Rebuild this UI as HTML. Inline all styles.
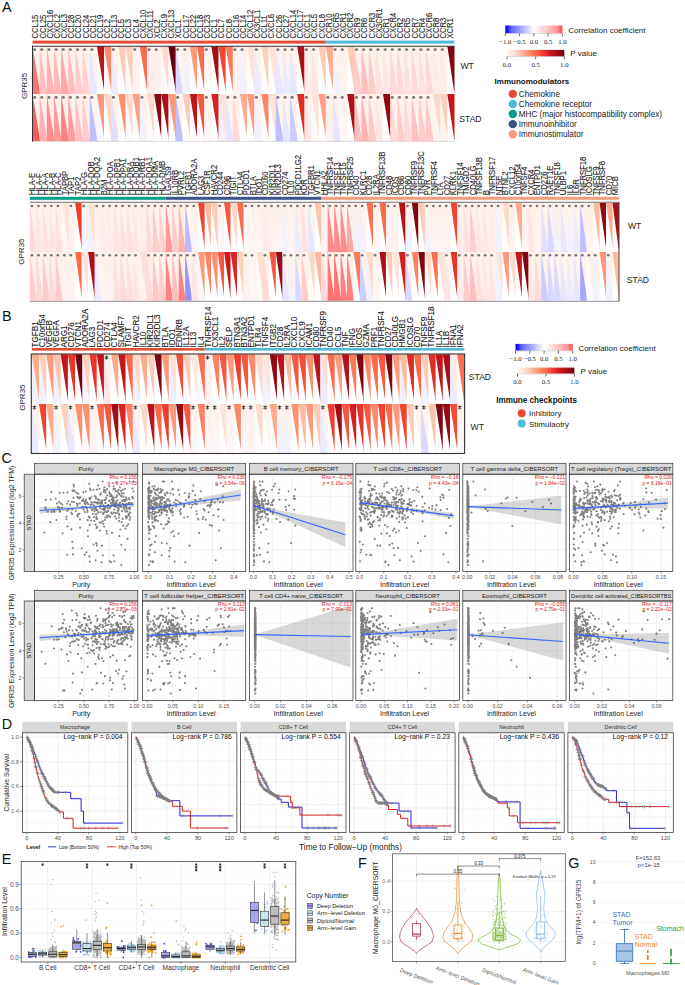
<!DOCTYPE html>
<html><head><meta charset="utf-8"><style>
html,body{margin:0;padding:0;background:#fff;width:685px;height:985px;overflow:hidden}
svg{display:block}
</style></head><body>
<svg width="685" height="985" viewBox="0 0 685 985" font-family="'Liberation Sans', sans-serif">
<rect width="685" height="985" fill="#fff"/>
<text x="2.0" y="11.8" font-family='Liberation Sans' font-size="14.4" fill="#111">A</text>
<g font-family='Liberation Sans' font-size="8.5" fill="#1a1a1a" stroke="#1a1a1a" stroke-width="0.1">
<text transform="translate(38.44,38.6) rotate(-90) scale(0.9,1)">CCL15</text>
<text transform="translate(45.59,38.6) rotate(-90) scale(0.9,1)">CCL25</text>
<text transform="translate(52.74,38.6) rotate(-90) scale(0.9,1)">CXCL16</text>
<text transform="translate(59.89,38.6) rotate(-90) scale(0.9,1)">CXCL2</text>
<text transform="translate(67.05,38.6) rotate(-90) scale(0.9,1)">CXCL3</text>
<text transform="translate(74.2,38.6) rotate(-90) scale(0.9,1)">CCL28</text>
<text transform="translate(81.35,38.6) rotate(-90) scale(0.9,1)">CCL20</text>
<text transform="translate(88.5,38.6) rotate(-90) scale(0.9,1)">CCL24</text>
<text transform="translate(95.66,38.6) rotate(-90) scale(0.9,1)">CCL21</text>
<text transform="translate(102.81,38.6) rotate(-90) scale(0.9,1)">CCL19</text>
<text transform="translate(109.96,38.6) rotate(-90) scale(0.9,1)">CCL2</text>
<text transform="translate(117.11,38.6) rotate(-90) scale(0.9,1)">CCL13</text>
<text transform="translate(124.27,38.6) rotate(-90) scale(0.9,1)">CCL5</text>
<text transform="translate(131.42,38.6) rotate(-90) scale(0.9,1)">CCL3</text>
<text transform="translate(138.57,38.6) rotate(-90) scale(0.9,1)">CCL4</text>
<text transform="translate(145.72,38.6) rotate(-90) scale(0.9,1)">CXCL10</text>
<text transform="translate(152.88,38.6) rotate(-90) scale(0.9,1)">CXCL11</text>
<text transform="translate(160.03,38.6) rotate(-90) scale(0.9,1)">XCL2</text>
<text transform="translate(167.18,38.6) rotate(-90) scale(0.9,1)">CXCL9</text>
<text transform="translate(174.33,38.6) rotate(-90) scale(0.9,1)">CXCL13</text>
<text transform="translate(181.49,38.6) rotate(-90) scale(0.9,1)">XCL1</text>
<text transform="translate(188.64,38.6) rotate(-90) scale(0.9,1)">CCL17</text>
<text transform="translate(195.79,38.6) rotate(-90) scale(0.9,1)">CCL22</text>
<text transform="translate(202.94,38.6) rotate(-90) scale(0.9,1)">CCL18</text>
<text transform="translate(210.1,38.6) rotate(-90) scale(0.9,1)">CCL23</text>
<text transform="translate(217.25,38.6) rotate(-90) scale(0.9,1)">CCL1</text>
<text transform="translate(224.4,38.6) rotate(-90) scale(0.9,1)">CCL7</text>
<text transform="translate(231.55,38.6) rotate(-90) scale(0.9,1)">CCL8</text>
<text transform="translate(238.71,38.6) rotate(-90) scale(0.9,1)">CCL16</text>
<text transform="translate(245.86,38.6) rotate(-90) scale(0.9,1)">CCL14</text>
<text transform="translate(253.01,38.6) rotate(-90) scale(0.9,1)">CXCL12</text>
<text transform="translate(260.17,38.6) rotate(-90) scale(0.9,1)">CX3CL1</text>
<text transform="translate(267.32,38.6) rotate(-90) scale(0.9,1)">CCL11</text>
<text transform="translate(274.47,38.6) rotate(-90) scale(0.9,1)">CXCL6</text>
<text transform="translate(281.62,38.6) rotate(-90) scale(0.9,1)">CCL26</text>
<text transform="translate(288.78,38.6) rotate(-90) scale(0.9,1)">CCL27</text>
<text transform="translate(295.93,38.6) rotate(-90) scale(0.9,1)">CXCL14</text>
<text transform="translate(303.08,38.6) rotate(-90) scale(0.9,1)">CXCL17</text>
<text transform="translate(310.23,38.6) rotate(-90) scale(0.9,1)">CXCL1</text>
<text transform="translate(317.39,38.6) rotate(-90) scale(0.9,1)">CXCL5</text>
<text transform="translate(324.54,38.6) rotate(-90) scale(0.9,1)">CXCL8</text>
<text transform="translate(331.69,38.6) rotate(-90) scale(0.9,1)">CCR10</text>
<text transform="translate(338.84,38.6) rotate(-90) scale(0.9,1)">CXCR5</text>
<text transform="translate(346,38.6) rotate(-90) scale(0.9,1)">CXCR1</text>
<text transform="translate(353.15,38.6) rotate(-90) scale(0.9,1)">CXCR2</text>
<text transform="translate(360.3,38.6) rotate(-90) scale(0.9,1)">CCR9</text>
<text transform="translate(367.45,38.6) rotate(-90) scale(0.9,1)">CCR6</text>
<text transform="translate(374.61,38.6) rotate(-90) scale(0.9,1)">CXCR3</text>
<text transform="translate(381.76,38.6) rotate(-90) scale(0.9,1)">CX3CR1</text>
<text transform="translate(388.91,38.6) rotate(-90) scale(0.9,1)">CCR1</text>
<text transform="translate(396.06,38.6) rotate(-90) scale(0.9,1)">CXCR4</text>
<text transform="translate(403.22,38.6) rotate(-90) scale(0.9,1)">CCR2</text>
<text transform="translate(410.37,38.6) rotate(-90) scale(0.9,1)">CCR5</text>
<text transform="translate(417.52,38.6) rotate(-90) scale(0.9,1)">CCR7</text>
<text transform="translate(424.67,38.6) rotate(-90) scale(0.9,1)">CCR4</text>
<text transform="translate(431.83,38.6) rotate(-90) scale(0.9,1)">CXCR6</text>
<text transform="translate(438.98,38.6) rotate(-90) scale(0.9,1)">CCR8</text>
<text transform="translate(446.13,38.6) rotate(-90) scale(0.9,1)">CCR3</text>
<text transform="translate(453.28,38.6) rotate(-90) scale(0.9,1)">XCR1</text>
</g>
<rect x="32.5" y="40.6" width="293.25" height="3" fill="#E64B35"/>
<rect x="325.75" y="40.6" width="128.75" height="3" fill="#4DBBD5"/>
<rect x="32.5" y="46.2" width="7.75" height="48.3" fill="#ff7373"/>
<polygon points="32.5,46.2 40.25,46.2 40.25,94" fill="#fff2eb"/>
<rect x="39.65" y="46.2" width="7.75" height="48.3" fill="#ffbfbf"/>
<polygon points="39.65,46.2 47.41,46.2 47.41,94" fill="#fff2eb"/>
<rect x="46.81" y="46.2" width="7.75" height="48.3" fill="#ffb2b2"/>
<polygon points="46.81,46.2 54.56,46.2 54.56,94" fill="#fff2eb"/>
<rect x="53.96" y="46.2" width="7.75" height="48.3" fill="#ffb8b8"/>
<polygon points="53.96,46.2 61.71,46.2 61.71,94" fill="#fff2eb"/>
<rect x="61.11" y="46.2" width="7.75" height="48.3" fill="#ffa6a6"/>
<polygon points="61.11,46.2 68.86,46.2 68.86,94" fill="#fff2eb"/>
<rect x="68.26" y="46.2" width="7.75" height="48.3" fill="#ffbfbf"/>
<polygon points="68.26,46.2 76.02,46.2 76.02,94" fill="#fff2eb"/>
<rect x="75.42" y="46.2" width="7.75" height="48.3" fill="#ffcccc"/>
<polygon points="75.42,46.2 83.17,46.2 83.17,94" fill="#fff2eb"/>
<rect x="82.57" y="46.2" width="7.75" height="48.3" fill="#ffd1d1"/>
<polygon points="82.57,46.2 90.32,46.2 90.32,94" fill="#fff2eb"/>
<rect x="89.72" y="46.2" width="7.75" height="48.3" fill="#e6e6ff"/>
<polygon points="89.72,46.2 97.47,46.2 97.47,94" fill="#fff2eb"/>
<rect x="96.87" y="46.2" width="7.75" height="48.3" fill="#ffffff"/>
<polygon points="96.87,46.2 104.63,46.2 104.63,94" fill="#bc141a"/>
<rect x="104.03" y="46.2" width="7.75" height="48.3" fill="#fffafa"/>
<polygon points="104.03,46.2 111.78,46.2 111.78,94" fill="#fc8a6a"/>
<rect x="111.18" y="46.2" width="7.75" height="48.3" fill="#ebebff"/>
<polygon points="111.18,46.2 118.93,46.2 118.93,94" fill="#fff2eb"/>
<rect x="118.33" y="46.2" width="7.75" height="48.3" fill="#ffffff"/>
<polygon points="118.33,46.2 126.08,46.2 126.08,94" fill="#fdcab5"/>
<rect x="125.48" y="46.2" width="7.75" height="48.3" fill="#fffafa"/>
<polygon points="125.48,46.2 133.24,46.2 133.24,94" fill="#fdd0bc"/>
<rect x="132.64" y="46.2" width="7.75" height="48.3" fill="#fff2f2"/>
<polygon points="132.64,46.2 140.39,46.2 140.39,94" fill="#fff2eb"/>
<rect x="139.79" y="46.2" width="7.75" height="48.3" fill="#ffffff"/>
<polygon points="139.79,46.2 147.54,46.2 147.54,94" fill="#fb6a4a"/>
<rect x="146.94" y="46.2" width="7.75" height="48.3" fill="#ffebeb"/>
<polygon points="146.94,46.2 154.69,46.2 154.69,94" fill="#fff2eb"/>
<rect x="154.09" y="46.2" width="7.75" height="48.3" fill="#fff0f0"/>
<polygon points="154.09,46.2 161.85,46.2 161.85,94" fill="#fff2eb"/>
<rect x="161.25" y="46.2" width="7.75" height="48.3" fill="#fff7f7"/>
<polygon points="161.25,46.2 169,46.2 169,94" fill="#fed9c8"/>
<rect x="168.4" y="46.2" width="7.75" height="48.3" fill="#ffffff"/>
<polygon points="168.4,46.2 176.15,46.2 176.15,94" fill="#67000d"/>
<rect x="175.55" y="46.2" width="7.75" height="48.3" fill="#d9d9ff"/>
<polygon points="175.55,46.2 183.3,46.2 183.3,94" fill="#fff2eb"/>
<rect x="182.7" y="46.2" width="7.75" height="48.3" fill="#f2f2ff"/>
<polygon points="182.7,46.2 190.46,46.2 190.46,94" fill="#fff2eb"/>
<rect x="189.86" y="46.2" width="7.75" height="48.3" fill="#ffffff"/>
<polygon points="189.86,46.2 197.61,46.2 197.61,94" fill="#fc9a7b"/>
<rect x="197.01" y="46.2" width="7.75" height="48.3" fill="#ffffff"/>
<polygon points="197.01,46.2 204.76,46.2 204.76,94" fill="#fb6a4a"/>
<rect x="204.16" y="46.2" width="7.75" height="48.3" fill="#fffafa"/>
<polygon points="204.16,46.2 211.91,46.2 211.91,94" fill="#fff2eb"/>
<rect x="211.31" y="46.2" width="7.75" height="48.3" fill="#ffffff"/>
<polygon points="211.31,46.2 219.07,46.2 219.07,94" fill="#a30e15"/>
<rect x="218.47" y="46.2" width="7.75" height="48.3" fill="#ffffff"/>
<polygon points="218.47,46.2 226.22,46.2 226.22,94" fill="#f14432"/>
<rect x="225.62" y="46.2" width="7.75" height="48.3" fill="#ffffff"/>
<polygon points="225.62,46.2 233.37,46.2 233.37,94" fill="#fb7a5a"/>
<rect x="232.77" y="46.2" width="7.75" height="48.3" fill="#fff2f2"/>
<polygon points="232.77,46.2 240.52,46.2 240.52,94" fill="#fff2eb"/>
<rect x="239.92" y="46.2" width="7.75" height="48.3" fill="#f2f2ff"/>
<polygon points="239.92,46.2 247.68,46.2 247.68,94" fill="#fff2eb"/>
<rect x="247.08" y="46.2" width="7.75" height="48.3" fill="#ffffff"/>
<polygon points="247.08,46.2 254.83,46.2 254.83,94" fill="#fee1d3"/>
<rect x="254.23" y="46.2" width="7.75" height="48.3" fill="#ebebff"/>
<polygon points="254.23,46.2 261.98,46.2 261.98,94" fill="#fff2eb"/>
<rect x="261.38" y="46.2" width="7.75" height="48.3" fill="#ffffff"/>
<polygon points="261.38,46.2 269.13,46.2 269.13,94" fill="#fdd0bc"/>
<rect x="268.53" y="46.2" width="7.75" height="48.3" fill="#ffffff"/>
<polygon points="268.53,46.2 276.29,46.2 276.29,94" fill="#fee4d8"/>
<rect x="275.69" y="46.2" width="7.75" height="48.3" fill="#e6e6ff"/>
<polygon points="275.69,46.2 283.44,46.2 283.44,94" fill="#fff2eb"/>
<rect x="282.84" y="46.2" width="7.75" height="48.3" fill="#ebebff"/>
<polygon points="282.84,46.2 290.59,46.2 290.59,94" fill="#fff2eb"/>
<rect x="289.99" y="46.2" width="7.75" height="48.3" fill="#e6e6ff"/>
<polygon points="289.99,46.2 297.74,46.2 297.74,94" fill="#fff2eb"/>
<rect x="297.14" y="46.2" width="7.75" height="48.3" fill="#ffffff"/>
<polygon points="297.14,46.2 304.9,46.2 304.9,94" fill="#ad1117"/>
<rect x="304.3" y="46.2" width="7.75" height="48.3" fill="#ffebeb"/>
<polygon points="304.3,46.2 312.05,46.2 312.05,94" fill="#fff2eb"/>
<rect x="311.45" y="46.2" width="7.75" height="48.3" fill="#ffe6e6"/>
<polygon points="311.45,46.2 319.2,46.2 319.2,94" fill="#fff2eb"/>
<rect x="318.6" y="46.2" width="7.75" height="48.3" fill="#ffffff"/>
<polygon points="318.6,46.2 326.35,46.2 326.35,94" fill="#fdcab5"/>
<rect x="325.75" y="46.2" width="7.75" height="48.3" fill="#ffffff"/>
<polygon points="325.75,46.2 333.51,46.2 333.51,94" fill="#fcab8e"/>
<rect x="332.91" y="46.2" width="7.75" height="48.3" fill="#f2f2ff"/>
<polygon points="332.91,46.2 340.66,46.2 340.66,94" fill="#fff2eb"/>
<rect x="340.06" y="46.2" width="7.75" height="48.3" fill="#fff2f2"/>
<polygon points="340.06,46.2 347.81,46.2 347.81,94" fill="#fff2eb"/>
<rect x="347.21" y="46.2" width="7.75" height="48.3" fill="#ffffff"/>
<polygon points="347.21,46.2 354.96,46.2 354.96,94" fill="#fdcab5"/>
<rect x="354.36" y="46.2" width="7.75" height="48.3" fill="#ffcccc"/>
<polygon points="354.36,46.2 362.12,46.2 362.12,94" fill="#fff2eb"/>
<rect x="361.52" y="46.2" width="7.75" height="48.3" fill="#ffbfbf"/>
<polygon points="361.52,46.2 369.27,46.2 369.27,94" fill="#fff2eb"/>
<rect x="368.67" y="46.2" width="7.75" height="48.3" fill="#ffcccc"/>
<polygon points="368.67,46.2 376.42,46.2 376.42,94" fill="#fff2eb"/>
<rect x="375.82" y="46.2" width="7.75" height="48.3" fill="#ffe0e0"/>
<polygon points="375.82,46.2 383.57,46.2 383.57,94" fill="#fff2eb"/>
<rect x="382.97" y="46.2" width="7.75" height="48.3" fill="#ffe6e6"/>
<polygon points="382.97,46.2 390.73,46.2 390.73,94" fill="#fff2eb"/>
<rect x="390.13" y="46.2" width="7.75" height="48.3" fill="#ffd9d9"/>
<polygon points="390.13,46.2 397.88,46.2 397.88,94" fill="#fff2eb"/>
<rect x="397.28" y="46.2" width="7.75" height="48.3" fill="#ffd9d9"/>
<polygon points="397.28,46.2 405.03,46.2 405.03,94" fill="#fff2eb"/>
<rect x="404.43" y="46.2" width="7.75" height="48.3" fill="#ffe0e0"/>
<polygon points="404.43,46.2 412.18,46.2 412.18,94" fill="#fff2eb"/>
<rect x="411.58" y="46.2" width="7.75" height="48.3" fill="#ffd9d9"/>
<polygon points="411.58,46.2 419.34,46.2 419.34,94" fill="#fff2eb"/>
<rect x="418.74" y="46.2" width="7.75" height="48.3" fill="#ffe0e0"/>
<polygon points="418.74,46.2 426.49,46.2 426.49,94" fill="#fff2eb"/>
<rect x="425.89" y="46.2" width="7.75" height="48.3" fill="#ffd9d9"/>
<polygon points="425.89,46.2 433.64,46.2 433.64,94" fill="#fff2eb"/>
<rect x="433.04" y="46.2" width="7.75" height="48.3" fill="#ffebeb"/>
<polygon points="433.04,46.2 440.79,46.2 440.79,94" fill="#fff2eb"/>
<rect x="440.19" y="46.2" width="7.75" height="48.3" fill="#ffebeb"/>
<polygon points="440.19,46.2 447.95,46.2 447.95,94" fill="#fff2eb"/>
<rect x="447.35" y="46.2" width="7.15" height="48.3" fill="#ffffff"/>
<polygon points="447.35,46.2 454.5,46.2 454.5,94" fill="#800610"/>
<ellipse cx="34.65" cy="49.6" rx="1.57" ry="1.36" fill="#777"/>
<ellipse cx="41.8" cy="49.6" rx="1.57" ry="1.36" fill="#777"/>
<ellipse cx="48.96" cy="49.6" rx="1.57" ry="1.36" fill="#777"/>
<ellipse cx="56.11" cy="49.6" rx="1.57" ry="1.36" fill="#777"/>
<ellipse cx="63.26" cy="49.6" rx="1.57" ry="1.36" fill="#777"/>
<ellipse cx="70.41" cy="49.6" rx="1.57" ry="1.36" fill="#777"/>
<ellipse cx="77.57" cy="49.6" rx="1.57" ry="1.36" fill="#777"/>
<ellipse cx="84.72" cy="49.6" rx="1.57" ry="1.36" fill="#777"/>
<ellipse cx="91.87" cy="49.6" rx="1.57" ry="1.36" fill="#777"/>
<ellipse cx="113.33" cy="49.6" rx="1.57" ry="1.36" fill="#777"/>
<ellipse cx="134.79" cy="49.6" rx="1.57" ry="1.36" fill="#777"/>
<ellipse cx="149.09" cy="49.6" rx="1.57" ry="1.36" fill="#777"/>
<ellipse cx="156.24" cy="49.6" rx="1.57" ry="1.36" fill="#777"/>
<ellipse cx="177.7" cy="49.6" rx="1.57" ry="1.36" fill="#777"/>
<ellipse cx="184.85" cy="49.6" rx="1.57" ry="1.36" fill="#777"/>
<ellipse cx="206.31" cy="49.6" rx="1.57" ry="1.36" fill="#777"/>
<ellipse cx="234.92" cy="49.6" rx="1.57" ry="1.36" fill="#777"/>
<ellipse cx="242.07" cy="49.6" rx="1.57" ry="1.36" fill="#777"/>
<ellipse cx="256.38" cy="49.6" rx="1.57" ry="1.36" fill="#777"/>
<ellipse cx="277.84" cy="49.6" rx="1.57" ry="1.36" fill="#777"/>
<ellipse cx="284.99" cy="49.6" rx="1.57" ry="1.36" fill="#777"/>
<ellipse cx="292.14" cy="49.6" rx="1.57" ry="1.36" fill="#777"/>
<ellipse cx="306.45" cy="49.6" rx="1.57" ry="1.36" fill="#777"/>
<ellipse cx="313.6" cy="49.6" rx="1.57" ry="1.36" fill="#777"/>
<ellipse cx="335.06" cy="49.6" rx="1.57" ry="1.36" fill="#777"/>
<ellipse cx="342.21" cy="49.6" rx="1.57" ry="1.36" fill="#777"/>
<ellipse cx="356.51" cy="49.6" rx="1.57" ry="1.36" fill="#777"/>
<ellipse cx="363.67" cy="49.6" rx="1.57" ry="1.36" fill="#777"/>
<ellipse cx="370.82" cy="49.6" rx="1.57" ry="1.36" fill="#777"/>
<ellipse cx="377.97" cy="49.6" rx="1.57" ry="1.36" fill="#777"/>
<ellipse cx="385.12" cy="49.6" rx="1.57" ry="1.36" fill="#777"/>
<ellipse cx="392.28" cy="49.6" rx="1.57" ry="1.36" fill="#777"/>
<ellipse cx="399.43" cy="49.6" rx="1.57" ry="1.36" fill="#777"/>
<ellipse cx="406.58" cy="49.6" rx="1.57" ry="1.36" fill="#777"/>
<ellipse cx="413.73" cy="49.6" rx="1.57" ry="1.36" fill="#777"/>
<ellipse cx="420.89" cy="49.6" rx="1.57" ry="1.36" fill="#777"/>
<ellipse cx="428.04" cy="49.6" rx="1.57" ry="1.36" fill="#777"/>
<ellipse cx="435.19" cy="49.6" rx="1.57" ry="1.36" fill="#777"/>
<ellipse cx="442.34" cy="49.6" rx="1.57" ry="1.36" fill="#777"/>
<rect x="32.5" y="94" width="7.75" height="47.2" fill="#ff5959"/>
<polygon points="32.5,94 40.25,94 40.25,141.2" fill="#fff2eb"/>
<rect x="39.65" y="94" width="7.75" height="47.2" fill="#ffb2b2"/>
<polygon points="39.65,94 47.41,94 47.41,141.2" fill="#fff2eb"/>
<rect x="46.81" y="94" width="7.75" height="47.2" fill="#ff8c8c"/>
<polygon points="46.81,94 54.56,94 54.56,141.2" fill="#fff2eb"/>
<rect x="53.96" y="94" width="7.75" height="47.2" fill="#ff9999"/>
<polygon points="53.96,94 61.71,94 61.71,141.2" fill="#fff2eb"/>
<rect x="61.11" y="94" width="7.75" height="47.2" fill="#ff8080"/>
<polygon points="61.11,94 68.86,94 68.86,141.2" fill="#fff2eb"/>
<rect x="68.26" y="94" width="7.75" height="47.2" fill="#ff9e9e"/>
<polygon points="68.26,94 76.02,94 76.02,141.2" fill="#fff2eb"/>
<rect x="75.42" y="94" width="7.75" height="47.2" fill="#ffbfbf"/>
<polygon points="75.42,94 83.17,94 83.17,141.2" fill="#fff2eb"/>
<rect x="82.57" y="94" width="7.75" height="47.2" fill="#ffcccc"/>
<polygon points="82.57,94 90.32,94 90.32,141.2" fill="#fff2eb"/>
<rect x="89.72" y="94" width="7.75" height="47.2" fill="#bfbfff"/>
<polygon points="89.72,94 97.47,94 97.47,141.2" fill="#fff2eb"/>
<rect x="96.87" y="94" width="7.75" height="47.2" fill="#f7f7ff"/>
<polygon points="96.87,94 104.63,94 104.63,141.2" fill="#fc9a7b"/>
<rect x="104.03" y="94" width="7.75" height="47.2" fill="#ffffff"/>
<polygon points="104.03,94 111.78,94 111.78,141.2" fill="#fed9c8"/>
<rect x="111.18" y="94" width="7.75" height="47.2" fill="#e0e0ff"/>
<polygon points="111.18,94 118.93,94 118.93,141.2" fill="#fff2eb"/>
<rect x="118.33" y="94" width="7.75" height="47.2" fill="#ffffff"/>
<polygon points="118.33,94 126.08,94 126.08,141.2" fill="#fc9070"/>
<rect x="125.48" y="94" width="7.75" height="47.2" fill="#fafaff"/>
<polygon points="125.48,94 133.24,94 133.24,141.2" fill="#fed9c8"/>
<rect x="132.64" y="94" width="7.75" height="47.2" fill="#ffffff"/>
<polygon points="132.64,94 140.39,94 140.39,141.2" fill="#fca183"/>
<rect x="139.79" y="94" width="7.75" height="47.2" fill="#f2f2ff"/>
<polygon points="139.79,94 147.54,94 147.54,141.2" fill="#fff2eb"/>
<rect x="146.94" y="94" width="7.75" height="47.2" fill="#fffafa"/>
<polygon points="146.94,94 154.69,94 154.69,141.2" fill="#fed9c8"/>
<rect x="154.09" y="94" width="7.75" height="47.2" fill="#ffffff"/>
<polygon points="154.09,94 161.85,94 161.85,141.2" fill="#800610"/>
<rect x="161.25" y="94" width="7.75" height="47.2" fill="#ffffff"/>
<polygon points="161.25,94 169,94 169,141.2" fill="#ad1117"/>
<rect x="168.4" y="94" width="7.75" height="47.2" fill="#ffffff"/>
<polygon points="168.4,94 176.15,94 176.15,141.2" fill="#fc9a7b"/>
<rect x="175.55" y="94" width="7.75" height="47.2" fill="#bfbfff"/>
<polygon points="175.55,94 183.3,94 183.3,141.2" fill="#fff2eb"/>
<rect x="182.7" y="94" width="7.75" height="47.2" fill="#ffffff"/>
<polygon points="182.7,94 190.46,94 190.46,141.2" fill="#fdcab5"/>
<rect x="189.86" y="94" width="7.75" height="47.2" fill="#ffffff"/>
<polygon points="189.86,94 197.61,94 197.61,141.2" fill="#bc141a"/>
<rect x="197.01" y="94" width="7.75" height="47.2" fill="#ffffff"/>
<polygon points="197.01,94 204.76,94 204.76,141.2" fill="#f6573e"/>
<rect x="204.16" y="94" width="7.75" height="47.2" fill="#fff7f7"/>
<polygon points="204.16,94 211.91,94 211.91,141.2" fill="#fff2eb"/>
<rect x="211.31" y="94" width="7.75" height="47.2" fill="#ffffff"/>
<polygon points="211.31,94 219.07,94 219.07,141.2" fill="#d42021"/>
<rect x="218.47" y="94" width="7.75" height="47.2" fill="#f2f2ff"/>
<polygon points="218.47,94 226.22,94 226.22,141.2" fill="#fee4d8"/>
<rect x="225.62" y="94" width="7.75" height="47.2" fill="#e6e6ff"/>
<polygon points="225.62,94 233.37,94 233.37,141.2" fill="#fff2eb"/>
<rect x="232.77" y="94" width="7.75" height="47.2" fill="#ffd9d9"/>
<polygon points="232.77,94 240.52,94 240.52,141.2" fill="#fff2eb"/>
<rect x="239.92" y="94" width="7.75" height="47.2" fill="#ffffff"/>
<polygon points="239.92,94 247.68,94 247.68,141.2" fill="#fcab8e"/>
<rect x="247.08" y="94" width="7.75" height="47.2" fill="#ffffff"/>
<polygon points="247.08,94 254.83,94 254.83,141.2" fill="#fc9a7b"/>
<rect x="254.23" y="94" width="7.75" height="47.2" fill="#f2f2ff"/>
<polygon points="254.23,94 261.98,94 261.98,141.2" fill="#fff2eb"/>
<rect x="261.38" y="94" width="7.75" height="47.2" fill="#ffffff"/>
<polygon points="261.38,94 269.13,94 269.13,141.2" fill="#fc8464"/>
<rect x="268.53" y="94" width="7.75" height="47.2" fill="#ffffff"/>
<polygon points="268.53,94 276.29,94 276.29,141.2" fill="#fee4d8"/>
<rect x="275.69" y="94" width="7.75" height="47.2" fill="#bfbfff"/>
<polygon points="275.69,94 283.44,94 283.44,141.2" fill="#fff2eb"/>
<rect x="282.84" y="94" width="7.75" height="47.2" fill="#e6e6ff"/>
<polygon points="282.84,94 290.59,94 290.59,141.2" fill="#fff2eb"/>
<rect x="289.99" y="94" width="7.75" height="47.2" fill="#ccccff"/>
<polygon points="289.99,94 297.74,94 297.74,141.2" fill="#fff2eb"/>
<rect x="297.14" y="94" width="7.75" height="47.2" fill="#ffffff"/>
<polygon points="297.14,94 304.9,94 304.9,141.2" fill="#df2c25"/>
<rect x="304.3" y="94" width="7.75" height="47.2" fill="#ffe6e6"/>
<polygon points="304.3,94 312.05,94 312.05,141.2" fill="#fff2eb"/>
<rect x="311.45" y="94" width="7.75" height="47.2" fill="#fffafa"/>
<polygon points="311.45,94 319.2,94 319.2,141.2" fill="#fee4d8"/>
<rect x="318.6" y="94" width="7.75" height="47.2" fill="#ffffff"/>
<polygon points="318.6,94 326.35,94 326.35,141.2" fill="#fca183"/>
<rect x="325.75" y="94" width="7.75" height="47.2" fill="#fff2f2"/>
<polygon points="325.75,94 333.51,94 333.51,141.2" fill="#fff2eb"/>
<rect x="332.91" y="94" width="7.75" height="47.2" fill="#e6e6ff"/>
<polygon points="332.91,94 340.66,94 340.66,141.2" fill="#fff2eb"/>
<rect x="340.06" y="94" width="7.75" height="47.2" fill="#fff7f7"/>
<polygon points="340.06,94 347.81,94 347.81,141.2" fill="#fff2eb"/>
<rect x="347.21" y="94" width="7.75" height="47.2" fill="#ffffff"/>
<polygon points="347.21,94 354.96,94 354.96,141.2" fill="#ad1117"/>
<rect x="354.36" y="94" width="7.75" height="47.2" fill="#ffbfbf"/>
<polygon points="354.36,94 362.12,94 362.12,141.2" fill="#fff2eb"/>
<rect x="361.52" y="94" width="7.75" height="47.2" fill="#ffb2b2"/>
<polygon points="361.52,94 369.27,94 369.27,141.2" fill="#fff2eb"/>
<rect x="368.67" y="94" width="7.75" height="47.2" fill="#ffc7c7"/>
<polygon points="368.67,94 376.42,94 376.42,141.2" fill="#fff2eb"/>
<rect x="375.82" y="94" width="7.75" height="47.2" fill="#ffe6e6"/>
<polygon points="375.82,94 383.57,94 383.57,141.2" fill="#fff2eb"/>
<rect x="382.97" y="94" width="7.75" height="47.2" fill="#ffffff"/>
<polygon points="382.97,94 390.73,94 390.73,141.2" fill="#8f0a12"/>
<rect x="390.13" y="94" width="7.75" height="47.2" fill="#ffd9d9"/>
<polygon points="390.13,94 397.88,94 397.88,141.2" fill="#fff2eb"/>
<rect x="397.28" y="94" width="7.75" height="47.2" fill="#ffcccc"/>
<polygon points="397.28,94 405.03,94 405.03,141.2" fill="#fff2eb"/>
<rect x="404.43" y="94" width="7.75" height="47.2" fill="#ffd9d9"/>
<polygon points="404.43,94 412.18,94 412.18,141.2" fill="#fff2eb"/>
<rect x="411.58" y="94" width="7.75" height="47.2" fill="#ffbfbf"/>
<polygon points="411.58,94 419.34,94 419.34,141.2" fill="#fff2eb"/>
<rect x="418.74" y="94" width="7.75" height="47.2" fill="#ffcccc"/>
<polygon points="418.74,94 426.49,94 426.49,141.2" fill="#fff2eb"/>
<rect x="425.89" y="94" width="7.75" height="47.2" fill="#ffc7c7"/>
<polygon points="425.89,94 433.64,94 433.64,141.2" fill="#fff2eb"/>
<rect x="433.04" y="94" width="7.75" height="47.2" fill="#fff2f2"/>
<polygon points="433.04,94 440.79,94 440.79,141.2" fill="#fed9c8"/>
<rect x="440.19" y="94" width="7.75" height="47.2" fill="#fff2f2"/>
<polygon points="440.19,94 447.95,94 447.95,141.2" fill="#fdd0bc"/>
<rect x="447.35" y="94" width="7.15" height="47.2" fill="#ffffff"/>
<polygon points="447.35,94 454.5,94 454.5,141.2" fill="#c2161b"/>
<ellipse cx="34.65" cy="97.4" rx="1.57" ry="1.36" fill="#777"/>
<ellipse cx="41.8" cy="97.4" rx="1.57" ry="1.36" fill="#777"/>
<ellipse cx="48.96" cy="97.4" rx="1.57" ry="1.36" fill="#777"/>
<ellipse cx="56.11" cy="97.4" rx="1.57" ry="1.36" fill="#777"/>
<ellipse cx="63.26" cy="97.4" rx="1.57" ry="1.36" fill="#777"/>
<ellipse cx="70.41" cy="97.4" rx="1.57" ry="1.36" fill="#777"/>
<ellipse cx="77.57" cy="97.4" rx="1.57" ry="1.36" fill="#777"/>
<ellipse cx="84.72" cy="97.4" rx="1.57" ry="1.36" fill="#777"/>
<ellipse cx="91.87" cy="97.4" rx="1.57" ry="1.36" fill="#777"/>
<ellipse cx="113.33" cy="97.4" rx="1.57" ry="1.36" fill="#777"/>
<ellipse cx="141.94" cy="97.4" rx="1.57" ry="1.36" fill="#777"/>
<ellipse cx="177.7" cy="97.4" rx="1.57" ry="1.36" fill="#777"/>
<ellipse cx="206.31" cy="97.4" rx="1.57" ry="1.36" fill="#777"/>
<ellipse cx="227.77" cy="97.4" rx="1.57" ry="1.36" fill="#777"/>
<ellipse cx="234.92" cy="97.4" rx="1.57" ry="1.36" fill="#777"/>
<ellipse cx="256.38" cy="97.4" rx="1.57" ry="1.36" fill="#777"/>
<ellipse cx="277.84" cy="97.4" rx="1.57" ry="1.36" fill="#777"/>
<ellipse cx="284.99" cy="97.4" rx="1.57" ry="1.36" fill="#777"/>
<ellipse cx="292.14" cy="97.4" rx="1.57" ry="1.36" fill="#777"/>
<ellipse cx="306.45" cy="97.4" rx="1.57" ry="1.36" fill="#777"/>
<ellipse cx="327.9" cy="97.4" rx="1.57" ry="1.36" fill="#777"/>
<ellipse cx="335.06" cy="97.4" rx="1.57" ry="1.36" fill="#777"/>
<ellipse cx="342.21" cy="97.4" rx="1.57" ry="1.36" fill="#777"/>
<ellipse cx="356.51" cy="97.4" rx="1.57" ry="1.36" fill="#777"/>
<ellipse cx="363.67" cy="97.4" rx="1.57" ry="1.36" fill="#777"/>
<ellipse cx="370.82" cy="97.4" rx="1.57" ry="1.36" fill="#777"/>
<ellipse cx="377.97" cy="97.4" rx="1.57" ry="1.36" fill="#777"/>
<ellipse cx="392.28" cy="97.4" rx="1.57" ry="1.36" fill="#777"/>
<ellipse cx="399.43" cy="97.4" rx="1.57" ry="1.36" fill="#777"/>
<ellipse cx="406.58" cy="97.4" rx="1.57" ry="1.36" fill="#777"/>
<ellipse cx="413.73" cy="97.4" rx="1.57" ry="1.36" fill="#777"/>
<ellipse cx="420.89" cy="97.4" rx="1.57" ry="1.36" fill="#777"/>
<ellipse cx="428.04" cy="97.4" rx="1.57" ry="1.36" fill="#777"/>
<line x1="32.5" x2="454.5" y1="141.4" y2="141.4" stroke="#d0d0d0" stroke-width="0.8"/>
<line x1="32" x2="454.5" y1="46.3" y2="46.3" stroke="#333" stroke-width="1.1"/>
<line x1="32.5" x2="32.5" y1="45.5" y2="141.6" stroke="#333" stroke-width="1"/>
<g font-family='Liberation Sans' font-size="8.6" fill="#222">
<text x="460.5" y="68.7">WT</text><text x="459.3" y="121.7">STAD</text>
<text transform="translate(27.1,99.1) rotate(-90)" font-size="8">GPR35</text>
</g>
<g font-family='Liberation Sans' font-size="8.5" fill="#1a1a1a" stroke="#1a1a1a" stroke-width="0.1">
<text transform="translate(35.4,195.3) rotate(-90) scale(0.9,1)">HLA-E</text>
<text transform="translate(41.87,195.3) rotate(-90) scale(0.9,1)">HLA-F</text>
<text transform="translate(48.35,195.3) rotate(-90) scale(0.9,1)">HLA-A</text>
<text transform="translate(54.82,195.3) rotate(-90) scale(0.9,1)">HLA-B</text>
<text transform="translate(61.3,195.3) rotate(-90) scale(0.9,1)">HLA-C</text>
<text transform="translate(67.77,195.3) rotate(-90) scale(0.9,1)">TAPBP</text>
<text transform="translate(74.25,195.3) rotate(-90) scale(0.9,1)">TAP1</text>
<text transform="translate(80.72,195.3) rotate(-90) scale(0.9,1)">TAP2</text>
<text transform="translate(87.2,195.3) rotate(-90) scale(0.9,1)">HLA-G</text>
<text transform="translate(93.67,195.3) rotate(-90) scale(0.9,1)">HLA-DOB</text>
<text transform="translate(100.14,195.3) rotate(-90) scale(0.9,1)">HLA-DQA2</text>
<text transform="translate(106.62,195.3) rotate(-90) scale(0.9,1)">B2M</text>
<text transform="translate(113.09,195.3) rotate(-90) scale(0.9,1)">HLA-DOA</text>
<text transform="translate(119.57,195.3) rotate(-90) scale(0.9,1)">HLA-DPB1</text>
<text transform="translate(126.04,195.3) rotate(-90) scale(0.9,1)">HLA-DPA1</text>
<text transform="translate(132.52,195.3) rotate(-90) scale(0.9,1)">HLA-DRA</text>
<text transform="translate(138.99,195.3) rotate(-90) scale(0.9,1)">HLA-DQB1</text>
<text transform="translate(145.47,195.3) rotate(-90) scale(0.9,1)">HLA-DRB1</text>
<text transform="translate(151.94,195.3) rotate(-90) scale(0.9,1)">HLA-DQA1</text>
<text transform="translate(158.42,195.3) rotate(-90) scale(0.9,1)">HLA-DMA</text>
<text transform="translate(164.89,195.3) rotate(-90) scale(0.9,1)">HLA-DMB</text>
<text transform="translate(171.37,195.3) rotate(-90) scale(0.9,1)">LGALS9</text>
<text transform="translate(177.84,195.3) rotate(-90) scale(0.9,1)">IL10RB</text>
<text transform="translate(184.32,195.3) rotate(-90) scale(0.9,1)">PVRL2</text>
<text transform="translate(190.79,195.3) rotate(-90) scale(0.9,1)">TGFB1</text>
<text transform="translate(197.27,195.3) rotate(-90) scale(0.9,1)">ADORA2A</text>
<text transform="translate(203.74,195.3) rotate(-90) scale(0.9,1)">LAG3</text>
<text transform="translate(210.21,195.3) rotate(-90) scale(0.9,1)">CSF1R</text>
<text transform="translate(216.69,195.3) rotate(-90) scale(0.9,1)">HAVCR2</text>
<text transform="translate(223.16,195.3) rotate(-90) scale(0.9,1)">CD244</text>
<text transform="translate(229.64,195.3) rotate(-90) scale(0.9,1)">CD96</text>
<text transform="translate(236.11,195.3) rotate(-90) scale(0.9,1)">TIGIT</text>
<text transform="translate(242.59,195.3) rotate(-90) scale(0.9,1)">CTLA4</text>
<text transform="translate(249.06,195.3) rotate(-90) scale(0.9,1)">PDCD1</text>
<text transform="translate(255.54,195.3) rotate(-90) scale(0.9,1)">BTLA</text>
<text transform="translate(262.01,195.3) rotate(-90) scale(0.9,1)">IDO1</text>
<text transform="translate(268.49,195.3) rotate(-90) scale(0.9,1)">CD160</text>
<text transform="translate(274.96,195.3) rotate(-90) scale(0.9,1)">KIR2DL1</text>
<text transform="translate(281.44,195.3) rotate(-90) scale(0.9,1)">KIR2DL3</text>
<text transform="translate(287.91,195.3) rotate(-90) scale(0.9,1)">CD274</text>
<text transform="translate(294.39,195.3) rotate(-90) scale(0.9,1)">IL10</text>
<text transform="translate(300.86,195.3) rotate(-90) scale(0.9,1)">PDCD1LG2</text>
<text transform="translate(307.34,195.3) rotate(-90) scale(0.9,1)">KDR</text>
<text transform="translate(313.81,195.3) rotate(-90) scale(0.9,1)">TGFBR1</text>
<text transform="translate(320.29,195.3) rotate(-90) scale(0.9,1)">VTCN1</text>
<text transform="translate(326.76,195.3) rotate(-90) scale(0.9,1)">HHLA2</text>
<text transform="translate(333.23,195.3) rotate(-90) scale(0.9,1)">TNFRSF14</text>
<text transform="translate(339.71,195.3) rotate(-90) scale(0.9,1)">TNFSF13</text>
<text transform="translate(346.18,195.3) rotate(-90) scale(0.9,1)">TNFSF15</text>
<text transform="translate(352.66,195.3) rotate(-90) scale(0.9,1)">TNFRSF25</text>
<text transform="translate(359.13,195.3) rotate(-90) scale(0.9,1)">CD40</text>
<text transform="translate(365.61,195.3) rotate(-90) scale(0.9,1)">KLRC1</text>
<text transform="translate(372.08,195.3) rotate(-90) scale(0.9,1)">CD28</text>
<text transform="translate(378.56,195.3) rotate(-90) scale(0.9,1)">IL2RA</text>
<text transform="translate(385.03,195.3) rotate(-90) scale(0.9,1)">TNFRSF13B</text>
<text transform="translate(391.51,195.3) rotate(-90) scale(0.9,1)">CD48</text>
<text transform="translate(397.98,195.3) rotate(-90) scale(0.9,1)">ICOS</text>
<text transform="translate(404.46,195.3) rotate(-90) scale(0.9,1)">CD86</text>
<text transform="translate(410.93,195.3) rotate(-90) scale(0.9,1)">CD80</text>
<text transform="translate(417.41,195.3) rotate(-90) scale(0.9,1)">TNFRSF9</text>
<text transform="translate(423.88,195.3) rotate(-90) scale(0.9,1)">TNFRSF13C</text>
<text transform="translate(430.36,195.3) rotate(-90) scale(0.9,1)">PVR</text>
<text transform="translate(436.83,195.3) rotate(-90) scale(0.9,1)">TNFRSF4</text>
<text transform="translate(443.31,195.3) rotate(-90) scale(0.9,1)">LTA</text>
<text transform="translate(449.78,195.3) rotate(-90) scale(0.9,1)">CD27</text>
<text transform="translate(456.25,195.3) rotate(-90) scale(0.9,1)">KLRK1</text>
<text transform="translate(462.73,195.3) rotate(-90) scale(0.9,1)">TNFSF14</text>
<text transform="translate(469.2,195.3) rotate(-90) scale(0.9,1)">TMIGD2</text>
<text transform="translate(475.68,195.3) rotate(-90) scale(0.9,1)">CD40LG</text>
<text transform="translate(482.15,195.3) rotate(-90) scale(0.9,1)">TNFSF13B</text>
<text transform="translate(488.63,195.3) rotate(-90) scale(0.9,1)">B</text>
<text transform="translate(495.1,195.3) rotate(-90) scale(0.9,1)">TNFRSF17</text>
<text transform="translate(501.58,195.3) rotate(-90) scale(0.9,1)">NT5E</text>
<text transform="translate(508.05,195.3) rotate(-90) scale(0.9,1)">BTNL2</text>
<text transform="translate(514.53,195.3) rotate(-90) scale(0.9,1)">CXCL12</text>
<text transform="translate(521,195.3) rotate(-90) scale(0.9,1)">C10orf54</text>
<text transform="translate(527.48,195.3) rotate(-90) scale(0.9,1)">TNFSF4</text>
<text transform="translate(533.95,195.3) rotate(-90) scale(0.9,1)">CXCR4</text>
<text transform="translate(540.43,195.3) rotate(-90) scale(0.9,1)">ENTPD1</text>
<text transform="translate(546.9,195.3) rotate(-90) scale(0.9,1)">CD276</text>
<text transform="translate(553.38,195.3) rotate(-90) scale(0.9,1)">RAET1E</text>
<text transform="translate(559.85,195.3) rotate(-90) scale(0.9,1)">TNFSF18</text>
<text transform="translate(566.32,195.3) rotate(-90) scale(0.9,1)">ULBP1</text>
<text transform="translate(572.8,195.3) rotate(-90) scale(0.9,1)">IL6</text>
<text transform="translate(579.27,195.3) rotate(-90) scale(0.9,1)">IL6R</text>
<text transform="translate(585.75,195.3) rotate(-90) scale(0.9,1)">TNFRSF18</text>
<text transform="translate(592.22,195.3) rotate(-90) scale(0.9,1)">ICOSLG</text>
<text transform="translate(598.7,195.3) rotate(-90) scale(0.9,1)">TNFSF9</text>
<text transform="translate(605.17,195.3) rotate(-90) scale(0.9,1)">TNFRSF8</text>
<text transform="translate(611.65,195.3) rotate(-90) scale(0.9,1)">CD70</text>
<text transform="translate(618.12,195.3) rotate(-90) scale(0.9,1)">MICB</text>
</g>
<rect x="29.8" y="196.8" width="135.97" height="3" fill="#00A087"/>
<rect x="165.77" y="196.8" width="155.39" height="3" fill="#3C5488"/>
<rect x="321.16" y="196.8" width="297.84" height="3" fill="#F39B7F"/>
<rect x="29.8" y="202.7" width="7.07" height="49.7" fill="#ffd9d9"/>
<polygon points="29.8,202.7 36.87,202.7 36.87,251.9" fill="#fff2eb"/>
<rect x="36.27" y="202.7" width="7.07" height="49.7" fill="#ffe6e6"/>
<polygon points="36.27,202.7 43.35,202.7 43.35,251.9" fill="#fff2eb"/>
<rect x="42.75" y="202.7" width="7.07" height="49.7" fill="#ffe0e0"/>
<polygon points="42.75,202.7 49.82,202.7 49.82,251.9" fill="#fff2eb"/>
<rect x="49.22" y="202.7" width="7.07" height="49.7" fill="#ffe6e6"/>
<polygon points="49.22,202.7 56.3,202.7 56.3,251.9" fill="#fff2eb"/>
<rect x="55.7" y="202.7" width="7.07" height="49.7" fill="#ffe0e0"/>
<polygon points="55.7,202.7 62.77,202.7 62.77,251.9" fill="#fff2eb"/>
<rect x="62.17" y="202.7" width="7.07" height="49.7" fill="#fff7f7"/>
<polygon points="62.17,202.7 69.25,202.7 69.25,251.9" fill="#fee4d8"/>
<rect x="68.65" y="202.7" width="7.07" height="49.7" fill="#fff2f2"/>
<polygon points="68.65,202.7 75.72,202.7 75.72,251.9" fill="#fff2eb"/>
<rect x="75.12" y="202.7" width="7.07" height="49.7" fill="#ffffff"/>
<polygon points="75.12,202.7 82.2,202.7 82.2,251.9" fill="#ef3d2d"/>
<rect x="81.6" y="202.7" width="7.07" height="49.7" fill="#f2f2ff"/>
<polygon points="81.6,202.7 88.67,202.7 88.67,251.9" fill="#fff2eb"/>
<rect x="88.07" y="202.7" width="7.07" height="49.7" fill="#f2f2ff"/>
<polygon points="88.07,202.7 95.15,202.7 95.15,251.9" fill="#fee1d3"/>
<rect x="94.55" y="202.7" width="7.07" height="49.7" fill="#fff2f2"/>
<polygon points="94.55,202.7 101.62,202.7 101.62,251.9" fill="#fff2eb"/>
<rect x="101.02" y="202.7" width="7.07" height="49.7" fill="#ffebeb"/>
<polygon points="101.02,202.7 108.1,202.7 108.1,251.9" fill="#fff2eb"/>
<rect x="107.5" y="202.7" width="7.07" height="49.7" fill="#ffebeb"/>
<polygon points="107.5,202.7 114.57,202.7 114.57,251.9" fill="#fff2eb"/>
<rect x="113.97" y="202.7" width="7.07" height="49.7" fill="#ffe6e6"/>
<polygon points="113.97,202.7 121.05,202.7 121.05,251.9" fill="#fff2eb"/>
<rect x="120.45" y="202.7" width="7.07" height="49.7" fill="#ffe0e0"/>
<polygon points="120.45,202.7 127.52,202.7 127.52,251.9" fill="#fff2eb"/>
<rect x="126.92" y="202.7" width="7.07" height="49.7" fill="#ffe0e0"/>
<polygon points="126.92,202.7 134,202.7 134,251.9" fill="#fff2eb"/>
<rect x="133.4" y="202.7" width="7.07" height="49.7" fill="#ffe6e6"/>
<polygon points="133.4,202.7 140.47,202.7 140.47,251.9" fill="#fff2eb"/>
<rect x="139.87" y="202.7" width="7.07" height="49.7" fill="#ffebeb"/>
<polygon points="139.87,202.7 146.95,202.7 146.95,251.9" fill="#fff2eb"/>
<rect x="146.35" y="202.7" width="7.07" height="49.7" fill="#ffd9d9"/>
<polygon points="146.35,202.7 153.42,202.7 153.42,251.9" fill="#fff2eb"/>
<rect x="152.82" y="202.7" width="7.07" height="49.7" fill="#ffcccc"/>
<polygon points="152.82,202.7 159.89,202.7 159.89,251.9" fill="#fff2eb"/>
<rect x="159.29" y="202.7" width="7.07" height="49.7" fill="#ffd1d1"/>
<polygon points="159.29,202.7 166.37,202.7 166.37,251.9" fill="#fff2eb"/>
<rect x="165.77" y="202.7" width="7.07" height="49.7" fill="#ff9999"/>
<polygon points="165.77,202.7 172.84,202.7 172.84,251.9" fill="#fff2eb"/>
<rect x="172.24" y="202.7" width="7.07" height="49.7" fill="#ffcccc"/>
<polygon points="172.24,202.7 179.32,202.7 179.32,251.9" fill="#fff2eb"/>
<rect x="178.72" y="202.7" width="7.07" height="49.7" fill="#ffb2b2"/>
<polygon points="178.72,202.7 185.79,202.7 185.79,251.9" fill="#fff2eb"/>
<rect x="185.19" y="202.7" width="7.07" height="49.7" fill="#babaff"/>
<polygon points="185.19,202.7 192.27,202.7 192.27,251.9" fill="#fff2eb"/>
<rect x="191.67" y="202.7" width="7.07" height="49.7" fill="#fff2f2"/>
<polygon points="191.67,202.7 198.74,202.7 198.74,251.9" fill="#fff2eb"/>
<rect x="198.14" y="202.7" width="7.07" height="49.7" fill="#ffffff"/>
<polygon points="198.14,202.7 205.22,202.7 205.22,251.9" fill="#f14432"/>
<rect x="204.62" y="202.7" width="7.07" height="49.7" fill="#ffffff"/>
<polygon points="204.62,202.7 211.69,202.7 211.69,251.9" fill="#fcbba1"/>
<rect x="211.09" y="202.7" width="7.07" height="49.7" fill="#ffffff"/>
<polygon points="211.09,202.7 218.17,202.7 218.17,251.9" fill="#fdcab5"/>
<rect x="217.57" y="202.7" width="7.07" height="49.7" fill="#fff7f7"/>
<polygon points="217.57,202.7 224.64,202.7 224.64,251.9" fill="#fff2eb"/>
<rect x="224.04" y="202.7" width="7.07" height="49.7" fill="#ffffff"/>
<polygon points="224.04,202.7 231.12,202.7 231.12,251.9" fill="#f6573e"/>
<rect x="230.52" y="202.7" width="7.07" height="49.7" fill="#ffffff"/>
<polygon points="230.52,202.7 237.59,202.7 237.59,251.9" fill="#fed9c8"/>
<rect x="236.99" y="202.7" width="7.07" height="49.7" fill="#ffffff"/>
<polygon points="236.99,202.7 244.07,202.7 244.07,251.9" fill="#fb6a4a"/>
<rect x="243.47" y="202.7" width="7.07" height="49.7" fill="#fff7f7"/>
<polygon points="243.47,202.7 250.54,202.7 250.54,251.9" fill="#fff2eb"/>
<rect x="249.94" y="202.7" width="7.07" height="49.7" fill="#fff7f7"/>
<polygon points="249.94,202.7 257.02,202.7 257.02,251.9" fill="#fff2eb"/>
<rect x="256.42" y="202.7" width="7.07" height="49.7" fill="#fff7f7"/>
<polygon points="256.42,202.7 263.49,202.7 263.49,251.9" fill="#fff2eb"/>
<rect x="262.89" y="202.7" width="7.07" height="49.7" fill="#ffebeb"/>
<polygon points="262.89,202.7 269.96,202.7 269.96,251.9" fill="#fff2eb"/>
<rect x="269.36" y="202.7" width="7.07" height="49.7" fill="#fff2f2"/>
<polygon points="269.36,202.7 276.44,202.7 276.44,251.9" fill="#fff2eb"/>
<rect x="275.84" y="202.7" width="7.07" height="49.7" fill="#fff2f2"/>
<polygon points="275.84,202.7 282.91,202.7 282.91,251.9" fill="#fff2eb"/>
<rect x="282.31" y="202.7" width="7.07" height="49.7" fill="#f2f2ff"/>
<polygon points="282.31,202.7 289.39,202.7 289.39,251.9" fill="#fff2eb"/>
<rect x="288.79" y="202.7" width="7.07" height="49.7" fill="#fff7f7"/>
<polygon points="288.79,202.7 295.86,202.7 295.86,251.9" fill="#fff2eb"/>
<rect x="295.26" y="202.7" width="7.07" height="49.7" fill="#ebebff"/>
<polygon points="295.26,202.7 302.34,202.7 302.34,251.9" fill="#fff2eb"/>
<rect x="301.74" y="202.7" width="7.07" height="49.7" fill="#ffe0e0"/>
<polygon points="301.74,202.7 308.81,202.7 308.81,251.9" fill="#fff2eb"/>
<rect x="308.21" y="202.7" width="7.07" height="49.7" fill="#e6e6ff"/>
<polygon points="308.21,202.7 315.29,202.7 315.29,251.9" fill="#fff2eb"/>
<rect x="314.69" y="202.7" width="7.07" height="49.7" fill="#ffffff"/>
<polygon points="314.69,202.7 321.76,202.7 321.76,251.9" fill="#fcc4ad"/>
<rect x="321.16" y="202.7" width="7.07" height="49.7" fill="#fff2f2"/>
<polygon points="321.16,202.7 328.24,202.7 328.24,251.9" fill="#fff2eb"/>
<rect x="327.64" y="202.7" width="7.07" height="49.7" fill="#ff8c8c"/>
<polygon points="327.64,202.7 334.71,202.7 334.71,251.9" fill="#fff2eb"/>
<rect x="334.11" y="202.7" width="7.07" height="49.7" fill="#ff8c8c"/>
<polygon points="334.11,202.7 341.19,202.7 341.19,251.9" fill="#fff2eb"/>
<rect x="340.59" y="202.7" width="7.07" height="49.7" fill="#ff8c8c"/>
<polygon points="340.59,202.7 347.66,202.7 347.66,251.9" fill="#fff2eb"/>
<rect x="347.06" y="202.7" width="7.07" height="49.7" fill="#ffa6a6"/>
<polygon points="347.06,202.7 354.14,202.7 354.14,251.9" fill="#fff2eb"/>
<rect x="353.54" y="202.7" width="7.07" height="49.7" fill="#f2f2ff"/>
<polygon points="353.54,202.7 360.61,202.7 360.61,251.9" fill="#fff2eb"/>
<rect x="360.01" y="202.7" width="7.07" height="49.7" fill="#f2f2ff"/>
<polygon points="360.01,202.7 367.09,202.7 367.09,251.9" fill="#fff2eb"/>
<rect x="366.49" y="202.7" width="7.07" height="49.7" fill="#ffffff"/>
<polygon points="366.49,202.7 373.56,202.7 373.56,251.9" fill="#fb7050"/>
<rect x="372.96" y="202.7" width="7.07" height="49.7" fill="#fff7f7"/>
<polygon points="372.96,202.7 380.04,202.7 380.04,251.9" fill="#fff2eb"/>
<rect x="379.44" y="202.7" width="7.07" height="49.7" fill="#ffffff"/>
<polygon points="379.44,202.7 386.51,202.7 386.51,251.9" fill="#fb6a4a"/>
<rect x="385.91" y="202.7" width="7.07" height="49.7" fill="#fff2f2"/>
<polygon points="385.91,202.7 392.98,202.7 392.98,251.9" fill="#fff2eb"/>
<rect x="392.38" y="202.7" width="7.07" height="49.7" fill="#fff2f2"/>
<polygon points="392.38,202.7 399.46,202.7 399.46,251.9" fill="#fff2eb"/>
<rect x="398.86" y="202.7" width="7.07" height="49.7" fill="#ffffff"/>
<polygon points="398.86,202.7 405.93,202.7 405.93,251.9" fill="#b61319"/>
<rect x="405.33" y="202.7" width="7.07" height="49.7" fill="#f2f2ff"/>
<polygon points="405.33,202.7 412.41,202.7 412.41,251.9" fill="#fff2eb"/>
<rect x="411.81" y="202.7" width="7.07" height="49.7" fill="#ffffff"/>
<polygon points="411.81,202.7 418.88,202.7 418.88,251.9" fill="#800610"/>
<rect x="418.28" y="202.7" width="7.07" height="49.7" fill="#ffffff"/>
<polygon points="418.28,202.7 425.36,202.7 425.36,251.9" fill="#fdcab5"/>
<rect x="424.76" y="202.7" width="7.07" height="49.7" fill="#f2f2ff"/>
<polygon points="424.76,202.7 431.83,202.7 431.83,251.9" fill="#fff2eb"/>
<rect x="431.23" y="202.7" width="7.07" height="49.7" fill="#fff2f2"/>
<polygon points="431.23,202.7 438.31,202.7 438.31,251.9" fill="#fff2eb"/>
<rect x="437.71" y="202.7" width="7.07" height="49.7" fill="#fff2f2"/>
<polygon points="437.71,202.7 444.78,202.7 444.78,251.9" fill="#fff2eb"/>
<rect x="444.18" y="202.7" width="7.07" height="49.7" fill="#fff2f2"/>
<polygon points="444.18,202.7 451.26,202.7 451.26,251.9" fill="#fff2eb"/>
<rect x="450.66" y="202.7" width="7.07" height="49.7" fill="#ffffff"/>
<polygon points="450.66,202.7 457.73,202.7 457.73,251.9" fill="#f14432"/>
<rect x="457.13" y="202.7" width="7.07" height="49.7" fill="#ffebeb"/>
<polygon points="457.13,202.7 464.21,202.7 464.21,251.9" fill="#fff2eb"/>
<rect x="463.61" y="202.7" width="7.07" height="49.7" fill="#ffe0e0"/>
<polygon points="463.61,202.7 470.68,202.7 470.68,251.9" fill="#fff2eb"/>
<rect x="470.08" y="202.7" width="7.07" height="49.7" fill="#ffcccc"/>
<polygon points="470.08,202.7 477.16,202.7 477.16,251.9" fill="#fff2eb"/>
<rect x="476.56" y="202.7" width="7.07" height="49.7" fill="#ffe6e6"/>
<polygon points="476.56,202.7 483.63,202.7 483.63,251.9" fill="#fff2eb"/>
<rect x="483.03" y="202.7" width="7.07" height="49.7" fill="#ffe6e6"/>
<polygon points="483.03,202.7 490.11,202.7 490.11,251.9" fill="#fff2eb"/>
<rect x="489.51" y="202.7" width="7.07" height="49.7" fill="#ffebeb"/>
<polygon points="489.51,202.7 496.58,202.7 496.58,251.9" fill="#fff2eb"/>
<rect x="495.98" y="202.7" width="7.07" height="49.7" fill="#f2f2ff"/>
<polygon points="495.98,202.7 503.05,202.7 503.05,251.9" fill="#fff2eb"/>
<rect x="502.45" y="202.7" width="7.07" height="49.7" fill="#ffffff"/>
<polygon points="502.45,202.7 509.53,202.7 509.53,251.9" fill="#fed9c8"/>
<rect x="508.93" y="202.7" width="7.07" height="49.7" fill="#fff2f2"/>
<polygon points="508.93,202.7 516,202.7 516,251.9" fill="#fff2eb"/>
<rect x="515.4" y="202.7" width="7.07" height="49.7" fill="#ffffff"/>
<polygon points="515.4,202.7 522.48,202.7 522.48,251.9" fill="#fcab8e"/>
<rect x="521.88" y="202.7" width="7.07" height="49.7" fill="#fff2f2"/>
<polygon points="521.88,202.7 528.95,202.7 528.95,251.9" fill="#fff2eb"/>
<rect x="528.35" y="202.7" width="7.07" height="49.7" fill="#ffe6e6"/>
<polygon points="528.35,202.7 535.43,202.7 535.43,251.9" fill="#fff2eb"/>
<rect x="534.83" y="202.7" width="7.07" height="49.7" fill="#fff2f2"/>
<polygon points="534.83,202.7 541.9,202.7 541.9,251.9" fill="#fff2eb"/>
<rect x="541.3" y="202.7" width="7.07" height="49.7" fill="#e0e0ff"/>
<polygon points="541.3,202.7 548.38,202.7 548.38,251.9" fill="#fff2eb"/>
<rect x="547.78" y="202.7" width="7.07" height="49.7" fill="#d9d9ff"/>
<polygon points="547.78,202.7 554.85,202.7 554.85,251.9" fill="#fff2eb"/>
<rect x="554.25" y="202.7" width="7.07" height="49.7" fill="#f2f2ff"/>
<polygon points="554.25,202.7 561.33,202.7 561.33,251.9" fill="#fff2eb"/>
<rect x="560.73" y="202.7" width="7.07" height="49.7" fill="#e6e6ff"/>
<polygon points="560.73,202.7 567.8,202.7 567.8,251.9" fill="#fff2eb"/>
<rect x="567.2" y="202.7" width="7.07" height="49.7" fill="#f2f2ff"/>
<polygon points="567.2,202.7 574.28,202.7 574.28,251.9" fill="#fff2eb"/>
<rect x="573.68" y="202.7" width="7.07" height="49.7" fill="#ebebff"/>
<polygon points="573.68,202.7 580.75,202.7 580.75,251.9" fill="#fff2eb"/>
<rect x="580.15" y="202.7" width="7.07" height="49.7" fill="#bfbfff"/>
<polygon points="580.15,202.7 587.23,202.7 587.23,251.9" fill="#fff2eb"/>
<rect x="586.63" y="202.7" width="7.07" height="49.7" fill="#fff2f2"/>
<polygon points="586.63,202.7 593.7,202.7 593.7,251.9" fill="#fff2eb"/>
<rect x="593.1" y="202.7" width="7.07" height="49.7" fill="#ffffff"/>
<polygon points="593.1,202.7 600.18,202.7 600.18,251.9" fill="#fcbba1"/>
<rect x="599.58" y="202.7" width="7.07" height="49.7" fill="#ffffff"/>
<polygon points="599.58,202.7 606.65,202.7 606.65,251.9" fill="#8f0a12"/>
<rect x="606.05" y="202.7" width="7.07" height="49.7" fill="#ffffff"/>
<polygon points="606.05,202.7 613.13,202.7 613.13,251.9" fill="#fcab8e"/>
<rect x="612.53" y="202.7" width="6.47" height="49.7" fill="#ffffff"/>
<polygon points="612.53,202.7 619,202.7 619,251.9" fill="#a30e15"/>
<ellipse cx="31.95" cy="206.1" rx="1.42" ry="1.23" fill="#777"/>
<ellipse cx="38.42" cy="206.1" rx="1.42" ry="1.23" fill="#777"/>
<ellipse cx="44.9" cy="206.1" rx="1.42" ry="1.23" fill="#777"/>
<ellipse cx="51.37" cy="206.1" rx="1.42" ry="1.23" fill="#777"/>
<ellipse cx="57.85" cy="206.1" rx="1.42" ry="1.23" fill="#777"/>
<ellipse cx="70.8" cy="206.1" rx="1.42" ry="1.23" fill="#777"/>
<ellipse cx="83.75" cy="206.1" rx="1.42" ry="1.23" fill="#777"/>
<ellipse cx="96.7" cy="206.1" rx="1.42" ry="1.23" fill="#777"/>
<ellipse cx="103.17" cy="206.1" rx="1.42" ry="1.23" fill="#777"/>
<ellipse cx="109.65" cy="206.1" rx="1.42" ry="1.23" fill="#777"/>
<ellipse cx="116.12" cy="206.1" rx="1.42" ry="1.23" fill="#777"/>
<ellipse cx="122.6" cy="206.1" rx="1.42" ry="1.23" fill="#777"/>
<ellipse cx="129.07" cy="206.1" rx="1.42" ry="1.23" fill="#777"/>
<ellipse cx="135.55" cy="206.1" rx="1.42" ry="1.23" fill="#777"/>
<ellipse cx="142.02" cy="206.1" rx="1.42" ry="1.23" fill="#777"/>
<ellipse cx="148.5" cy="206.1" rx="1.42" ry="1.23" fill="#777"/>
<ellipse cx="154.97" cy="206.1" rx="1.42" ry="1.23" fill="#777"/>
<ellipse cx="161.44" cy="206.1" rx="1.42" ry="1.23" fill="#777"/>
<ellipse cx="167.92" cy="206.1" rx="1.42" ry="1.23" fill="#777"/>
<ellipse cx="174.39" cy="206.1" rx="1.42" ry="1.23" fill="#777"/>
<ellipse cx="180.87" cy="206.1" rx="1.42" ry="1.23" fill="#777"/>
<ellipse cx="187.34" cy="206.1" rx="1.42" ry="1.23" fill="#777"/>
<ellipse cx="193.82" cy="206.1" rx="1.42" ry="1.23" fill="#777"/>
<ellipse cx="219.72" cy="206.1" rx="1.42" ry="1.23" fill="#777"/>
<ellipse cx="245.62" cy="206.1" rx="1.42" ry="1.23" fill="#777"/>
<ellipse cx="252.09" cy="206.1" rx="1.42" ry="1.23" fill="#777"/>
<ellipse cx="258.57" cy="206.1" rx="1.42" ry="1.23" fill="#777"/>
<ellipse cx="265.04" cy="206.1" rx="1.42" ry="1.23" fill="#777"/>
<ellipse cx="271.51" cy="206.1" rx="1.42" ry="1.23" fill="#777"/>
<ellipse cx="277.99" cy="206.1" rx="1.42" ry="1.23" fill="#777"/>
<ellipse cx="284.46" cy="206.1" rx="1.42" ry="1.23" fill="#777"/>
<ellipse cx="290.94" cy="206.1" rx="1.42" ry="1.23" fill="#777"/>
<ellipse cx="297.41" cy="206.1" rx="1.42" ry="1.23" fill="#777"/>
<ellipse cx="303.89" cy="206.1" rx="1.42" ry="1.23" fill="#777"/>
<ellipse cx="310.36" cy="206.1" rx="1.42" ry="1.23" fill="#777"/>
<ellipse cx="323.31" cy="206.1" rx="1.42" ry="1.23" fill="#777"/>
<ellipse cx="329.79" cy="206.1" rx="1.42" ry="1.23" fill="#777"/>
<ellipse cx="336.26" cy="206.1" rx="1.42" ry="1.23" fill="#777"/>
<ellipse cx="342.74" cy="206.1" rx="1.42" ry="1.23" fill="#777"/>
<ellipse cx="349.21" cy="206.1" rx="1.42" ry="1.23" fill="#777"/>
<ellipse cx="355.69" cy="206.1" rx="1.42" ry="1.23" fill="#777"/>
<ellipse cx="362.16" cy="206.1" rx="1.42" ry="1.23" fill="#777"/>
<ellipse cx="375.11" cy="206.1" rx="1.42" ry="1.23" fill="#777"/>
<ellipse cx="388.06" cy="206.1" rx="1.42" ry="1.23" fill="#777"/>
<ellipse cx="394.53" cy="206.1" rx="1.42" ry="1.23" fill="#777"/>
<ellipse cx="407.48" cy="206.1" rx="1.42" ry="1.23" fill="#777"/>
<ellipse cx="426.91" cy="206.1" rx="1.42" ry="1.23" fill="#777"/>
<ellipse cx="433.38" cy="206.1" rx="1.42" ry="1.23" fill="#777"/>
<ellipse cx="439.86" cy="206.1" rx="1.42" ry="1.23" fill="#777"/>
<ellipse cx="446.33" cy="206.1" rx="1.42" ry="1.23" fill="#777"/>
<ellipse cx="459.28" cy="206.1" rx="1.42" ry="1.23" fill="#777"/>
<ellipse cx="465.76" cy="206.1" rx="1.42" ry="1.23" fill="#777"/>
<ellipse cx="472.23" cy="206.1" rx="1.42" ry="1.23" fill="#777"/>
<ellipse cx="478.71" cy="206.1" rx="1.42" ry="1.23" fill="#777"/>
<ellipse cx="485.18" cy="206.1" rx="1.42" ry="1.23" fill="#777"/>
<ellipse cx="491.66" cy="206.1" rx="1.42" ry="1.23" fill="#777"/>
<ellipse cx="498.13" cy="206.1" rx="1.42" ry="1.23" fill="#777"/>
<ellipse cx="511.08" cy="206.1" rx="1.42" ry="1.23" fill="#777"/>
<ellipse cx="524.03" cy="206.1" rx="1.42" ry="1.23" fill="#777"/>
<ellipse cx="530.5" cy="206.1" rx="1.42" ry="1.23" fill="#777"/>
<ellipse cx="536.98" cy="206.1" rx="1.42" ry="1.23" fill="#777"/>
<ellipse cx="543.45" cy="206.1" rx="1.42" ry="1.23" fill="#777"/>
<ellipse cx="549.93" cy="206.1" rx="1.42" ry="1.23" fill="#777"/>
<ellipse cx="556.4" cy="206.1" rx="1.42" ry="1.23" fill="#777"/>
<ellipse cx="562.88" cy="206.1" rx="1.42" ry="1.23" fill="#777"/>
<ellipse cx="569.35" cy="206.1" rx="1.42" ry="1.23" fill="#777"/>
<ellipse cx="575.83" cy="206.1" rx="1.42" ry="1.23" fill="#777"/>
<ellipse cx="582.3" cy="206.1" rx="1.42" ry="1.23" fill="#777"/>
<ellipse cx="588.78" cy="206.1" rx="1.42" ry="1.23" fill="#777"/>
<rect x="29.8" y="251.9" width="7.07" height="48.8" fill="#ffcccc"/>
<polygon points="29.8,251.9 36.87,251.9 36.87,300.7" fill="#fff2eb"/>
<rect x="36.27" y="251.9" width="7.07" height="48.8" fill="#ffd9d9"/>
<polygon points="36.27,251.9 43.35,251.9 43.35,300.7" fill="#fff2eb"/>
<rect x="42.75" y="251.9" width="7.07" height="48.8" fill="#ffcccc"/>
<polygon points="42.75,251.9 49.82,251.9 49.82,300.7" fill="#fff2eb"/>
<rect x="49.22" y="251.9" width="7.07" height="48.8" fill="#ffd9d9"/>
<polygon points="49.22,251.9 56.3,251.9 56.3,300.7" fill="#fff2eb"/>
<rect x="55.7" y="251.9" width="7.07" height="48.8" fill="#ffcccc"/>
<polygon points="55.7,251.9 62.77,251.9 62.77,300.7" fill="#fff2eb"/>
<rect x="62.17" y="251.9" width="7.07" height="48.8" fill="#fff2f2"/>
<polygon points="62.17,251.9 69.25,251.9 69.25,300.7" fill="#fff2eb"/>
<rect x="68.65" y="251.9" width="7.07" height="48.8" fill="#fff2f2"/>
<polygon points="68.65,251.9 75.72,251.9 75.72,300.7" fill="#fff2eb"/>
<rect x="75.12" y="251.9" width="7.07" height="48.8" fill="#ffffff"/>
<polygon points="75.12,251.9 82.2,251.9 82.2,300.7" fill="#fb6a4a"/>
<rect x="81.6" y="251.9" width="7.07" height="48.8" fill="#fffafa"/>
<polygon points="81.6,251.9 88.67,251.9 88.67,300.7" fill="#fee4d8"/>
<rect x="88.07" y="251.9" width="7.07" height="48.8" fill="#ffffff"/>
<polygon points="88.07,251.9 95.15,251.9 95.15,300.7" fill="#ad1117"/>
<rect x="94.55" y="251.9" width="7.07" height="48.8" fill="#ebebff"/>
<polygon points="94.55,251.9 101.62,251.9 101.62,300.7" fill="#fff2eb"/>
<rect x="101.02" y="251.9" width="7.07" height="48.8" fill="#fff2f2"/>
<polygon points="101.02,251.9 108.1,251.9 108.1,300.7" fill="#fff2eb"/>
<rect x="107.5" y="251.9" width="7.07" height="48.8" fill="#fff2f2"/>
<polygon points="107.5,251.9 114.57,251.9 114.57,300.7" fill="#fff2eb"/>
<rect x="113.97" y="251.9" width="7.07" height="48.8" fill="#ffe0e0"/>
<polygon points="113.97,251.9 121.05,251.9 121.05,300.7" fill="#fff2eb"/>
<rect x="120.45" y="251.9" width="7.07" height="48.8" fill="#ffd9d9"/>
<polygon points="120.45,251.9 127.52,251.9 127.52,300.7" fill="#fff2eb"/>
<rect x="126.92" y="251.9" width="7.07" height="48.8" fill="#ffe0e0"/>
<polygon points="126.92,251.9 134,251.9 134,300.7" fill="#fff2eb"/>
<rect x="133.4" y="251.9" width="7.07" height="48.8" fill="#ffe6e6"/>
<polygon points="133.4,251.9 140.47,251.9 140.47,300.7" fill="#fff2eb"/>
<rect x="139.87" y="251.9" width="7.07" height="48.8" fill="#fff2f2"/>
<polygon points="139.87,251.9 146.95,251.9 146.95,300.7" fill="#fee1d3"/>
<rect x="146.35" y="251.9" width="7.07" height="48.8" fill="#ffd9d9"/>
<polygon points="146.35,251.9 153.42,251.9 153.42,300.7" fill="#fff2eb"/>
<rect x="152.82" y="251.9" width="7.07" height="48.8" fill="#ffc7c7"/>
<polygon points="152.82,251.9 159.89,251.9 159.89,300.7" fill="#fff2eb"/>
<rect x="159.29" y="251.9" width="7.07" height="48.8" fill="#ffcccc"/>
<polygon points="159.29,251.9 166.37,251.9 166.37,300.7" fill="#fff2eb"/>
<rect x="165.77" y="251.9" width="7.07" height="48.8" fill="#ff8080"/>
<polygon points="165.77,251.9 172.84,251.9 172.84,300.7" fill="#fff2eb"/>
<rect x="172.24" y="251.9" width="7.07" height="48.8" fill="#ffbfbf"/>
<polygon points="172.24,251.9 179.32,251.9 179.32,300.7" fill="#fff2eb"/>
<rect x="178.72" y="251.9" width="7.07" height="48.8" fill="#ff8080"/>
<polygon points="178.72,251.9 185.79,251.9 185.79,300.7" fill="#fff2eb"/>
<rect x="185.19" y="251.9" width="7.07" height="48.8" fill="#9494ff"/>
<polygon points="185.19,251.9 192.27,251.9 192.27,300.7" fill="#fff2eb"/>
<rect x="191.67" y="251.9" width="7.07" height="48.8" fill="#ffe6e6"/>
<polygon points="191.67,251.9 198.74,251.9 198.74,300.7" fill="#fff2eb"/>
<rect x="198.14" y="251.9" width="7.07" height="48.8" fill="#f7f7ff"/>
<polygon points="198.14,251.9 205.22,251.9 205.22,300.7" fill="#fc9a7b"/>
<rect x="204.62" y="251.9" width="7.07" height="48.8" fill="#ffffff"/>
<polygon points="204.62,251.9 211.69,251.9 211.69,300.7" fill="#fc8464"/>
<rect x="211.09" y="251.9" width="7.07" height="48.8" fill="#ffffff"/>
<polygon points="211.09,251.9 218.17,251.9 218.17,300.7" fill="#fc9070"/>
<rect x="217.57" y="251.9" width="7.07" height="48.8" fill="#ffffff"/>
<polygon points="217.57,251.9 224.64,251.9 224.64,300.7" fill="#f6573e"/>
<rect x="224.04" y="251.9" width="7.07" height="48.8" fill="#ffffff"/>
<polygon points="224.04,251.9 231.12,251.9 231.12,300.7" fill="#cb181d"/>
<rect x="230.52" y="251.9" width="7.07" height="48.8" fill="#ffffff"/>
<polygon points="230.52,251.9 237.59,251.9 237.59,300.7" fill="#d92623"/>
<rect x="236.99" y="251.9" width="7.07" height="48.8" fill="#ffffff"/>
<polygon points="236.99,251.9 244.07,251.9 244.07,300.7" fill="#fdd0bc"/>
<rect x="243.47" y="251.9" width="7.07" height="48.8" fill="#fff2f2"/>
<polygon points="243.47,251.9 250.54,251.9 250.54,300.7" fill="#fff2eb"/>
<rect x="249.94" y="251.9" width="7.07" height="48.8" fill="#fff7f7"/>
<polygon points="249.94,251.9 257.02,251.9 257.02,300.7" fill="#fff2eb"/>
<rect x="256.42" y="251.9" width="7.07" height="48.8" fill="#fffafa"/>
<polygon points="256.42,251.9 263.49,251.9 263.49,300.7" fill="#fee1d3"/>
<rect x="262.89" y="251.9" width="7.07" height="48.8" fill="#ffd9d9"/>
<polygon points="262.89,251.9 269.96,251.9 269.96,300.7" fill="#fff2eb"/>
<rect x="269.36" y="251.9" width="7.07" height="48.8" fill="#ffffff"/>
<polygon points="269.36,251.9 276.44,251.9 276.44,300.7" fill="#f6573e"/>
<rect x="275.84" y="251.9" width="7.07" height="48.8" fill="#ffffff"/>
<polygon points="275.84,251.9 282.91,251.9 282.91,300.7" fill="#990c13"/>
<rect x="282.31" y="251.9" width="7.07" height="48.8" fill="#e6e6ff"/>
<polygon points="282.31,251.9 289.39,251.9 289.39,300.7" fill="#fff2eb"/>
<rect x="288.79" y="251.9" width="7.07" height="48.8" fill="#f2f2ff"/>
<polygon points="288.79,251.9 295.86,251.9 295.86,300.7" fill="#fff2eb"/>
<rect x="295.26" y="251.9" width="7.07" height="48.8" fill="#d9d9ff"/>
<polygon points="295.26,251.9 302.34,251.9 302.34,300.7" fill="#fff2eb"/>
<rect x="301.74" y="251.9" width="7.07" height="48.8" fill="#ffcccc"/>
<polygon points="301.74,251.9 308.81,251.9 308.81,300.7" fill="#fff2eb"/>
<rect x="308.21" y="251.9" width="7.07" height="48.8" fill="#fffafa"/>
<polygon points="308.21,251.9 315.29,251.9 315.29,300.7" fill="#fed9c8"/>
<rect x="314.69" y="251.9" width="7.07" height="48.8" fill="#ffffff"/>
<polygon points="314.69,251.9 321.76,251.9 321.76,300.7" fill="#fcbba1"/>
<rect x="321.16" y="251.9" width="7.07" height="48.8" fill="#ffd9d9"/>
<polygon points="321.16,251.9 328.24,251.9 328.24,300.7" fill="#fff2eb"/>
<rect x="327.64" y="251.9" width="7.07" height="48.8" fill="#ff7373"/>
<polygon points="327.64,251.9 334.71,251.9 334.71,300.7" fill="#fff2eb"/>
<rect x="334.11" y="251.9" width="7.07" height="48.8" fill="#ff7373"/>
<polygon points="334.11,251.9 341.19,251.9 341.19,300.7" fill="#fff2eb"/>
<rect x="340.59" y="251.9" width="7.07" height="48.8" fill="#ff8080"/>
<polygon points="340.59,251.9 347.66,251.9 347.66,300.7" fill="#fff2eb"/>
<rect x="347.06" y="251.9" width="7.07" height="48.8" fill="#ff8080"/>
<polygon points="347.06,251.9 354.14,251.9 354.14,300.7" fill="#fff2eb"/>
<rect x="353.54" y="251.9" width="7.07" height="48.8" fill="#ffffff"/>
<polygon points="353.54,251.9 360.61,251.9 360.61,300.7" fill="#fb7a5a"/>
<rect x="360.01" y="251.9" width="7.07" height="48.8" fill="#ccccff"/>
<polygon points="360.01,251.9 367.09,251.9 367.09,300.7" fill="#fff2eb"/>
<rect x="366.49" y="251.9" width="7.07" height="48.8" fill="#f2f2ff"/>
<polygon points="366.49,251.9 373.56,251.9 373.56,300.7" fill="#fed9c8"/>
<rect x="372.96" y="251.9" width="7.07" height="48.8" fill="#fff7f7"/>
<polygon points="372.96,251.9 380.04,251.9 380.04,300.7" fill="#fff2eb"/>
<rect x="379.44" y="251.9" width="7.07" height="48.8" fill="#ffffff"/>
<polygon points="379.44,251.9 386.51,251.9 386.51,300.7" fill="#ad1117"/>
<rect x="385.91" y="251.9" width="7.07" height="48.8" fill="#ffffff"/>
<polygon points="385.91,251.9 392.98,251.9 392.98,300.7" fill="#fdcab5"/>
<rect x="392.38" y="251.9" width="7.07" height="48.8" fill="#ffffff"/>
<polygon points="392.38,251.9 399.46,251.9 399.46,300.7" fill="#fee4d8"/>
<rect x="398.86" y="251.9" width="7.07" height="48.8" fill="#ffffff"/>
<polygon points="398.86,251.9 405.93,251.9 405.93,300.7" fill="#d42021"/>
<rect x="405.33" y="251.9" width="7.07" height="48.8" fill="#d9d9ff"/>
<polygon points="405.33,251.9 412.41,251.9 412.41,300.7" fill="#fff2eb"/>
<rect x="411.81" y="251.9" width="7.07" height="48.8" fill="#ffffff"/>
<polygon points="411.81,251.9 418.88,251.9 418.88,300.7" fill="#fc8464"/>
<rect x="418.28" y="251.9" width="7.07" height="48.8" fill="#ffffff"/>
<polygon points="418.28,251.9 425.36,251.9 425.36,300.7" fill="#800610"/>
<rect x="424.76" y="251.9" width="7.07" height="48.8" fill="#ffffff"/>
<polygon points="424.76,251.9 431.83,251.9 431.83,300.7" fill="#fed9c8"/>
<rect x="431.23" y="251.9" width="7.07" height="48.8" fill="#ffffff"/>
<polygon points="431.23,251.9 438.31,251.9 438.31,300.7" fill="#fb7050"/>
<rect x="437.71" y="251.9" width="7.07" height="48.8" fill="#ffffff"/>
<polygon points="437.71,251.9 444.78,251.9 444.78,300.7" fill="#fee1d3"/>
<rect x="444.18" y="251.9" width="7.07" height="48.8" fill="#ffe6e6"/>
<polygon points="444.18,251.9 451.26,251.9 451.26,300.7" fill="#fff2eb"/>
<rect x="450.66" y="251.9" width="7.07" height="48.8" fill="#ffffff"/>
<polygon points="450.66,251.9 457.73,251.9 457.73,300.7" fill="#e83429"/>
<rect x="457.13" y="251.9" width="7.07" height="48.8" fill="#ffebeb"/>
<polygon points="457.13,251.9 464.21,251.9 464.21,300.7" fill="#fff2eb"/>
<rect x="463.61" y="251.9" width="7.07" height="48.8" fill="#ffcccc"/>
<polygon points="463.61,251.9 470.68,251.9 470.68,300.7" fill="#fff2eb"/>
<rect x="470.08" y="251.9" width="7.07" height="48.8" fill="#ffbfbf"/>
<polygon points="470.08,251.9 477.16,251.9 477.16,300.7" fill="#fff2eb"/>
<rect x="476.56" y="251.9" width="7.07" height="48.8" fill="#ffe0e0"/>
<polygon points="476.56,251.9 483.63,251.9 483.63,300.7" fill="#fff2eb"/>
<rect x="483.03" y="251.9" width="7.07" height="48.8" fill="#ffe6e6"/>
<polygon points="483.03,251.9 490.11,251.9 490.11,300.7" fill="#fff2eb"/>
<rect x="489.51" y="251.9" width="7.07" height="48.8" fill="#ffe6e6"/>
<polygon points="489.51,251.9 496.58,251.9 496.58,300.7" fill="#fff2eb"/>
<rect x="495.98" y="251.9" width="7.07" height="48.8" fill="#f2f2ff"/>
<polygon points="495.98,251.9 503.05,251.9 503.05,300.7" fill="#fee4d8"/>
<rect x="502.45" y="251.9" width="7.07" height="48.8" fill="#ffffff"/>
<polygon points="502.45,251.9 509.53,251.9 509.53,300.7" fill="#fc9a7b"/>
<rect x="508.93" y="251.9" width="7.07" height="48.8" fill="#ffffff"/>
<polygon points="508.93,251.9 516,251.9 516,300.7" fill="#fed9c8"/>
<rect x="515.4" y="251.9" width="7.07" height="48.8" fill="#ffffff"/>
<polygon points="515.4,251.9 522.48,251.9 522.48,300.7" fill="#c2161b"/>
<rect x="521.88" y="251.9" width="7.07" height="48.8" fill="#ffffff"/>
<polygon points="521.88,251.9 528.95,251.9 528.95,300.7" fill="#800610"/>
<rect x="528.35" y="251.9" width="7.07" height="48.8" fill="#ffe6e6"/>
<polygon points="528.35,251.9 535.43,251.9 535.43,300.7" fill="#fff2eb"/>
<rect x="534.83" y="251.9" width="7.07" height="48.8" fill="#ffd9d9"/>
<polygon points="534.83,251.9 541.9,251.9 541.9,300.7" fill="#fff2eb"/>
<rect x="541.3" y="251.9" width="7.07" height="48.8" fill="#ccccff"/>
<polygon points="541.3,251.9 548.38,251.9 548.38,300.7" fill="#fff2eb"/>
<rect x="547.78" y="251.9" width="7.07" height="48.8" fill="#d9d9ff"/>
<polygon points="547.78,251.9 554.85,251.9 554.85,300.7" fill="#fff2eb"/>
<rect x="554.25" y="251.9" width="7.07" height="48.8" fill="#d9d9ff"/>
<polygon points="554.25,251.9 561.33,251.9 561.33,300.7" fill="#fff2eb"/>
<rect x="560.73" y="251.9" width="7.07" height="48.8" fill="#e6e6ff"/>
<polygon points="560.73,251.9 567.8,251.9 567.8,300.7" fill="#fff2eb"/>
<rect x="567.2" y="251.9" width="7.07" height="48.8" fill="#ebebff"/>
<polygon points="567.2,251.9 574.28,251.9 574.28,300.7" fill="#fff2eb"/>
<rect x="573.68" y="251.9" width="7.07" height="48.8" fill="#e6e6ff"/>
<polygon points="573.68,251.9 580.75,251.9 580.75,300.7" fill="#fff2eb"/>
<rect x="580.15" y="251.9" width="7.07" height="48.8" fill="#a6a6ff"/>
<polygon points="580.15,251.9 587.23,251.9 587.23,300.7" fill="#fff2eb"/>
<rect x="586.63" y="251.9" width="7.07" height="48.8" fill="#ffffff"/>
<polygon points="586.63,251.9 593.7,251.9 593.7,300.7" fill="#fff2eb"/>
<rect x="593.1" y="251.9" width="7.07" height="48.8" fill="#f2f2ff"/>
<polygon points="593.1,251.9 600.18,251.9 600.18,300.7" fill="#fff2eb"/>
<rect x="599.58" y="251.9" width="7.07" height="48.8" fill="#ffffff"/>
<polygon points="599.58,251.9 606.65,251.9 606.65,300.7" fill="#fc9a7b"/>
<rect x="606.05" y="251.9" width="7.07" height="48.8" fill="#f2f2ff"/>
<polygon points="606.05,251.9 613.13,251.9 613.13,300.7" fill="#fff2eb"/>
<rect x="612.53" y="251.9" width="6.47" height="48.8" fill="#ffffff"/>
<polygon points="612.53,251.9 619,251.9 619,300.7" fill="#fcbba1"/>
<ellipse cx="31.95" cy="255.3" rx="1.42" ry="1.23" fill="#777"/>
<ellipse cx="38.42" cy="255.3" rx="1.42" ry="1.23" fill="#777"/>
<ellipse cx="44.9" cy="255.3" rx="1.42" ry="1.23" fill="#777"/>
<ellipse cx="51.37" cy="255.3" rx="1.42" ry="1.23" fill="#777"/>
<ellipse cx="57.85" cy="255.3" rx="1.42" ry="1.23" fill="#777"/>
<ellipse cx="64.32" cy="255.3" rx="1.42" ry="1.23" fill="#777"/>
<ellipse cx="70.8" cy="255.3" rx="1.42" ry="1.23" fill="#777"/>
<ellipse cx="96.7" cy="255.3" rx="1.42" ry="1.23" fill="#777"/>
<ellipse cx="103.17" cy="255.3" rx="1.42" ry="1.23" fill="#777"/>
<ellipse cx="109.65" cy="255.3" rx="1.42" ry="1.23" fill="#777"/>
<ellipse cx="116.12" cy="255.3" rx="1.42" ry="1.23" fill="#777"/>
<ellipse cx="122.6" cy="255.3" rx="1.42" ry="1.23" fill="#777"/>
<ellipse cx="129.07" cy="255.3" rx="1.42" ry="1.23" fill="#777"/>
<ellipse cx="135.55" cy="255.3" rx="1.42" ry="1.23" fill="#777"/>
<ellipse cx="148.5" cy="255.3" rx="1.42" ry="1.23" fill="#777"/>
<ellipse cx="154.97" cy="255.3" rx="1.42" ry="1.23" fill="#777"/>
<ellipse cx="161.44" cy="255.3" rx="1.42" ry="1.23" fill="#777"/>
<ellipse cx="167.92" cy="255.3" rx="1.42" ry="1.23" fill="#777"/>
<ellipse cx="174.39" cy="255.3" rx="1.42" ry="1.23" fill="#777"/>
<ellipse cx="180.87" cy="255.3" rx="1.42" ry="1.23" fill="#777"/>
<ellipse cx="187.34" cy="255.3" rx="1.42" ry="1.23" fill="#777"/>
<ellipse cx="193.82" cy="255.3" rx="1.42" ry="1.23" fill="#777"/>
<ellipse cx="245.62" cy="255.3" rx="1.42" ry="1.23" fill="#777"/>
<ellipse cx="252.09" cy="255.3" rx="1.42" ry="1.23" fill="#777"/>
<ellipse cx="265.04" cy="255.3" rx="1.42" ry="1.23" fill="#777"/>
<ellipse cx="284.46" cy="255.3" rx="1.42" ry="1.23" fill="#777"/>
<ellipse cx="290.94" cy="255.3" rx="1.42" ry="1.23" fill="#777"/>
<ellipse cx="297.41" cy="255.3" rx="1.42" ry="1.23" fill="#777"/>
<ellipse cx="303.89" cy="255.3" rx="1.42" ry="1.23" fill="#777"/>
<ellipse cx="323.31" cy="255.3" rx="1.42" ry="1.23" fill="#777"/>
<ellipse cx="329.79" cy="255.3" rx="1.42" ry="1.23" fill="#777"/>
<ellipse cx="336.26" cy="255.3" rx="1.42" ry="1.23" fill="#777"/>
<ellipse cx="342.74" cy="255.3" rx="1.42" ry="1.23" fill="#777"/>
<ellipse cx="349.21" cy="255.3" rx="1.42" ry="1.23" fill="#777"/>
<ellipse cx="362.16" cy="255.3" rx="1.42" ry="1.23" fill="#777"/>
<ellipse cx="375.11" cy="255.3" rx="1.42" ry="1.23" fill="#777"/>
<ellipse cx="407.48" cy="255.3" rx="1.42" ry="1.23" fill="#777"/>
<ellipse cx="446.33" cy="255.3" rx="1.42" ry="1.23" fill="#777"/>
<ellipse cx="459.28" cy="255.3" rx="1.42" ry="1.23" fill="#777"/>
<ellipse cx="465.76" cy="255.3" rx="1.42" ry="1.23" fill="#777"/>
<ellipse cx="472.23" cy="255.3" rx="1.42" ry="1.23" fill="#777"/>
<ellipse cx="478.71" cy="255.3" rx="1.42" ry="1.23" fill="#777"/>
<ellipse cx="485.18" cy="255.3" rx="1.42" ry="1.23" fill="#777"/>
<ellipse cx="491.66" cy="255.3" rx="1.42" ry="1.23" fill="#777"/>
<ellipse cx="530.5" cy="255.3" rx="1.42" ry="1.23" fill="#777"/>
<ellipse cx="536.98" cy="255.3" rx="1.42" ry="1.23" fill="#777"/>
<ellipse cx="543.45" cy="255.3" rx="1.42" ry="1.23" fill="#777"/>
<ellipse cx="549.93" cy="255.3" rx="1.42" ry="1.23" fill="#777"/>
<ellipse cx="556.4" cy="255.3" rx="1.42" ry="1.23" fill="#777"/>
<ellipse cx="562.88" cy="255.3" rx="1.42" ry="1.23" fill="#777"/>
<ellipse cx="569.35" cy="255.3" rx="1.42" ry="1.23" fill="#777"/>
<ellipse cx="575.83" cy="255.3" rx="1.42" ry="1.23" fill="#777"/>
<ellipse cx="582.3" cy="255.3" rx="1.42" ry="1.23" fill="#777"/>
<ellipse cx="588.78" cy="255.3" rx="1.42" ry="1.23" fill="#777"/>
<ellipse cx="595.25" cy="255.3" rx="1.42" ry="1.23" fill="#777"/>
<ellipse cx="608.2" cy="255.3" rx="1.42" ry="1.23" fill="#777"/>
<line x1="29.8" x2="619.4" y1="202.3" y2="202.3" stroke="#777" stroke-width="1"/>
<line x1="29.8" x2="619.4" y1="201.2" y2="201.2" stroke="#ccc" stroke-width="0.6"/>
<line x1="29.8" x2="619.4" y1="301.3" y2="301.3" stroke="#888" stroke-width="0.9"/>
<line x1="619" x2="619" y1="202.3" y2="301.1" stroke="#444" stroke-width="1"/>
<g font-family='Liberation Sans' font-size="8.6" fill="#222">
<text x="627.9" y="228.9">WT</text><text x="626.8" y="282.6">STAD</text>
<text transform="translate(24.1,264.7) rotate(-90)" font-size="8">GPR35</text>
</g>
<defs><linearGradient id="cga" x1="0" x2="1" y1="0" y2="0"><stop offset="0" stop-color="#0000ff"/><stop offset="0.04" stop-color="#1a1aff"/><stop offset="0.1" stop-color="#6060ff"/><stop offset="0.5" stop-color="#ffffff"/><stop offset="0.9" stop-color="#ff9a9a"/><stop offset="1" stop-color="#ff4646"/></linearGradient>
<linearGradient id="pga" x1="0" x2="1" y1="0" y2="0">
<stop offset="0.0" stop-color="#fff5f0"/>
<stop offset="0.125" stop-color="#fee0d2"/>
<stop offset="0.25" stop-color="#fcbba1"/>
<stop offset="0.375" stop-color="#fc9272"/>
<stop offset="0.5" stop-color="#fb6a4a"/>
<stop offset="0.625" stop-color="#ef3b2c"/>
<stop offset="0.75" stop-color="#cb181d"/>
<stop offset="0.875" stop-color="#a50f15"/>
<stop offset="1.0" stop-color="#67000d"/>
</linearGradient></defs>
<rect x="505.3" y="25.5" width="57.1" height="7.8" fill="url(#cga)"/>
<rect x="507" y="49.9" width="57.3" height="6.5" fill="url(#pga)"/>
<g stroke="#333" stroke-width="0.7">
<line x1="505.3" x2="562.4" y1="33.55" y2="33.55" stroke="#bbb" stroke-width="0.5"/>
<line x1="505.3" x2="505.3" y1="33.3" y2="36.3"/>
<line x1="519.58" x2="519.58" y1="33.3" y2="36.3"/>
<line x1="533.85" x2="533.85" y1="33.3" y2="36.3"/>
<line x1="548.12" x2="548.12" y1="33.3" y2="36.3"/>
<line x1="562.4" x2="562.4" y1="33.3" y2="36.3"/>
<line x1="507" x2="564.3" y1="56.65" y2="56.65" stroke="#bbb" stroke-width="0.5"/>
<line x1="507" x2="507" y1="56.4" y2="59.4"/>
<line x1="535.65" x2="535.65" y1="56.4" y2="59.4"/>
<line x1="564.3" x2="564.3" y1="56.4" y2="59.4"/>
</g>
<g font-family='Liberation Serif' font-size="6.7" fill="#222" text-anchor="middle">
<text x="505.3" y="43.5">−1.0</text>
<text x="519.58" y="43.5">−0.5</text>
<text x="533.85" y="43.5">0.0</text>
<text x="548.12" y="43.5">0.5</text>
<text x="562.4" y="43.5">1.0</text>
<text x="507" y="66.6">0.0</text>
<text x="535.65" y="66.6">0.5</text>
<text x="564.3" y="66.6">1.0</text>
</g>
<g font-family='Liberation Sans' font-size="8" fill="#1a1a1a">
<text x="568.3" y="33.2">Correlation coefficient</text>
<text x="570.3" y="56.4">P value</text>
</g>
<text x="494.6" y="83.9" font-family='Liberation Sans' font-size="8.0" font-weight="bold" fill="#111">Immunomodulators</text>
<g font-family='Liberation Sans' font-size="8.15" fill="#222">
<circle cx="512.8" cy="93.9" r="4.2" fill="#E64B35"/>
<text x="518.8" y="97">Chemokine</text>
<circle cx="512.8" cy="103.98" r="4.2" fill="#4DBBD5"/>
<text x="518.8" y="107.08">Chemokine receptor</text>
<circle cx="512.8" cy="114.06" r="4.2" fill="#00A087"/>
<text x="518.8" y="117.16">MHC (major histocompatibility complex)</text>
<circle cx="512.8" cy="124.14" r="4.2" fill="#3C5488"/>
<text x="518.8" y="127.24">Immunoinhibitor</text>
<circle cx="512.8" cy="134.22" r="4.2" fill="#F39B7F"/>
<text x="518.8" y="137.32">Immunostimulator</text>
</g>
<text x="2.0" y="320.6" font-family='Liberation Sans' font-size="14.4" fill="#111">B</text>
<g font-family='Liberation Sans' font-size="9.0" fill="#1a1a1a" stroke="#1a1a1a" stroke-width="0.1">
<text transform="translate(37.75,347.4) rotate(-90) scale(0.9,1)">TGFB1</text>
<text transform="translate(44.96,347.4) rotate(-90) scale(0.9,1)">C10orf54</text>
<text transform="translate(52.17,347.4) rotate(-90) scale(0.9,1)">VEGFB</text>
<text transform="translate(59.38,347.4) rotate(-90) scale(0.9,1)">VEGFA</text>
<text transform="translate(66.58,347.4) rotate(-90) scale(0.9,1)">ARG1</text>
<text transform="translate(73.79,347.4) rotate(-90) scale(0.9,1)">CD276</text>
<text transform="translate(81,347.4) rotate(-90) scale(0.9,1)">VTCN1</text>
<text transform="translate(88.21,347.4) rotate(-90) scale(0.9,1)">ADORA2A</text>
<text transform="translate(95.42,347.4) rotate(-90) scale(0.9,1)">LAG3</text>
<text transform="translate(102.63,347.4) rotate(-90) scale(0.9,1)">PDCD1</text>
<text transform="translate(109.84,347.4) rotate(-90) scale(0.9,1)">CD274</text>
<text transform="translate(117.05,347.4) rotate(-90) scale(0.9,1)">CTLA4</text>
<text transform="translate(124.26,347.4) rotate(-90) scale(0.9,1)">SLAMF7</text>
<text transform="translate(131.47,347.4) rotate(-90) scale(0.9,1)">TIGIT</text>
<text transform="translate(138.69,347.4) rotate(-90) scale(0.9,1)">HAVCR2</text>
<text transform="translate(145.9,347.4) rotate(-90) scale(0.9,1)">IL10</text>
<text transform="translate(153.11,347.4) rotate(-90) scale(0.9,1)">KIR2DL1</text>
<text transform="translate(160.31,347.4) rotate(-90) scale(0.9,1)">KIR2DL3</text>
<text transform="translate(167.53,347.4) rotate(-90) scale(0.9,1)">BTLA</text>
<text transform="translate(174.74,347.4) rotate(-90) scale(0.9,1)">IDO1</text>
<text transform="translate(181.95,347.4) rotate(-90) scale(0.9,1)">EDNRB</text>
<text transform="translate(189.16,347.4) rotate(-90) scale(0.9,1)">IL12A</text>
<text transform="translate(196.37,347.4) rotate(-90) scale(0.9,1)">IL13</text>
<text transform="translate(203.58,347.4) rotate(-90) scale(0.9,1)">IL4</text>
<text transform="translate(210.79,347.4) rotate(-90) scale(0.9,1)">TNFRSF14</text>
<text transform="translate(218,347.4) rotate(-90) scale(0.9,1)">CX3CL1</text>
<text transform="translate(225.21,347.4) rotate(-90) scale(0.9,1)">IL2</text>
<text transform="translate(232.42,347.4) rotate(-90) scale(0.9,1)">SELP</text>
<text transform="translate(239.62,347.4) rotate(-90) scale(0.9,1)">BTN3A1</text>
<text transform="translate(246.84,347.4) rotate(-90) scale(0.9,1)">BTN3A2</text>
<text transform="translate(254.05,347.4) rotate(-90) scale(0.9,1)">ENTPD1</text>
<text transform="translate(261.26,347.4) rotate(-90) scale(0.9,1)">TLR4</text>
<text transform="translate(268.47,347.4) rotate(-90) scale(0.9,1)">TNFSF4</text>
<text transform="translate(275.68,347.4) rotate(-90) scale(0.9,1)">ITGB2</text>
<text transform="translate(282.89,347.4) rotate(-90) scale(0.9,1)">CD28</text>
<text transform="translate(290.1,347.4) rotate(-90) scale(0.9,1)">IL2RA</text>
<text transform="translate(297.31,347.4) rotate(-90) scale(0.9,1)">CXCL10</text>
<text transform="translate(304.52,347.4) rotate(-90) scale(0.9,1)">CXCL9</text>
<text transform="translate(311.73,347.4) rotate(-90) scale(0.9,1)">ICAM1</text>
<text transform="translate(318.94,347.4) rotate(-90) scale(0.9,1)">CD80</text>
<text transform="translate(326.15,347.4) rotate(-90) scale(0.9,1)">TNFRSF9</text>
<text transform="translate(333.36,347.4) rotate(-90) scale(0.9,1)">CD40</text>
<text transform="translate(340.57,347.4) rotate(-90) scale(0.9,1)">CCL5</text>
<text transform="translate(347.78,347.4) rotate(-90) scale(0.9,1)">TNF</text>
<text transform="translate(354.99,347.4) rotate(-90) scale(0.9,1)">IFNG</text>
<text transform="translate(362.2,347.4) rotate(-90) scale(0.9,1)">ICOS</text>
<text transform="translate(369.41,347.4) rotate(-90) scale(0.9,1)">GZMA</text>
<text transform="translate(376.62,347.4) rotate(-90) scale(0.9,1)">PRF1</text>
<text transform="translate(383.83,347.4) rotate(-90) scale(0.9,1)">TNFRSF4</text>
<text transform="translate(391.04,347.4) rotate(-90) scale(0.9,1)">CD27</text>
<text transform="translate(398.25,347.4) rotate(-90) scale(0.9,1)">CD40LG</text>
<text transform="translate(405.46,347.4) rotate(-90) scale(0.9,1)">HMGB1</text>
<text transform="translate(412.67,347.4) rotate(-90) scale(0.9,1)">ICOSLG</text>
<text transform="translate(419.88,347.4) rotate(-90) scale(0.9,1)">CD70</text>
<text transform="translate(427.09,347.4) rotate(-90) scale(0.9,1)">TNFSF9</text>
<text transform="translate(434.3,347.4) rotate(-90) scale(0.9,1)">TNFRSF18</text>
<text transform="translate(441.51,347.4) rotate(-90) scale(0.9,1)">IL1A</text>
<text transform="translate(448.72,347.4) rotate(-90) scale(0.9,1)">IL1B</text>
<text transform="translate(455.93,347.4) rotate(-90) scale(0.9,1)">IFNA1</text>
<text transform="translate(463.14,347.4) rotate(-90) scale(0.9,1)">IFNA2</text>
</g>
<rect x="31.8" y="348" width="173.04" height="2.6" fill="#E64B35"/>
<rect x="204.84" y="348" width="259.56" height="2.6" fill="#4DBBD5"/>
<rect x="31.8" y="354.2" width="7.81" height="50.3" fill="#f2f2ff"/>
<polygon points="31.8,354.2 39.61,354.2 39.61,404" fill="#fcab8e"/>
<rect x="39.01" y="354.2" width="7.81" height="50.3" fill="#f2f2ff"/>
<polygon points="39.01,354.2 46.82,354.2 46.82,404" fill="#fdd0bc"/>
<rect x="46.22" y="354.2" width="7.81" height="50.3" fill="#ffffff"/>
<polygon points="46.22,354.2 54.03,354.2 54.03,404" fill="#fc9a7b"/>
<rect x="53.43" y="354.2" width="7.81" height="50.3" fill="#f2f2ff"/>
<polygon points="53.43,354.2 61.24,354.2 61.24,404" fill="#fcc4ad"/>
<rect x="60.64" y="354.2" width="7.81" height="50.3" fill="#ffffff"/>
<polygon points="60.64,354.2 68.45,354.2 68.45,404" fill="#c2161b"/>
<rect x="67.85" y="354.2" width="7.81" height="50.3" fill="#ffffff"/>
<polygon points="67.85,354.2 75.66,354.2 75.66,404" fill="#e83429"/>
<rect x="75.06" y="354.2" width="7.81" height="50.3" fill="#ffffff"/>
<polygon points="75.06,354.2 82.87,354.2 82.87,404" fill="#71020e"/>
<rect x="82.27" y="354.2" width="7.81" height="50.3" fill="#f2f2ff"/>
<polygon points="82.27,354.2 90.08,354.2 90.08,404" fill="#fdd0bc"/>
<rect x="89.48" y="354.2" width="7.81" height="50.3" fill="#ffffff"/>
<polygon points="89.48,354.2 97.29,354.2 97.29,404" fill="#e83429"/>
<rect x="96.69" y="354.2" width="7.81" height="50.3" fill="#ffffff"/>
<polygon points="96.69,354.2 104.5,354.2 104.5,404" fill="#c2161b"/>
<rect x="103.9" y="354.2" width="7.81" height="50.3" fill="#ffe6e6"/>
<polygon points="103.9,354.2 111.71,354.2 111.71,404" fill="#fff2eb"/>
<rect x="111.11" y="354.2" width="7.81" height="50.3" fill="#ffffff"/>
<polygon points="111.11,354.2 118.92,354.2 118.92,404" fill="#fcab8e"/>
<rect x="118.32" y="354.2" width="7.81" height="50.3" fill="#ffffff"/>
<polygon points="118.32,354.2 126.13,354.2 126.13,404" fill="#c2161b"/>
<rect x="125.53" y="354.2" width="7.81" height="50.3" fill="#ffffff"/>
<polygon points="125.53,354.2 133.34,354.2 133.34,404" fill="#fb6a4a"/>
<rect x="132.74" y="354.2" width="7.81" height="50.3" fill="#f2f2ff"/>
<polygon points="132.74,354.2 140.55,354.2 140.55,404" fill="#fed9c8"/>
<rect x="139.95" y="354.2" width="7.81" height="50.3" fill="#ffffff"/>
<polygon points="139.95,354.2 147.76,354.2 147.76,404" fill="#fcab8e"/>
<rect x="147.16" y="354.2" width="7.81" height="50.3" fill="#ffffff"/>
<polygon points="147.16,354.2 154.97,354.2 154.97,404" fill="#fdcab5"/>
<rect x="154.37" y="354.2" width="7.81" height="50.3" fill="#ffffff"/>
<polygon points="154.37,354.2 162.18,354.2 162.18,404" fill="#800610"/>
<rect x="161.58" y="354.2" width="7.81" height="50.3" fill="#ffffff"/>
<polygon points="161.58,354.2 169.39,354.2 169.39,404" fill="#fc9a7b"/>
<rect x="168.79" y="354.2" width="7.81" height="50.3" fill="#f2f2ff"/>
<polygon points="168.79,354.2 176.6,354.2 176.6,404" fill="#fee1d3"/>
<rect x="176" y="354.2" width="7.81" height="50.3" fill="#ffffff"/>
<polygon points="176,354.2 183.81,354.2 183.81,404" fill="#f34c37"/>
<rect x="183.21" y="354.2" width="7.81" height="50.3" fill="#ffffff"/>
<polygon points="183.21,354.2 191.02,354.2 191.02,404" fill="#fdcab5"/>
<rect x="190.42" y="354.2" width="7.81" height="50.3" fill="#ffffff"/>
<polygon points="190.42,354.2 198.23,354.2 198.23,404" fill="#fee8dd"/>
<rect x="197.63" y="354.2" width="7.81" height="50.3" fill="#ffffff"/>
<polygon points="197.63,354.2 205.44,354.2 205.44,404" fill="#fb7050"/>
<rect x="204.84" y="354.2" width="7.81" height="50.3" fill="#fff2f2"/>
<polygon points="204.84,354.2 212.65,354.2 212.65,404" fill="#fff2eb"/>
<rect x="212.05" y="354.2" width="7.81" height="50.3" fill="#ffffff"/>
<polygon points="212.05,354.2 219.86,354.2 219.86,404" fill="#fc8464"/>
<rect x="219.26" y="354.2" width="7.81" height="50.3" fill="#ffffff"/>
<polygon points="219.26,354.2 227.07,354.2 227.07,404" fill="#f6573e"/>
<rect x="226.47" y="354.2" width="7.81" height="50.3" fill="#ffffff"/>
<polygon points="226.47,354.2 234.28,354.2 234.28,404" fill="#fc9a7b"/>
<rect x="233.68" y="354.2" width="7.81" height="50.3" fill="#ffffff"/>
<polygon points="233.68,354.2 241.49,354.2 241.49,404" fill="#ef3d2d"/>
<rect x="240.89" y="354.2" width="7.81" height="50.3" fill="#ffffff"/>
<polygon points="240.89,354.2 248.7,354.2 248.7,404" fill="#f6573e"/>
<rect x="248.1" y="354.2" width="7.81" height="50.3" fill="#ffffff"/>
<polygon points="248.1,354.2 255.91,354.2 255.91,404" fill="#fc8a6a"/>
<rect x="255.31" y="354.2" width="7.81" height="50.3" fill="#ffffff"/>
<polygon points="255.31,354.2 263.12,354.2 263.12,404" fill="#fed9c8"/>
<rect x="262.52" y="354.2" width="7.81" height="50.3" fill="#f2f2ff"/>
<polygon points="262.52,354.2 270.33,354.2 270.33,404" fill="#fee4d8"/>
<rect x="269.73" y="354.2" width="7.81" height="50.3" fill="#ffffff"/>
<polygon points="269.73,354.2 277.54,354.2 277.54,404" fill="#8f0a12"/>
<rect x="276.94" y="354.2" width="7.81" height="50.3" fill="#ffffff"/>
<polygon points="276.94,354.2 284.75,354.2 284.75,404" fill="#bc141a"/>
<rect x="284.15" y="354.2" width="7.81" height="50.3" fill="#ffffff"/>
<polygon points="284.15,354.2 291.96,354.2 291.96,404" fill="#fcbba1"/>
<rect x="291.36" y="354.2" width="7.81" height="50.3" fill="#ffffff"/>
<polygon points="291.36,354.2 299.17,354.2 299.17,404" fill="#f6573e"/>
<rect x="298.57" y="354.2" width="7.81" height="50.3" fill="#ffffff"/>
<polygon points="298.57,354.2 306.38,354.2 306.38,404" fill="#f34c37"/>
<rect x="305.78" y="354.2" width="7.81" height="50.3" fill="#ffffff"/>
<polygon points="305.78,354.2 313.59,354.2 313.59,404" fill="#fc9070"/>
<rect x="312.99" y="354.2" width="7.81" height="50.3" fill="#ffffff"/>
<polygon points="312.99,354.2 320.8,354.2 320.8,404" fill="#bc141a"/>
<rect x="320.2" y="354.2" width="7.81" height="50.3" fill="#ebebff"/>
<polygon points="320.2,354.2 328.01,354.2 328.01,404" fill="#fee1d3"/>
<rect x="327.41" y="354.2" width="7.81" height="50.3" fill="#ffffff"/>
<polygon points="327.41,354.2 335.22,354.2 335.22,404" fill="#fb6a4a"/>
<rect x="334.62" y="354.2" width="7.81" height="50.3" fill="#ffffff"/>
<polygon points="334.62,354.2 342.43,354.2 342.43,404" fill="#fc9a7b"/>
<rect x="341.83" y="354.2" width="7.81" height="50.3" fill="#ffffff"/>
<polygon points="341.83,354.2 349.64,354.2 349.64,404" fill="#b61319"/>
<rect x="349.04" y="354.2" width="7.81" height="50.3" fill="#ffffff"/>
<polygon points="349.04,354.2 356.85,354.2 356.85,404" fill="#fb7a5a"/>
<rect x="356.25" y="354.2" width="7.81" height="50.3" fill="#ffffff"/>
<polygon points="356.25,354.2 364.06,354.2 364.06,404" fill="#800610"/>
<rect x="363.46" y="354.2" width="7.81" height="50.3" fill="#ffffff"/>
<polygon points="363.46,354.2 371.27,354.2 371.27,404" fill="#fc8a6a"/>
<rect x="370.67" y="354.2" width="7.81" height="50.3" fill="#ffffff"/>
<polygon points="370.67,354.2 378.48,354.2 378.48,404" fill="#fb6a4a"/>
<rect x="377.88" y="354.2" width="7.81" height="50.3" fill="#ffffff"/>
<polygon points="377.88,354.2 385.69,354.2 385.69,404" fill="#f6573e"/>
<rect x="385.09" y="354.2" width="7.81" height="50.3" fill="#ffffff"/>
<polygon points="385.09,354.2 392.9,354.2 392.9,404" fill="#800610"/>
<rect x="392.3" y="354.2" width="7.81" height="50.3" fill="#ffffff"/>
<polygon points="392.3,354.2 400.11,354.2 400.11,404" fill="#fc9a7b"/>
<rect x="399.51" y="354.2" width="7.81" height="50.3" fill="#f2f2ff"/>
<polygon points="399.51,354.2 407.32,354.2 407.32,404" fill="#fcbba1"/>
<rect x="406.72" y="354.2" width="7.81" height="50.3" fill="#ffffff"/>
<polygon points="406.72,354.2 414.53,354.2 414.53,404" fill="#df2c25"/>
<rect x="413.93" y="354.2" width="7.81" height="50.3" fill="#ffffff"/>
<polygon points="413.93,354.2 421.74,354.2 421.74,404" fill="#fb6a4a"/>
<rect x="421.14" y="354.2" width="7.81" height="50.3" fill="#f2f2ff"/>
<polygon points="421.14,354.2 428.95,354.2 428.95,404" fill="#fdcab5"/>
<rect x="428.35" y="354.2" width="7.81" height="50.3" fill="#ffffff"/>
<polygon points="428.35,354.2 436.16,354.2 436.16,404" fill="#df2c25"/>
<rect x="435.56" y="354.2" width="7.81" height="50.3" fill="#ffffff"/>
<polygon points="435.56,354.2 443.37,354.2 443.37,404" fill="#c2161b"/>
<rect x="442.77" y="354.2" width="7.81" height="50.3" fill="#ffffff"/>
<polygon points="442.77,354.2 450.58,354.2 450.58,404" fill="#ad1117"/>
<rect x="449.98" y="354.2" width="7.81" height="50.3" fill="#ebebff"/>
<polygon points="449.98,354.2 457.79,354.2 457.79,404" fill="#ffede4"/>
<rect x="457.19" y="354.2" width="7.21" height="50.3" fill="#ffffff"/>
<polygon points="457.19,354.2 464.4,354.2 464.4,404" fill="#fb7050"/>
<path d="M106.5 355.6L106.5 359.6M108.23 356.6L104.77 358.6M108.23 358.6L104.77 356.6" stroke="#333" stroke-width="1.05"/>
<path d="M207.44 355.6L207.44 359.6M209.17 356.6L205.71 358.6M209.17 358.6L205.71 356.6" stroke="#333" stroke-width="1.05"/>
<rect x="31.8" y="404" width="7.81" height="49.4" fill="#ebebff"/>
<polygon points="31.8,404 39.61,404 39.61,453.4" fill="#fff2eb"/>
<rect x="39.01" y="404" width="7.81" height="49.4" fill="#ffffff"/>
<polygon points="39.01,404 46.82,404 46.82,453.4" fill="#f14432"/>
<rect x="46.22" y="404" width="7.81" height="49.4" fill="#ffffff"/>
<polygon points="46.22,404 54.03,404 54.03,453.4" fill="#fcab8e"/>
<rect x="53.43" y="404" width="7.81" height="49.4" fill="#f2f2ff"/>
<polygon points="53.43,404 61.24,404 61.24,453.4" fill="#fff2eb"/>
<rect x="60.64" y="404" width="7.81" height="49.4" fill="#ffffff"/>
<polygon points="60.64,404 68.45,404 68.45,453.4" fill="#fdd0bc"/>
<rect x="67.85" y="404" width="7.81" height="49.4" fill="#e6e6ff"/>
<polygon points="67.85,404 75.66,404 75.66,453.4" fill="#fff2eb"/>
<rect x="75.06" y="404" width="7.81" height="49.4" fill="#ffffff"/>
<polygon points="75.06,404 82.87,404 82.87,453.4" fill="#fc9070"/>
<rect x="82.27" y="404" width="7.81" height="49.4" fill="#ffffff"/>
<polygon points="82.27,404 90.08,404 90.08,453.4" fill="#fc9070"/>
<rect x="89.48" y="404" width="7.81" height="49.4" fill="#fff2f2"/>
<polygon points="89.48,404 97.29,404 97.29,453.4" fill="#fff2eb"/>
<rect x="96.69" y="404" width="7.81" height="49.4" fill="#ffffff"/>
<polygon points="96.69,404 104.5,404 104.5,453.4" fill="#fb6a4a"/>
<rect x="103.9" y="404" width="7.81" height="49.4" fill="#ffffff"/>
<polygon points="103.9,404 111.71,404 111.71,453.4" fill="#f6573e"/>
<rect x="111.11" y="404" width="7.81" height="49.4" fill="#ffffff"/>
<polygon points="111.11,404 118.92,404 118.92,453.4" fill="#a30e15"/>
<rect x="118.32" y="404" width="7.81" height="49.4" fill="#ffffff"/>
<polygon points="118.32,404 126.13,404 126.13,453.4" fill="#d92623"/>
<rect x="125.53" y="404" width="7.81" height="49.4" fill="#ffffff"/>
<polygon points="125.53,404 133.34,404 133.34,453.4" fill="#fc8464"/>
<rect x="132.74" y="404" width="7.81" height="49.4" fill="#ebebff"/>
<polygon points="132.74,404 140.55,404 140.55,453.4" fill="#fff2eb"/>
<rect x="139.95" y="404" width="7.81" height="49.4" fill="#ffffff"/>
<polygon points="139.95,404 147.76,404 147.76,453.4" fill="#fed9c8"/>
<rect x="147.16" y="404" width="7.81" height="49.4" fill="#ffffff"/>
<polygon points="147.16,404 154.97,404 154.97,453.4" fill="#bc141a"/>
<rect x="154.37" y="404" width="7.81" height="49.4" fill="#ffffff"/>
<polygon points="154.37,404 162.18,404 162.18,453.4" fill="#fb6a4a"/>
<rect x="161.58" y="404" width="7.81" height="49.4" fill="#ffffff"/>
<polygon points="161.58,404 169.39,404 169.39,453.4" fill="#ef3d2d"/>
<rect x="168.79" y="404" width="7.81" height="49.4" fill="#ffffff"/>
<polygon points="168.79,404 176.6,404 176.6,453.4" fill="#fc9a7b"/>
<rect x="176" y="404" width="7.81" height="49.4" fill="#ffffff"/>
<polygon points="176,404 183.81,404 183.81,453.4" fill="#990c13"/>
<rect x="183.21" y="404" width="7.81" height="49.4" fill="#ffffff"/>
<polygon points="183.21,404 191.02,404 191.02,453.4" fill="#f6573e"/>
<rect x="190.42" y="404" width="7.81" height="49.4" fill="#fffafa"/>
<polygon points="190.42,404 198.23,404 198.23,453.4" fill="#fff2eb"/>
<rect x="197.63" y="404" width="7.81" height="49.4" fill="#ffffff"/>
<polygon points="197.63,404 205.44,404 205.44,453.4" fill="#fc8464"/>
<rect x="204.84" y="404" width="7.81" height="49.4" fill="#fff7f7"/>
<polygon points="204.84,404 212.65,404 212.65,453.4" fill="#fff2eb"/>
<rect x="212.05" y="404" width="7.81" height="49.4" fill="#fff7f7"/>
<polygon points="212.05,404 219.86,404 219.86,453.4" fill="#fff2eb"/>
<rect x="219.26" y="404" width="7.81" height="49.4" fill="#ffffff"/>
<polygon points="219.26,404 227.07,404 227.07,453.4" fill="#fee4d8"/>
<rect x="226.47" y="404" width="7.81" height="49.4" fill="#fff7f7"/>
<polygon points="226.47,404 234.28,404 234.28,453.4" fill="#fff2eb"/>
<rect x="233.68" y="404" width="7.81" height="49.4" fill="#ffffff"/>
<polygon points="233.68,404 241.49,404 241.49,453.4" fill="#fc8a6a"/>
<rect x="240.89" y="404" width="7.81" height="49.4" fill="#fff7f7"/>
<polygon points="240.89,404 248.7,404 248.7,453.4" fill="#fff2eb"/>
<rect x="248.1" y="404" width="7.81" height="49.4" fill="#fff2f2"/>
<polygon points="248.1,404 255.91,404 255.91,453.4" fill="#fff2eb"/>
<rect x="255.31" y="404" width="7.81" height="49.4" fill="#ffffff"/>
<polygon points="255.31,404 263.12,404 263.12,453.4" fill="#fed9c8"/>
<rect x="262.52" y="404" width="7.81" height="49.4" fill="#ffffff"/>
<polygon points="262.52,404 270.33,404 270.33,453.4" fill="#fff2eb"/>
<rect x="269.73" y="404" width="7.81" height="49.4" fill="#ffffff"/>
<polygon points="269.73,404 277.54,404 277.54,453.4" fill="#fcab8e"/>
<rect x="276.94" y="404" width="7.81" height="49.4" fill="#f2f2ff"/>
<polygon points="276.94,404 284.75,404 284.75,453.4" fill="#fff2eb"/>
<rect x="284.15" y="404" width="7.81" height="49.4" fill="#f2f2ff"/>
<polygon points="284.15,404 291.96,404 291.96,453.4" fill="#fff2eb"/>
<rect x="291.36" y="404" width="7.81" height="49.4" fill="#ffffff"/>
<polygon points="291.36,404 299.17,404 299.17,453.4" fill="#fc9070"/>
<rect x="298.57" y="404" width="7.81" height="49.4" fill="#ffffff"/>
<polygon points="298.57,404 306.38,404 306.38,453.4" fill="#fcbba1"/>
<rect x="305.78" y="404" width="7.81" height="49.4" fill="#ffffff"/>
<polygon points="305.78,404 313.59,404 313.59,453.4" fill="#fc9a7b"/>
<rect x="312.99" y="404" width="7.81" height="49.4" fill="#ffffff"/>
<polygon points="312.99,404 320.8,404 320.8,453.4" fill="#fdcab5"/>
<rect x="320.2" y="404" width="7.81" height="49.4" fill="#ebebff"/>
<polygon points="320.2,404 328.01,404 328.01,453.4" fill="#fff2eb"/>
<rect x="327.41" y="404" width="7.81" height="49.4" fill="#ffffff"/>
<polygon points="327.41,404 335.22,404 335.22,453.4" fill="#ef3d2d"/>
<rect x="334.62" y="404" width="7.81" height="49.4" fill="#ffffff"/>
<polygon points="334.62,404 342.43,404 342.43,453.4" fill="#a30e15"/>
<rect x="341.83" y="404" width="7.81" height="49.4" fill="#ffffff"/>
<polygon points="341.83,404 349.64,404 349.64,453.4" fill="#f6573e"/>
<rect x="349.04" y="404" width="7.81" height="49.4" fill="#ffffff"/>
<polygon points="349.04,404 356.85,404 356.85,453.4" fill="#d42021"/>
<rect x="356.25" y="404" width="7.81" height="49.4" fill="#ffffff"/>
<polygon points="356.25,404 364.06,404 364.06,453.4" fill="#e83429"/>
<rect x="363.46" y="404" width="7.81" height="49.4" fill="#ffffff"/>
<polygon points="363.46,404 371.27,404 371.27,453.4" fill="#f6573e"/>
<rect x="370.67" y="404" width="7.81" height="49.4" fill="#ffffff"/>
<polygon points="370.67,404 378.48,404 378.48,453.4" fill="#fc8a6a"/>
<rect x="377.88" y="404" width="7.81" height="49.4" fill="#ffffff"/>
<polygon points="377.88,404 385.69,404 385.69,453.4" fill="#f14432"/>
<rect x="385.09" y="404" width="7.81" height="49.4" fill="#ffffff"/>
<polygon points="385.09,404 392.9,404 392.9,453.4" fill="#fb6a4a"/>
<rect x="392.3" y="404" width="7.81" height="49.4" fill="#ffffff"/>
<polygon points="392.3,404 400.11,404 400.11,453.4" fill="#fc9a7b"/>
<rect x="399.51" y="404" width="7.81" height="49.4" fill="#ffffff"/>
<polygon points="399.51,404 407.32,404 407.32,453.4" fill="#f14432"/>
<rect x="406.72" y="404" width="7.81" height="49.4" fill="#ffffff"/>
<polygon points="406.72,404 414.53,404 414.53,453.4" fill="#fdcab5"/>
<rect x="413.93" y="404" width="7.81" height="49.4" fill="#ffffff"/>
<polygon points="413.93,404 421.74,404 421.74,453.4" fill="#fff2eb"/>
<rect x="421.14" y="404" width="7.81" height="49.4" fill="#d9d9ff"/>
<polygon points="421.14,404 428.95,404 428.95,453.4" fill="#fff2eb"/>
<rect x="428.35" y="404" width="7.81" height="49.4" fill="#ffffff"/>
<polygon points="428.35,404 436.16,404 436.16,453.4" fill="#fcc4ad"/>
<rect x="435.56" y="404" width="7.81" height="49.4" fill="#ffffff"/>
<polygon points="435.56,404 443.37,404 443.37,453.4" fill="#800610"/>
<rect x="442.77" y="404" width="7.81" height="49.4" fill="#ffffff"/>
<polygon points="442.77,404 450.58,404 450.58,453.4" fill="#990c13"/>
<rect x="449.98" y="404" width="7.81" height="49.4" fill="#ffffff"/>
<polygon points="449.98,404 457.79,404 457.79,453.4" fill="#f34c37"/>
<rect x="457.19" y="404" width="7.21" height="49.4" fill="#fff7f7"/>
<polygon points="457.19,404 464.4,404 464.4,453.4" fill="#fff2eb"/>
<path d="M34.4 405.4L34.4 409.4M36.13 406.4L32.67 408.4M36.13 408.4L32.67 406.4" stroke="#333" stroke-width="1.05"/>
<path d="M56.03 405.4L56.03 409.4M57.76 406.4L54.3 408.4M57.76 408.4L54.3 406.4" stroke="#333" stroke-width="1.05"/>
<path d="M70.45 405.4L70.45 409.4M72.18 406.4L68.72 408.4M72.18 408.4L68.72 406.4" stroke="#333" stroke-width="1.05"/>
<path d="M92.08 405.4L92.08 409.4M93.81 406.4L90.35 408.4M93.81 408.4L90.35 406.4" stroke="#333" stroke-width="1.05"/>
<path d="M135.34 405.4L135.34 409.4M137.07 406.4L133.61 408.4M137.07 408.4L133.61 406.4" stroke="#333" stroke-width="1.05"/>
<path d="M193.02 405.4L193.02 409.4M194.75 406.4L191.29 408.4M194.75 408.4L191.29 406.4" stroke="#333" stroke-width="1.05"/>
<path d="M207.44 405.4L207.44 409.4M209.17 406.4L205.71 408.4M209.17 408.4L205.71 406.4" stroke="#333" stroke-width="1.05"/>
<path d="M214.65 405.4L214.65 409.4M216.38 406.4L212.92 408.4M216.38 408.4L212.92 406.4" stroke="#333" stroke-width="1.05"/>
<path d="M229.07 405.4L229.07 409.4M230.8 406.4L227.34 408.4M230.8 408.4L227.34 406.4" stroke="#333" stroke-width="1.05"/>
<path d="M243.49 405.4L243.49 409.4M245.22 406.4L241.76 408.4M245.22 408.4L241.76 406.4" stroke="#333" stroke-width="1.05"/>
<path d="M250.7 405.4L250.7 409.4M252.43 406.4L248.97 408.4M252.43 408.4L248.97 406.4" stroke="#333" stroke-width="1.05"/>
<path d="M265.12 405.4L265.12 409.4M266.85 406.4L263.39 408.4M266.85 408.4L263.39 406.4" stroke="#333" stroke-width="1.05"/>
<path d="M279.54 405.4L279.54 409.4M281.27 406.4L277.81 408.4M281.27 408.4L277.81 406.4" stroke="#333" stroke-width="1.05"/>
<path d="M286.75 405.4L286.75 409.4M288.48 406.4L285.02 408.4M288.48 408.4L285.02 406.4" stroke="#333" stroke-width="1.05"/>
<path d="M322.8 405.4L322.8 409.4M324.53 406.4L321.07 408.4M324.53 408.4L321.07 406.4" stroke="#333" stroke-width="1.05"/>
<path d="M416.53 405.4L416.53 409.4M418.26 406.4L414.8 408.4M418.26 408.4L414.8 406.4" stroke="#333" stroke-width="1.05"/>
<path d="M423.74 405.4L423.74 409.4M425.47 406.4L422.01 408.4M425.47 408.4L422.01 406.4" stroke="#333" stroke-width="1.05"/>
<path d="M459.79 405.4L459.79 409.4M461.52 406.4L458.06 408.4M461.52 408.4L458.06 406.4" stroke="#333" stroke-width="1.05"/>
<rect x="31.3" y="354" width="433.3" height="99.5" fill="none" stroke="#333" stroke-width="1.1"/>
<g font-family='Liberation Sans' font-size="8.6" fill="#222">
<text x="468.8" y="379.8">STAD</text><text x="470.6" y="430.3">WT</text>
<text transform="translate(25.0,410.7) rotate(-90)" font-size="8">GPR35</text>
</g>
<defs><linearGradient id="cgb" x1="0" x2="1" y1="0" y2="0"><stop offset="0" stop-color="#0000ff"/><stop offset="0.04" stop-color="#1a1aff"/><stop offset="0.1" stop-color="#6060ff"/><stop offset="0.5" stop-color="#ffffff"/><stop offset="0.9" stop-color="#ff9a9a"/><stop offset="1" stop-color="#ff4646"/></linearGradient>
<linearGradient id="pgb" x1="0" x2="1" y1="0" y2="0">
<stop offset="0.0" stop-color="#fff5f0"/>
<stop offset="0.125" stop-color="#fee0d2"/>
<stop offset="0.25" stop-color="#fcbba1"/>
<stop offset="0.375" stop-color="#fc9272"/>
<stop offset="0.5" stop-color="#fb6a4a"/>
<stop offset="0.625" stop-color="#ef3b2c"/>
<stop offset="0.75" stop-color="#cb181d"/>
<stop offset="0.875" stop-color="#a50f15"/>
<stop offset="1.0" stop-color="#67000d"/>
</linearGradient></defs>
<rect x="515.5" y="343.9" width="57.2" height="6.8" fill="url(#cgb)"/>
<rect x="517.5" y="367.6" width="56.9" height="6.1" fill="url(#pgb)"/>
<g stroke="#333" stroke-width="0.7">
<line x1="515.5" x2="572.7" y1="350.95" y2="350.95" stroke="#bbb" stroke-width="0.5"/>
<line x1="515.5" x2="515.5" y1="350.7" y2="353.7"/>
<line x1="529.8" x2="529.8" y1="350.7" y2="353.7"/>
<line x1="544.1" x2="544.1" y1="350.7" y2="353.7"/>
<line x1="558.4" x2="558.4" y1="350.7" y2="353.7"/>
<line x1="572.7" x2="572.7" y1="350.7" y2="353.7"/>
<line x1="517.5" x2="574.4" y1="373.95" y2="373.95" stroke="#bbb" stroke-width="0.5"/>
<line x1="517.5" x2="517.5" y1="373.7" y2="376.7"/>
<line x1="545.95" x2="545.95" y1="373.7" y2="376.7"/>
<line x1="574.4" x2="574.4" y1="373.7" y2="376.7"/>
</g>
<g font-family='Liberation Serif' font-size="6.7" fill="#222" text-anchor="middle">
<text x="515.5" y="360.6">−1.0</text>
<text x="529.8" y="360.6">−0.5</text>
<text x="544.1" y="360.6">0.0</text>
<text x="558.4" y="360.6">0.5</text>
<text x="572.7" y="360.6">1.0</text>
<text x="517.5" y="384">0.0</text>
<text x="545.95" y="384">0.5</text>
<text x="574.4" y="384">1.0</text>
</g>
<g font-family='Liberation Sans' font-size="8" fill="#1a1a1a">
<text x="578.4" y="351.1">Correlation coefficient</text>
<text x="580.6" y="374.1">P value</text>
</g>
<text x="496.2" y="403.2" font-family='Liberation Sans' font-size="8.15" font-weight="bold" fill="#111">Immune checkpoints</text>
<g font-family='Liberation Sans' font-size="8.0" fill="#222">
<circle cx="521.7" cy="413.2" r="4" fill="#E64B35"/><text x="529" y="416.4">Inhibitory</text>
<circle cx="521.7" cy="423.6" r="4" fill="#4DBBD5"/><text x="529" y="426.8">Stimulaotry</text>
</g>
<text x="1.6" y="463.1" font-family='Liberation Sans' font-size="14.4" fill="#111">C</text>
<text transform="translate(14.1,522.9) rotate(-90)" font-family='Liberation Sans' font-size="7" fill="#1a1a1a" text-anchor="middle">GPR35 Expression Level (log2 TPM)</text>
<rect x="24.2" y="474.2" width="10.3" height="97.4" fill="#d9d9d9" stroke="#333" stroke-width="0.7"/>
<text transform="translate(31.4,522.9) rotate(-90)" font-family='Liberation Sans' font-size="5.9" fill="#1a1a1a" text-anchor="middle">STAD</text>
<line x1="22.3" x2="24.2" y1="549.9" y2="549.9" stroke="#333" stroke-width="0.5"/>
<text x="21.4" y="551.8" font-family='Liberation Sans' font-size="5.4" fill="#4d4d4d" text-anchor="end">2</text>
<line x1="22.3" x2="24.2" y1="523.1" y2="523.1" stroke="#333" stroke-width="0.5"/>
<text x="21.4" y="525" font-family='Liberation Sans' font-size="5.4" fill="#4d4d4d" text-anchor="end">4</text>
<line x1="22.3" x2="24.2" y1="496.3" y2="496.3" stroke="#333" stroke-width="0.5"/>
<text x="21.4" y="498.2" font-family='Liberation Sans' font-size="5.4" fill="#4d4d4d" text-anchor="end">6</text>
<rect x="34.5" y="463.3" width="103.3" height="10.9" fill="#d9d9d9" stroke="#333" stroke-width="0.7"/>
<text x="86.15" y="470.7" font-family='Liberation Sans' font-size="5.9" fill="#1a1a1a" text-anchor="middle">Purity</text>
<svg x="34.5" y="474.2" width="103.3" height="97.4" overflow="hidden"><g transform="translate(-34.5,-474.2)">
<line x1="34.5" x2="137.8" y1="563.3" y2="563.3" stroke="#f4f4f4" stroke-width="0.4"/>
<line x1="34.5" x2="137.8" y1="536.5" y2="536.5" stroke="#f4f4f4" stroke-width="0.4"/>
<line x1="34.5" x2="137.8" y1="509.7" y2="509.7" stroke="#f4f4f4" stroke-width="0.4"/>
<line x1="34.5" x2="137.8" y1="482.9" y2="482.9" stroke="#f4f4f4" stroke-width="0.4"/>
<line x1="45.97" x2="45.97" y1="474.2" y2="571.6" stroke="#f4f4f4" stroke-width="0.4"/>
<line x1="71.23" x2="71.23" y1="474.2" y2="571.6" stroke="#f4f4f4" stroke-width="0.4"/>
<line x1="96.5" x2="96.5" y1="474.2" y2="571.6" stroke="#f4f4f4" stroke-width="0.4"/>
<line x1="121.77" x2="121.77" y1="474.2" y2="571.6" stroke="#f4f4f4" stroke-width="0.4"/>
<line x1="147.03" x2="147.03" y1="474.2" y2="571.6" stroke="#f4f4f4" stroke-width="0.4"/>
<line x1="34.5" x2="137.8" y1="549.9" y2="549.9" stroke="#e6e6e6" stroke-width="0.55"/>
<line x1="34.5" x2="137.8" y1="523.1" y2="523.1" stroke="#e6e6e6" stroke-width="0.55"/>
<line x1="34.5" x2="137.8" y1="496.3" y2="496.3" stroke="#e6e6e6" stroke-width="0.55"/>
<line x1="58.6" x2="58.6" y1="474.2" y2="571.6" stroke="#e6e6e6" stroke-width="0.55"/>
<line x1="83.87" x2="83.87" y1="474.2" y2="571.6" stroke="#e6e6e6" stroke-width="0.55"/>
<line x1="109.13" x2="109.13" y1="474.2" y2="571.6" stroke="#e6e6e6" stroke-width="0.55"/>
<line x1="134.4" x2="134.4" y1="474.2" y2="571.6" stroke="#e6e6e6" stroke-width="0.55"/>
<polygon points="39.6,507.3 44.3,507.22 49.01,507.14 53.71,507.06 58.42,506.97 63.12,506.87 67.83,506.76 72.53,506.65 77.24,506.52 81.94,506.36 86.65,506.17 91.35,505.94 96.06,505.65 100.76,505.31 105.46,504.91 110.17,504.47 114.87,504 119.58,503.5 124.28,502.99 128.99,502.46 133.69,501.93 133.69,506.48 128.99,506.58 124.28,506.69 119.58,506.8 114.87,506.94 110.17,507.09 105.46,507.28 100.76,507.51 96.06,507.8 91.35,508.14 86.65,508.54 81.94,508.98 77.24,509.45 72.53,509.95 67.83,510.46 63.12,510.99 58.42,511.52 53.71,512.06 49.01,512.61 44.3,513.15 39.6,513.7" fill="#999" fill-opacity="0.38"/>
<path d="M121.15 496.16h0M105.41 492.69h0M81.76 507.41h0M102.11 502.31h0M94.12 508.65h0M100.51 503.4h0M86.55 502.51h0M83.64 509.77h0M51.42 492.03h0M104.87 509.43h0M121.23 565.07h0M125.14 506.45h0M105.67 499.36h0M100.96 502.35h0M75.7 511.05h0M78.46 514.17h0M121.44 495.55h0M85.83 500.7h0M93.48 489.82h0M119.08 514.87h0M108.23 510.89h0M59.32 507.47h0M111.27 512.43h0M59.75 493.05h0M96.37 516.95h0M89.93 561.62h0M125.85 504.74h0M67.26 511.01h0M128.75 513.75h0M91.12 520.49h0M94.51 511.29h0M90.45 490.17h0M128.25 524.27h0M93.56 544.45h0M85.9 499.57h0M114.25 509.54h0M80.08 527.67h0M79.94 519.4h0M111.16 506.1h0M83.04 506.96h0M112.92 502.31h0M120.08 502.56h0M90.43 504.85h0M111.16 494.6h0M105.3 517.54h0M122.27 500.87h0M112.97 499.47h0M127.36 511.38h0M98.16 485.38h0M99.72 522.5h0M115.98 504.15h0M77.81 497.44h0M124.21 505.09h0M88.04 504.07h0M125.53 528.65h0M107.02 515.48h0M66.41 516.61h0M77.24 515.58h0M83.2 501.02h0M126.69 525.93h0M102.49 508.94h0M116.35 502.11h0M95.87 498.49h0M59.25 502.07h0M123.83 504.8h0M114.77 504.94h0M119.76 506.57h0M97.78 503.21h0M102.28 500.27h0M112.27 498.61h0M105.78 490.45h0M121.34 544.84h0M121.06 490.84h0M80.43 497.34h0M97.94 499.28h0M114.05 503.82h0M72.32 541.84h0M105.23 503.09h0M67.54 492.38h0M123.33 525.67h0M105.66 502.84h0M129.64 509.24h0M104.53 500.31h0M97.28 503.31h0M95.69 514.2h0M73.63 484.65h0M57.97 506.94h0M100.43 505.49h0M130.17 512.49h0M96.29 502.56h0M62.44 504.56h0M96.34 514.26h0M120.32 529.49h0M129.79 519.66h0M125.1 549.73h0M126.98 504.01h0M132.81 498.17h0M99.51 488.79h0M88.67 516.75h0M67.08 503.66h0M124.18 509.2h0M124.98 501.5h0M121.54 522.06h0M110.74 502.72h0M78.1 514.13h0M81.71 548.22h0M113.51 489.15h0M117.82 510.52h0M103.74 491.82h0M73.9 486.57h0M133.39 491.46h0M106.49 530.98h0M97.48 510.29h0M104.36 506.68h0M119.33 535.98h0M110.67 494.82h0M68.58 509.53h0M114.97 503.08h0M116.15 497.29h0M84.94 511.94h0M92.61 509.2h0M123.55 496.76h0M91.95 510.24h0M94.69 496.01h0M96.19 543.12h0M125.26 511.19h0M109.94 493.83h0M97.32 503.69h0M131.32 503.06h0M122.02 511.13h0M92.96 513.72h0M86.73 508.24h0M119.36 503.95h0M59.6 509.85h0M90.71 508.04h0M104.58 487.29h0M102.01 503.56h0M96.52 528.03h0M118.84 517.53h0M124.66 505.45h0M126.1 516.67h0M106.74 533.59h0M118.03 507.48h0M84.82 554.8h0M109.4 486.26h0M100.8 511.99h0M118.64 508.8h0M84.62 503.57h0M111.99 513.88h0M94.06 521.01h0M103.73 508.25h0M104.96 520.02h0M113.92 497.8h0M72.76 548.11h0M107 506.5h0M97.11 527.16h0M77.91 516.45h0M126.15 499.76h0M54.45 511.99h0M122.93 489.81h0M120.93 506.87h0M127.22 504.28h0M104.93 508.81h0M71.39 529.29h0M101.47 562.27h0M93.96 505.3h0M76.74 503.51h0M102.97 513.17h0M132.3 488.6h0M128.16 515.22h0M118.54 493.13h0M106.03 511.62h0M118.6 490.08h0M89.81 499.37h0M74.67 491.28h0M118.54 510.61h0M87.44 502.61h0M128.72 508.06h0M107.11 512.06h0M73.06 554.4h0M78.31 493.77h0M70.08 504.64h0M98.99 499.99h0M91.2 502.31h0M112.26 496.38h0M95.83 508.07h0M121.75 493.09h0M77.52 497.13h0M85.55 504.11h0M127.47 511.44h0M125.84 507.15h0M110.95 562.19h0M125.73 516.14h0M123.87 499.96h0M119.16 520.94h0M97.5 550.79h0M109.47 505.68h0M51.54 512h0M115.61 513.04h0M94.85 502.27h0M73.94 502.09h0M116.36 502.73h0M68.23 501.25h0M46.1 509.08h0M117.16 512.48h0M53.75 510.93h0M60.69 503.47h0M129.64 481.56h0M47.76 511.68h0M110.31 496.22h0M116.18 506.94h0M79.38 513.74h0M95.81 496.98h0M124.44 506.05h0M108.14 505.04h0M130.08 507.47h0M98.18 503.21h0M56.98 503.51h0M117.01 491.22h0M103.13 514.11h0M116.39 518.87h0M96.49 518.92h0M102.73 481.56h0M126.58 506.95h0M130.19 507.46h0M110.06 516.86h0M130.3 517.21h0M93.98 517.26h0M85.77 506.85h0M55.71 498.62h0M127.15 517.29h0M123.37 507.64h0M87.46 512.09h0M107.84 508.16h0M122.85 501.23h0M129.04 515.2h0M108.71 515.56h0M113.71 486.33h0M132.02 504.62h0M56.42 519.97h0M100.13 508.37h0M119.84 505.07h0M109.33 500.9h0M117.3 500.25h0M96.56 543.49h0M89.95 488.53h0M100.57 512.23h0M102.85 521.32h0M126.75 499.79h0M97.8 502.25h0M72.24 509.55h0M109.31 492.26h0M110.78 506.85h0M103.89 489.51h0M109.83 508.21h0M63.42 492.82h0M124.96 488.74h0M73.4 490.01h0M50.38 522.16h0M103.34 523.72h0M101.94 545.64h0M124.67 500.08h0M89.33 498.24h0M45.32 507.42h0M87.71 530.54h0M126.57 508.9h0M104.15 526.8h0M115.08 506.21h0M111.29 495.36h0M51.7 512.24h0M89.03 516.44h0M91.94 504.41h0M104 510.08h0M91.16 497.44h0M112.16 504.92h0M89.73 524.99h0M112.01 532.92h0M61.92 507.51h0M107.33 495.24h0M127.54 538.9h0M98.29 512.55h0M113.01 501.35h0M113.98 500.66h0M113.57 555.29h0M98.09 512.4h0M101.23 501.28h0M95.62 524.66h0M117.13 495.62h0M89.11 483.75h0M89.59 517.87h0M114.93 488.85h0M111.64 499.82h0M87.42 510.29h0M60.02 511.77h0M114.44 561.18h0M96.19 509.89h0M78.3 497.7h0M67.03 554.77h0M102.23 509.2h0M83.32 492.34h0M84.5 501.25h0M126.5 498.95h0M82.06 500.75h0M96.76 545.61h0M116.16 482.67h0M132.28 496.96h0M45.72 499.85h0M100.08 505.72h0M85.73 491.46h0M72.17 514.23h0M50.79 499.38h0M105.72 506.98h0M71.93 501.83h0M109.7 561.25h0M66.46 519.31h0M87.74 520.16h0M108.11 504.91h0M119.54 494.45h0M67.45 526.38h0M93.4 502.36h0M118.09 504.64h0M97.3 518.72h0M129.13 502.69h0M119.85 487.5h0M119 513.68h0M102.8 555.33h0M73.48 497.83h0M100.13 494.53h0M44.3 532.5h0M128.87 503.94h0M114.99 516.52h0M111.84 503.48h0M88 536.18h0M71.28 512.46h0M103.41 505.18h0M104.17 490.15h0M123.79 493.49h0M129.29 499.56h0M100.01 502.67h0M72.52 491.04h0M99.96 530.62h0M79.32 498.55h0M113.76 512.56h0M122.47 503.83h0M62.55 533.33h0M76.57 492.85h0M79.86 503.33h0M109.51 505.72h0M89.36 556.38h0M96.99 489.52h0M122.68 518.91h0M106.42 497.43h0M100.26 505.86h0M107.3 517.37h0M86.41 552.28h0M77.68 504.12h0M126.16 497.67h0M100.9 493.33h0M95.85 508.65h0M126.25 518.42h0M95.6 560.26h0M132.32 497.31h0M83.16 499.3h0M114.22 505.95h0M101.09 522.52h0M115.64 491.13h0M133.39 481.56h0M77.41 505.39h0M107.15 489.08h0M125.5 511.8h0M104.39 512.32h0M129.11 498.02h0" stroke="#3a3a3a" stroke-opacity="0.64" stroke-width="2.1" stroke-linecap="round"/>
<line x1="39.6" y1="510.5" x2="133.69" y2="504.21" stroke="#3366ff" stroke-width="1.1"/>
</g></svg>
<rect x="34.5" y="474.2" width="103.3" height="97.4" fill="none" stroke="#333" stroke-width="0.75"/>
<text x="136.9" y="479.2" font-family='Liberation Sans' font-size="5.0" fill="#e31a1c" text-anchor="end">Rho = 0.156</text>
<text x="136.9" y="484.5" font-family='Liberation Sans' font-size="5.0" fill="#e31a1c" text-anchor="end">p = 2.27e−03</text>
<line x1="58.6" x2="58.6" y1="571.6" y2="573.4" stroke="#333" stroke-width="0.5"/>
<text x="58.6" y="578.6" font-family='Liberation Sans' font-size="5.3" fill="#4d4d4d" text-anchor="middle">0.25</text>
<line x1="83.87" x2="83.87" y1="571.6" y2="573.4" stroke="#333" stroke-width="0.5"/>
<text x="83.87" y="578.6" font-family='Liberation Sans' font-size="5.3" fill="#4d4d4d" text-anchor="middle">0.50</text>
<line x1="109.13" x2="109.13" y1="571.6" y2="573.4" stroke="#333" stroke-width="0.5"/>
<text x="109.13" y="578.6" font-family='Liberation Sans' font-size="5.3" fill="#4d4d4d" text-anchor="middle">0.75</text>
<line x1="134.4" x2="134.4" y1="571.6" y2="573.4" stroke="#333" stroke-width="0.5"/>
<text x="134.4" y="578.6" font-family='Liberation Sans' font-size="5.3" fill="#4d4d4d" text-anchor="middle">1.00</text>
<text x="81.2" y="586.9" font-family='Liberation Sans' font-size="7" fill="#1a1a1a" text-anchor="middle">Purity</text>
<rect x="142.6" y="463.3" width="103.1" height="10.9" fill="#d9d9d9" stroke="#333" stroke-width="0.7"/>
<text x="194.15" y="470.7" font-family='Liberation Sans' font-size="5.9" fill="#1a1a1a" text-anchor="middle">Macrophage M0_CIBERSORT</text>
<svg x="142.6" y="474.2" width="103.1" height="97.4" overflow="hidden"><g transform="translate(-142.6,-474.2)">
<line x1="142.6" x2="245.7" y1="563.3" y2="563.3" stroke="#f4f4f4" stroke-width="0.4"/>
<line x1="142.6" x2="245.7" y1="536.5" y2="536.5" stroke="#f4f4f4" stroke-width="0.4"/>
<line x1="142.6" x2="245.7" y1="509.7" y2="509.7" stroke="#f4f4f4" stroke-width="0.4"/>
<line x1="142.6" x2="245.7" y1="482.9" y2="482.9" stroke="#f4f4f4" stroke-width="0.4"/>
<line x1="137.49" x2="137.49" y1="474.2" y2="571.6" stroke="#f4f4f4" stroke-width="0.4"/>
<line x1="158.91" x2="158.91" y1="474.2" y2="571.6" stroke="#f4f4f4" stroke-width="0.4"/>
<line x1="180.34" x2="180.34" y1="474.2" y2="571.6" stroke="#f4f4f4" stroke-width="0.4"/>
<line x1="201.76" x2="201.76" y1="474.2" y2="571.6" stroke="#f4f4f4" stroke-width="0.4"/>
<line x1="223.19" x2="223.19" y1="474.2" y2="571.6" stroke="#f4f4f4" stroke-width="0.4"/>
<line x1="244.61" x2="244.61" y1="474.2" y2="571.6" stroke="#f4f4f4" stroke-width="0.4"/>
<line x1="142.6" x2="245.7" y1="549.9" y2="549.9" stroke="#e6e6e6" stroke-width="0.55"/>
<line x1="142.6" x2="245.7" y1="523.1" y2="523.1" stroke="#e6e6e6" stroke-width="0.55"/>
<line x1="142.6" x2="245.7" y1="496.3" y2="496.3" stroke="#e6e6e6" stroke-width="0.55"/>
<line x1="148.2" x2="148.2" y1="474.2" y2="571.6" stroke="#e6e6e6" stroke-width="0.55"/>
<line x1="169.62" x2="169.62" y1="474.2" y2="571.6" stroke="#e6e6e6" stroke-width="0.55"/>
<line x1="191.05" x2="191.05" y1="474.2" y2="571.6" stroke="#e6e6e6" stroke-width="0.55"/>
<line x1="212.47" x2="212.47" y1="474.2" y2="571.6" stroke="#e6e6e6" stroke-width="0.55"/>
<line x1="233.9" x2="233.9" y1="474.2" y2="571.6" stroke="#e6e6e6" stroke-width="0.55"/>
<polygon points="148.2,507.38 152.83,506.79 157.46,506.14 162.08,505.43 166.71,504.66 171.34,503.83 175.97,502.96 180.59,502.06 185.22,501.13 189.85,500.18 194.48,499.22 199.11,498.26 203.73,497.28 208.36,496.3 212.99,495.31 217.62,494.32 222.24,493.33 226.87,492.33 231.5,491.33 236.13,490.33 240.76,489.33 240.76,500.59 236.13,500.99 231.5,501.4 226.87,501.81 222.24,502.22 217.62,502.64 212.99,503.05 208.36,503.47 203.73,503.9 199.11,504.33 194.48,504.77 189.85,505.21 185.22,505.67 180.59,506.15 175.97,506.65 171.34,507.19 166.71,507.77 162.08,508.41 157.46,509.1 152.83,509.86 148.2,510.68" fill="#999" fill-opacity="0.38"/>
<path d="M149.29 496.16h0M151.05 492.69h0M165.73 507.41h0M150.56 502.31h0M149.27 508.65h0M155.24 503.4h0M165.2 502.51h0M148.42 509.77h0M149.42 492.03h0M160.94 509.43h0M148.9 565.07h0M184.23 506.45h0M148.74 499.36h0M148.48 502.35h0M159.12 511.05h0M148.48 514.17h0M150.32 495.55h0M177.54 500.7h0M154.8 489.82h0M166.6 514.87h0M166.94 510.89h0M191.39 507.47h0M156.7 512.43h0M184.6 493.05h0M203.43 516.95h0M174.65 561.62h0M192.47 504.74h0M164.43 511.01h0M148.51 513.75h0M156.14 520.49h0M152.94 511.29h0M157.53 490.17h0M161.13 524.27h0M151.43 544.45h0M167.3 499.57h0M152.6 509.54h0M149.03 527.67h0M198.31 519.4h0M156.85 506.1h0M210.09 506.96h0M164.5 502.31h0M174.33 502.56h0M167.37 504.85h0M155.98 494.6h0M184.14 517.54h0M149.21 500.87h0M217.77 499.47h0M159.38 511.38h0M193.36 485.38h0M152.76 522.5h0M196.77 504.15h0M148.85 497.44h0M150.79 505.09h0M159.26 504.07h0M163.55 528.65h0M151.65 515.48h0M148.43 516.61h0M149.13 515.58h0M211.94 501.02h0M152.87 525.93h0M203.62 508.94h0M148.22 502.11h0M149.17 498.49h0M148.34 502.07h0M159.08 504.8h0M156.55 504.94h0M152.01 506.57h0M148.55 503.21h0M161.97 500.27h0M153.26 498.61h0M148.7 490.45h0M150.93 544.84h0M192.79 490.84h0M148.98 497.34h0M160.3 499.28h0M148.39 503.82h0M154.86 541.84h0M149.11 503.09h0M160.71 492.38h0M211.9 525.67h0M151.8 502.84h0M149.03 509.24h0M161 500.31h0M154.85 503.31h0M148.58 514.2h0M217.06 484.65h0M156.36 506.94h0M208.32 505.49h0M158.24 512.49h0M179.68 502.56h0M149.25 504.56h0M196.79 514.26h0M149.32 529.49h0M205.67 519.66h0M149.84 549.73h0M154.51 504.01h0M157.97 498.17h0M153.54 488.79h0M154.81 516.75h0M162.04 503.66h0M218.67 509.2h0M148.46 501.5h0M148.22 522.06h0M210.9 502.72h0M153.37 514.13h0M220.83 548.22h0M172.92 489.15h0M204.55 510.52h0M161.55 491.82h0M152.47 486.57h0M148.42 491.46h0M173.06 530.98h0M171.45 510.29h0M165.19 506.68h0M155.92 535.98h0M179.29 494.82h0M217.84 509.53h0M148.91 503.08h0M148.25 497.29h0M149.31 511.94h0M154.68 509.2h0M161.9 496.76h0M162.25 510.24h0M148.31 496.01h0M161.73 543.12h0M196.4 511.19h0M189.32 493.83h0M155.22 503.69h0M149.06 503.06h0M148.35 511.13h0M161.57 513.72h0M149.47 508.24h0M176.06 503.95h0M148.42 509.85h0M149.16 508.04h0M149.37 487.29h0M181.03 503.56h0M154.3 528.03h0M155.02 517.53h0M149.44 505.45h0M148.21 516.67h0M178.54 533.59h0M160.56 507.48h0M149.37 554.8h0M223.32 486.26h0M148.48 511.99h0M152.23 508.8h0M194.97 503.57h0M154.31 513.88h0M158.08 521.01h0M148.34 508.25h0M154.38 520.02h0M188.66 497.8h0M170.32 548.11h0M176.24 506.5h0M154.31 527.16h0M218.26 516.45h0M160.94 499.76h0M167.17 511.99h0M156.36 489.81h0M148.23 506.87h0M148.29 504.28h0M153.55 508.81h0M150.75 529.29h0M152.78 562.27h0M169.15 505.3h0M165.64 503.51h0M180.6 513.17h0M149.2 488.6h0M213.48 515.22h0M167.47 493.13h0M148.86 511.62h0M178.41 490.08h0M168.32 499.37h0M161.02 491.28h0M170.4 510.61h0M214.75 502.61h0M163.68 508.06h0M155.17 512.06h0M149.12 554.4h0M164.69 493.77h0M184.04 504.64h0M195.39 499.99h0M164.14 502.31h0M189.02 496.38h0M154.33 508.07h0M149.03 493.09h0M159.62 497.13h0M161.65 504.11h0M148.36 511.44h0M153.56 507.15h0M185.33 562.19h0M156.52 516.14h0M148.88 499.96h0M155.3 520.94h0M169.35 550.79h0M157.05 505.68h0M148.84 512h0M150.61 513.04h0M164.23 502.27h0M219.86 502.09h0M151.74 502.73h0M148.86 501.25h0M169.5 509.08h0M151.95 512.48h0M179.62 510.93h0M157.19 503.47h0M164.02 481.56h0M172.68 511.68h0M222.68 496.22h0M164.75 506.94h0M148.52 513.74h0M148.93 496.98h0M169.84 506.05h0M155.82 505.04h0M157.16 507.47h0M149.66 503.21h0M149.46 503.51h0M200.65 491.22h0M180.62 514.11h0M149.2 518.87h0M202.73 518.92h0M172.04 481.56h0M183.73 506.95h0M166.49 507.46h0M187.67 516.86h0M148.62 517.21h0M149.37 517.26h0M166.83 506.85h0M155.85 498.62h0M152.3 517.29h0M149.16 507.64h0M148.44 512.09h0M169.09 508.16h0M151.9 501.23h0M172.63 515.2h0M159.76 515.56h0M154.66 486.33h0M159.35 504.62h0M223.58 519.97h0M172.46 508.37h0M164.34 505.07h0M169.4 500.9h0M150.81 500.25h0M166.75 543.49h0M158.17 488.53h0M172.96 512.23h0M167.98 521.32h0M154.9 499.79h0M155.62 502.25h0M164.64 509.55h0M166.77 492.26h0M148.31 506.85h0M172.15 489.51h0M163.69 508.21h0M159.23 492.82h0M148.2 488.74h0M162.61 490.01h0M168.96 522.16h0M167.29 523.72h0M189.57 545.64h0M186.07 500.08h0M162.37 498.24h0M149 507.42h0M149.2 530.54h0M163.09 508.9h0M148.53 526.8h0M161.12 506.21h0M165.28 495.36h0M208.64 512.24h0M148.77 516.44h0M170.06 504.41h0M165.82 510.08h0M161.39 497.44h0M210.88 504.92h0M209.89 524.99h0M199.13 532.92h0M150.35 507.51h0M195.06 495.24h0M149.27 538.9h0M171.63 512.55h0M166.3 501.35h0M154.26 500.66h0M161.66 555.29h0M148.85 512.4h0M204.77 501.28h0M165.52 524.66h0M158.14 495.62h0M149.34 483.75h0M154.49 517.87h0M149.27 488.85h0M161.49 499.82h0M161.42 510.29h0M149.04 511.77h0M152.92 561.18h0M159.11 509.89h0M148.92 497.7h0M149.22 554.77h0M180.81 509.2h0M149.44 492.34h0M151.2 501.25h0M200.25 498.95h0M152.31 500.75h0M150.11 545.61h0M149 482.67h0M149.45 496.96h0M175.59 499.85h0M207.28 505.72h0M152.07 491.46h0M148.38 514.23h0M167.71 499.38h0M148.3 506.98h0M160.15 501.83h0M150.63 561.25h0M154.89 519.31h0M156 520.16h0M148.97 504.91h0M173.3 494.45h0M149.1 526.38h0M222.95 502.36h0M154.25 504.64h0M152.14 518.72h0M155.29 502.69h0M148.71 487.5h0M154.76 513.68h0M149.25 555.33h0M156 497.83h0M155.83 494.53h0M171.28 532.5h0M189.38 503.94h0M149.23 516.52h0M180.14 503.48h0M174.21 536.18h0M161.43 512.46h0M209.29 505.18h0M149.37 490.15h0M148.39 493.49h0M156.79 499.56h0M148.69 502.67h0M148.8 491.04h0M219.09 530.62h0M148.28 498.55h0M161.76 512.56h0M153.56 503.83h0M149.02 533.33h0M154.87 492.85h0M161.29 503.33h0M166.65 505.72h0M169.29 556.38h0M148.28 489.52h0M198.13 518.91h0M153.81 497.43h0M165.32 505.86h0M148.65 517.37h0M154.94 552.28h0M149.33 504.12h0M162.1 497.67h0M170.6 493.33h0M148.36 508.65h0M168.94 518.42h0M215.67 560.26h0M162.42 497.31h0M149.25 499.3h0M159.79 505.95h0M152.47 522.52h0M151.15 491.13h0M162.69 481.56h0M159.31 505.39h0M160.55 489.08h0M170.9 511.8h0M148.24 512.32h0M164.12 498.02h0" stroke="#3a3a3a" stroke-opacity="0.64" stroke-width="2.1" stroke-linecap="round"/>
<line x1="148.2" y1="509.03" x2="240.76" y2="494.96" stroke="#3366ff" stroke-width="1.1"/>
</g></svg>
<rect x="142.6" y="474.2" width="103.1" height="97.4" fill="none" stroke="#333" stroke-width="0.75"/>
<text x="244.8" y="479.2" font-family='Liberation Sans' font-size="5.0" fill="#e31a1c" text-anchor="end">Rho = 0.236</text>
<text x="244.8" y="484.5" font-family='Liberation Sans' font-size="5.0" fill="#e31a1c" text-anchor="end">p = 3.54e−06</text>
<line x1="148.2" x2="148.2" y1="571.6" y2="573.4" stroke="#333" stroke-width="0.5"/>
<text x="148.2" y="578.6" font-family='Liberation Sans' font-size="5.3" fill="#4d4d4d" text-anchor="middle">0.0</text>
<line x1="169.62" x2="169.62" y1="571.6" y2="573.4" stroke="#333" stroke-width="0.5"/>
<text x="169.62" y="578.6" font-family='Liberation Sans' font-size="5.3" fill="#4d4d4d" text-anchor="middle">0.1</text>
<line x1="191.05" x2="191.05" y1="571.6" y2="573.4" stroke="#333" stroke-width="0.5"/>
<text x="191.05" y="578.6" font-family='Liberation Sans' font-size="5.3" fill="#4d4d4d" text-anchor="middle">0.2</text>
<line x1="212.47" x2="212.47" y1="571.6" y2="573.4" stroke="#333" stroke-width="0.5"/>
<text x="212.47" y="578.6" font-family='Liberation Sans' font-size="5.3" fill="#4d4d4d" text-anchor="middle">0.3</text>
<line x1="233.9" x2="233.9" y1="571.6" y2="573.4" stroke="#333" stroke-width="0.5"/>
<text x="233.9" y="578.6" font-family='Liberation Sans' font-size="5.3" fill="#4d4d4d" text-anchor="middle">0.4</text>
<text x="191.15" y="586.9" font-family='Liberation Sans' font-size="7" fill="#1a1a1a" text-anchor="middle">Infiltration Level</text>
<rect x="249.4" y="463.3" width="103.6" height="10.9" fill="#d9d9d9" stroke="#333" stroke-width="0.7"/>
<text x="301.2" y="470.7" font-family='Liberation Sans' font-size="5.9" fill="#1a1a1a" text-anchor="middle">B cell memory_CIBERSORT</text>
<svg x="249.4" y="474.2" width="103.6" height="97.4" overflow="hidden"><g transform="translate(-249.4,-474.2)">
<line x1="249.4" x2="353" y1="563.3" y2="563.3" stroke="#f4f4f4" stroke-width="0.4"/>
<line x1="249.4" x2="353" y1="536.5" y2="536.5" stroke="#f4f4f4" stroke-width="0.4"/>
<line x1="249.4" x2="353" y1="509.7" y2="509.7" stroke="#f4f4f4" stroke-width="0.4"/>
<line x1="249.4" x2="353" y1="482.9" y2="482.9" stroke="#f4f4f4" stroke-width="0.4"/>
<line x1="243.94" x2="243.94" y1="474.2" y2="571.6" stroke="#f4f4f4" stroke-width="0.4"/>
<line x1="263.06" x2="263.06" y1="474.2" y2="571.6" stroke="#f4f4f4" stroke-width="0.4"/>
<line x1="282.18" x2="282.18" y1="474.2" y2="571.6" stroke="#f4f4f4" stroke-width="0.4"/>
<line x1="301.3" x2="301.3" y1="474.2" y2="571.6" stroke="#f4f4f4" stroke-width="0.4"/>
<line x1="320.42" x2="320.42" y1="474.2" y2="571.6" stroke="#f4f4f4" stroke-width="0.4"/>
<line x1="339.54" x2="339.54" y1="474.2" y2="571.6" stroke="#f4f4f4" stroke-width="0.4"/>
<line x1="358.66" x2="358.66" y1="474.2" y2="571.6" stroke="#f4f4f4" stroke-width="0.4"/>
<line x1="249.4" x2="353" y1="549.9" y2="549.9" stroke="#e6e6e6" stroke-width="0.55"/>
<line x1="249.4" x2="353" y1="523.1" y2="523.1" stroke="#e6e6e6" stroke-width="0.55"/>
<line x1="249.4" x2="353" y1="496.3" y2="496.3" stroke="#e6e6e6" stroke-width="0.55"/>
<line x1="253.5" x2="253.5" y1="474.2" y2="571.6" stroke="#e6e6e6" stroke-width="0.55"/>
<line x1="272.62" x2="272.62" y1="474.2" y2="571.6" stroke="#e6e6e6" stroke-width="0.55"/>
<line x1="291.74" x2="291.74" y1="474.2" y2="571.6" stroke="#e6e6e6" stroke-width="0.55"/>
<line x1="310.86" x2="310.86" y1="474.2" y2="571.6" stroke="#e6e6e6" stroke-width="0.55"/>
<line x1="329.98" x2="329.98" y1="474.2" y2="571.6" stroke="#e6e6e6" stroke-width="0.55"/>
<line x1="349.1" x2="349.1" y1="474.2" y2="571.6" stroke="#e6e6e6" stroke-width="0.55"/>
<polygon points="253.5,503.86 258.09,505.53 262.68,506.91 267.27,508.03 271.86,509.02 276.44,509.93 281.03,510.81 285.62,511.67 290.21,512.52 294.8,513.36 299.39,514.19 303.98,515.03 308.57,515.85 313.15,516.68 317.74,517.5 322.33,518.33 326.92,519.15 331.51,519.97 336.1,520.79 340.69,521.61 345.28,522.43 345.28,547.09 340.69,544.97 336.1,542.86 331.51,540.74 326.92,538.63 322.33,536.52 317.74,534.4 313.15,532.29 308.57,530.19 303.98,528.08 299.39,525.98 294.8,523.88 290.21,521.78 285.62,519.69 281.03,517.62 276.44,515.56 271.86,513.55 267.27,511.6 262.68,509.78 258.09,508.23 253.5,506.96" fill="#999" fill-opacity="0.38"/>
<path d="M294.17 496.16h0M253.56 492.69h0M254.75 507.41h0M253.96 502.31h0M267.67 508.65h0M259.02 503.4h0M254.05 502.51h0M294.21 509.77h0M253.84 492.03h0M253.53 509.43h0M253.86 565.07h0M253.79 506.45h0M262.01 499.36h0M253.93 502.35h0M253.52 511.05h0M253.6 514.17h0M254.26 495.55h0M261.9 500.7h0M271.91 489.82h0M267.01 514.87h0M262.48 510.89h0M254.25 507.47h0M273.11 512.43h0M255.81 493.05h0M253.87 516.95h0M263.88 561.62h0M254.14 504.74h0M254.18 511.01h0M265.51 513.75h0M256.5 520.49h0M260.25 511.29h0M254.04 490.17h0M254.19 524.27h0M254.2 544.45h0M254.23 499.57h0M254.07 509.54h0M253.9 527.67h0M260.54 519.4h0M253.89 506.1h0M285.48 506.96h0M254.13 502.31h0M257.84 502.56h0M259.19 504.85h0M254 494.6h0M253.67 517.54h0M268.24 500.87h0M253.9 499.47h0M253.71 511.38h0M260.07 485.38h0M254.05 522.5h0M253.78 504.15h0M254.01 497.44h0M254.23 505.09h0M254.06 504.07h0M253.7 528.65h0M256.86 515.48h0M258.58 516.61h0M253.53 515.58h0M272.85 501.02h0M253.76 525.93h0M253.72 508.94h0M253.52 502.11h0M254.09 498.49h0M258.18 502.07h0M254.18 504.8h0M272.53 504.94h0M253.67 506.57h0M255.29 503.21h0M254.17 500.27h0M253.95 498.61h0M253.89 490.45h0M254.23 544.84h0M253.96 490.84h0M253.51 497.34h0M257.56 499.28h0M253.54 503.82h0M253.62 541.84h0M253.99 503.09h0M254.25 492.38h0M295.42 525.67h0M253.84 502.84h0M253.95 509.24h0M258.16 500.31h0M253.82 503.31h0M253.5 514.2h0M253.81 484.65h0M254.05 506.94h0M253.58 505.49h0M253.68 512.49h0M253.9 502.56h0M253.74 504.56h0M267.79 514.26h0M254.19 529.49h0M288.31 519.66h0M253.89 549.73h0M262.94 504.01h0M253.64 498.17h0M254.11 488.79h0M253.9 516.75h0M256.65 503.66h0M260.24 509.2h0M253.51 501.5h0M280.05 522.06h0M253.73 502.72h0M254.3 514.13h0M253.81 548.22h0M253.66 489.15h0M255 510.52h0M253.72 491.82h0M254.22 486.57h0M254.08 491.46h0M253.94 530.98h0M253.85 510.29h0M257.35 506.68h0M253.56 535.98h0M256.48 494.82h0M267.72 509.53h0M254 503.08h0M257.18 497.29h0M262.49 511.94h0M254.11 509.2h0M253.9 496.76h0M254.23 510.24h0M253.62 496.01h0M291.17 543.12h0M253.68 511.19h0M253.7 493.83h0M254.02 503.69h0M268.64 503.06h0M253.77 511.13h0M272.72 513.72h0M253.55 508.24h0M254.18 503.95h0M286.14 509.85h0M253.73 508.04h0M254.01 487.29h0M262.57 503.56h0M253.9 528.03h0M253.91 517.53h0M289.03 505.45h0M253.9 516.67h0M254.43 533.59h0M254.04 507.48h0M254.26 554.8h0M273.77 486.26h0M259.83 511.99h0M253.96 508.8h0M261.64 503.57h0M253.89 513.88h0M253.81 521.01h0M267.28 508.25h0M254.24 520.02h0M254.07 497.8h0M259.29 548.11h0M257.58 506.5h0M258.97 527.16h0M254.01 516.45h0M285.79 499.76h0M253.86 511.99h0M263.79 489.81h0M262.78 506.87h0M254.22 504.28h0M269.79 508.81h0M266.37 529.29h0M254.12 562.27h0M258.42 505.3h0M268.5 503.51h0M254.12 513.17h0M253.97 488.6h0M253.69 515.22h0M259.84 493.13h0M270.75 511.62h0M253.87 490.08h0M254.83 499.37h0M253.82 491.28h0M264.51 510.61h0M253.7 502.61h0M253.52 508.06h0M254.08 512.06h0M254.07 554.4h0M265.33 493.77h0M261.59 504.64h0M257.27 499.99h0M253.86 502.31h0M253.51 496.38h0M257.77 508.07h0M278.61 493.09h0M253.79 497.13h0M254.17 504.11h0M254 511.44h0M253.91 507.15h0M269.3 562.19h0M253.99 516.14h0M261.77 499.96h0M267.83 520.94h0M253.98 550.79h0M253.91 505.68h0M264.92 512h0M259.16 513.04h0M253.85 502.27h0M253.71 502.09h0M271.79 502.73h0M259.44 501.25h0M253.78 509.08h0M253.56 512.48h0M253.63 510.93h0M253.72 503.47h0M262.6 481.56h0M258.38 511.68h0M255.52 496.22h0M253.64 506.94h0M257.39 513.74h0M253.77 496.98h0M255.33 506.05h0M270.79 505.04h0M254.13 507.47h0M254.17 503.21h0M268.13 503.51h0M288.67 491.22h0M253.74 514.11h0M268.21 518.87h0M276.6 518.92h0M259.8 481.56h0M259.95 506.95h0M254.23 507.46h0M253.86 516.86h0M260.59 517.21h0M254.23 517.26h0M253.52 506.85h0M253.77 498.62h0M265.52 517.29h0M253.92 507.64h0M254.14 512.09h0M253.72 508.16h0M264.34 501.23h0M253.74 515.2h0M257.88 515.56h0M253.69 486.33h0M253.69 504.62h0M253.69 519.97h0M253.97 508.37h0M253.79 505.07h0M256.48 500.9h0M253.61 500.25h0M268.52 543.49h0M253.9 488.53h0M260.59 512.23h0M254.09 521.32h0M279.47 499.79h0M253.86 502.25h0M273.75 509.55h0M254.14 492.26h0M263.62 506.85h0M295.27 489.51h0M259.74 508.21h0M253.81 492.82h0M253.54 488.74h0M254.26 490.01h0M254.22 522.16h0M256.8 523.72h0M254.11 545.64h0M253.58 500.08h0M253.63 498.24h0M254.01 507.42h0M254.24 530.54h0M255.45 508.9h0M254.19 526.8h0M253.87 506.21h0M260.77 495.36h0M253.65 512.24h0M262.14 516.44h0M267.82 504.41h0M255.57 510.08h0M253.88 497.44h0M253.59 504.92h0M253.66 524.99h0M253.66 532.92h0M253.98 507.51h0M266.03 495.24h0M254.2 538.9h0M253.58 512.55h0M262.11 501.35h0M255.8 500.66h0M253.83 555.29h0M253.8 512.4h0M262.52 501.28h0M263.49 524.66h0M254.09 495.62h0M274.93 483.75h0M257.64 517.87h0M254.8 488.85h0M255.5 499.82h0M253.65 510.29h0M261.71 511.77h0M264.09 561.18h0M256.46 509.89h0M253.97 497.7h0M260.1 554.77h0M253.65 509.2h0M253.99 492.34h0M253.64 501.25h0M294.97 498.95h0M264.59 500.75h0M253.72 545.61h0M254.13 482.67h0M257.03 496.96h0M273.82 499.85h0M253.82 505.72h0M266.98 491.46h0M254.04 514.23h0M254.2 499.38h0M253.75 506.98h0M253.8 501.83h0M254.21 561.25h0M254.09 519.31h0M257.38 520.16h0M263.46 504.91h0M253.86 494.45h0M253.65 526.38h0M253.65 502.36h0M253.94 504.64h0M253.63 518.72h0M256.9 502.69h0M255.79 487.5h0M266.52 513.68h0M256.89 555.33h0M254.14 497.83h0M253.51 494.53h0M260.97 532.5h0M253.74 503.94h0M253.7 516.52h0M259.18 503.48h0M254.14 536.18h0M253.94 512.46h0M253.62 505.18h0M262.1 490.15h0M253.55 493.49h0M265.32 499.56h0M254.11 502.67h0M260.55 491.04h0M253.73 530.62h0M293.58 498.55h0M254.04 512.56h0M266 503.83h0M253.68 533.33h0M253.55 492.85h0M261.58 503.33h0M253.98 505.72h0M253.83 556.38h0M279.28 489.52h0M253.79 518.91h0M253.67 497.43h0M254.13 505.86h0M254.22 517.37h0M267.63 552.28h0M253.89 504.12h0M253.89 497.67h0M254.1 493.33h0M258.47 508.65h0M254.16 518.42h0M253.87 560.26h0M253.61 497.31h0M253.91 499.3h0M260.23 505.95h0M257.65 522.52h0M255.06 491.13h0M254.01 481.56h0M253.61 505.39h0M254.01 489.08h0M254.22 511.8h0M253.76 512.32h0M257.08 498.02h0" stroke="#3a3a3a" stroke-opacity="0.64" stroke-width="2.1" stroke-linecap="round"/>
<line x1="253.5" y1="505.41" x2="345.28" y2="534.76" stroke="#3366ff" stroke-width="1.1"/>
</g></svg>
<rect x="249.4" y="474.2" width="103.6" height="97.4" fill="none" stroke="#333" stroke-width="0.75"/>
<text x="352.1" y="479.2" font-family='Liberation Sans' font-size="5.0" fill="#e31a1c" text-anchor="end">Rho = −0.175</text>
<text x="352.1" y="484.5" font-family='Liberation Sans' font-size="5.0" fill="#e31a1c" text-anchor="end">p = 6.15e−04</text>
<line x1="253.5" x2="253.5" y1="571.6" y2="573.4" stroke="#333" stroke-width="0.5"/>
<text x="253.5" y="578.6" font-family='Liberation Sans' font-size="5.3" fill="#4d4d4d" text-anchor="middle">0.0</text>
<line x1="272.62" x2="272.62" y1="571.6" y2="573.4" stroke="#333" stroke-width="0.5"/>
<text x="272.62" y="578.6" font-family='Liberation Sans' font-size="5.3" fill="#4d4d4d" text-anchor="middle">0.1</text>
<line x1="291.74" x2="291.74" y1="571.6" y2="573.4" stroke="#333" stroke-width="0.5"/>
<text x="291.74" y="578.6" font-family='Liberation Sans' font-size="5.3" fill="#4d4d4d" text-anchor="middle">0.2</text>
<line x1="310.86" x2="310.86" y1="571.6" y2="573.4" stroke="#333" stroke-width="0.5"/>
<text x="310.86" y="578.6" font-family='Liberation Sans' font-size="5.3" fill="#4d4d4d" text-anchor="middle">0.3</text>
<line x1="329.98" x2="329.98" y1="571.6" y2="573.4" stroke="#333" stroke-width="0.5"/>
<text x="329.98" y="578.6" font-family='Liberation Sans' font-size="5.3" fill="#4d4d4d" text-anchor="middle">0.4</text>
<line x1="349.1" x2="349.1" y1="571.6" y2="573.4" stroke="#333" stroke-width="0.5"/>
<text x="349.1" y="578.6" font-family='Liberation Sans' font-size="5.3" fill="#4d4d4d" text-anchor="middle">0.5</text>
<text x="298.2" y="586.9" font-family='Liberation Sans' font-size="7" fill="#1a1a1a" text-anchor="middle">Infiltration Level</text>
<rect x="355.8" y="463.3" width="103.6" height="10.9" fill="#d9d9d9" stroke="#333" stroke-width="0.7"/>
<text x="407.6" y="470.7" font-family='Liberation Sans' font-size="5.9" fill="#1a1a1a" text-anchor="middle">T cell CD8+_CIBERSORT</text>
<svg x="355.8" y="474.2" width="103.6" height="97.4" overflow="hidden"><g transform="translate(-355.8,-474.2)">
<line x1="355.8" x2="459.4" y1="563.3" y2="563.3" stroke="#f4f4f4" stroke-width="0.4"/>
<line x1="355.8" x2="459.4" y1="536.5" y2="536.5" stroke="#f4f4f4" stroke-width="0.4"/>
<line x1="355.8" x2="459.4" y1="509.7" y2="509.7" stroke="#f4f4f4" stroke-width="0.4"/>
<line x1="355.8" x2="459.4" y1="482.9" y2="482.9" stroke="#f4f4f4" stroke-width="0.4"/>
<line x1="347.55" x2="347.55" y1="474.2" y2="571.6" stroke="#f4f4f4" stroke-width="0.4"/>
<line x1="371.65" x2="371.65" y1="474.2" y2="571.6" stroke="#f4f4f4" stroke-width="0.4"/>
<line x1="395.75" x2="395.75" y1="474.2" y2="571.6" stroke="#f4f4f4" stroke-width="0.4"/>
<line x1="419.85" x2="419.85" y1="474.2" y2="571.6" stroke="#f4f4f4" stroke-width="0.4"/>
<line x1="443.95" x2="443.95" y1="474.2" y2="571.6" stroke="#f4f4f4" stroke-width="0.4"/>
<line x1="468.05" x2="468.05" y1="474.2" y2="571.6" stroke="#f4f4f4" stroke-width="0.4"/>
<line x1="355.8" x2="459.4" y1="549.9" y2="549.9" stroke="#e6e6e6" stroke-width="0.55"/>
<line x1="355.8" x2="459.4" y1="523.1" y2="523.1" stroke="#e6e6e6" stroke-width="0.55"/>
<line x1="355.8" x2="459.4" y1="496.3" y2="496.3" stroke="#e6e6e6" stroke-width="0.55"/>
<line x1="359.6" x2="359.6" y1="474.2" y2="571.6" stroke="#e6e6e6" stroke-width="0.55"/>
<line x1="383.7" x2="383.7" y1="474.2" y2="571.6" stroke="#e6e6e6" stroke-width="0.55"/>
<line x1="407.8" x2="407.8" y1="474.2" y2="571.6" stroke="#e6e6e6" stroke-width="0.55"/>
<line x1="431.9" x2="431.9" y1="474.2" y2="571.6" stroke="#e6e6e6" stroke-width="0.55"/>
<line x1="456" x2="456" y1="474.2" y2="571.6" stroke="#e6e6e6" stroke-width="0.55"/>
<polygon points="359.6,500.84 364.3,501.65 369,502.45 373.7,503.22 378.4,503.97 383.1,504.69 387.8,505.37 392.5,506.02 397.2,506.63 401.9,507.2 406.6,507.75 411.29,508.29 415.99,508.8 420.69,509.3 425.39,509.8 430.09,510.28 434.79,510.76 439.49,511.24 444.19,511.71 448.89,512.18 453.59,512.65 453.59,519.08 448.89,518.22 444.19,517.36 439.49,516.51 434.79,515.66 430.09,514.81 425.39,513.97 420.69,513.14 415.99,512.31 411.29,511.5 406.6,510.71 401.9,509.93 397.2,509.18 392.5,508.47 387.8,507.78 383.1,507.14 378.4,506.53 373.7,505.95 369,505.4 364.3,504.87 359.6,504.35" fill="#999" fill-opacity="0.38"/>
<path d="M370.33 496.16h0M359.63 492.69h0M383.08 507.41h0M394.25 502.31h0M378.4 508.65h0M424.75 503.4h0M361.43 502.51h0M382.55 509.77h0M387.14 492.03h0M435.33 509.43h0M388.63 565.07h0M401.15 506.45h0M368.81 499.36h0M375.14 502.35h0M374.96 511.05h0M362.53 514.17h0M443.22 495.55h0M367.88 500.7h0M449.22 489.82h0M381.46 514.87h0M374 510.89h0M361.53 507.47h0M370.28 512.43h0M361.08 493.05h0M364.66 516.95h0M413.46 561.62h0M361.05 504.74h0M363.13 511.01h0M361.69 513.75h0M378.31 520.49h0M416.69 511.29h0M371.67 490.17h0M368.41 524.27h0M362.74 544.45h0M393.37 499.57h0M381.61 509.54h0M361.08 527.67h0M402.59 519.4h0M391.19 506.1h0M361.23 506.96h0M409.67 502.31h0M380.65 502.56h0M378.37 504.85h0M396.52 494.6h0M402.2 517.54h0M386.86 500.87h0M384.36 499.47h0M392.99 511.38h0M369.95 485.38h0M405.13 522.5h0M407.38 504.15h0M384.85 497.44h0M390.95 505.09h0M388.44 504.07h0M394.38 528.65h0M391.94 515.48h0M392.44 516.61h0M370.7 515.58h0M361.87 501.02h0M450.45 525.93h0M447.15 508.94h0M394.75 502.11h0M365.46 498.49h0M401.24 502.07h0M361.78 504.8h0M411.04 504.94h0M361.4 506.57h0M377.12 503.21h0M403.99 500.27h0M377.71 498.61h0M392.96 490.45h0M389.51 544.84h0M400.61 490.84h0M440.43 497.34h0M360.25 499.28h0M362.87 503.82h0M359.73 541.84h0M387.94 503.09h0M360.81 492.38h0M379.2 525.67h0M372.1 502.84h0M368.37 509.24h0M362.14 500.31h0M375.86 503.31h0M363.68 514.2h0M368.29 484.65h0M371.92 506.94h0M395.86 505.49h0M384.25 512.49h0M401.61 502.56h0M408.4 504.56h0M439.59 514.26h0M360.41 529.49h0M367.88 519.66h0M361.24 549.73h0M359.95 504.01h0M359.82 498.17h0M361.63 488.79h0M377.5 516.75h0M402.09 503.66h0M361.45 509.2h0M382.21 501.5h0M399.14 522.06h0M376.99 502.72h0M388.38 514.13h0M393.62 548.22h0M373.01 489.15h0M391.82 510.52h0M418.63 491.82h0M374.88 486.57h0M361.07 491.46h0M361.4 530.98h0M424.42 510.29h0M378.76 506.68h0M389.73 535.98h0M401.92 494.82h0M412.15 509.53h0M395.32 503.08h0M360.76 497.29h0M390.12 511.94h0M395.77 509.2h0M422.33 496.76h0M397.31 510.24h0M360.56 496.01h0M417.94 543.12h0M421.66 511.19h0M379.33 493.83h0M409.17 503.69h0M362.46 503.06h0M403.26 511.13h0M413.12 513.72h0M359.82 508.24h0M380.18 503.95h0M360.41 509.85h0M373.81 508.04h0M417.42 487.29h0M384.58 503.56h0M406.67 528.03h0M403.32 517.53h0M387.12 505.45h0M359.61 516.67h0M381.33 533.59h0M407.81 507.48h0M370.24 554.8h0M384.22 486.26h0M371.26 511.99h0M432.08 508.8h0M403.59 503.57h0M367.52 513.88h0M374.09 521.01h0M361.33 508.25h0M360.84 520.02h0M377.35 497.8h0M398.08 548.11h0M385.3 506.5h0M370.27 527.16h0M366.83 516.45h0M359.87 499.76h0M382.39 511.99h0M374.55 489.81h0M383.54 506.87h0M364.34 504.28h0M374.87 508.81h0M361.54 529.29h0M448.37 562.27h0M365.94 505.3h0M373.48 503.51h0M422.58 513.17h0M408.5 488.6h0M384.07 515.22h0M360.81 493.13h0M400.35 511.62h0M413.21 490.08h0M375.93 499.37h0M360.9 491.28h0M413.66 510.61h0M391.83 502.61h0M429.07 508.06h0M382.84 512.06h0M443.5 554.4h0M370.46 493.77h0M389.32 504.64h0M385.24 499.99h0M368.97 502.31h0M380.17 496.38h0M376.27 508.07h0M389 493.09h0M364.55 497.13h0M380.13 504.11h0M393.66 511.44h0M396.29 507.15h0M385.38 562.19h0M386.67 516.14h0M399.31 499.96h0M360.57 520.94h0M420.7 550.79h0M389.96 505.68h0M374.12 512h0M374.42 513.04h0M387.51 502.27h0M367.97 502.09h0M391.75 502.73h0M364.99 501.25h0M359.67 509.08h0M361.18 512.48h0M406.87 510.93h0M387.16 503.47h0M360.33 481.56h0M389.55 511.68h0M381.66 496.22h0M372.68 506.94h0M402.55 513.74h0M393.11 496.98h0M367.94 506.05h0M386.75 505.04h0M367.43 507.47h0M380.2 503.21h0M369.83 503.51h0M359.85 491.22h0M388.73 514.11h0M365.12 518.87h0M360.54 518.92h0M360.56 481.56h0M401.57 506.95h0M361.16 507.46h0M391.63 516.86h0M360.15 517.21h0M407.95 517.26h0M387.53 506.85h0M364.38 498.62h0M407.45 517.29h0M396.59 507.64h0M388.5 512.09h0M379.89 508.16h0M368.31 501.23h0M364.66 515.2h0M404.76 515.56h0M401.33 486.33h0M360.43 504.62h0M360.93 519.97h0M365.2 508.37h0M393.44 505.07h0M414.33 500.9h0M385.44 500.25h0M392.22 543.49h0M429.68 488.53h0M366.18 512.23h0M422.59 521.32h0M400.89 499.79h0M411.94 502.25h0M402.77 509.55h0M396.82 492.26h0M383.35 506.85h0M372.08 489.51h0M382.13 508.21h0M359.97 492.82h0M371.57 488.74h0M416.4 490.01h0M373.18 522.16h0M370.52 523.72h0M380.13 545.64h0M440.49 500.08h0M384.42 498.24h0M381.77 507.42h0M392.98 530.54h0M386.73 508.9h0M387.53 526.8h0M383.2 506.21h0M360.35 495.36h0M389.45 512.24h0M383.42 516.44h0M388.03 504.41h0M440.57 510.08h0M385.03 497.44h0M360.99 504.92h0M385.01 524.99h0M445.98 532.92h0M386.04 507.51h0M371.75 495.24h0M374.71 538.9h0M401.88 512.55h0M382.8 501.35h0M370.47 500.66h0M394.45 555.29h0M399.78 512.4h0M360.98 501.28h0M372.02 524.66h0M401.43 495.62h0M384.61 483.75h0M448.98 517.87h0M391.73 488.85h0M379.33 499.82h0M416.69 510.29h0M372.96 511.77h0M360.15 561.18h0M360.87 509.89h0M394.46 497.7h0M366.34 554.77h0M399.6 509.2h0M360.17 492.34h0M403.74 501.25h0M401.76 498.95h0M361.43 500.75h0M377.31 545.61h0M386.93 482.67h0M380.46 496.96h0M368.47 499.85h0M411.02 505.72h0M360.06 491.46h0M451.01 514.23h0M409.38 499.38h0M422.64 506.98h0M396.89 501.83h0M385.48 561.25h0M368.52 519.31h0M379.99 520.16h0M409.32 504.91h0M442.31 494.45h0M372.19 526.38h0M398.4 502.36h0M361.7 504.64h0M405.66 518.72h0M360.9 502.69h0M395.57 487.5h0M399.28 513.68h0M371.35 555.33h0M443.54 497.83h0M398.93 494.53h0M395.89 532.5h0M395.61 503.94h0M399.24 516.52h0M380.42 503.48h0M425.04 536.18h0M397.5 512.46h0M361.66 505.18h0M397.42 490.15h0M382.08 493.49h0M399.04 499.56h0M366.84 502.67h0M369.08 491.04h0M398.78 530.62h0M369.95 498.55h0M398.18 512.56h0M401.38 503.83h0M387.01 533.33h0M400.43 492.85h0M362.73 503.33h0M416.72 505.72h0M411.64 556.38h0M360.45 489.52h0M380.16 518.91h0M381.53 497.43h0M397.88 505.86h0M377.68 517.37h0M360.66 552.28h0M360.76 504.12h0M383.42 497.67h0M376.31 493.33h0M406.94 508.65h0M396.83 518.42h0M399.87 560.26h0M376.71 497.31h0M394.94 499.3h0M432.41 505.95h0M369.65 522.52h0M403.12 491.13h0M368.55 481.56h0M436.66 505.39h0M403.26 489.08h0M393.81 511.8h0M411.19 512.32h0M396.16 498.02h0" stroke="#3a3a3a" stroke-opacity="0.64" stroke-width="2.1" stroke-linecap="round"/>
<line x1="359.6" y1="502.6" x2="453.59" y2="515.86" stroke="#3366ff" stroke-width="1.1"/>
</g></svg>
<rect x="355.8" y="474.2" width="103.6" height="97.4" fill="none" stroke="#333" stroke-width="0.75"/>
<text x="458.5" y="479.2" font-family='Liberation Sans' font-size="5.0" fill="#e31a1c" text-anchor="end">Rho = −0.18</text>
<text x="458.5" y="484.5" font-family='Liberation Sans' font-size="5.0" fill="#e31a1c" text-anchor="end">p = 4.43e−04</text>
<line x1="359.6" x2="359.6" y1="571.6" y2="573.4" stroke="#333" stroke-width="0.5"/>
<text x="359.6" y="578.6" font-family='Liberation Sans' font-size="5.3" fill="#4d4d4d" text-anchor="middle">0.0</text>
<line x1="383.7" x2="383.7" y1="571.6" y2="573.4" stroke="#333" stroke-width="0.5"/>
<text x="383.7" y="578.6" font-family='Liberation Sans' font-size="5.3" fill="#4d4d4d" text-anchor="middle">0.1</text>
<line x1="407.8" x2="407.8" y1="571.6" y2="573.4" stroke="#333" stroke-width="0.5"/>
<text x="407.8" y="578.6" font-family='Liberation Sans' font-size="5.3" fill="#4d4d4d" text-anchor="middle">0.2</text>
<line x1="431.9" x2="431.9" y1="571.6" y2="573.4" stroke="#333" stroke-width="0.5"/>
<text x="431.9" y="578.6" font-family='Liberation Sans' font-size="5.3" fill="#4d4d4d" text-anchor="middle">0.3</text>
<line x1="456" x2="456" y1="571.6" y2="573.4" stroke="#333" stroke-width="0.5"/>
<text x="456" y="578.6" font-family='Liberation Sans' font-size="5.3" fill="#4d4d4d" text-anchor="middle">0.4</text>
<text x="404.6" y="586.9" font-family='Liberation Sans' font-size="7" fill="#1a1a1a" text-anchor="middle">Infiltration Level</text>
<rect x="462.8" y="463.3" width="103.2" height="10.9" fill="#d9d9d9" stroke="#333" stroke-width="0.7"/>
<text x="514.4" y="470.7" font-family='Liberation Sans' font-size="5.9" fill="#1a1a1a" text-anchor="middle">T cell gamma delta_CIBERSORT</text>
<svg x="462.8" y="474.2" width="103.2" height="97.4" overflow="hidden"><g transform="translate(-462.8,-474.2)">
<line x1="462.8" x2="566" y1="563.3" y2="563.3" stroke="#f4f4f4" stroke-width="0.4"/>
<line x1="462.8" x2="566" y1="536.5" y2="536.5" stroke="#f4f4f4" stroke-width="0.4"/>
<line x1="462.8" x2="566" y1="509.7" y2="509.7" stroke="#f4f4f4" stroke-width="0.4"/>
<line x1="462.8" x2="566" y1="482.9" y2="482.9" stroke="#f4f4f4" stroke-width="0.4"/>
<line x1="455.85" x2="455.85" y1="474.2" y2="571.6" stroke="#f4f4f4" stroke-width="0.4"/>
<line x1="478.55" x2="478.55" y1="474.2" y2="571.6" stroke="#f4f4f4" stroke-width="0.4"/>
<line x1="501.25" x2="501.25" y1="474.2" y2="571.6" stroke="#f4f4f4" stroke-width="0.4"/>
<line x1="523.95" x2="523.95" y1="474.2" y2="571.6" stroke="#f4f4f4" stroke-width="0.4"/>
<line x1="546.65" x2="546.65" y1="474.2" y2="571.6" stroke="#f4f4f4" stroke-width="0.4"/>
<line x1="569.35" x2="569.35" y1="474.2" y2="571.6" stroke="#f4f4f4" stroke-width="0.4"/>
<line x1="462.8" x2="566" y1="549.9" y2="549.9" stroke="#e6e6e6" stroke-width="0.55"/>
<line x1="462.8" x2="566" y1="523.1" y2="523.1" stroke="#e6e6e6" stroke-width="0.55"/>
<line x1="462.8" x2="566" y1="496.3" y2="496.3" stroke="#e6e6e6" stroke-width="0.55"/>
<line x1="467.2" x2="467.2" y1="474.2" y2="571.6" stroke="#e6e6e6" stroke-width="0.55"/>
<line x1="489.9" x2="489.9" y1="474.2" y2="571.6" stroke="#e6e6e6" stroke-width="0.55"/>
<line x1="512.6" x2="512.6" y1="474.2" y2="571.6" stroke="#e6e6e6" stroke-width="0.55"/>
<line x1="535.3" x2="535.3" y1="474.2" y2="571.6" stroke="#e6e6e6" stroke-width="0.55"/>
<line x1="558" x2="558" y1="474.2" y2="571.6" stroke="#e6e6e6" stroke-width="0.55"/>
<polygon points="467.2,505.55 471.91,505.5 476.62,505.17 481.33,504.72 486.04,504.23 490.75,503.72 495.46,503.2 500.17,502.67 504.88,502.14 509.59,501.6 514.3,501.06 519.01,500.52 523.72,499.98 528.43,499.44 533.14,498.9 537.85,498.35 542.56,497.81 547.27,497.27 551.98,496.72 556.69,496.18 561.4,495.63 561.4,524.31 556.69,523.43 551.98,522.55 547.27,521.67 542.56,520.79 537.85,519.91 533.14,519.03 528.43,518.15 523.72,517.27 519.01,516.4 514.3,515.52 509.59,514.65 504.88,513.78 500.17,512.91 495.46,512.04 490.75,511.19 486.04,510.34 481.33,509.52 476.62,508.74 471.91,508.07 467.2,507.69" fill="#999" fill-opacity="0.38"/>
<path d="M467.34 496.16h0M467.41 492.69h0M467.75 507.41h0M468.29 502.31h0M467.5 508.65h0M467.58 503.4h0M467.34 502.51h0M468.46 509.77h0M468.3 492.03h0M467.46 509.43h0M468.05 565.07h0M468.36 506.45h0M467.32 499.36h0M468.11 502.35h0M467.44 511.05h0M467.32 514.17h0M468.38 495.55h0M467.61 500.7h0M467.98 489.82h0M468.36 514.87h0M467.76 510.89h0M467.79 507.47h0M467.62 512.43h0M467.26 493.05h0M468.05 516.95h0M467.93 561.62h0M467.67 504.74h0M487.7 511.01h0M467.48 513.75h0M467.58 520.49h0M468.22 511.29h0M467.96 490.17h0M467.34 524.27h0M467.51 544.45h0M468.04 499.57h0M467.65 509.54h0M467.83 527.67h0M468.15 519.4h0M468.5 506.1h0M468.51 506.96h0M467.59 502.31h0M468.26 502.56h0M468.48 504.85h0M468.31 494.6h0M467.46 517.54h0M467.39 500.87h0M468.51 499.47h0M467.21 511.38h0M467.43 485.38h0M467.69 522.5h0M467.33 504.15h0M507.66 497.44h0M467.28 505.09h0M467.43 504.07h0M467.4 528.65h0M467.87 515.48h0M468.56 516.61h0M467.92 515.58h0M467.76 501.02h0M512.36 525.93h0M467.76 508.94h0M467.77 502.11h0M468.41 498.49h0M467.88 502.07h0M467.55 504.8h0M467.48 504.94h0M468.38 506.57h0M467.27 503.21h0M467.97 500.27h0M505.82 498.61h0M468.09 490.45h0M468.21 544.84h0M467.33 490.84h0M468.39 497.34h0M468.46 499.28h0M468.09 503.82h0M468.08 541.84h0M467.92 503.09h0M468.13 492.38h0M468.46 525.67h0M467.3 502.84h0M468.51 509.24h0M467.26 500.31h0M467.37 503.31h0M468.11 514.2h0M467.43 484.65h0M467.98 506.94h0M468.46 505.49h0M467.2 512.49h0M467.22 502.56h0M467.36 504.56h0M468.27 514.26h0M467.95 529.49h0M467.47 519.66h0M467.65 549.73h0M468.25 504.01h0M467.92 498.17h0M467.25 488.79h0M467.87 516.75h0M468.03 503.66h0M467.69 509.2h0M467.91 501.5h0M468.34 522.06h0M467.32 502.72h0M467.72 514.13h0M467.62 548.22h0M467.86 489.15h0M467.33 510.52h0M468.05 491.82h0M467.9 486.57h0M468.37 491.46h0M467.29 530.98h0M467.47 510.29h0M468.34 506.68h0M468.29 535.98h0M468.39 494.82h0M467.4 509.53h0M467.66 503.08h0M468.43 497.29h0M467.21 511.94h0M467.94 509.2h0M468.17 496.76h0M467.3 510.24h0M468.35 496.01h0M468.24 543.12h0M525.38 511.19h0M468.03 493.83h0M468.44 503.69h0M468.44 503.06h0M468.38 511.13h0M468.03 513.72h0M467.39 508.24h0M467.69 503.95h0M467.38 509.85h0M467.4 508.04h0M467.44 487.29h0M467.71 503.56h0M467.68 528.03h0M467.33 517.53h0M468.48 505.45h0M468.09 516.67h0M467.61 533.59h0M467.23 507.48h0M468.33 554.8h0M468.3 486.26h0M467.42 511.99h0M467.87 508.8h0M468.48 503.57h0M468.52 513.88h0M468.09 521.01h0M468.21 508.25h0M468.33 520.02h0M468.46 497.8h0M468.02 548.11h0M468.16 506.5h0M467.51 527.16h0M468.05 516.45h0M549.17 499.76h0M467.75 511.99h0M467.59 489.81h0M467.22 506.87h0M467.94 504.28h0M468.04 508.81h0M468.5 529.29h0M467.41 562.27h0M468.53 505.3h0M551.01 503.51h0M467.63 513.17h0M467.55 488.6h0M468.46 515.22h0M468.26 493.13h0M467.52 511.62h0M468.49 490.08h0M468.28 499.37h0M467.95 491.28h0M467.56 510.61h0M467.41 502.61h0M467.24 508.06h0M467.37 512.06h0M468.55 554.4h0M468.41 493.77h0M468.2 504.64h0M468.5 499.99h0M468.18 502.31h0M468.14 496.38h0M467.95 508.07h0M467.41 493.09h0M467.86 497.13h0M467.43 504.11h0M467.55 511.44h0M468.13 507.15h0M467.65 562.19h0M467.78 516.14h0M468.39 499.96h0M468.51 520.94h0M467.41 550.79h0M468.32 505.68h0M467.95 512h0M468.18 513.04h0M468.32 502.27h0M532.35 502.09h0M468.48 502.73h0M468.35 501.25h0M468 509.08h0M468.04 512.48h0M467.62 510.93h0M468.42 503.47h0M467.25 481.56h0M467.55 511.68h0M468.1 496.22h0M468.42 506.94h0M467.66 513.74h0M468.41 496.98h0M468.4 506.05h0M468.15 505.04h0M467.92 507.47h0M501.46 503.21h0M468.17 503.51h0M467.94 491.22h0M467.54 514.11h0M467.3 518.87h0M468.44 518.92h0M467.36 481.56h0M542.85 506.95h0M467.2 507.46h0M468.05 516.86h0M467.22 517.21h0M467.25 517.26h0M467.4 506.85h0M468.41 498.62h0M468.31 517.29h0M467.73 507.64h0M467.25 512.09h0M468.53 508.16h0M468.38 501.23h0M468.14 515.2h0M468.16 515.56h0M467.44 486.33h0M468.41 504.62h0M467.58 519.97h0M467.75 508.37h0M468.35 505.07h0M468.04 500.9h0M467.9 500.25h0M467.56 543.49h0M468.45 488.53h0M468.23 512.23h0M468.54 521.32h0M467.33 499.79h0M468.47 502.25h0M468.41 509.55h0M467.36 492.26h0M467.82 506.85h0M485.15 489.51h0M468.35 508.21h0M468.52 492.82h0M467.97 488.74h0M468.44 490.01h0M468.35 522.16h0M468.18 523.72h0M468.24 545.64h0M467.48 500.08h0M467.64 498.24h0M468.54 507.42h0M467.7 530.54h0M485.63 508.9h0M468.5 526.8h0M468.13 506.21h0M475.63 495.36h0M468.16 512.24h0M468.35 516.44h0M467.47 504.41h0M467.85 510.08h0M467.94 497.44h0M468.21 504.92h0M468.23 524.99h0M467.41 532.92h0M467.52 507.51h0M467.46 495.24h0M467.67 538.9h0M468.16 512.55h0M467.46 501.35h0M468.54 500.66h0M467.24 555.29h0M468.32 512.4h0M468.48 501.28h0M467.26 524.66h0M468.18 495.62h0M467.39 483.75h0M467.83 517.87h0M467.81 488.85h0M467.24 499.82h0M468.2 510.29h0M467.36 511.77h0M467.96 561.18h0M467.86 509.89h0M516.66 497.7h0M468.04 554.77h0M468.02 509.2h0M467.23 492.34h0M468.29 501.25h0M467.26 498.95h0M467.59 500.75h0M467.63 545.61h0M467.43 482.67h0M468.12 496.96h0M468.51 499.85h0M467.55 505.72h0M467.93 491.46h0M467.7 514.23h0M467.47 499.38h0M467.36 506.98h0M468.01 501.83h0M483.13 561.25h0M468.01 519.31h0M468.32 520.16h0M467.31 504.91h0M468.27 494.45h0M467.94 526.38h0M467.28 502.36h0M468.38 504.64h0M467.84 518.72h0M468.14 502.69h0M468.41 487.5h0M467.77 513.68h0M467.92 555.33h0M468.35 497.83h0M467.79 494.53h0M467.78 532.5h0M467.59 503.94h0M468.5 516.52h0M467.48 503.48h0M468.46 536.18h0M471.53 512.46h0M467.6 505.18h0M467.78 490.15h0M468.07 493.49h0M468.06 499.56h0M467.95 502.67h0M467.29 491.04h0M467.38 530.62h0M468.24 498.55h0M467.66 512.56h0M468 503.83h0M468.07 533.33h0M468.5 492.85h0M468.25 503.33h0M467.78 505.72h0M467.69 556.38h0M467.91 489.52h0M467.54 518.91h0M467.43 497.43h0M468.09 505.86h0M467.99 517.37h0M467.46 552.28h0M468.13 504.12h0M468.5 497.67h0M467.65 493.33h0M467.63 508.65h0M467.63 518.42h0M467.86 560.26h0M467.7 497.31h0M467.63 499.3h0M468.29 505.95h0M468.34 522.52h0M467.33 491.13h0M473.48 481.56h0M468.38 505.39h0M468.09 489.08h0M467.5 511.8h0M468.52 512.32h0M467.53 498.02h0" stroke="#3a3a3a" stroke-opacity="0.64" stroke-width="2.1" stroke-linecap="round"/>
<line x1="467.2" y1="506.62" x2="561.4" y2="509.97" stroke="#3366ff" stroke-width="1.1"/>
</g></svg>
<rect x="462.8" y="474.2" width="103.2" height="97.4" fill="none" stroke="#333" stroke-width="0.75"/>
<text x="565.1" y="479.2" font-family='Liberation Sans' font-size="5.0" fill="#e31a1c" text-anchor="end">Rho = −0.121</text>
<text x="565.1" y="484.5" font-family='Liberation Sans' font-size="5.0" fill="#e31a1c" text-anchor="end">p = 1.84e−02</text>
<line x1="467.2" x2="467.2" y1="571.6" y2="573.4" stroke="#333" stroke-width="0.5"/>
<text x="467.2" y="578.6" font-family='Liberation Sans' font-size="5.3" fill="#4d4d4d" text-anchor="middle">0.00</text>
<line x1="489.9" x2="489.9" y1="571.6" y2="573.4" stroke="#333" stroke-width="0.5"/>
<text x="489.9" y="578.6" font-family='Liberation Sans' font-size="5.3" fill="#4d4d4d" text-anchor="middle">0.02</text>
<line x1="512.6" x2="512.6" y1="571.6" y2="573.4" stroke="#333" stroke-width="0.5"/>
<text x="512.6" y="578.6" font-family='Liberation Sans' font-size="5.3" fill="#4d4d4d" text-anchor="middle">0.04</text>
<line x1="535.3" x2="535.3" y1="571.6" y2="573.4" stroke="#333" stroke-width="0.5"/>
<text x="535.3" y="578.6" font-family='Liberation Sans' font-size="5.3" fill="#4d4d4d" text-anchor="middle">0.06</text>
<line x1="558" x2="558" y1="571.6" y2="573.4" stroke="#333" stroke-width="0.5"/>
<text x="558" y="578.6" font-family='Liberation Sans' font-size="5.3" fill="#4d4d4d" text-anchor="middle">0.08</text>
<text x="511.4" y="586.9" font-family='Liberation Sans' font-size="7" fill="#1a1a1a" text-anchor="middle">Infiltration Level</text>
<rect x="569.6" y="463.3" width="103.2" height="10.9" fill="#d9d9d9" stroke="#333" stroke-width="0.7"/>
<text x="621.2" y="470.7" font-family='Liberation Sans' font-size="5.9" fill="#1a1a1a" text-anchor="middle" textLength="100.2" lengthAdjust="spacingAndGlyphs">T cell regulatory (Tregs)_CIBERSORT</text>
<svg x="569.6" y="474.2" width="103.2" height="97.4" overflow="hidden"><g transform="translate(-569.6,-474.2)">
<line x1="569.6" x2="672.8" y1="563.3" y2="563.3" stroke="#f4f4f4" stroke-width="0.4"/>
<line x1="569.6" x2="672.8" y1="536.5" y2="536.5" stroke="#f4f4f4" stroke-width="0.4"/>
<line x1="569.6" x2="672.8" y1="509.7" y2="509.7" stroke="#f4f4f4" stroke-width="0.4"/>
<line x1="569.6" x2="672.8" y1="482.9" y2="482.9" stroke="#f4f4f4" stroke-width="0.4"/>
<line x1="558.92" x2="558.92" y1="474.2" y2="571.6" stroke="#f4f4f4" stroke-width="0.4"/>
<line x1="588.08" x2="588.08" y1="474.2" y2="571.6" stroke="#f4f4f4" stroke-width="0.4"/>
<line x1="617.25" x2="617.25" y1="474.2" y2="571.6" stroke="#f4f4f4" stroke-width="0.4"/>
<line x1="646.42" x2="646.42" y1="474.2" y2="571.6" stroke="#f4f4f4" stroke-width="0.4"/>
<line x1="675.58" x2="675.58" y1="474.2" y2="571.6" stroke="#f4f4f4" stroke-width="0.4"/>
<line x1="569.6" x2="672.8" y1="549.9" y2="549.9" stroke="#e6e6e6" stroke-width="0.55"/>
<line x1="569.6" x2="672.8" y1="523.1" y2="523.1" stroke="#e6e6e6" stroke-width="0.55"/>
<line x1="569.6" x2="672.8" y1="496.3" y2="496.3" stroke="#e6e6e6" stroke-width="0.55"/>
<line x1="573.5" x2="573.5" y1="474.2" y2="571.6" stroke="#e6e6e6" stroke-width="0.55"/>
<line x1="602.67" x2="602.67" y1="474.2" y2="571.6" stroke="#e6e6e6" stroke-width="0.55"/>
<line x1="631.83" x2="631.83" y1="474.2" y2="571.6" stroke="#e6e6e6" stroke-width="0.55"/>
<line x1="661" x2="661" y1="474.2" y2="571.6" stroke="#e6e6e6" stroke-width="0.55"/>
<polygon points="573.5,506.17 578.23,506.2 582.95,506.21 587.67,506.16 592.4,506.05 597.12,505.85 601.85,505.53 606.58,505.12 611.3,504.64 616.02,504.11 620.75,503.55 625.48,502.98 630.2,502.39 634.92,501.79 639.65,501.19 644.38,500.58 649.1,499.97 653.83,499.36 658.55,498.74 663.27,498.12 668,497.51 668,508.76 663.27,508.67 658.55,508.57 653.83,508.48 649.1,508.39 644.38,508.3 639.65,508.21 634.92,508.13 630.2,508.06 625.48,507.99 620.75,507.94 616.02,507.91 611.3,507.9 606.58,507.94 601.85,508.05 597.12,508.26 592.4,508.58 587.67,508.99 582.95,509.47 578.23,510 573.5,510.55" fill="#999" fill-opacity="0.38"/>
<path d="M592.58 496.16h0M651.66 492.69h0M610.19 507.41h0M579.02 502.31h0M646.36 508.65h0M615.1 503.4h0M594.31 502.51h0M612.18 509.77h0M573.88 492.03h0M615.41 509.43h0M581.45 565.07h0M606.92 506.45h0M573.5 499.36h0M609.39 502.35h0M602.84 511.05h0M634.4 514.17h0M611.54 495.55h0M589.57 500.7h0M614.74 489.82h0M660.63 514.87h0M585.82 510.89h0M598.04 507.47h0M574.03 512.43h0M600.99 493.05h0M574.69 516.95h0M584.01 561.62h0M618.97 504.74h0M575.7 511.01h0M575.21 513.75h0M574.81 520.49h0M596.6 511.29h0M574.88 490.17h0M592.18 524.27h0M573.82 544.45h0M619.96 499.57h0M592.98 509.54h0M663.45 527.67h0M583.03 519.4h0M607.99 506.1h0M574.81 506.96h0M596.45 502.31h0M613.82 502.56h0M590.84 504.85h0M605.49 494.6h0M640.3 517.54h0M587.37 500.87h0M596.51 499.47h0M574.71 511.38h0M617.92 485.38h0M575.23 522.5h0M599.2 504.15h0M595.47 497.44h0M613.43 505.09h0M589.56 504.07h0M610.41 528.65h0M596.25 515.48h0M610.05 516.61h0M645.27 515.58h0M611.22 501.02h0M574.26 525.93h0M574.98 508.94h0M606.28 502.11h0M610.04 498.49h0M634.96 502.07h0M591.78 504.8h0M577.4 504.94h0M602.51 506.57h0M664.49 503.21h0M605.21 500.27h0M590.59 498.61h0M599.27 490.45h0M603.2 544.84h0M583.7 490.84h0M586.57 497.34h0M573.67 499.28h0M590.57 503.82h0M582.56 541.84h0M589.5 503.09h0M646.4 492.38h0M582.58 525.67h0M574.46 502.84h0M586.23 509.24h0M579.59 500.31h0M597.89 503.31h0M581.03 514.2h0M600.3 484.65h0M581.98 506.94h0M578.86 505.49h0M638.72 512.49h0M589.99 502.56h0M611.69 504.56h0M582.45 514.26h0M589.45 529.49h0M576.27 519.66h0M575.06 549.73h0M583.42 504.01h0M597.13 498.17h0M573.59 488.79h0M573.78 516.75h0M587.9 503.66h0M585.62 509.2h0M609.82 501.5h0M598.2 522.06h0M573.73 502.72h0M597.9 514.13h0M574.31 548.22h0M602.61 489.15h0M584.85 510.52h0M608.54 491.82h0M588.15 486.57h0M587.83 491.46h0M597.78 530.98h0M613.51 510.29h0M574.45 506.68h0M598.43 535.98h0M619.94 494.82h0M586.94 509.53h0M585.15 503.08h0M574.54 497.29h0M583 511.94h0M664.97 509.2h0M575.6 496.76h0M573.69 510.24h0M618.76 496.01h0M606.95 543.12h0M609.81 511.19h0M584.42 493.83h0M598.26 503.69h0M630.65 503.06h0M661.8 511.13h0M591.38 513.72h0M634.89 508.24h0M576.23 503.95h0M632.04 509.85h0M586.56 508.04h0M594.99 487.29h0M587.11 503.56h0M618.43 528.03h0M574.43 517.53h0M617.29 505.45h0M583.85 516.67h0M618.54 533.59h0M630.04 507.48h0M573.8 554.8h0M597.25 486.26h0M612.08 511.99h0M610.59 508.8h0M587.61 503.57h0M604.41 513.88h0M578.43 521.01h0M612.39 508.25h0M573.94 520.02h0M620.33 497.8h0M578.65 548.11h0M574.86 506.5h0M573.57 527.16h0M583.44 516.45h0M606.15 499.76h0M586.34 511.99h0M597.95 489.81h0M605.46 506.87h0M574.96 504.28h0M582.99 508.81h0M598.82 529.29h0M616.82 562.27h0M577.61 505.3h0M588.72 503.51h0M575.95 513.17h0M573.9 488.6h0M580.23 515.22h0M592.2 493.13h0M591.08 511.62h0M666.74 490.08h0M620.62 499.37h0M602.39 491.28h0M615.91 510.61h0M574.01 502.61h0M617.23 508.06h0M587.11 512.06h0M604.69 554.4h0M573.69 493.77h0M611.18 504.64h0M573.6 499.99h0M592.48 502.31h0M574.26 496.38h0M582.99 508.07h0M587.45 493.09h0M596.17 497.13h0M574.72 504.11h0M582.17 511.44h0M640.87 507.15h0M581.19 562.19h0M583.33 516.14h0M590.35 499.96h0M601.03 520.94h0M601.86 550.79h0M603.82 505.68h0M614.73 512h0M574.67 513.04h0M573.72 502.27h0M596.06 502.09h0M623.69 502.73h0M594.94 501.25h0M590.5 509.08h0M573.76 512.48h0M648.23 510.93h0M623.1 503.47h0M620 481.56h0M606.96 511.68h0M609.63 496.22h0M583.87 506.94h0M611.34 513.74h0M611.92 496.98h0M614.71 506.05h0M579.11 505.04h0M605.49 507.47h0M574.53 503.21h0M583.28 503.51h0M573.56 491.22h0M623.58 514.11h0M601.42 518.87h0M610.35 518.92h0M593.96 481.56h0M579.21 506.95h0M573.77 507.46h0M600.99 516.86h0M575.71 517.21h0M613.7 517.26h0M592.43 506.85h0M602.45 498.62h0M590.22 517.29h0M630.02 507.64h0M648.62 512.09h0M594.34 508.16h0M600.8 501.23h0M591.46 515.2h0M583.14 515.56h0M574.05 486.33h0M604.34 504.62h0M574.2 519.97h0M629.75 508.37h0M595.56 505.07h0M589.02 500.9h0M617.08 500.25h0M595.21 543.49h0M646.18 488.53h0M615.66 512.23h0M608.87 521.32h0M574.86 499.79h0M611.58 502.25h0M638.77 509.55h0M599.04 492.26h0M573.62 506.85h0M587.2 489.51h0M573.93 508.21h0M574.2 492.82h0M573.95 488.74h0M595.81 490.01h0M597.75 522.16h0M618.96 523.72h0M595.2 545.64h0M587.91 500.08h0M592.72 498.24h0M574.45 507.42h0M643.4 530.54h0M594.52 508.9h0M596.58 526.8h0M581.14 506.21h0M587.77 495.36h0M604.6 512.24h0M587.42 516.44h0M595.09 504.41h0M601.05 510.08h0M574.85 497.44h0M590.96 504.92h0M573.93 524.99h0M574.25 532.92h0M601.01 507.51h0M614.9 495.24h0M573.85 538.9h0M602.44 512.55h0M606.32 501.35h0M602.76 500.66h0M582.21 555.29h0M583.21 512.4h0M579.86 501.28h0M586.79 524.66h0M616.51 495.62h0M587.32 483.75h0M599.36 517.87h0M573.62 488.85h0M580.67 499.82h0M588.55 510.29h0M574.84 511.77h0M583.23 561.18h0M573.59 509.89h0M574.13 497.7h0M612.97 554.77h0M587.62 509.2h0M585.44 492.34h0M574.52 501.25h0M603.85 498.95h0M608.73 500.75h0M604.02 545.61h0M585.58 482.67h0M605.34 496.96h0M574.05 499.85h0M635.39 505.72h0M576.33 491.46h0M639.57 514.23h0M643.27 499.38h0M574.92 506.98h0M602.88 501.83h0M575.21 561.25h0M574.51 519.31h0M604.65 520.16h0M584.07 504.91h0M599.58 494.45h0M611.79 526.38h0M594.64 502.36h0M607.48 504.64h0M657.51 518.72h0M583.04 502.69h0M574.96 487.5h0M583.94 513.68h0M573.8 555.33h0M574.76 497.83h0M620.13 494.53h0M584 532.5h0M613.67 503.94h0M598.33 516.52h0M574.4 503.48h0M580.45 536.18h0M584.15 512.46h0M574.05 505.18h0M602.09 490.15h0M589.66 493.49h0M656.07 499.56h0M648.91 502.67h0M579.83 491.04h0M598.09 530.62h0M580.71 498.55h0M582.11 512.56h0M573.65 503.83h0M592.26 533.33h0M595.31 492.85h0M576.13 503.33h0M624.52 505.72h0M615.86 556.38h0M604.59 489.52h0M660.83 518.91h0M606.5 497.43h0M573.61 505.86h0M583.95 517.37h0M590.67 552.28h0M640.23 504.12h0M608.42 497.67h0M594.19 493.33h0M619.76 508.65h0M575.02 518.42h0M611.18 560.26h0M608 497.31h0M574.47 499.3h0M615.57 505.95h0M591.66 522.52h0M614.14 491.13h0M577.21 481.56h0M575.49 505.39h0M574.49 489.08h0M610.93 511.8h0M577.65 512.32h0M584.19 498.02h0" stroke="#3a3a3a" stroke-opacity="0.64" stroke-width="2.1" stroke-linecap="round"/>
<line x1="573.5" y1="508.36" x2="668" y2="503.13" stroke="#3366ff" stroke-width="1.1"/>
</g></svg>
<rect x="569.6" y="474.2" width="103.2" height="97.4" fill="none" stroke="#333" stroke-width="0.75"/>
<text x="671.9" y="479.2" font-family='Liberation Sans' font-size="5.0" fill="#e31a1c" text-anchor="end">Rho = 0.026</text>
<text x="671.9" y="484.5" font-family='Liberation Sans' font-size="5.0" fill="#e31a1c" text-anchor="end">p = 6.18e−01</text>
<line x1="573.5" x2="573.5" y1="571.6" y2="573.4" stroke="#333" stroke-width="0.5"/>
<text x="573.5" y="578.6" font-family='Liberation Sans' font-size="5.3" fill="#4d4d4d" text-anchor="middle">0.00</text>
<line x1="602.67" x2="602.67" y1="571.6" y2="573.4" stroke="#333" stroke-width="0.5"/>
<text x="602.67" y="578.6" font-family='Liberation Sans' font-size="5.3" fill="#4d4d4d" text-anchor="middle">0.05</text>
<line x1="631.83" x2="631.83" y1="571.6" y2="573.4" stroke="#333" stroke-width="0.5"/>
<text x="631.83" y="578.6" font-family='Liberation Sans' font-size="5.3" fill="#4d4d4d" text-anchor="middle">0.10</text>
<line x1="661" x2="661" y1="571.6" y2="573.4" stroke="#333" stroke-width="0.5"/>
<text x="661" y="578.6" font-family='Liberation Sans' font-size="5.3" fill="#4d4d4d" text-anchor="middle">0.15</text>
<text x="618.2" y="586.9" font-family='Liberation Sans' font-size="7" fill="#1a1a1a" text-anchor="middle">Infiltration Level</text>
<text transform="translate(14.1,650.75) rotate(-90)" font-family='Liberation Sans' font-size="7" fill="#1a1a1a" text-anchor="middle">GPR35 Expression Level (log2 TPM)</text>
<rect x="24.2" y="601" width="10.3" height="99.5" fill="#d9d9d9" stroke="#333" stroke-width="0.7"/>
<text transform="translate(31.4,650.75) rotate(-90)" font-family='Liberation Sans' font-size="5.9" fill="#1a1a1a" text-anchor="middle">STAD</text>
<line x1="22.3" x2="24.2" y1="677.96" y2="677.96" stroke="#333" stroke-width="0.5"/>
<text x="21.4" y="679.86" font-family='Liberation Sans' font-size="5.4" fill="#4d4d4d" text-anchor="end">2</text>
<line x1="22.3" x2="24.2" y1="650.62" y2="650.62" stroke="#333" stroke-width="0.5"/>
<text x="21.4" y="652.52" font-family='Liberation Sans' font-size="5.4" fill="#4d4d4d" text-anchor="end">4</text>
<line x1="22.3" x2="24.2" y1="623.28" y2="623.28" stroke="#333" stroke-width="0.5"/>
<text x="21.4" y="625.18" font-family='Liberation Sans' font-size="5.4" fill="#4d4d4d" text-anchor="end">6</text>
<rect x="34.5" y="590.3" width="103.3" height="10.7" fill="#d9d9d9" stroke="#333" stroke-width="0.7"/>
<text x="86.15" y="597.7" font-family='Liberation Sans' font-size="5.9" fill="#1a1a1a" text-anchor="middle">Purity</text>
<svg x="34.5" y="601" width="103.3" height="99.5" overflow="hidden"><g transform="translate(-34.5,-601)">
<line x1="34.5" x2="137.8" y1="691.63" y2="691.63" stroke="#f4f4f4" stroke-width="0.4"/>
<line x1="34.5" x2="137.8" y1="664.29" y2="664.29" stroke="#f4f4f4" stroke-width="0.4"/>
<line x1="34.5" x2="137.8" y1="636.95" y2="636.95" stroke="#f4f4f4" stroke-width="0.4"/>
<line x1="34.5" x2="137.8" y1="609.61" y2="609.61" stroke="#f4f4f4" stroke-width="0.4"/>
<line x1="45.97" x2="45.97" y1="601" y2="700.5" stroke="#f4f4f4" stroke-width="0.4"/>
<line x1="71.23" x2="71.23" y1="601" y2="700.5" stroke="#f4f4f4" stroke-width="0.4"/>
<line x1="96.5" x2="96.5" y1="601" y2="700.5" stroke="#f4f4f4" stroke-width="0.4"/>
<line x1="121.77" x2="121.77" y1="601" y2="700.5" stroke="#f4f4f4" stroke-width="0.4"/>
<line x1="147.03" x2="147.03" y1="601" y2="700.5" stroke="#f4f4f4" stroke-width="0.4"/>
<line x1="34.5" x2="137.8" y1="677.96" y2="677.96" stroke="#e6e6e6" stroke-width="0.55"/>
<line x1="34.5" x2="137.8" y1="650.62" y2="650.62" stroke="#e6e6e6" stroke-width="0.55"/>
<line x1="34.5" x2="137.8" y1="623.28" y2="623.28" stroke="#e6e6e6" stroke-width="0.55"/>
<line x1="58.6" x2="58.6" y1="601" y2="700.5" stroke="#e6e6e6" stroke-width="0.55"/>
<line x1="83.87" x2="83.87" y1="601" y2="700.5" stroke="#e6e6e6" stroke-width="0.55"/>
<line x1="109.13" x2="109.13" y1="601" y2="700.5" stroke="#e6e6e6" stroke-width="0.55"/>
<line x1="134.4" x2="134.4" y1="601" y2="700.5" stroke="#e6e6e6" stroke-width="0.55"/>
<polygon points="39.6,634.51 44.3,634.42 49.01,634.34 53.71,634.25 58.42,634.16 63.12,634.06 67.83,633.96 72.53,633.84 77.24,633.7 81.94,633.54 86.65,633.35 91.35,633.11 96.06,632.82 100.76,632.47 105.46,632.06 110.17,631.61 114.87,631.13 119.58,630.62 124.28,630.1 128.99,629.57 133.69,629.02 133.69,633.67 128.99,633.77 124.28,633.87 119.58,633.99 114.87,634.13 110.17,634.29 105.46,634.48 100.76,634.72 96.06,635.01 91.35,635.36 86.65,635.77 81.94,636.22 77.24,636.7 72.53,637.21 67.83,637.73 63.12,638.27 58.42,638.81 53.71,639.36 49.01,639.91 44.3,640.47 39.6,641.03" fill="#999" fill-opacity="0.38"/>
<path d="M62.97 623.14h0M89.97 619.6h0M119.97 634.61h0M114.43 629.41h0M74.99 635.88h0M82.68 630.52h0M133.39 629.62h0M125.16 637.02h0M97.45 618.92h0M83.64 636.68h0M80.37 693.44h0M73.98 633.63h0M78.54 626.4h0M110.09 629.45h0M91.39 638.33h0M122.57 641.51h0M79.47 622.51h0M129.06 627.77h0M122.14 616.67h0M98.6 642.23h0M122.07 638.16h0M74.71 634.68h0M77.42 639.74h0M105.29 619.96h0M122.65 644.35h0M82 689.92h0M112.53 631.89h0M123.17 638.28h0M75.1 641.08h0M96.46 647.96h0M127.75 638.58h0M122.15 617.03h0M41.71 651.81h0M81.83 672.4h0M79.86 626.62h0M124.99 636.78h0M113 655.28h0M109.01 646.85h0M113.13 633.28h0M118.22 634.15h0M59.04 629.41h0M66.25 629.67h0M129.53 632.01h0M124.44 621.55h0M111.11 644.95h0M122.86 627.94h0M130.26 626.51h0M131.47 638.66h0M123.32 612.14h0M91.15 650h0M117.79 631.29h0M117.84 624.44h0M94.36 632.24h0M84.25 631.2h0M129.21 656.28h0M116.68 642.84h0M103.58 644h0M70.4 642.95h0M85.39 628.1h0M94.22 653.51h0M108.88 636.18h0M116.37 629.21h0M86.33 625.51h0M127.48 629.17h0M126.26 631.95h0M86.83 632.09h0M95.69 633.75h0M122.49 630.33h0M95.47 627.33h0M87.51 625.63h0M89.09 617.31h0M100.93 672.8h0M108.22 617.71h0M111.07 624.34h0M81.26 626.32h0M113.39 630.95h0M118.99 669.73h0M122.82 630.21h0M105.36 619.29h0M86.93 653.25h0M83.32 629.96h0M99.98 636.48h0M128.53 627.38h0M85.75 630.43h0M92.76 641.54h0M125.19 611.39h0M80.93 634.14h0M114.76 632.65h0M131.77 639.8h0M120.1 629.67h0M66.75 631.71h0M97 641.6h0M98.27 657.14h0M108.65 647.11h0M110.2 677.79h0M116.39 631.14h0M112.92 625.18h0M77.24 615.62h0M97.04 644.14h0M110.88 630.79h0M72.05 636.44h0M96.73 628.59h0M61.26 649.56h0M112.49 629.83h0M95.56 641.46h0M123.35 676.25h0M133.39 615.99h0M85.89 637.79h0M132 618.71h0M76.55 613.36h0M84.56 618.35h0M99.07 658.66h0M126.65 637.55h0M121.82 633.87h0M45.31 663.76h0M129.96 621.77h0M57.04 636.77h0M69.08 630.2h0M130.85 624.29h0M58.85 639.24h0M108.11 636.44h0M120.33 623.75h0M105.81 637.5h0M105.51 622.98h0M116.07 671.04h0M108.4 638.47h0M97.15 620.76h0M128.4 630.82h0M94.95 630.17h0M91.78 638.41h0M114.43 641.05h0M117.47 635.46h0M106.41 631.09h0M81.62 637.1h0M94.45 635.25h0M62.64 614.09h0M72.53 630.69h0M130.11 655.65h0M78.34 644.93h0M99.76 632.61h0M101 644.06h0M103.39 661.32h0M120.45 634.69h0M97.26 682.96h0M112.49 613.04h0M110.84 639.29h0M112.71 636.03h0M117.11 630.69h0M104.52 641.21h0M54.07 648.49h0M130.43 635.48h0M99.99 647.48h0M108.55 624.81h0M104.91 676.13h0M104.63 633.69h0M98.72 654.76h0M118.38 643.83h0M126.17 626.81h0M87.42 639.29h0M109.17 616.66h0M93.31 634.06h0M92.38 631.42h0M69.64 636.04h0M110.32 656.93h0M62.85 690.57h0M127.83 632.46h0M132.07 630.63h0M123.54 640.49h0M109.88 615.43h0M113.53 642.58h0M87.85 620.05h0M95.48 638.91h0M112.14 616.94h0M51.74 626.41h0M130.59 618.16h0M125.3 637.88h0M89.79 629.71h0M110.1 635.28h0M88.19 639.36h0M72.66 682.55h0M105.37 620.7h0M111.44 631.79h0M117.9 627.05h0M116.88 629.41h0M116.17 623.36h0M119.77 635.29h0M124.17 620h0M120.95 624.12h0M112.49 631.24h0M84.01 638.72h0M114.1 634.34h0M64.42 690.5h0M105.12 643.51h0M124.5 627.01h0M88.5 648.42h0M122.44 678.87h0M112.54 632.85h0M102.67 639.3h0M86.15 640.36h0M112.63 629.37h0M59.59 629.19h0M127.74 629.84h0M65.85 628.33h0M95.07 636.32h0M120.87 639.78h0M121.32 638.21h0M128.25 630.59h0M121.43 608.24h0M76.57 638.97h0M90.58 623.2h0M74.98 634.13h0M117.29 641.07h0M86.42 623.97h0M128.85 633.23h0M63.86 632.2h0M114.28 634.68h0M68.78 630.33h0M124.48 630.64h0M84.74 618.1h0M72.28 641.45h0M114.85 646.31h0M83.14 646.36h0M108.81 608.24h0M100.55 634.15h0M77.93 634.66h0M108.55 644.25h0M87.94 644.61h0M127.2 644.66h0M124.92 634.04h0M117.95 625.64h0M87.3 644.69h0M112.55 634.85h0M105.65 639.39h0M126.98 635.38h0M80.46 628.31h0M95.35 642.56h0M121.42 642.93h0M108.09 613.11h0M99.24 631.77h0M107.01 647.43h0M93.51 635.6h0M109.98 632.22h0M119.98 627.97h0M102.36 627.31h0M126.47 671.42h0M114.35 615.36h0M125.25 639.53h0M105.44 648.81h0M103.5 626.84h0M90.57 629.35h0M100.52 636.8h0M106.46 619.15h0M109.21 634.04h0M89 616.36h0M119.82 635.43h0M64.11 619.73h0M124.33 615.56h0M133.39 616.87h0M99.58 649.66h0M92.56 651.26h0M117.99 673.61h0M119.24 627.13h0M116.61 625.25h0M122.93 634.62h0M81.37 658.21h0M92.72 636.13h0M66.95 654.39h0M131.42 633.39h0M126 622.32h0M96.9 639.54h0M85.02 643.82h0M114.75 631.56h0M99.29 637.34h0M131.57 624.44h0M89.03 632.07h0M89.46 652.55h0M116.68 660.64h0M83.09 634.71h0M91.26 622.2h0M87.69 666.74h0M118.34 639.86h0M124.77 628.43h0M131.96 627.73h0M103.32 683.46h0M108.17 639.7h0M61.31 628.36h0M70.6 652.21h0M117.38 622.58h0M71.85 610.48h0M92.57 645.28h0M95.95 615.68h0M97.59 626.87h0M65.4 637.55h0M112.77 639.07h0M111.83 689.47h0M106.14 637.14h0M82.18 624.71h0M112.92 682.93h0M131.56 636.44h0M103.25 619.24h0M89.02 628.33h0M99.71 625.98h0M62.66 627.82h0M72.89 673.59h0M105.96 609.38h0M127.88 623.95h0M123.05 626.9h0M125.62 632.89h0M85.62 618.34h0M73.54 641.57h0M111.31 626.42h0M68.1 634.17h0M98.95 628.92h0M92.18 689.54h0M130.57 646.75h0M98.86 647.63h0M102.68 632.06h0M103.14 621.39h0M78.15 653.97h0M129.43 629.46h0M127.87 631.79h0M112.97 646.15h0M76.19 629.79h0M84.6 614.31h0M94.31 641.01h0M96.59 683.5h0M118.13 624.84h0M108.87 621.47h0M125.15 660.21h0M126.76 631.07h0M120.3 643.9h0M77.08 630.6h0M95.51 663.96h0M56.89 639.76h0M105.5 632.34h0M109.16 617h0M103.51 620.41h0M69.68 626.6h0M104.7 629.78h0M83.8 617.91h0M101.89 658.29h0M105.67 625.58h0M78.97 639.87h0M95.59 630.96h0M68.43 661.05h0M76.25 619.76h0M82.09 630.46h0M78.5 632.89h0M124.33 684.57h0M132.01 616.36h0M105.88 646.35h0M100.17 624.43h0M109.8 633.03h0M104.45 644.78h0M110.2 680.39h0M126.3 631.26h0M107.4 624.68h0M72.35 620.25h0M99.02 635.88h0M69.9 645.85h0M125.07 688.53h0M116.6 624.31h0M94.88 626.34h0M132.84 633.12h0M93.87 650.03h0M133.39 618.01h0M100.51 608.24h0M96.55 632.55h0M119.72 615.92h0M102.27 639.09h0M54.26 639.63h0M102.53 625.04h0" stroke="#3a3a3a" stroke-opacity="0.64" stroke-width="2.1" stroke-linecap="round"/>
<line x1="39.6" y1="637.77" x2="133.69" y2="631.35" stroke="#3366ff" stroke-width="1.1"/>
</g></svg>
<rect x="34.5" y="601" width="103.3" height="99.5" fill="none" stroke="#333" stroke-width="0.75"/>
<text x="136.9" y="606" font-family='Liberation Sans' font-size="5.0" fill="#e31a1c" text-anchor="end">Rho = 0.156</text>
<text x="136.9" y="611.3" font-family='Liberation Sans' font-size="5.0" fill="#e31a1c" text-anchor="end">p = 2.27e−03</text>
<line x1="58.6" x2="58.6" y1="700.5" y2="702.3" stroke="#333" stroke-width="0.5"/>
<text x="58.6" y="708.2" font-family='Liberation Sans' font-size="5.3" fill="#4d4d4d" text-anchor="middle">0.25</text>
<line x1="83.87" x2="83.87" y1="700.5" y2="702.3" stroke="#333" stroke-width="0.5"/>
<text x="83.87" y="708.2" font-family='Liberation Sans' font-size="5.3" fill="#4d4d4d" text-anchor="middle">0.50</text>
<line x1="109.13" x2="109.13" y1="700.5" y2="702.3" stroke="#333" stroke-width="0.5"/>
<text x="109.13" y="708.2" font-family='Liberation Sans' font-size="5.3" fill="#4d4d4d" text-anchor="middle">0.75</text>
<line x1="134.4" x2="134.4" y1="700.5" y2="702.3" stroke="#333" stroke-width="0.5"/>
<text x="134.4" y="708.2" font-family='Liberation Sans' font-size="5.3" fill="#4d4d4d" text-anchor="middle">1.00</text>
<text x="81.2" y="715.6" font-family='Liberation Sans' font-size="7" fill="#1a1a1a" text-anchor="middle">Purity</text>
<rect x="142.6" y="590.3" width="103.1" height="10.7" fill="#d9d9d9" stroke="#333" stroke-width="0.7"/>
<text x="194.15" y="597.7" font-family='Liberation Sans' font-size="5.9" fill="#1a1a1a" text-anchor="middle" textLength="100.1" lengthAdjust="spacingAndGlyphs">T cell follicular helper_CIBERSORT</text>
<svg x="142.6" y="601" width="103.1" height="99.5" overflow="hidden"><g transform="translate(-142.6,-601)">
<line x1="142.6" x2="245.7" y1="691.63" y2="691.63" stroke="#f4f4f4" stroke-width="0.4"/>
<line x1="142.6" x2="245.7" y1="664.29" y2="664.29" stroke="#f4f4f4" stroke-width="0.4"/>
<line x1="142.6" x2="245.7" y1="636.95" y2="636.95" stroke="#f4f4f4" stroke-width="0.4"/>
<line x1="142.6" x2="245.7" y1="609.61" y2="609.61" stroke="#f4f4f4" stroke-width="0.4"/>
<line x1="134.4" x2="134.4" y1="601" y2="700.5" stroke="#f4f4f4" stroke-width="0.4"/>
<line x1="160" x2="160" y1="601" y2="700.5" stroke="#f4f4f4" stroke-width="0.4"/>
<line x1="185.6" x2="185.6" y1="601" y2="700.5" stroke="#f4f4f4" stroke-width="0.4"/>
<line x1="211.2" x2="211.2" y1="601" y2="700.5" stroke="#f4f4f4" stroke-width="0.4"/>
<line x1="236.8" x2="236.8" y1="601" y2="700.5" stroke="#f4f4f4" stroke-width="0.4"/>
<line x1="142.6" x2="245.7" y1="677.96" y2="677.96" stroke="#e6e6e6" stroke-width="0.55"/>
<line x1="142.6" x2="245.7" y1="650.62" y2="650.62" stroke="#e6e6e6" stroke-width="0.55"/>
<line x1="142.6" x2="245.7" y1="623.28" y2="623.28" stroke="#e6e6e6" stroke-width="0.55"/>
<line x1="147.2" x2="147.2" y1="601" y2="700.5" stroke="#e6e6e6" stroke-width="0.55"/>
<line x1="172.8" x2="172.8" y1="601" y2="700.5" stroke="#e6e6e6" stroke-width="0.55"/>
<line x1="198.4" x2="198.4" y1="601" y2="700.5" stroke="#e6e6e6" stroke-width="0.55"/>
<line x1="224" x2="224" y1="601" y2="700.5" stroke="#e6e6e6" stroke-width="0.55"/>
<polygon points="147.2,633.48 152.04,633.54 156.88,633.55 161.72,633.5 166.55,633.36 171.39,633.1 176.23,632.73 181.07,632.27 185.91,631.76 190.75,631.21 195.58,630.63 200.42,630.05 205.26,629.45 210.1,628.84 214.94,628.23 219.78,627.62 224.61,627 229.45,626.38 234.29,625.76 239.13,625.13 243.97,624.51 243.97,636.81 239.13,636.68 234.29,636.55 229.45,636.42 224.61,636.29 219.78,636.17 214.94,636.05 210.1,635.93 205.26,635.81 200.42,635.71 195.58,635.61 190.75,635.53 185.91,635.47 181.07,635.45 176.23,635.48 171.39,635.6 166.55,635.84 161.72,636.19 156.88,636.63 152.04,637.14 147.2,637.68" fill="#999" fill-opacity="0.38"/>
<path d="M177.61 623.14h0M206.96 619.6h0M195.14 634.61h0M169.32 629.41h0M176.83 635.88h0M171.91 630.52h0M166.9 629.62h0M148.38 637.02h0M157.83 618.92h0M169.45 636.68h0M170.78 693.44h0M179.22 633.63h0M175.25 626.4h0M152.45 629.45h0M159 638.33h0M174.44 641.51h0M167.05 622.51h0M166.56 627.77h0M166.34 616.67h0M169.63 642.23h0M148.07 638.16h0M174.63 634.68h0M147.43 639.74h0M169.21 619.96h0M157.02 644.35h0M180.11 689.92h0M174.6 631.89h0M160.84 638.28h0M167.18 641.08h0M147.25 647.96h0M166.56 638.58h0M227.88 617.03h0M180.61 651.81h0M179.65 672.4h0M169.3 626.62h0M161.7 636.78h0M165.92 655.28h0M150.44 646.85h0M185.78 633.28h0M189.4 634.15h0M180.63 629.41h0M173.53 629.67h0M176.2 632.01h0M170.9 621.55h0M148.64 644.95h0M169.23 627.94h0M229.17 626.51h0M172.95 638.66h0M148.2 612.14h0M183.58 650h0M168.89 631.29h0M149.24 624.44h0M159.09 632.24h0M160.06 631.2h0M155.6 656.28h0M176.25 642.84h0M164.1 644h0M164.62 642.95h0M169.88 628.1h0M147.43 653.51h0M161.74 636.18h0M176.73 629.21h0M160.05 625.51h0M152.3 629.17h0M162.08 631.95h0M165.87 632.09h0M159.44 633.75h0M151.28 630.33h0M158.6 627.33h0M147.28 625.63h0M220.92 617.31h0M170.32 672.8h0M165.57 617.71h0M222.63 624.34h0M185.29 626.32h0M230.25 630.95h0M147.83 669.73h0M165.32 630.21h0M183.1 619.29h0M170.19 653.25h0M164.55 629.96h0M156.53 636.48h0M223.9 627.38h0M154.5 630.43h0M178.44 641.54h0M181.88 611.39h0M168.25 634.14h0M175.53 632.65h0M147.56 639.8h0M177.63 629.67h0M182.95 631.71h0M177.64 641.6h0M147.49 657.14h0M160.47 647.11h0M179.43 677.79h0M161.08 631.14h0M176.98 625.18h0M229.32 615.62h0M163.64 644.14h0M171.44 630.79h0M148.14 636.44h0M171.63 628.59h0M213.89 649.56h0M203.67 629.83h0M176.33 641.46h0M171.08 676.25h0M198.26 615.99h0M165.81 637.79h0M156.67 618.71h0M182.95 613.36h0M147.54 618.35h0M200.07 658.66h0M147.67 637.55h0M160.29 633.87h0M169.12 663.76h0M150.54 621.77h0M177.28 636.77h0M167.96 630.2h0M160.35 624.29h0M164.78 639.24h0M167.21 636.44h0M153.82 623.75h0M158.55 637.5h0M154.07 622.98h0M214.64 671.04h0M226.55 638.47h0M148.23 620.76h0M148.22 630.82h0M182.3 630.17h0M193.87 638.41h0M147.29 641.05h0M147.39 635.46h0M225.8 631.09h0M175.24 637.1h0M160.02 635.25h0M149.14 614.09h0M185.56 630.69h0M164.37 655.65h0M152.52 644.93h0M179.09 632.61h0M177.98 644.06h0M161.99 661.32h0M148.01 634.69h0M185.03 682.96h0M168.85 613.04h0M163.32 639.29h0M195.46 636.03h0M163.41 630.69h0M172.47 641.21h0M169.72 648.49h0M148.03 635.48h0M147.87 647.48h0M173.6 624.81h0M185.17 676.13h0M176.8 633.69h0M164.68 654.76h0M220.92 643.83h0M154.57 626.81h0M185.12 639.29h0M173.9 616.66h0M147.59 634.06h0M153.44 631.42h0M165.05 636.04h0M190.48 656.93h0M148.44 690.57h0M172.97 632.46h0M170.91 630.63h0M172.34 640.49h0M172.02 615.43h0M171.88 642.58h0M172.79 620.05h0M177.36 638.91h0M147.59 616.94h0M185.63 626.41h0M147.69 618.16h0M170.57 637.88h0M191.01 629.71h0M174.83 635.28h0M163.15 639.36h0M169.79 682.55h0M152.98 620.7h0M164.38 631.79h0M158.37 627.05h0M161.75 629.41h0M191.12 623.36h0M193.6 635.29h0M173.06 620h0M168.06 624.12h0M173.68 631.24h0M161.57 638.72h0M193.77 634.34h0M153.03 690.5h0M176.35 643.51h0M174.66 627.01h0M168.19 648.42h0M147.86 678.87h0M181.89 632.85h0M164.74 639.3h0M160.64 640.36h0M176.34 629.37h0M150.01 629.19h0M147.76 629.84h0M174.6 628.33h0M189.31 636.32h0M161.28 639.78h0M168.32 638.21h0M148.7 630.59h0M168.16 608.24h0M174.86 638.97h0M160.86 623.2h0M166.73 634.13h0M164.66 641.07h0M171.05 623.97h0M157.47 633.23h0M186.02 632.2h0M158.36 634.68h0M169.56 630.33h0M171.87 630.64h0M209.49 618.1h0M161.37 641.45h0M147.26 646.31h0M156.25 646.36h0M174.74 608.24h0M168.93 634.15h0M164.7 634.66h0M181.99 644.25h0M148.05 644.61h0M166.62 644.66h0M184.25 634.04h0M171.44 625.64h0M160.34 644.69h0M190.4 634.85h0M148.03 639.39h0M163.98 635.38h0M147.54 628.31h0M158.56 642.56h0M166.02 642.93h0M147.73 613.11h0M148.47 631.77h0M165.49 647.43h0M157.73 635.6h0M166.86 632.22h0M181.84 627.97h0M147.51 627.31h0M147.95 671.42h0M161.06 615.36h0M166.81 639.53h0M167.57 648.81h0M206.76 626.84h0M147.43 629.35h0M151.46 636.8h0M191.1 619.15h0M194.75 634.04h0M154.47 616.36h0M155.83 635.43h0M166.42 619.73h0M220.58 615.56h0M147.25 616.87h0M160.62 649.66h0M163.2 651.26h0M152.4 673.61h0M169.31 627.13h0M172.14 625.25h0M152.43 634.62h0M181.96 658.21h0M180.13 636.13h0M153.09 654.39h0M155.5 633.39h0M164.87 622.32h0M163.81 639.54h0M159.97 643.82h0M171.49 631.56h0M171.39 637.34h0M219.03 624.44h0M148.61 632.07h0M166.67 652.55h0M166.91 660.64h0M161.95 634.71h0M168.31 622.2h0M159.33 666.74h0M157.51 639.86h0M178.21 628.43h0M147.6 627.73h0M168.14 683.46h0M148.41 639.7h0M177.07 628.36h0M213.79 652.21h0M170.91 622.58h0M148.55 610.48h0M219.71 645.28h0M162.97 615.68h0M173.49 626.87h0M148.43 637.55h0M148.3 639.07h0M160.51 689.47h0M159.4 637.14h0M171.16 624.71h0M164.57 682.93h0M173.41 636.44h0M148.28 619.24h0M150.81 628.33h0M159.36 625.98h0M159.23 627.82h0M147.86 673.59h0M161.63 609.38h0M172.97 623.95h0M179.41 626.9h0M177.2 632.89h0M175.77 618.34h0M157.43 641.57h0M173.2 626.42h0M192.55 634.17h0M156.21 628.92h0M155.06 689.54h0M176.04 646.75h0M167.68 647.63h0M224.19 632.06h0M169.48 621.39h0M194.35 653.97h0M173.83 629.46h0M204.74 631.79h0M167.6 646.15h0M193.34 629.79h0M147.63 614.31h0M147.8 641.01h0M162.93 683.5h0M171.58 624.84h0M166.2 621.47h0M177.21 660.21h0M178.3 631.07h0M159.2 643.9h0M147.61 630.6h0M167.88 663.96h0M171.81 639.76h0M166.86 632.34h0M163.25 617h0M197.14 620.41h0M163.08 626.6h0M148.19 629.78h0M158.84 617.91h0M174.37 658.29h0M217.53 625.58h0M165.62 639.87h0M227.38 630.96h0M169.49 661.05h0M163.02 619.76h0M177.83 630.46h0M212.73 632.89h0M163.94 684.57h0M184.69 616.36h0M186.33 646.35h0M179.43 624.43h0M184.09 633.03h0M227.09 644.78h0M151.02 680.39h0M198.74 631.26h0M177 624.68h0M171.53 620.25h0M168.78 635.88h0M179.97 645.85h0M196.1 688.53h0M153.5 624.31h0M157.71 626.34h0M206.82 633.12h0M147.76 650.03h0M177.66 618.01h0M172.93 608.24h0M175.26 632.55h0M159.94 615.92h0M173.81 639.09h0M154.02 639.63h0M155.47 625.04h0" stroke="#3a3a3a" stroke-opacity="0.64" stroke-width="2.1" stroke-linecap="round"/>
<line x1="147.2" y1="635.58" x2="243.97" y2="630.66" stroke="#3366ff" stroke-width="1.1"/>
</g></svg>
<rect x="142.6" y="601" width="103.1" height="99.5" fill="none" stroke="#333" stroke-width="0.75"/>
<text x="244.8" y="606" font-family='Liberation Sans' font-size="5.0" fill="#e31a1c" text-anchor="end">Rho = 0.113</text>
<text x="244.8" y="611.3" font-family='Liberation Sans' font-size="5.0" fill="#e31a1c" text-anchor="end">p = 2.81e−02</text>
<line x1="147.2" x2="147.2" y1="700.5" y2="702.3" stroke="#333" stroke-width="0.5"/>
<text x="147.2" y="708.2" font-family='Liberation Sans' font-size="5.3" fill="#4d4d4d" text-anchor="middle">0.00</text>
<line x1="172.8" x2="172.8" y1="700.5" y2="702.3" stroke="#333" stroke-width="0.5"/>
<text x="172.8" y="708.2" font-family='Liberation Sans' font-size="5.3" fill="#4d4d4d" text-anchor="middle">0.05</text>
<line x1="198.4" x2="198.4" y1="700.5" y2="702.3" stroke="#333" stroke-width="0.5"/>
<text x="198.4" y="708.2" font-family='Liberation Sans' font-size="5.3" fill="#4d4d4d" text-anchor="middle">0.10</text>
<line x1="224" x2="224" y1="700.5" y2="702.3" stroke="#333" stroke-width="0.5"/>
<text x="224" y="708.2" font-family='Liberation Sans' font-size="5.3" fill="#4d4d4d" text-anchor="middle">0.15</text>
<text x="191.15" y="715.6" font-family='Liberation Sans' font-size="7" fill="#1a1a1a" text-anchor="middle">Infiltration Level</text>
<rect x="249.4" y="590.3" width="103.6" height="10.7" fill="#d9d9d9" stroke="#333" stroke-width="0.7"/>
<text x="301.2" y="597.7" font-family='Liberation Sans' font-size="5.9" fill="#1a1a1a" text-anchor="middle">T cell CD4+ naive_CIBERSORT</text>
<svg x="249.4" y="601" width="103.6" height="99.5" overflow="hidden"><g transform="translate(-249.4,-601)">
<line x1="249.4" x2="353" y1="691.63" y2="691.63" stroke="#f4f4f4" stroke-width="0.4"/>
<line x1="249.4" x2="353" y1="664.29" y2="664.29" stroke="#f4f4f4" stroke-width="0.4"/>
<line x1="249.4" x2="353" y1="636.95" y2="636.95" stroke="#f4f4f4" stroke-width="0.4"/>
<line x1="249.4" x2="353" y1="609.61" y2="609.61" stroke="#f4f4f4" stroke-width="0.4"/>
<line x1="241.75" x2="241.75" y1="601" y2="700.5" stroke="#f4f4f4" stroke-width="0.4"/>
<line x1="267.65" x2="267.65" y1="601" y2="700.5" stroke="#f4f4f4" stroke-width="0.4"/>
<line x1="293.55" x2="293.55" y1="601" y2="700.5" stroke="#f4f4f4" stroke-width="0.4"/>
<line x1="319.45" x2="319.45" y1="601" y2="700.5" stroke="#f4f4f4" stroke-width="0.4"/>
<line x1="345.35" x2="345.35" y1="601" y2="700.5" stroke="#f4f4f4" stroke-width="0.4"/>
<line x1="249.4" x2="353" y1="677.96" y2="677.96" stroke="#e6e6e6" stroke-width="0.55"/>
<line x1="249.4" x2="353" y1="650.62" y2="650.62" stroke="#e6e6e6" stroke-width="0.55"/>
<line x1="249.4" x2="353" y1="623.28" y2="623.28" stroke="#e6e6e6" stroke-width="0.55"/>
<line x1="254.7" x2="254.7" y1="601" y2="700.5" stroke="#e6e6e6" stroke-width="0.55"/>
<line x1="280.6" x2="280.6" y1="601" y2="700.5" stroke="#e6e6e6" stroke-width="0.55"/>
<line x1="306.5" x2="306.5" y1="601" y2="700.5" stroke="#e6e6e6" stroke-width="0.55"/>
<line x1="332.4" x2="332.4" y1="601" y2="700.5" stroke="#e6e6e6" stroke-width="0.55"/>
<polygon points="254.7,633.81 259.49,632.97 264.28,631.61 269.07,630.19 273.87,628.75 278.66,627.31 283.45,625.86 288.24,624.41 293.03,622.96 297.82,621.5 302.62,620.05 307.41,618.6 312.2,617.14 316.99,615.69 321.78,614.24 326.57,612.78 331.36,611.33 336.16,609.87 340.95,608.42 345.74,606.96 350.53,605.51 350.53,667.57 345.74,665.92 340.95,664.28 336.16,662.63 331.36,660.99 326.57,659.34 321.78,657.7 316.99,656.05 312.2,654.4 307.41,652.76 302.62,651.11 297.82,649.47 293.03,647.83 288.24,646.18 283.45,644.54 278.66,642.9 273.87,641.27 269.07,639.64 264.28,638.03 259.49,636.48 254.7,635.45" fill="#999" fill-opacity="0.38"/>
<path d="M254.85 623.14h0M255.34 619.6h0M254.88 634.61h0M255.44 629.41h0M255.33 635.88h0M255.1 630.52h0M255.34 629.62h0M255.29 637.02h0M254.74 618.92h0M255.25 636.68h0M255.34 693.44h0M255.24 633.63h0M255.61 626.4h0M255.46 629.45h0M255.09 638.33h0M254.94 641.51h0M254.83 622.51h0M255.54 627.77h0M255.41 616.67h0M255.33 642.23h0M255.16 638.16h0M255.22 634.68h0M254.93 639.74h0M255.25 619.96h0M254.85 644.35h0M255.34 689.92h0M255.35 631.89h0M255.39 638.28h0M254.96 641.08h0M254.8 647.96h0M255.04 638.58h0M255.41 617.03h0M255.23 651.81h0M255.47 672.4h0M255.15 626.62h0M255.11 636.78h0M255.64 655.28h0M254.87 646.85h0M254.91 633.28h0M255.31 634.15h0M255.35 629.41h0M255.15 629.67h0M255.28 632.01h0M255.16 621.55h0M255.39 644.95h0M255.62 627.94h0M255.55 626.51h0M255.36 638.66h0M255.19 612.14h0M255.68 650h0M255.16 631.29h0M255.35 624.44h0M255.6 632.24h0M255.41 631.2h0M255.1 656.28h0M255.47 642.84h0M255.32 644h0M255.65 642.95h0M255.35 628.1h0M255.25 653.51h0M255.71 636.18h0M255.25 629.21h0M255.11 625.51h0M255.67 629.17h0M255.68 631.95h0M254.88 632.09h0M254.78 633.75h0M255.59 630.33h0M255.61 627.33h0M255.1 625.63h0M254.96 617.31h0M255.41 672.8h0M255.67 617.71h0M254.92 624.34h0M255.16 626.32h0M255.39 630.95h0M254.93 669.73h0M255.13 630.21h0M254.85 619.29h0M255.2 653.25h0M254.94 629.96h0M254.78 636.48h0M255.1 627.38h0M254.86 630.43h0M254.82 641.54h0M254.86 611.39h0M255.13 634.14h0M255.03 632.65h0M255.45 639.8h0M255.13 629.67h0M254.95 631.71h0M254.89 641.6h0M255.01 657.14h0M255.47 647.11h0M254.91 677.79h0M255.18 631.14h0M255.54 625.18h0M255.56 615.62h0M255.18 644.14h0M255.57 630.79h0M255.37 636.44h0M254.94 628.59h0M254.8 649.56h0M254.88 629.83h0M255.52 641.46h0M255.1 676.25h0M255.57 615.99h0M255.7 637.79h0M255.65 618.71h0M255.19 613.36h0M254.71 618.35h0M254.99 658.66h0M254.93 637.55h0M255.37 633.87h0M255.43 663.76h0M255.65 621.77h0M255.43 636.77h0M255.69 630.2h0M255.36 624.29h0M255.19 639.24h0M255.57 636.44h0M254.98 623.75h0M255.51 637.5h0M255.45 622.98h0M255.6 671.04h0M254.76 638.47h0M254.9 620.76h0M255.68 630.82h0M254.85 630.17h0M255.17 638.41h0M255.32 641.05h0M255.2 635.46h0M255.61 631.09h0M255.69 637.1h0M255.05 635.25h0M254.84 614.09h0M255.65 630.69h0M255.17 655.65h0M254.96 644.93h0M254.84 632.61h0M254.71 644.06h0M255.3 661.32h0M254.99 634.69h0M255.28 682.96h0M255.66 613.04h0M255.2 639.29h0M255.69 636.03h0M254.77 630.69h0M255.49 641.21h0M255.48 648.49h0M255.69 635.48h0M254.73 647.48h0M255.22 624.81h0M255.28 676.13h0M255.32 633.69h0M255.19 654.76h0M254.98 643.83h0M255.64 626.81h0M255.61 639.29h0M255.43 616.66h0M255.69 634.06h0M255.27 631.42h0M254.78 636.04h0M255.42 656.93h0M254.81 690.57h0M255.48 632.46h0M255.37 630.63h0M254.91 640.49h0M254.86 615.43h0M254.77 642.58h0M254.88 620.05h0M255.71 638.91h0M254.94 616.94h0M255.62 626.41h0M254.84 618.16h0M255.05 637.88h0M255.19 629.71h0M255.07 635.28h0M255.7 639.36h0M254.95 682.55h0M255.2 620.7h0M254.91 631.79h0M254.81 627.05h0M255.42 629.41h0M255.05 623.36h0M255.2 635.29h0M255.42 620h0M254.79 624.12h0M254.76 631.24h0M255.41 638.72h0M255.73 634.34h0M254.72 690.5h0M255.17 643.51h0M255.73 627.01h0M255.56 648.42h0M255.72 678.87h0M255.25 632.85h0M255.71 639.3h0M254.76 640.36h0M255.19 629.37h0M255.58 629.19h0M255.1 629.84h0M255.16 628.33h0M255.17 636.32h0M255.09 639.78h0M255.54 638.21h0M255.71 630.59h0M254.94 608.24h0M255.03 638.97h0M255.53 623.2h0M255.47 634.13h0M255.54 641.07h0M255.41 623.97h0M255.65 633.23h0M255.58 632.2h0M255.36 634.68h0M254.99 630.33h0M254.79 630.64h0M255.59 618.1h0M255.59 641.45h0M255.62 646.31h0M254.97 646.36h0M255.47 608.24h0M255.66 634.15h0M254.91 634.66h0M254.72 644.25h0M254.88 644.61h0M254.93 644.66h0M255.4 634.04h0M255.55 625.64h0M255.55 644.69h0M255.41 634.85h0M255.71 639.39h0M255.71 635.38h0M255.16 628.31h0M255.65 642.56h0M255.44 642.93h0M254.95 613.11h0M255.31 631.77h0M254.88 647.43h0M255.11 635.6h0M255.54 632.22h0M254.71 627.97h0M255.26 627.31h0M255.15 671.42h0M254.99 615.36h0M254.77 639.53h0M255.24 648.81h0M255.05 626.84h0M254.8 629.35h0M255.12 636.8h0M255.4 619.15h0M254.78 634.04h0M255.51 616.36h0M254.79 635.43h0M255.19 619.73h0M255.08 615.56h0M255.59 616.87h0M255.63 649.66h0M255.46 651.26h0M255 673.61h0M255.04 627.13h0M255.55 625.25h0M255.23 634.62h0M255.36 658.21h0M255.45 636.13h0M254.9 654.39h0M255.1 633.39h0M255.69 622.32h0M255.04 639.54h0M255.58 643.82h0M254.86 631.56h0M254.71 637.34h0M255.22 624.44h0M254.99 632.07h0M255.32 652.55h0M255.5 660.64h0M254.74 634.71h0M255.22 622.2h0M255.09 666.74h0M255.64 639.86h0M255.57 628.43h0M255.62 627.73h0M255.47 683.46h0M255.06 639.7h0M255.34 628.36h0M255.26 652.21h0M255.08 622.58h0M255 610.48h0M255.37 645.28h0M255.63 615.68h0M254.95 626.87h0M255.07 637.55h0M254.86 639.07h0M255.08 689.47h0M255.1 637.14h0M254.8 624.71h0M255.37 682.93h0M255.06 636.44h0M255.54 619.24h0M254.95 628.33h0M255.46 625.98h0M255.71 627.82h0M254.88 673.59h0M255.08 609.38h0M255.71 623.95h0M255.12 626.9h0M255.04 632.89h0M254.86 618.34h0M255.56 641.57h0M255.04 626.42h0M255.61 634.17h0M255.28 628.92h0M254.89 689.54h0M255.73 646.75h0M255.63 647.63h0M255.48 632.06h0M255.32 621.39h0M255.48 653.97h0M255.68 629.46h0M254.9 631.79h0M254.95 646.15h0M255.49 629.79h0M255.13 614.31h0M255.72 641.01h0M255.56 683.5h0M255.24 624.84h0M254.87 621.47h0M255.33 660.21h0M255.32 631.07h0M255.3 643.9h0M255.51 630.6h0M255.19 663.96h0M255.62 639.76h0M255.32 632.34h0M254.87 617h0M255.55 620.41h0M254.87 626.6h0M255.64 629.78h0M255.66 617.91h0M254.9 658.29h0M254.91 625.58h0M255.43 639.87h0M255.17 630.96h0M255.09 661.05h0M255.48 619.76h0M255.05 630.46h0M254.84 632.89h0M255.27 684.57h0M255.61 616.36h0M255.69 646.35h0M254.81 624.43h0M255.47 633.03h0M255.04 644.78h0M255.71 680.39h0M255.1 631.26h0M254.81 624.68h0M255.04 620.25h0M255.23 635.88h0M254.88 645.85h0M255.5 688.53h0M255.04 624.31h0M255.47 626.34h0M254.94 633.12h0M255.21 650.03h0M255.38 618.01h0M254.91 608.24h0M255 632.55h0M255.57 615.92h0M255.11 639.09h0M255.06 639.63h0M255.34 625.04h0" stroke="#3a3a3a" stroke-opacity="0.64" stroke-width="2.1" stroke-linecap="round"/>
<line x1="254.7" y1="634.63" x2="350.53" y2="636.54" stroke="#3366ff" stroke-width="1.1"/>
</g></svg>
<rect x="249.4" y="601" width="103.6" height="99.5" fill="none" stroke="#333" stroke-width="0.75"/>
<text x="352.1" y="606" font-family='Liberation Sans' font-size="5.0" fill="#e31a1c" text-anchor="end">Rho = −0.013</text>
<text x="352.1" y="611.3" font-family='Liberation Sans' font-size="5.0" fill="#e31a1c" text-anchor="end">p = 7.99e−01</text>
<line x1="254.7" x2="254.7" y1="700.5" y2="702.3" stroke="#333" stroke-width="0.5"/>
<text x="254.7" y="708.2" font-family='Liberation Sans' font-size="5.3" fill="#4d4d4d" text-anchor="middle">0.00</text>
<line x1="280.6" x2="280.6" y1="700.5" y2="702.3" stroke="#333" stroke-width="0.5"/>
<text x="280.6" y="708.2" font-family='Liberation Sans' font-size="5.3" fill="#4d4d4d" text-anchor="middle">0.02</text>
<line x1="306.5" x2="306.5" y1="700.5" y2="702.3" stroke="#333" stroke-width="0.5"/>
<text x="306.5" y="708.2" font-family='Liberation Sans' font-size="5.3" fill="#4d4d4d" text-anchor="middle">0.04</text>
<line x1="332.4" x2="332.4" y1="700.5" y2="702.3" stroke="#333" stroke-width="0.5"/>
<text x="332.4" y="708.2" font-family='Liberation Sans' font-size="5.3" fill="#4d4d4d" text-anchor="middle">0.06</text>
<text x="298.2" y="715.6" font-family='Liberation Sans' font-size="7" fill="#1a1a1a" text-anchor="middle">Infiltration Level</text>
<rect x="355.8" y="590.3" width="103.6" height="10.7" fill="#d9d9d9" stroke="#333" stroke-width="0.7"/>
<text x="407.6" y="597.7" font-family='Liberation Sans' font-size="5.9" fill="#1a1a1a" text-anchor="middle">Neutrophil_CIBERSORT</text>
<svg x="355.8" y="601" width="103.6" height="99.5" overflow="hidden"><g transform="translate(-355.8,-601)">
<line x1="355.8" x2="459.4" y1="691.63" y2="691.63" stroke="#f4f4f4" stroke-width="0.4"/>
<line x1="355.8" x2="459.4" y1="664.29" y2="664.29" stroke="#f4f4f4" stroke-width="0.4"/>
<line x1="355.8" x2="459.4" y1="636.95" y2="636.95" stroke="#f4f4f4" stroke-width="0.4"/>
<line x1="355.8" x2="459.4" y1="609.61" y2="609.61" stroke="#f4f4f4" stroke-width="0.4"/>
<line x1="349.38" x2="349.38" y1="601" y2="700.5" stroke="#f4f4f4" stroke-width="0.4"/>
<line x1="372.62" x2="372.62" y1="601" y2="700.5" stroke="#f4f4f4" stroke-width="0.4"/>
<line x1="395.88" x2="395.88" y1="601" y2="700.5" stroke="#f4f4f4" stroke-width="0.4"/>
<line x1="419.12" x2="419.12" y1="601" y2="700.5" stroke="#f4f4f4" stroke-width="0.4"/>
<line x1="442.38" x2="442.38" y1="601" y2="700.5" stroke="#f4f4f4" stroke-width="0.4"/>
<line x1="465.62" x2="465.62" y1="601" y2="700.5" stroke="#f4f4f4" stroke-width="0.4"/>
<line x1="355.8" x2="459.4" y1="677.96" y2="677.96" stroke="#e6e6e6" stroke-width="0.55"/>
<line x1="355.8" x2="459.4" y1="650.62" y2="650.62" stroke="#e6e6e6" stroke-width="0.55"/>
<line x1="355.8" x2="459.4" y1="623.28" y2="623.28" stroke="#e6e6e6" stroke-width="0.55"/>
<line x1="361" x2="361" y1="601" y2="700.5" stroke="#e6e6e6" stroke-width="0.55"/>
<line x1="384.25" x2="384.25" y1="601" y2="700.5" stroke="#e6e6e6" stroke-width="0.55"/>
<line x1="407.5" x2="407.5" y1="601" y2="700.5" stroke="#e6e6e6" stroke-width="0.55"/>
<line x1="430.75" x2="430.75" y1="601" y2="700.5" stroke="#e6e6e6" stroke-width="0.55"/>
<line x1="454" x2="454" y1="601" y2="700.5" stroke="#e6e6e6" stroke-width="0.55"/>
<polygon points="361,633.07 365.81,633.1 370.63,632.88 375.44,632.41 380.25,631.77 385.06,631.04 389.88,630.27 394.69,629.49 399.5,628.68 404.31,627.87 409.13,627.05 413.94,626.23 418.75,625.41 423.57,624.58 428.38,623.76 433.19,622.93 438,622.1 442.82,621.27 447.63,620.43 452.44,619.6 457.25,618.77 457.25,640.64 452.44,640.3 447.63,639.96 442.82,639.62 438,639.28 433.19,638.94 428.38,638.61 423.57,638.27 418.75,637.94 413.94,637.61 409.13,637.28 404.31,636.95 399.5,636.63 394.69,636.32 389.88,636.02 385.06,635.75 380.25,635.52 375.44,635.37 370.63,635.39 365.81,635.66 361,636.18" fill="#999" fill-opacity="0.38"/>
<path d="M413.55 623.14h0M361.77 619.6h0M362.12 634.61h0M361.71 629.41h0M369.05 635.88h0M364.54 630.52h0M362.54 629.62h0M361.42 637.02h0M361.24 618.92h0M364.27 636.68h0M361.76 693.44h0M363.03 633.63h0M372.87 626.4h0M365.09 629.45h0M362.08 638.33h0M425.6 641.51h0M368.79 622.51h0M361.52 627.77h0M362.83 616.67h0M372.24 642.23h0M369.77 638.16h0M361.9 634.68h0M361.78 639.74h0M361.19 619.96h0M378.48 644.35h0M373.15 689.92h0M361.9 631.89h0M453.02 638.28h0M363.49 641.08h0M362.02 647.96h0M379.09 638.58h0M362.52 617.03h0M361.01 651.81h0M365.25 672.4h0M362.2 626.62h0M375.45 636.78h0M365.05 655.28h0M361.72 646.85h0M367.89 633.28h0M370.04 634.15h0M362.03 629.41h0M369.29 629.67h0M376.6 632.01h0M370.93 621.55h0M362.23 644.95h0M361.68 627.94h0M376.72 626.51h0M364.26 638.66h0M430.35 612.14h0M361.62 650h0M363.54 631.29h0M362.13 624.44h0M367.4 632.24h0M362.62 631.2h0M362.35 656.28h0M371.5 642.84h0M361.47 644h0M373.61 642.95h0M362.48 628.1h0M370.2 653.51h0M362.44 636.18h0M367.13 629.21h0M374.27 625.51h0M380.29 629.17h0M371.4 631.95h0M361.86 632.09h0M362.25 633.75h0M361.12 630.33h0M437.79 627.33h0M362.78 625.63h0M361.1 617.31h0M418.98 672.8h0M365.07 617.71h0M379.96 624.34h0M361.46 626.32h0M363.29 630.95h0M381.55 669.73h0M368.56 630.21h0M362.11 619.29h0M379.65 653.25h0M449.8 629.96h0M361.53 636.48h0M362.7 627.38h0M366.78 630.43h0M387.24 641.54h0M369.9 611.39h0M362.47 634.14h0M364.04 632.65h0M424.74 639.8h0M361.66 629.67h0M361.37 631.71h0M362.21 641.6h0M361.84 657.14h0M362.89 647.11h0M361.6 677.79h0M373.37 631.14h0M361.74 625.18h0M362.25 615.62h0M362.8 644.14h0M368.45 630.79h0M373.04 636.44h0M362.88 628.59h0M362.4 649.56h0M363.3 629.83h0M426.9 641.46h0M361.9 676.25h0M390.85 615.99h0M411.27 637.79h0M361.2 618.71h0M362.66 613.36h0M363.66 618.35h0M361.74 658.66h0M362.49 637.55h0M362.63 633.87h0M362.78 663.76h0M363.12 621.77h0M361.56 636.77h0M395.48 630.2h0M361.4 624.29h0M378.13 639.24h0M380.08 636.44h0M373.26 623.75h0M362.66 637.5h0M362 622.98h0M370.67 671.04h0M372.04 638.47h0M376.65 620.76h0M362.38 630.82h0M427.01 630.17h0M361.6 638.41h0M366.79 641.05h0M362.88 635.46h0M374.04 631.09h0M361.09 637.1h0M361.59 635.25h0M361.27 614.09h0M361.63 630.69h0M395.03 655.65h0M375.68 644.93h0M361.44 632.61h0M431.37 644.06h0M363.68 661.32h0M361.98 634.69h0M361.88 682.96h0M361.05 613.04h0M362.72 639.29h0M369.19 636.03h0M372.43 630.69h0M362.17 641.21h0M365.78 648.49h0M363.92 635.48h0M361.27 647.48h0M379.55 624.81h0M363.55 676.13h0M423.65 633.69h0M362.84 654.76h0M368.3 643.83h0M361.94 626.81h0M362.07 639.29h0M374.41 616.66h0M362.54 634.06h0M374.27 631.42h0M391.07 636.04h0M362.69 656.93h0M368.18 690.57h0M364.49 632.46h0M439.29 630.63h0M362.66 640.49h0M362.3 615.43h0M368.17 642.58h0M376.8 620.05h0M371.29 638.91h0M372.26 616.94h0M366 626.41h0M378.74 618.16h0M373.19 637.88h0M362.09 629.71h0M363.33 635.28h0M362.6 639.36h0M362.37 682.55h0M361.04 620.7h0M373.96 631.79h0M376.47 627.05h0M364.08 629.41h0M366.11 623.36h0M361.42 635.29h0M365.25 620h0M361.98 624.12h0M361.3 631.24h0M378.16 638.72h0M387.74 634.34h0M361.35 690.5h0M369.92 643.51h0M417.44 627.01h0M361.62 648.42h0M363.68 678.87h0M424.09 632.85h0M362.11 639.3h0M361.79 640.36h0M361.09 629.37h0M365.72 629.19h0M362.5 629.84h0M388.18 628.33h0M384.56 636.32h0M361.97 639.78h0M378.51 638.21h0M362.63 630.59h0M372.06 608.24h0M378.49 638.97h0M382.95 623.2h0M368.04 634.13h0M362.42 641.07h0M362.06 623.97h0M433.44 633.23h0M362.56 632.2h0M414.17 634.68h0M361.86 630.33h0M382.58 630.64h0M367.47 618.1h0M363.83 641.45h0M367.59 646.31h0M366.61 646.36h0M361.89 608.24h0M362.02 634.15h0M361.97 634.66h0M367.81 644.25h0M374.78 644.61h0M375.35 644.66h0M365.99 634.04h0M362 625.64h0M361.92 644.69h0M385.75 634.85h0M362.59 639.39h0M361.47 635.38h0M377.55 628.31h0M362.76 642.56h0M393.86 642.93h0M367.68 613.11h0M362.23 631.77h0M370.86 647.43h0M361.64 635.6h0M376.26 632.22h0M368.98 627.97h0M366.28 627.31h0M365.24 671.42h0M364.08 615.36h0M361.35 639.53h0M362.79 648.81h0M362.16 626.84h0M363.86 629.35h0M361.21 636.8h0M362.23 619.15h0M362.14 634.04h0M381.14 616.36h0M362.8 635.43h0M361.61 619.73h0M363.18 615.56h0M381.07 616.87h0M367.62 649.66h0M367.57 651.26h0M366.05 673.61h0M361.1 627.13h0M361.74 625.25h0M417.94 634.62h0M361.79 658.21h0M363.48 636.13h0M375.66 654.39h0M366.86 633.39h0M366.45 622.32h0M361.26 639.54h0M361.71 643.82h0M365.11 631.56h0M368.9 637.34h0M444.58 624.44h0M372.65 632.07h0M361.71 652.55h0M361.67 660.64h0M362.79 634.71h0M366.2 622.2h0M361.24 666.74h0M376.32 639.86h0M362.19 628.43h0M361.72 627.73h0M369.15 683.46h0M375.9 639.7h0M370.09 628.36h0M370.36 652.21h0M364.77 622.58h0M361.46 610.48h0M362.36 645.28h0M363.01 615.68h0M367.13 626.87h0M386.28 637.55h0M362.71 639.07h0M362.31 689.47h0M362.01 637.14h0M361.41 624.71h0M374.12 682.93h0M378.64 636.44h0M364.03 619.24h0M378.39 628.33h0M363.67 625.98h0M361.97 627.82h0M369.1 673.59h0M361.04 609.38h0M365.99 623.95h0M385.19 626.9h0M400.72 632.89h0M361.53 618.34h0M361.01 641.57h0M362.04 626.42h0M362.41 634.17h0M361.41 628.92h0M361.22 689.54h0M361.95 646.75h0M361.22 647.63h0M362.55 632.06h0M361.76 621.39h0M383.72 653.97h0M361.67 629.46h0M365.19 631.79h0M365.67 646.15h0M369.99 629.79h0M362.68 614.31h0M361.37 641.01h0M362.11 683.5h0M363.26 624.84h0M369.41 621.47h0M362.26 660.21h0M361.55 631.07h0M367.79 643.9h0M364.38 630.6h0M365.84 663.96h0M380.29 639.76h0M369.61 632.34h0M374.5 617h0M367.11 620.41h0M366.19 626.6h0M364.38 629.78h0M361.03 617.91h0M368.76 658.29h0M362.37 625.58h0M380.14 639.87h0M406.52 630.96h0M379.63 661.05h0M376.55 619.76h0M361.74 630.46h0M361.12 632.89h0M369.97 684.57h0M361.04 616.36h0M397.62 646.35h0M361.99 624.43h0M362.49 633.03h0M451.35 644.78h0M362.36 680.39h0M361.57 631.26h0M361.81 624.68h0M363.4 620.25h0M361.71 635.88h0M361.65 645.85h0M425.47 688.53h0M373.61 624.31h0M361.64 626.34h0M362.29 633.12h0M361.26 650.03h0M362.87 618.01h0M362.53 608.24h0M379.47 632.55h0M379.07 615.92h0M451.02 639.09h0M373.01 639.63h0M399.74 625.04h0" stroke="#3a3a3a" stroke-opacity="0.64" stroke-width="2.1" stroke-linecap="round"/>
<line x1="361" y1="634.63" x2="457.25" y2="629.7" stroke="#3366ff" stroke-width="1.1"/>
</g></svg>
<rect x="355.8" y="601" width="103.6" height="99.5" fill="none" stroke="#333" stroke-width="0.75"/>
<text x="458.5" y="606" font-family='Liberation Sans' font-size="5.0" fill="#e31a1c" text-anchor="end">Rho = 0.061</text>
<text x="458.5" y="611.3" font-family='Liberation Sans' font-size="5.0" fill="#e31a1c" text-anchor="end">p = 2.33e−01</text>
<line x1="361" x2="361" y1="700.5" y2="702.3" stroke="#333" stroke-width="0.5"/>
<text x="361" y="708.2" font-family='Liberation Sans' font-size="5.3" fill="#4d4d4d" text-anchor="middle">0.00</text>
<line x1="384.25" x2="384.25" y1="700.5" y2="702.3" stroke="#333" stroke-width="0.5"/>
<text x="384.25" y="708.2" font-family='Liberation Sans' font-size="5.3" fill="#4d4d4d" text-anchor="middle">0.05</text>
<line x1="407.5" x2="407.5" y1="700.5" y2="702.3" stroke="#333" stroke-width="0.5"/>
<text x="407.5" y="708.2" font-family='Liberation Sans' font-size="5.3" fill="#4d4d4d" text-anchor="middle">0.10</text>
<line x1="430.75" x2="430.75" y1="700.5" y2="702.3" stroke="#333" stroke-width="0.5"/>
<text x="430.75" y="708.2" font-family='Liberation Sans' font-size="5.3" fill="#4d4d4d" text-anchor="middle">0.15</text>
<line x1="454" x2="454" y1="700.5" y2="702.3" stroke="#333" stroke-width="0.5"/>
<text x="454" y="708.2" font-family='Liberation Sans' font-size="5.3" fill="#4d4d4d" text-anchor="middle">0.20</text>
<text x="404.6" y="715.6" font-family='Liberation Sans' font-size="7" fill="#1a1a1a" text-anchor="middle">Infiltration Level</text>
<rect x="462.8" y="590.3" width="103.2" height="10.7" fill="#d9d9d9" stroke="#333" stroke-width="0.7"/>
<text x="514.4" y="597.7" font-family='Liberation Sans' font-size="5.9" fill="#1a1a1a" text-anchor="middle">Eosinophil_CIBERSORT</text>
<svg x="462.8" y="601" width="103.2" height="99.5" overflow="hidden"><g transform="translate(-462.8,-601)">
<line x1="462.8" x2="566" y1="691.63" y2="691.63" stroke="#f4f4f4" stroke-width="0.4"/>
<line x1="462.8" x2="566" y1="664.29" y2="664.29" stroke="#f4f4f4" stroke-width="0.4"/>
<line x1="462.8" x2="566" y1="636.95" y2="636.95" stroke="#f4f4f4" stroke-width="0.4"/>
<line x1="462.8" x2="566" y1="609.61" y2="609.61" stroke="#f4f4f4" stroke-width="0.4"/>
<line x1="452.9" x2="452.9" y1="601" y2="700.5" stroke="#f4f4f4" stroke-width="0.4"/>
<line x1="482.7" x2="482.7" y1="601" y2="700.5" stroke="#f4f4f4" stroke-width="0.4"/>
<line x1="512.5" x2="512.5" y1="601" y2="700.5" stroke="#f4f4f4" stroke-width="0.4"/>
<line x1="542.3" x2="542.3" y1="601" y2="700.5" stroke="#f4f4f4" stroke-width="0.4"/>
<line x1="572.1" x2="572.1" y1="601" y2="700.5" stroke="#f4f4f4" stroke-width="0.4"/>
<line x1="462.8" x2="566" y1="677.96" y2="677.96" stroke="#e6e6e6" stroke-width="0.55"/>
<line x1="462.8" x2="566" y1="650.62" y2="650.62" stroke="#e6e6e6" stroke-width="0.55"/>
<line x1="462.8" x2="566" y1="623.28" y2="623.28" stroke="#e6e6e6" stroke-width="0.55"/>
<line x1="467.8" x2="467.8" y1="601" y2="700.5" stroke="#e6e6e6" stroke-width="0.55"/>
<line x1="497.6" x2="497.6" y1="601" y2="700.5" stroke="#e6e6e6" stroke-width="0.55"/>
<line x1="527.4" x2="527.4" y1="601" y2="700.5" stroke="#e6e6e6" stroke-width="0.55"/>
<line x1="557.2" x2="557.2" y1="601" y2="700.5" stroke="#e6e6e6" stroke-width="0.55"/>
<polygon points="467.8,633.81 472.57,633.75 477.34,633.3 482.1,632.74 486.87,632.16 491.64,631.56 496.41,630.96 501.18,630.35 505.94,629.74 510.71,629.12 515.48,628.51 520.25,627.89 525.02,627.27 529.78,626.66 534.55,626.04 539.32,625.42 544.09,624.8 548.86,624.18 553.62,623.56 558.39,622.94 563.16,622.32 563.16,660.6 558.39,659.31 553.62,658.02 548.86,656.73 544.09,655.44 539.32,654.15 534.55,652.87 529.78,651.58 525.02,650.29 520.25,649 515.48,647.72 510.71,646.43 505.94,645.15 501.18,643.87 496.41,642.59 491.64,641.31 486.87,640.04 482.1,638.79 477.34,637.57 472.57,636.45 467.8,635.72" fill="#999" fill-opacity="0.38"/>
<path d="M483.77 623.14h0M468.07 619.6h0M468.65 634.61h0M467.82 629.41h0M468.87 635.88h0M468.58 630.52h0M468.57 629.62h0M468.49 637.02h0M468.18 618.92h0M468.55 636.68h0M468.36 693.44h0M468.11 633.63h0M468.48 626.4h0M468.51 629.45h0M468.79 638.33h0M468.29 641.51h0M468.22 622.51h0M504.75 627.77h0M467.85 616.67h0M468.76 642.23h0M468.55 638.16h0M468.99 634.68h0M468.42 639.74h0M468.25 619.96h0M467.99 644.35h0M467.9 689.92h0M467.81 631.89h0M468.09 638.28h0M468.54 641.08h0M468.55 647.96h0M468.44 638.58h0M468.17 617.03h0M468.63 651.81h0M468.86 672.4h0M468.42 626.62h0M468.67 636.78h0M467.83 655.28h0M468.04 646.85h0M468.34 633.28h0M468.49 634.15h0M468.77 629.41h0M468.17 629.67h0M468.94 632.01h0M468.81 621.55h0M468.62 644.95h0M467.99 627.94h0M468.01 626.51h0M468.05 638.66h0M468.1 612.14h0M467.9 650h0M467.87 631.29h0M468.07 624.44h0M468.08 632.24h0M468.38 631.2h0M468.85 656.28h0M468.27 642.84h0M468.93 644h0M468.27 642.95h0M468.25 628.1h0M468.53 653.51h0M468.87 636.18h0M468.22 629.21h0M468.89 625.51h0M467.81 629.17h0M468.31 631.95h0M468.22 632.09h0M467.84 633.75h0M468 630.33h0M468.17 627.33h0M468.6 625.63h0M468.32 617.31h0M468.75 672.8h0M468.24 617.71h0M468.78 624.34h0M467.91 626.32h0M468.17 630.95h0M468.31 669.73h0M480.78 630.21h0M479.99 619.29h0M468.48 653.25h0M468.5 629.96h0M468.91 636.48h0M468.87 627.38h0M468.05 630.43h0M468.78 641.54h0M468.69 611.39h0M467.97 634.14h0M467.84 632.65h0M467.95 639.8h0M467.8 629.67h0M468.52 631.71h0M467.88 641.6h0M468.14 657.14h0M468.64 647.11h0M529.95 677.79h0M468.3 631.14h0M468.09 625.18h0M468.68 615.62h0M468.79 644.14h0M478.51 630.79h0M472.53 636.44h0M468.61 628.59h0M468.36 649.56h0M468.86 629.83h0M467.87 641.46h0M468.12 676.25h0M468.77 615.99h0M468.18 637.79h0M468.76 618.71h0M468.26 613.36h0M483.42 618.35h0M468.45 658.66h0M467.96 637.55h0M467.82 633.87h0M468.41 663.76h0M468.49 621.77h0M468.7 636.77h0M468.13 630.2h0M468.9 624.29h0M468.63 639.24h0M467.98 636.44h0M468.23 623.75h0M468.85 637.5h0M468.09 622.98h0M467.81 671.04h0M468.34 638.47h0M468.27 620.76h0M493.04 630.82h0M468.01 630.17h0M468.04 638.41h0M468.23 641.05h0M472.59 635.46h0M467.83 631.09h0M468.02 637.1h0M468.46 635.25h0M468.08 614.09h0M468.97 630.69h0M468.08 655.65h0M468.95 644.93h0M468.39 632.61h0M467.89 644.06h0M468.63 661.32h0M468.41 634.69h0M468.02 682.96h0M468.71 613.04h0M468.79 639.29h0M468.49 636.03h0M468.41 630.69h0M468.04 641.21h0M468.04 648.49h0M467.92 635.48h0M468.53 647.48h0M468.3 624.81h0M468.64 676.13h0M467.89 633.69h0M468.54 654.76h0M481.23 643.83h0M468.03 626.81h0M468.67 639.29h0M468.08 616.66h0M468.12 634.06h0M468.65 631.42h0M467.92 636.04h0M468.96 656.93h0M467.95 690.57h0M468.78 632.46h0M467.9 630.63h0M468.23 640.49h0M467.9 615.43h0M468.94 642.58h0M468.13 620.05h0M475 638.91h0M467.95 616.94h0M468.89 626.41h0M468.97 618.16h0M467.88 637.88h0M468.21 629.71h0M467.9 635.28h0M468.84 639.36h0M468.08 682.55h0M468.1 620.7h0M468.89 631.79h0M468.03 627.05h0M468.97 629.41h0M467.88 623.36h0M468.72 635.29h0M468.45 620h0M467.87 624.12h0M468.96 631.24h0M468.23 638.72h0M468.86 634.34h0M468.94 690.5h0M481.08 643.51h0M468.77 627.01h0M468.3 648.42h0M468.73 678.87h0M468.74 632.85h0M468.25 639.3h0M468.89 640.36h0M467.85 629.37h0M467.93 629.19h0M468.9 629.84h0M468.22 628.33h0M468.85 636.32h0M468.87 639.78h0M468.36 638.21h0M468.68 630.59h0M468.22 608.24h0M468.6 638.97h0M468.1 623.2h0M467.9 634.13h0M467.91 641.07h0M468.54 623.97h0M468.81 633.23h0M468.21 632.2h0M468.79 634.68h0M467.99 630.33h0M467.97 630.64h0M467.99 618.1h0M468.83 641.45h0M468.72 646.31h0M467.93 646.36h0M468.73 608.24h0M468.48 634.15h0M468.47 634.66h0M468.45 644.25h0M468.51 644.61h0M467.96 644.66h0M481.61 634.04h0M468.74 625.64h0M468.33 644.69h0M468.01 634.85h0M468.38 639.39h0M468.89 635.38h0M468.2 628.31h0M467.92 642.56h0M468.05 642.93h0M480.3 613.11h0M468.56 631.77h0M468.24 647.43h0M479.93 635.6h0M468.31 632.22h0M468.07 627.97h0M468.63 627.31h0M468.98 671.42h0M468.44 615.36h0M468.6 639.53h0M468.71 648.81h0M468.77 626.84h0M468.57 629.35h0M468.18 636.8h0M467.97 619.15h0M468.59 634.04h0M468.37 616.36h0M468.69 635.43h0M468.58 619.73h0M468.51 615.56h0M467.97 616.87h0M468.9 649.66h0M468 651.26h0M468.03 673.61h0M468.68 627.13h0M468.15 625.25h0M468.59 634.62h0M468.94 658.21h0M468.91 636.13h0M468.1 654.39h0M482.49 633.39h0M467.87 622.32h0M468.29 639.54h0M468.52 643.82h0M468.2 631.56h0M468.14 637.34h0M468.52 624.44h0M467.86 632.07h0M468.9 652.55h0M467.95 660.64h0M468.7 634.71h0M468.58 622.2h0M516.55 666.74h0M467.98 639.86h0M468.37 628.43h0M468.17 627.73h0M468.52 683.46h0M468.71 639.7h0M467.95 628.36h0M468.03 652.21h0M468.01 622.58h0M467.92 610.48h0M468.36 645.28h0M468.35 615.68h0M468.27 626.87h0M468.72 637.55h0M468.29 639.07h0M467.98 689.47h0M468.23 637.14h0M468.77 624.71h0M468.14 682.93h0M468.15 636.44h0M468.33 619.24h0M468.13 628.33h0M468.29 625.98h0M468.91 627.82h0M468.64 673.59h0M468.35 609.38h0M468.87 623.95h0M468.42 626.9h0M468.17 632.89h0M468.94 618.34h0M468.64 641.57h0M468.89 626.42h0M468.38 634.17h0M468.46 628.92h0M468.23 689.54h0M468.17 646.75h0M468.72 647.63h0M468.54 632.06h0M468.97 621.39h0M468.21 653.97h0M468.69 629.46h0M468.81 631.79h0M467.99 646.15h0M468.18 629.79h0M468.04 614.31h0M468.36 641.01h0M468.45 683.5h0M484.68 624.84h0M468.8 621.47h0M511.28 660.21h0M468.47 631.07h0M508.65 643.9h0M468.83 630.6h0M468.91 663.96h0M468.99 639.76h0M468.22 632.34h0M468.76 617h0M468.11 620.41h0M468.68 626.6h0M468.95 629.78h0M468.6 617.91h0M468.59 658.29h0M468.32 625.58h0M468.44 639.87h0M468.3 630.96h0M468.22 661.05h0M468.8 619.76h0M468.43 630.46h0M468.37 632.89h0M468.56 684.57h0M468.58 616.36h0M479.51 646.35h0M467.9 624.43h0M468.49 633.03h0M468.66 644.78h0M468.21 680.39h0M468.45 631.26h0M468.43 624.68h0M468.96 620.25h0M468.62 635.88h0M468.51 645.85h0M468.19 688.53h0M468.47 624.31h0M467.89 626.34h0M502.52 633.12h0M468.61 650.03h0M468.68 618.01h0M467.82 608.24h0M468.74 632.55h0M468.34 615.92h0M468.68 639.09h0M467.94 639.63h0M468.01 625.04h0" stroke="#3a3a3a" stroke-opacity="0.64" stroke-width="2.1" stroke-linecap="round"/>
<line x1="467.8" y1="634.76" x2="563.16" y2="641.46" stroke="#3366ff" stroke-width="1.1"/>
</g></svg>
<rect x="462.8" y="601" width="103.2" height="99.5" fill="none" stroke="#333" stroke-width="0.75"/>
<text x="565.1" y="606" font-family='Liberation Sans' font-size="5.0" fill="#e31a1c" text-anchor="end">Rho = −0.056</text>
<text x="565.1" y="611.3" font-family='Liberation Sans' font-size="5.0" fill="#e31a1c" text-anchor="end">p = 2.75e−01</text>
<line x1="467.8" x2="467.8" y1="700.5" y2="702.3" stroke="#333" stroke-width="0.5"/>
<text x="467.8" y="708.2" font-family='Liberation Sans' font-size="5.3" fill="#4d4d4d" text-anchor="middle">0.00</text>
<line x1="497.6" x2="497.6" y1="700.5" y2="702.3" stroke="#333" stroke-width="0.5"/>
<text x="497.6" y="708.2" font-family='Liberation Sans' font-size="5.3" fill="#4d4d4d" text-anchor="middle">0.02</text>
<line x1="527.4" x2="527.4" y1="700.5" y2="702.3" stroke="#333" stroke-width="0.5"/>
<text x="527.4" y="708.2" font-family='Liberation Sans' font-size="5.3" fill="#4d4d4d" text-anchor="middle">0.04</text>
<line x1="557.2" x2="557.2" y1="700.5" y2="702.3" stroke="#333" stroke-width="0.5"/>
<text x="557.2" y="708.2" font-family='Liberation Sans' font-size="5.3" fill="#4d4d4d" text-anchor="middle">0.06</text>
<text x="511.4" y="715.6" font-family='Liberation Sans' font-size="7" fill="#1a1a1a" text-anchor="middle">Infiltration Level</text>
<rect x="569.6" y="590.3" width="103.2" height="10.7" fill="#d9d9d9" stroke="#333" stroke-width="0.7"/>
<text x="621.2" y="597.7" font-family='Liberation Sans' font-size="5.9" fill="#1a1a1a" text-anchor="middle" textLength="100.2" lengthAdjust="spacingAndGlyphs">Dendritic cell activated_CIBERSORTBS</text>
<svg x="569.6" y="601" width="103.2" height="99.5" overflow="hidden"><g transform="translate(-569.6,-601)">
<line x1="569.6" x2="672.8" y1="691.63" y2="691.63" stroke="#f4f4f4" stroke-width="0.4"/>
<line x1="569.6" x2="672.8" y1="664.29" y2="664.29" stroke="#f4f4f4" stroke-width="0.4"/>
<line x1="569.6" x2="672.8" y1="636.95" y2="636.95" stroke="#f4f4f4" stroke-width="0.4"/>
<line x1="569.6" x2="672.8" y1="609.61" y2="609.61" stroke="#f4f4f4" stroke-width="0.4"/>
<line x1="561.05" x2="561.05" y1="601" y2="700.5" stroke="#f4f4f4" stroke-width="0.4"/>
<line x1="588.35" x2="588.35" y1="601" y2="700.5" stroke="#f4f4f4" stroke-width="0.4"/>
<line x1="615.65" x2="615.65" y1="601" y2="700.5" stroke="#f4f4f4" stroke-width="0.4"/>
<line x1="642.95" x2="642.95" y1="601" y2="700.5" stroke="#f4f4f4" stroke-width="0.4"/>
<line x1="670.25" x2="670.25" y1="601" y2="700.5" stroke="#f4f4f4" stroke-width="0.4"/>
<line x1="569.6" x2="672.8" y1="677.96" y2="677.96" stroke="#e6e6e6" stroke-width="0.55"/>
<line x1="569.6" x2="672.8" y1="650.62" y2="650.62" stroke="#e6e6e6" stroke-width="0.55"/>
<line x1="569.6" x2="672.8" y1="623.28" y2="623.28" stroke="#e6e6e6" stroke-width="0.55"/>
<line x1="574.7" x2="574.7" y1="601" y2="700.5" stroke="#e6e6e6" stroke-width="0.55"/>
<line x1="602" x2="602" y1="601" y2="700.5" stroke="#e6e6e6" stroke-width="0.55"/>
<line x1="629.3" x2="629.3" y1="601" y2="700.5" stroke="#e6e6e6" stroke-width="0.55"/>
<line x1="656.6" x2="656.6" y1="601" y2="700.5" stroke="#e6e6e6" stroke-width="0.55"/>
<polygon points="574.7,632.83 579.41,633.52 584.12,633.99 588.83,634.23 593.54,634.31 598.25,634.31 602.96,634.26 607.66,634.19 612.37,634.11 617.08,634.02 621.79,633.93 626.5,633.83 631.21,633.72 635.92,633.62 640.63,633.51 645.34,633.4 650.05,633.29 654.76,633.18 659.47,633.07 664.18,632.96 668.88,632.85 668.88,653.63 664.18,652.63 659.47,651.63 654.76,650.63 650.05,649.63 645.34,648.63 640.63,647.63 635.92,646.64 631.21,645.64 626.5,644.65 621.79,643.66 617.08,642.68 612.37,641.7 607.66,640.73 602.96,639.78 598.25,638.84 593.54,637.95 588.83,637.14 584.12,636.49 579.41,636.07 574.7,635.88" fill="#999" fill-opacity="0.38"/>
<path d="M587.37 623.14h0M618.61 619.6h0M592.35 634.61h0M575.04 629.41h0M576.24 635.88h0M576.05 630.52h0M581.05 629.62h0M586.08 637.02h0M594.98 618.92h0M576.72 636.68h0M593.48 693.44h0M656.49 633.63h0M574.85 626.4h0M642.08 629.45h0M576.39 638.33h0M602.99 641.51h0M607.84 622.51h0M579.67 627.77h0M588.97 616.67h0M577.63 642.23h0M581.51 638.16h0M587.83 634.68h0M654.62 639.74h0M647.63 619.96h0M575.56 644.35h0M575.24 689.92h0M574.93 631.89h0M579.76 638.28h0M638.87 641.08h0M575.09 647.96h0M576.48 638.58h0M576.18 617.03h0M598.87 651.81h0M585.42 672.4h0M576 626.62h0M589.13 636.78h0M615.27 655.28h0M576.59 646.85h0M593.71 633.28h0M585.6 634.15h0M586.95 629.41h0M575.2 629.67h0M576.5 632.01h0M574.95 621.55h0M596.08 644.95h0M583.16 627.94h0M574.86 626.51h0M576.46 638.66h0M584.19 612.14h0M596.13 650h0M582.08 631.29h0M575.14 624.44h0M578.15 632.24h0M576.53 631.2h0M587.36 656.28h0M590.79 642.84h0M575.44 644h0M576.02 642.95h0M576.36 628.1h0M575.24 653.51h0M575.27 636.18h0M587.15 629.21h0M576.1 625.51h0M599.12 629.17h0M576.63 631.95h0M583.66 632.09h0M596.05 633.75h0M588.5 630.33h0M576.38 627.33h0M575.62 625.63h0M575.86 617.31h0M574.76 672.8h0M576.5 617.71h0M576.72 624.34h0M585.97 626.32h0M582.05 630.95h0M579.37 669.73h0M576.23 630.21h0M662.02 619.29h0M584.72 653.25h0M588.02 629.96h0M584.21 636.48h0M576.2 627.38h0M587.34 630.43h0M575.77 641.54h0M643.77 611.39h0M587.5 634.14h0M616.27 632.65h0M576.48 639.8h0M575.75 629.67h0M586.96 631.71h0M575.13 641.6h0M606.32 657.14h0M576.57 647.11h0M575.67 677.79h0M625.84 631.14h0M584.16 625.18h0M576.41 615.62h0M574.84 644.14h0M580 630.79h0M587.2 636.44h0M581.12 628.59h0M575.59 649.56h0M584.05 629.83h0M580.75 641.46h0M576.73 676.25h0M575.67 615.99h0M597.39 637.79h0M598.75 618.71h0M575.37 613.36h0M575.82 618.35h0M667.55 658.66h0M576.15 637.55h0M575.34 633.87h0M574.95 663.76h0M581.84 621.77h0M574.79 636.77h0M581.76 630.2h0M608.73 624.29h0M577.53 639.24h0M587.47 636.44h0M575.37 623.75h0M578.36 637.5h0M586.11 622.98h0M577.12 671.04h0M584.89 638.47h0M584.26 620.76h0M575.76 630.82h0M597.65 630.17h0M586.34 638.41h0M582.72 641.05h0M585.8 635.46h0M575.51 631.09h0M576.47 637.1h0M593.84 635.25h0M575.5 614.09h0M575.09 630.69h0M594.87 655.65h0M592.52 644.93h0M576.3 632.61h0M575.91 644.06h0M583.61 661.32h0M579.48 634.69h0M574.87 682.96h0M590.85 613.04h0M631.64 639.29h0M575.04 636.03h0M577.17 630.69h0M587.51 641.21h0M605.53 648.49h0M581.72 635.48h0M576.98 647.48h0M576.36 624.81h0M575.86 676.13h0M574.74 633.69h0M576.66 654.76h0M581.14 643.83h0M580.66 626.81h0M638.01 639.29h0M580.03 616.66h0M574.71 634.06h0M587.91 631.42h0M588.57 636.04h0M593.03 656.93h0M576.43 690.57h0M577.66 632.46h0M575.52 630.63h0M595.46 640.49h0M593.13 615.43h0M580.64 642.58h0M587.73 620.05h0M575.17 638.91h0M575.81 616.94h0M576.74 626.41h0M575.45 618.16h0M608.68 637.88h0M610.59 629.71h0M594 635.28h0M588.64 639.36h0M576.34 682.55h0M575.45 620.7h0M575.15 631.79h0M595.72 627.05h0M575.21 629.41h0M575.51 623.36h0M574.98 635.29h0M576.66 620h0M586.02 624.12h0M576.22 631.24h0M590.68 638.72h0M590.11 634.34h0M576.47 690.5h0M583.15 643.51h0M575.66 627.01h0M592.81 648.42h0M576.27 678.87h0M588 632.85h0M611.59 639.3h0M590.59 640.36h0M583.25 629.37h0M593.94 629.19h0M577.21 629.84h0M576.24 628.33h0M591.32 636.32h0M575.36 639.78h0M576.88 638.21h0M583.29 630.59h0M578.38 608.24h0M575.42 638.97h0M575.66 623.2h0M581.74 634.13h0M601.94 641.07h0M575.02 623.97h0M579.24 633.23h0M580.43 632.2h0M583.25 634.68h0M659.69 630.33h0M587.83 630.64h0M579.25 618.1h0M609.16 641.45h0M575.96 646.31h0M578.47 646.36h0M575.58 608.24h0M585.93 634.15h0M576.04 634.66h0M576.46 644.25h0M597.85 644.61h0M577.61 644.66h0M579.25 634.04h0M576.46 625.64h0M576.02 644.69h0M576.46 634.85h0M576.64 639.39h0M575.54 635.38h0M590.17 628.31h0M576.38 642.56h0M633.91 642.93h0M582.12 613.11h0M575.54 631.77h0M611.2 647.43h0M588.11 635.6h0M577.53 632.22h0M576.26 627.97h0M576.39 627.31h0M578.72 671.42h0M575.33 615.36h0M576 639.53h0M575.95 648.81h0M578.5 626.84h0M578.41 629.35h0M575.57 636.8h0M669.18 619.15h0M589.34 634.04h0M578.08 616.36h0M616.77 635.43h0M575.85 619.73h0M575.72 615.56h0M582.78 616.87h0M582.68 649.66h0M580.58 651.26h0M574.94 673.61h0M590.23 627.13h0M575.88 625.25h0M597.91 634.62h0M580.3 658.21h0M622.89 636.13h0M581.79 654.39h0M575.03 633.39h0M576.67 622.32h0M642.38 639.54h0M594.22 643.82h0M576.09 631.56h0M622.16 637.34h0M575.14 624.44h0M580.07 632.07h0M584.01 652.55h0M581.79 660.64h0M583.19 634.71h0M576.54 622.2h0M575.85 666.74h0M575.85 639.86h0M576.9 628.43h0M576.14 627.73h0M579.69 683.46h0M604.97 639.7h0M587.73 628.36h0M575.72 652.21h0M574.94 622.58h0M574.99 610.48h0M575.55 645.28h0M579.91 615.68h0M576.22 626.87h0M581.16 637.55h0M575.8 639.07h0M576.61 689.47h0M580.31 637.14h0M583 624.71h0M582.77 682.93h0M584.45 636.44h0M583.6 619.24h0M575.97 628.33h0M576.28 625.98h0M575.78 627.82h0M576.73 673.59h0M582.43 609.38h0M575.22 623.95h0M575.98 626.9h0M576.7 632.89h0M575.53 618.34h0M575.6 641.57h0M575.51 626.42h0M576.55 634.17h0M586.64 628.92h0M608.21 689.54h0M588 646.75h0M577.78 647.63h0M578.88 632.06h0M576.69 621.39h0M575.94 653.97h0M575.2 629.46h0M588.95 631.79h0M575.58 646.15h0M577.36 629.79h0M580.42 614.31h0M598.59 641.01h0M580.23 683.5h0M582.63 624.84h0M584.88 621.47h0M575.18 660.21h0M580.98 631.07h0M574.97 643.9h0M586.56 630.6h0M575.39 663.96h0M584.76 639.76h0M603.46 632.34h0M589.69 617h0M577.04 620.41h0M594.25 626.6h0M574.74 629.78h0M576.47 617.91h0M575.19 658.29h0M575.91 625.58h0M574.78 639.87h0M592.12 630.96h0M595.2 661.05h0M585.77 619.76h0M576.9 630.46h0M579.34 632.89h0M583.21 684.57h0M582.4 616.36h0M574.82 646.35h0M587.43 624.43h0M575.67 633.03h0M583.41 644.78h0M576.61 680.39h0M581.81 631.26h0M576.65 624.68h0M575.75 620.25h0M579.99 635.88h0M590.02 645.85h0M582.53 688.53h0M576.69 624.31h0M613.28 626.34h0M576.57 633.12h0M575.33 650.03h0M577.76 618.01h0M579.45 608.24h0M576.25 632.55h0M575.93 615.92h0M599.18 639.09h0M576.37 639.63h0M576 625.04h0" stroke="#3a3a3a" stroke-opacity="0.64" stroke-width="2.1" stroke-linecap="round"/>
<line x1="574.7" y1="634.35" x2="668.88" y2="643.24" stroke="#3366ff" stroke-width="1.1"/>
</g></svg>
<rect x="569.6" y="601" width="103.2" height="99.5" fill="none" stroke="#333" stroke-width="0.75"/>
<text x="671.9" y="606" font-family='Liberation Sans' font-size="5.0" fill="#e31a1c" text-anchor="end">Rho = −0.117</text>
<text x="671.9" y="611.3" font-family='Liberation Sans' font-size="5.0" fill="#e31a1c" text-anchor="end">p = 2.22e−02</text>
<line x1="574.7" x2="574.7" y1="700.5" y2="702.3" stroke="#333" stroke-width="0.5"/>
<text x="574.7" y="708.2" font-family='Liberation Sans' font-size="5.3" fill="#4d4d4d" text-anchor="middle">0.00</text>
<line x1="602" x2="602" y1="700.5" y2="702.3" stroke="#333" stroke-width="0.5"/>
<text x="602" y="708.2" font-family='Liberation Sans' font-size="5.3" fill="#4d4d4d" text-anchor="middle">0.02</text>
<line x1="629.3" x2="629.3" y1="700.5" y2="702.3" stroke="#333" stroke-width="0.5"/>
<text x="629.3" y="708.2" font-family='Liberation Sans' font-size="5.3" fill="#4d4d4d" text-anchor="middle">0.04</text>
<line x1="656.6" x2="656.6" y1="700.5" y2="702.3" stroke="#333" stroke-width="0.5"/>
<text x="656.6" y="708.2" font-family='Liberation Sans' font-size="5.3" fill="#4d4d4d" text-anchor="middle">0.06</text>
<text x="618.2" y="715.6" font-family='Liberation Sans' font-size="7" fill="#1a1a1a" text-anchor="middle">Infiltration Level</text>
<text x="1.7" y="729.1" font-family='Liberation Sans' font-size="14.4" fill="#111">D</text>
<text transform="translate(8.7,782.7) rotate(-90)" font-family='Liberation Sans' font-size="6.5" fill="#1a1a1a" text-anchor="middle">Cumulative Survival</text>
<rect x="22.4" y="721.8" width="105.4" height="11" fill="#d9d9d9"/>
<text x="75.1" y="729.2" font-family='Liberation Sans' font-size="5.4" fill="#333" text-anchor="middle">Macrophage</text>
<line x1="22.4" x2="127.8" y1="823.44" y2="823.44" stroke="#f3f3f3" stroke-width="0.45"/>
<line x1="22.4" x2="127.8" y1="798.8" y2="798.8" stroke="#f3f3f3" stroke-width="0.45"/>
<line x1="22.4" x2="127.8" y1="774.16" y2="774.16" stroke="#f3f3f3" stroke-width="0.45"/>
<line x1="22.4" x2="127.8" y1="749.52" y2="749.52" stroke="#f3f3f3" stroke-width="0.45"/>
<line x1="42.25" x2="42.25" y1="732.8" y2="832.5" stroke="#f3f3f3" stroke-width="0.45"/>
<line x1="73.35" x2="73.35" y1="732.8" y2="832.5" stroke="#f3f3f3" stroke-width="0.45"/>
<line x1="104.45" x2="104.45" y1="732.8" y2="832.5" stroke="#f3f3f3" stroke-width="0.45"/>
<line x1="22.4" x2="127.8" y1="811.12" y2="811.12" stroke="#e4e4e4" stroke-width="0.6"/>
<line x1="22.4" x2="127.8" y1="786.48" y2="786.48" stroke="#e4e4e4" stroke-width="0.6"/>
<line x1="22.4" x2="127.8" y1="761.84" y2="761.84" stroke="#e4e4e4" stroke-width="0.6"/>
<line x1="22.4" x2="127.8" y1="737.2" y2="737.2" stroke="#e4e4e4" stroke-width="0.6"/>
<line x1="26.7" x2="26.7" y1="732.8" y2="832.5" stroke="#e4e4e4" stroke-width="0.6"/>
<line x1="57.8" x2="57.8" y1="732.8" y2="832.5" stroke="#e4e4e4" stroke-width="0.6"/>
<line x1="88.9" x2="88.9" y1="732.8" y2="832.5" stroke="#e4e4e4" stroke-width="0.6"/>
<line x1="120" x2="120" y1="732.8" y2="832.5" stroke="#e4e4e4" stroke-width="0.6"/>
<path d="M26.7 737.2 L27.61 737.2 L27.61 738.95 L28.41 738.95 L28.41 740.7 L29.2 740.7 L29.2 742.45 L30.34 742.45 L30.34 744.2 L31.06 744.2 L31.06 745.95 L32.06 745.95 L32.06 747.7 L32.76 747.7 L32.76 749.94 L33.61 749.94 L33.61 752.18 L34.5 752.18 L34.5 754.42 L35.43 754.42 L35.43 756.66 L36.03 756.66 L36.03 758.9 L36.84 758.9 L36.84 761.03 L37.88 761.03 L37.88 763.17 L38.71 763.17 L38.71 765.3 L39.25 765.3 L39.25 767.43 L40.01 767.43 L40.01 769.57 L41.01 769.57 L41.01 771.7 L41.68 771.7 L41.68 773.32 L42.75 773.32 L42.75 774.93 L43.45 774.93 L43.45 776.55 L44.38 776.55 L44.38 778.17 L45.21 778.17 L45.21 779.78 L45.83 779.78 L45.83 781.4 L46.68 781.4 L46.68 782.68 L47.43 782.68 L47.43 783.96 L48.04 783.96 L48.04 785.24 L48.81 785.24 L48.81 786.52 L49.79 786.52 L49.79 787.8 L50.72 787.8 L50.72 788.6 L51.48 788.6 L51.48 789.4 L52.32 789.4 L52.32 790.2 L53.05 790.2 L53.05 791 L53.83 791 L53.83 791.8 L54.3 791.8 L54.3 792.3 L70.71 792.3 L70.71 798.7 L81.12 798.7 L81.12 811.1 L83.46 811.1 L83.46 823.1 L122.33 823.1" fill="none" stroke="#2323e0" stroke-width="1"/>
<path d="M26.7 737.2 L27.72 737.2 L27.72 739 L28.66 739 L28.66 740.8 L29.71 740.8 L29.71 742.6 L30.51 742.6 L30.51 744.4 L31.14 744.4 L31.14 747.63 L32.06 747.63 L32.06 750.87 L32.84 750.87 L32.84 754.1 L33.57 754.1 L33.57 758.37 L34.58 758.37 L34.58 762.63 L35.25 762.63 L35.25 766.9 L36.25 766.9 L36.25 770.1 L36.87 770.1 L36.87 773.3 L37.82 773.3 L37.82 776.5 L38.45 776.5 L38.45 778.92 L39.31 778.92 L39.31 781.35 L40.14 781.35 L40.14 783.78 L41.01 783.78 L41.01 786.2 L41.91 786.2 L41.91 788.6 L42.56 788.6 L42.56 791 L43.49 791 L43.49 793.4 L44.19 793.4 L44.19 795.8 L44.91 795.8 L44.91 797.24 L45.79 797.24 L45.79 798.68 L46.45 798.68 L46.45 800.12 L47.42 800.12 L47.42 801.56 L48.16 801.56 L48.16 803 L48.97 803 L48.97 803.67 L49.91 803.67 L49.91 804.33 L50.74 804.33 L50.74 805 L51.38 805 L51.38 805.67 L52.01 805.67 L52.01 806.33 L52.98 806.33 L52.98 807 L53.95 807 L53.95 807.55 L54.76 807.55 L54.76 808.1 L55.38 808.1 L55.38 808.65 L56.19 808.65 L56.19 809.2 L57.16 809.2 L57.16 809.75 L57.8 809.75 L57.8 810.3 L58.48 810.3 L58.48 811.1 L59.36 811.1 L59.36 811.9 L63.4 811.9 L63.4 818.3 L73.12 818.3 L73.12 828.2 L117.67 828.2" fill="none" stroke="#e01f1f" stroke-width="1"/>
<path d="M49.02 788.6h3.4M50.72 786.9v3.4M48.71 787.8h3.4M50.41 786.1v3.4M42.91 778.17h3.4M44.61 776.47v3.4M33.32 754.42h3.4M35.02 752.72v3.4M38.14 767.43h3.4M39.84 765.73v3.4M50.51 789.4h3.4M52.21 787.7v3.4M42.85 778.17h3.4M44.55 776.47v3.4M46.69 785.24h3.4M48.39 783.54v3.4M52.43 791.8h3.4M54.13 790.1v3.4M49 787.8h3.4M50.7 786.1v3.4M43.09 778.17h3.4M44.79 776.47v3.4M57.76 792.3h3.4M59.46 790.6v3.4M36.5 763.17h3.4M38.2 761.47v3.4M29.77 745.95h3.4M31.47 744.25v3.4M26.87 740.7h3.4M28.57 739v3.4M34.26 756.66h3.4M35.96 754.96v3.4M52.11 791h3.4M53.81 789.3v3.4M27.01 740.7h3.4M28.71 739v3.4M26 738.95h3.4M27.7 737.25v3.4M42.38 776.55h3.4M44.08 774.85v3.4M34.63 758.9h3.4M36.33 757.2v3.4M30.41 747.7h3.4M32.11 746v3.4M38.81 769.57h3.4M40.51 767.87v3.4M56.37 792.3h3.4M58.07 790.6v3.4M32.25 752.18h3.4M33.95 750.48v3.4M41.7 774.93h3.4M43.4 773.23v3.4M40 773.32h3.4M41.7 771.62v3.4M82.59 823.1h3.4M84.29 821.4v3.4M51.2 790.2h3.4M52.9 788.5v3.4M46.25 783.96h3.4M47.95 782.26v3.4M37.22 765.3h3.4M38.92 763.6v3.4M40.74 773.32h3.4M42.44 771.62v3.4M42.13 776.55h3.4M43.83 774.85v3.4M44.97 781.4h3.4M46.67 779.7v3.4M33.89 756.66h3.4M35.59 754.96v3.4M29.31 744.2h3.4M31.01 742.5v3.4M50.49 789.4h3.4M52.19 787.7v3.4M29.6 745.95h3.4M31.3 744.25v3.4M43.09 778.17h3.4M44.79 776.47v3.4M48.73 787.8h3.4M50.43 786.1v3.4M51.16 790.2h3.4M52.86 788.5v3.4M49.97 789.4h3.4M51.67 787.7v3.4M35.94 761.03h3.4M37.64 759.33v3.4M30.78 747.7h3.4M32.48 746v3.4M49.18 788.6h3.4M50.88 786.9v3.4M30.38 747.7h3.4M32.08 746v3.4M45.79 783.96h3.4M47.49 782.26v3.4M47.48 786.52h3.4M49.18 784.82v3.4M31.28 749.94h3.4M32.98 748.24v3.4M35.4 761.03h3.4M37.1 759.33v3.4M39.63 771.7h3.4M41.33 770v3.4M53.14 792.3h3.4M54.84 790.6v3.4M51.61 791h3.4M53.31 789.3v3.4M34.87 758.9h3.4M36.57 757.2v3.4M50.67 790.2h3.4M52.37 788.5v3.4M28.88 744.2h3.4M30.58 742.5v3.4M63.86 792.3h3.4M65.56 790.6v3.4M55.87 792.3h3.4M57.57 790.6v3.4M54.37 792.3h3.4M56.07 790.6v3.4M30.34 745.95h3.4M32.04 744.25v3.4M51.23 790.2h3.4M52.93 788.5v3.4M51.76 791h3.4M53.46 789.3v3.4M42.95 778.17h3.4M44.65 776.47v3.4M52.14 791.8h3.4M53.84 790.1v3.4M40.88 773.32h3.4M42.58 771.62v3.4M50.12 789.4h3.4M51.82 787.7v3.4M45.97 783.96h3.4M47.67 782.26v3.4M29.39 745.95h3.4M31.09 744.25v3.4M35.25 761.03h3.4M36.95 759.33v3.4M48.9 787.8h3.4M50.6 786.1v3.4M43.62 779.78h3.4M45.32 778.08v3.4M27.24 740.7h3.4M28.94 739v3.4M43.52 779.78h3.4M45.22 778.08v3.4M47.16 786.52h3.4M48.86 784.82v3.4M29.5 745.95h3.4M31.2 744.25v3.4M40.19 773.32h3.4M41.89 771.62v3.4M29.55 745.95h3.4M31.25 744.25v3.4M28.12 742.45h3.4M29.82 740.75v3.4M39.98 773.32h3.4M41.68 771.62v3.4M44.72 781.4h3.4M46.42 779.7v3.4M56.78 792.3h3.4M58.48 790.6v3.4M46.54 785.24h3.4M48.24 783.54v3.4M41.81 776.55h3.4M43.51 774.85v3.4M41.4 774.93h3.4M43.1 773.23v3.4M38.89 769.57h3.4M40.59 767.87v3.4M120.63 823.1h3.4M122.33 821.4v3.4M48.96 804.33h3.4M50.66 802.63v3.4M58.17 811.9h3.4M59.87 810.2v3.4M33.59 766.9h3.4M35.29 765.2v3.4M26.47 739h3.4M28.17 737.3v3.4M30.6 750.87h3.4M32.3 749.17v3.4M54.68 809.2h3.4M56.38 807.5v3.4M46.83 803h3.4M48.53 801.3v3.4M46.16 801.56h3.4M47.86 799.86v3.4M46.2 801.56h3.4M47.9 799.86v3.4M28.13 742.6h3.4M29.83 740.9v3.4M65.63 818.3h3.4M67.33 816.6v3.4M55.07 809.2h3.4M56.77 807.5v3.4M51.06 806.33h3.4M52.76 804.63v3.4M26.83 739h3.4M28.53 737.3v3.4M29.09 744.4h3.4M30.79 742.7v3.4M34.31 766.9h3.4M36.01 765.2v3.4M52.98 807.55h3.4M54.68 805.85v3.4M55.21 809.2h3.4M56.91 807.5v3.4M31.87 754.1h3.4M33.57 752.4v3.4M78.89 828.2h3.4M80.59 826.5v3.4M52.14 807h3.4M53.84 805.3v3.4M56.46 810.3h3.4M58.16 808.6v3.4M48.93 804.33h3.4M50.63 802.63v3.4M50.26 805.67h3.4M51.96 803.97v3.4M36.91 778.92h3.4M38.61 777.22v3.4M54.81 809.2h3.4M56.51 807.5v3.4M44.87 800.12h3.4M46.57 798.42v3.4M41.75 791h3.4M43.45 789.3v3.4M35.63 773.3h3.4M37.33 771.6v3.4M42.44 793.4h3.4M44.14 791.7v3.4M49.6 805h3.4M51.3 803.3v3.4M27.07 740.8h3.4M28.77 739.1v3.4M41.64 791h3.4M43.34 789.3v3.4M93.96 828.2h3.4M95.66 826.5v3.4M44.95 800.12h3.4M46.65 798.42v3.4M46.96 803h3.4M48.66 801.3v3.4M30.39 750.87h3.4M32.09 749.17v3.4M25.9 737.2h3.4M27.6 735.5v3.4M38.85 783.78h3.4M40.55 782.08v3.4M54.4 808.65h3.4M56.1 806.95v3.4M30.49 750.87h3.4M32.19 749.17v3.4M41.68 791h3.4M43.38 789.3v3.4M26.39 739h3.4M28.09 737.3v3.4M34.31 766.9h3.4M36.01 765.2v3.4M39.95 786.2h3.4M41.65 784.5v3.4M31.12 750.87h3.4M32.82 749.17v3.4M35.83 773.3h3.4M37.53 771.6v3.4M37.89 781.35h3.4M39.59 779.65v3.4M35.96 773.3h3.4M37.66 771.6v3.4M30 747.63h3.4M31.7 745.93v3.4M106.96 828.2h3.4M108.66 826.5v3.4M52.18 807h3.4M53.88 805.3v3.4M54.57 809.2h3.4M56.27 807.5v3.4M52.52 807.55h3.4M54.22 805.85v3.4M40.92 791h3.4M42.62 789.3v3.4M44.57 798.68h3.4M46.27 796.98v3.4M39.4 786.2h3.4M41.1 784.5v3.4M86.86 828.2h3.4M88.56 826.5v3.4M51.62 807h3.4M53.32 805.3v3.4M39.64 786.2h3.4M41.34 784.5v3.4M50.34 806.33h3.4M52.04 804.63v3.4M51.27 806.33h3.4M52.97 804.63v3.4M29.78 747.63h3.4M31.48 745.93v3.4M38.79 783.78h3.4M40.49 782.08v3.4M54.04 808.65h3.4M55.74 806.95v3.4M55.99 809.75h3.4M57.69 808.05v3.4M28.22 742.6h3.4M29.92 740.9v3.4M31.9 758.37h3.4M33.6 756.67v3.4M82.09 828.2h3.4M83.79 826.5v3.4M27.65 740.8h3.4M29.35 739.1v3.4M31.4 754.1h3.4M33.1 752.4v3.4M43.48 797.24h3.4M45.18 795.54v3.4M40.22 788.6h3.4M41.92 786.9v3.4M41.54 791h3.4M43.24 789.3v3.4M28.64 742.6h3.4M30.34 740.9v3.4M28.63 742.6h3.4M30.33 740.9v3.4M50.16 805.67h3.4M51.86 803.97v3.4M32.99 762.63h3.4M34.69 760.93v3.4M100.74 828.2h3.4M102.44 826.5v3.4M40.4 788.6h3.4M42.1 786.9v3.4M49.89 805.67h3.4M51.59 803.97v3.4M53.49 808.1h3.4M55.19 806.4v3.4M57.81 811.9h3.4M59.51 810.2v3.4M28.56 742.6h3.4M30.26 740.9v3.4M50.35 806.33h3.4M52.05 804.63v3.4M115.97 828.2h3.4M117.67 826.5v3.4" stroke="#808080" stroke-opacity="0.8" stroke-width="0.6" fill="none"/>
<rect x="22.4" y="732.8" width="105.4" height="99.7" fill="none" stroke="#333" stroke-width="0.75"/>
<text x="122.6" y="739.2" font-family='Liberation Sans' font-size="6.75" fill="#111" text-anchor="end">Log−rank P = 0.004</text>
<line x1="26.7" x2="26.7" y1="832.5" y2="834.3" stroke="#333" stroke-width="0.5"/>
<text x="26.7" y="839.6" font-family='Liberation Sans' font-size="5.6" fill="#4d4d4d" text-anchor="middle">0</text>
<line x1="57.8" x2="57.8" y1="832.5" y2="834.3" stroke="#333" stroke-width="0.5"/>
<text x="57.8" y="839.6" font-family='Liberation Sans' font-size="5.6" fill="#4d4d4d" text-anchor="middle">40</text>
<line x1="88.9" x2="88.9" y1="832.5" y2="834.3" stroke="#333" stroke-width="0.5"/>
<text x="88.9" y="839.6" font-family='Liberation Sans' font-size="5.6" fill="#4d4d4d" text-anchor="middle">80</text>
<line x1="120" x2="120" y1="832.5" y2="834.3" stroke="#333" stroke-width="0.5"/>
<text x="120" y="839.6" font-family='Liberation Sans' font-size="5.6" fill="#4d4d4d" text-anchor="middle">120</text>
<line x1="20" x2="22.4" y1="811.12" y2="811.12" stroke="#333" stroke-width="0.6"/>
<text x="19" y="813.12" font-family='Liberation Sans' font-size="5.8" fill="#6a6a6a" text-anchor="end">0.4</text>
<line x1="20" x2="22.4" y1="786.48" y2="786.48" stroke="#333" stroke-width="0.6"/>
<text x="19" y="788.48" font-family='Liberation Sans' font-size="5.8" fill="#6a6a6a" text-anchor="end">0.6</text>
<line x1="20" x2="22.4" y1="761.84" y2="761.84" stroke="#333" stroke-width="0.6"/>
<text x="19" y="763.84" font-family='Liberation Sans' font-size="5.8" fill="#6a6a6a" text-anchor="end">0.8</text>
<line x1="20" x2="22.4" y1="737.2" y2="737.2" stroke="#333" stroke-width="0.6"/>
<text x="19" y="739.2" font-family='Liberation Sans' font-size="5.8" fill="#6a6a6a" text-anchor="end">1.0</text>
<rect x="131.5" y="721.8" width="105.4" height="11" fill="#d9d9d9"/>
<text x="184.2" y="729.2" font-family='Liberation Sans' font-size="5.4" fill="#333" text-anchor="middle">B Cell</text>
<line x1="131.5" x2="236.9" y1="821.2" y2="821.2" stroke="#f3f3f3" stroke-width="0.45"/>
<line x1="131.5" x2="236.9" y1="797.2" y2="797.2" stroke="#f3f3f3" stroke-width="0.45"/>
<line x1="131.5" x2="236.9" y1="773.2" y2="773.2" stroke="#f3f3f3" stroke-width="0.45"/>
<line x1="131.5" x2="236.9" y1="749.2" y2="749.2" stroke="#f3f3f3" stroke-width="0.45"/>
<line x1="151.35" x2="151.35" y1="732.8" y2="832.5" stroke="#f3f3f3" stroke-width="0.45"/>
<line x1="182.45" x2="182.45" y1="732.8" y2="832.5" stroke="#f3f3f3" stroke-width="0.45"/>
<line x1="213.55" x2="213.55" y1="732.8" y2="832.5" stroke="#f3f3f3" stroke-width="0.45"/>
<line x1="131.5" x2="236.9" y1="809.2" y2="809.2" stroke="#e4e4e4" stroke-width="0.6"/>
<line x1="131.5" x2="236.9" y1="785.2" y2="785.2" stroke="#e4e4e4" stroke-width="0.6"/>
<line x1="131.5" x2="236.9" y1="761.2" y2="761.2" stroke="#e4e4e4" stroke-width="0.6"/>
<line x1="131.5" x2="236.9" y1="737.2" y2="737.2" stroke="#e4e4e4" stroke-width="0.6"/>
<line x1="135.8" x2="135.8" y1="732.8" y2="832.5" stroke="#e4e4e4" stroke-width="0.6"/>
<line x1="166.9" x2="166.9" y1="732.8" y2="832.5" stroke="#e4e4e4" stroke-width="0.6"/>
<line x1="198" x2="198" y1="732.8" y2="832.5" stroke="#e4e4e4" stroke-width="0.6"/>
<line x1="229.1" x2="229.1" y1="732.8" y2="832.5" stroke="#e4e4e4" stroke-width="0.6"/>
<path d="M135.8 737.2 L136.39 737.2 L136.39 738.98 L137.2 738.98 L137.2 740.76 L138.09 740.76 L138.09 742.54 L138.98 742.54 L138.98 744.32 L139.69 744.32 L139.69 746.1 L140.34 746.1 L140.34 748.5 L141.13 748.5 L141.13 750.9 L141.97 750.9 L141.97 753.3 L142.88 753.3 L142.88 755.7 L143.83 755.7 L143.83 758.9 L144.45 758.9 L144.45 762.1 L145.44 762.1 L145.44 765.3 L146.34 765.3 L146.34 768 L147.11 768 L147.11 770.7 L147.85 770.7 L147.85 773.4 L148.51 773.4 L148.51 775.4 L149.46 775.4 L149.46 777.4 L150.22 777.4 L150.22 779.4 L151.04 779.4 L151.04 781.4 L151.8 781.4 L151.8 783 L152.83 783 L152.83 784.6 L153.27 784.6 L153.27 786.2 L154.23 786.2 L154.23 787.8 L154.84 787.8 L154.84 790.47 L156 790.47 L156 793.13 L156.64 793.13 L156.64 795.8 L157.4 795.8 L157.4 796.03 L158.12 796.03 L158.12 796.26 L158.97 796.26 L158.97 796.49 L159.78 796.49 L159.78 796.71 L160.81 796.71 L160.81 796.94 L161.32 796.94 L161.32 797.17 L162.24 797.17 L162.24 797.4 L162.9 797.4 L162.9 797.81 L163.82 797.81 L163.82 798.23 L164.59 798.23 L164.59 798.64 L165.52 798.64 L165.52 799.05 L166.25 799.05 L166.25 799.46 L166.84 799.46 L166.84 799.88 L167.56 799.88 L167.56 800.29 L168.46 800.29 L168.46 800.7 L179.88 800.7 L179.88 815.9 L232.21 815.9" fill="none" stroke="#2323e0" stroke-width="1"/>
<path d="M135.8 737.2 L136.71 737.2 L136.71 738.98 L137.55 738.98 L137.55 740.76 L137.95 740.76 L137.95 742.54 L139 742.54 L139 744.32 L139.69 744.32 L139.69 746.1 L140.63 746.1 L140.63 748.5 L141.34 748.5 L141.34 750.9 L141.97 750.9 L141.97 753.3 L142.88 753.3 L142.88 755.7 L143.85 755.7 L143.85 758.9 L144.68 758.9 L144.68 762.1 L145.44 762.1 L145.44 765.3 L146.13 765.3 L146.13 768 L147.1 768 L147.1 770.7 L147.85 770.7 L147.85 773.4 L148.54 773.4 L148.54 775.4 L149.27 775.4 L149.27 777.4 L150.18 777.4 L150.18 779.4 L151.04 779.4 L151.04 781.4 L151.77 781.4 L151.77 783 L152.59 783 L152.59 784.6 L153.49 784.6 L153.49 786.2 L154.23 786.2 L154.23 787.8 L155.17 787.8 L155.17 788.76 L156.02 788.76 L156.02 789.72 L156.84 789.72 L156.84 790.68 L157.65 790.68 L157.65 791.64 L158.27 791.64 L158.27 792.6 L159.18 792.6 L159.18 793.56 L159.78 793.56 L159.78 794.52 L160.52 794.52 L160.52 795.48 L161.49 795.48 L161.49 796.44 L162.24 796.44 L162.24 797.4 L163.04 797.4 L163.04 797.81 L163.88 797.81 L163.88 798.23 L164.44 798.23 L164.44 798.64 L165.26 798.64 L165.26 799.05 L166.33 799.05 L166.33 799.46 L167 799.46 L167 799.88 L167.82 799.88 L167.82 800.29 L168.53 800.29 L168.53 800.7 L172.26 800.7 L172.26 806.3 L182.37 806.3 L182.37 811.1 L190.38 811.1 L190.38 828 L227.39 828" fill="none" stroke="#e01f1f" stroke-width="1"/>
<path d="M148.22 777.4h3.4M149.92 775.7v3.4M156.59 796.26h3.4M158.29 794.56v3.4M180.56 815.9h3.4M182.26 814.2v3.4M161.64 797.81h3.4M163.34 796.11v3.4M161.25 797.81h3.4M162.95 796.11v3.4M138.82 748.5h3.4M140.52 746.8v3.4M167.74 800.7h3.4M169.44 799v3.4M141.37 755.7h3.4M143.07 754v3.4M158.73 796.71h3.4M160.43 795.01v3.4M150.78 783h3.4M152.48 781.3v3.4M161.24 797.81h3.4M162.94 796.11v3.4M147.33 775.4h3.4M149.03 773.7v3.4M156.15 796.03h3.4M157.85 794.33v3.4M138.62 746.1h3.4M140.32 744.4v3.4M159.12 796.94h3.4M160.82 795.24v3.4M167.41 800.7h3.4M169.11 799v3.4M143.39 762.1h3.4M145.09 760.4v3.4M167.81 800.7h3.4M169.51 799v3.4M135.25 738.98h3.4M136.95 737.28v3.4M144.32 765.3h3.4M146.02 763.6v3.4M136.39 740.76h3.4M138.09 739.06v3.4M163.8 798.64h3.4M165.5 796.94v3.4M155.4 795.8h3.4M157.1 794.1v3.4M141.34 755.7h3.4M143.04 754v3.4M144.86 768h3.4M146.56 766.3v3.4M150.08 781.4h3.4M151.78 779.7v3.4M152.41 786.2h3.4M154.11 784.5v3.4M148.3 777.4h3.4M150 775.7v3.4M158.85 796.71h3.4M160.55 795.01v3.4M158.85 796.71h3.4M160.55 795.01v3.4M139.35 748.5h3.4M141.05 746.8v3.4M161.06 797.4h3.4M162.76 795.7v3.4M166.4 800.29h3.4M168.1 798.59v3.4M154.26 790.47h3.4M155.96 788.77v3.4M163.4 798.64h3.4M165.1 796.94v3.4M149.08 779.4h3.4M150.78 777.7v3.4M147.61 775.4h3.4M149.31 773.7v3.4M149.1 779.4h3.4M150.8 777.7v3.4M152.98 787.8h3.4M154.68 786.1v3.4M160.92 797.4h3.4M162.62 795.7v3.4M162.53 798.23h3.4M164.23 796.52v3.4M155.43 795.8h3.4M157.13 794.1v3.4M143.53 762.1h3.4M145.23 760.4v3.4M162.09 797.81h3.4M163.79 796.11v3.4M148.29 777.4h3.4M149.99 775.7v3.4M147.72 775.4h3.4M149.42 773.7v3.4M142.04 755.7h3.4M143.74 754v3.4M158.21 796.71h3.4M159.91 795.01v3.4M160.66 797.4h3.4M162.36 795.7v3.4M143.2 762.1h3.4M144.9 760.4v3.4M150.91 783h3.4M152.61 781.3v3.4M166.15 800.29h3.4M167.85 798.59v3.4M140.95 753.3h3.4M142.65 751.6v3.4M151.01 783h3.4M152.71 781.3v3.4M150.72 783h3.4M152.42 781.3v3.4M134.88 738.98h3.4M136.58 737.28v3.4M160.21 797.17h3.4M161.91 795.47v3.4M165.39 799.88h3.4M167.09 798.17v3.4M148.37 777.4h3.4M150.07 775.7v3.4M142.67 758.9h3.4M144.37 757.2v3.4M163.18 798.64h3.4M164.88 796.94v3.4M145.57 770.7h3.4M147.27 769v3.4M154.07 790.47h3.4M155.77 788.77v3.4M147.35 775.4h3.4M149.05 773.7v3.4M166.34 800.29h3.4M168.04 798.59v3.4M152.24 786.2h3.4M153.94 784.5v3.4M145.19 768h3.4M146.89 766.3v3.4M157.52 796.49h3.4M159.22 794.79v3.4M142.29 758.9h3.4M143.99 757.2v3.4M162.41 798.23h3.4M164.11 796.52v3.4M158.48 796.71h3.4M160.18 795.01v3.4M166.79 800.7h3.4M168.49 799v3.4M145.7 770.7h3.4M147.4 769v3.4M217.85 815.9h3.4M219.55 814.2v3.4M143.18 762.1h3.4M144.88 760.4v3.4M168.25 800.7h3.4M169.95 799v3.4M136.47 742.54h3.4M138.17 740.84v3.4M136.38 740.76h3.4M138.08 739.06v3.4M152.88 787.8h3.4M154.58 786.1v3.4M139.6 750.9h3.4M141.3 749.2v3.4M161.72 797.81h3.4M163.42 796.11v3.4M150.93 783h3.4M152.63 781.3v3.4M157.8 796.49h3.4M159.5 794.79v3.4M162.53 798.23h3.4M164.23 796.52v3.4M146.21 773.4h3.4M147.91 771.7v3.4M230.51 815.9h3.4M232.21 814.2v3.4M137.88 744.32h3.4M139.58 742.62v3.4M136.78 742.54h3.4M138.48 740.84v3.4M165.29 799.46h3.4M166.99 797.76v3.4M147.89 777.4h3.4M149.59 775.7v3.4M166.45 800.29h3.4M168.15 798.59v3.4M162.92 798.64h3.4M164.62 796.94v3.4M159.3 795.48h3.4M161 793.78v3.4M148.3 777.4h3.4M150 775.7v3.4M159.46 795.48h3.4M161.16 793.78v3.4M159.57 795.48h3.4M161.27 793.78v3.4M149.19 779.4h3.4M150.89 777.7v3.4M161.11 797.4h3.4M162.81 795.7v3.4M139.47 748.5h3.4M141.17 746.8v3.4M164 799.05h3.4M165.7 797.35v3.4M139.06 748.5h3.4M140.76 746.8v3.4M142.52 758.9h3.4M144.22 757.2v3.4M166.96 800.7h3.4M168.66 799v3.4M145.35 768h3.4M147.05 766.3v3.4M149.6 781.4h3.4M151.3 779.7v3.4M146.33 773.4h3.4M148.03 771.7v3.4M142.44 758.9h3.4M144.14 757.2v3.4M165.17 799.46h3.4M166.87 797.76v3.4M160.09 796.44h3.4M161.79 794.74v3.4M161.15 797.4h3.4M162.85 795.7v3.4M160.94 797.4h3.4M162.64 795.7v3.4M137.49 744.32h3.4M139.19 742.62v3.4M161.62 797.81h3.4M163.32 796.11v3.4M151.13 784.6h3.4M152.83 782.9v3.4M157.99 793.56h3.4M159.69 791.86v3.4M136.95 742.54h3.4M138.65 740.84v3.4M145.36 768h3.4M147.06 766.3v3.4M153.23 787.8h3.4M154.93 786.1v3.4M138.9 746.1h3.4M140.6 744.4v3.4M155.29 790.68h3.4M156.99 788.98v3.4M164.44 799.05h3.4M166.14 797.35v3.4M154.67 789.72h3.4M156.37 788.02v3.4M143.7 762.1h3.4M145.4 760.4v3.4M161.18 797.4h3.4M162.88 795.7v3.4M153.01 787.8h3.4M154.71 786.1v3.4M167.48 800.7h3.4M169.18 799v3.4M137.38 744.32h3.4M139.08 742.62v3.4M139.84 750.9h3.4M141.54 749.2v3.4M195.54 828h3.4M197.24 826.3v3.4M162.2 798.23h3.4M163.9 796.52v3.4M139.64 748.5h3.4M141.34 746.8v3.4M140.91 753.3h3.4M142.61 751.6v3.4M139.33 748.5h3.4M141.03 746.8v3.4M146.77 773.4h3.4M148.47 771.7v3.4M164.88 799.46h3.4M166.58 797.76v3.4M146.11 770.7h3.4M147.81 769v3.4M157.05 792.6h3.4M158.75 790.9v3.4M139.43 748.5h3.4M141.13 746.8v3.4M140.3 753.3h3.4M142 751.6v3.4M159.55 795.48h3.4M161.25 793.78v3.4M146.44 773.4h3.4M148.14 771.7v3.4M161.17 797.4h3.4M162.87 795.7v3.4M164.88 799.46h3.4M166.58 797.76v3.4M144.55 768h3.4M146.25 766.3v3.4M138.16 746.1h3.4M139.86 744.4v3.4M163.22 798.64h3.4M164.92 796.94v3.4M140.89 753.3h3.4M142.59 751.6v3.4M148.72 779.4h3.4M150.42 777.7v3.4M136.61 742.54h3.4M138.31 740.84v3.4M162.33 798.23h3.4M164.03 796.52v3.4M148.38 777.4h3.4M150.08 775.7v3.4M140.29 753.3h3.4M141.99 751.6v3.4M137.36 744.32h3.4M139.06 742.62v3.4M167.46 800.7h3.4M169.16 799v3.4M158.45 794.52h3.4M160.15 792.82v3.4M145.76 770.7h3.4M147.46 769v3.4M163.96 799.05h3.4M165.66 797.35v3.4M165.75 799.88h3.4M167.45 798.17v3.4M148.69 779.4h3.4M150.39 777.7v3.4M164.38 799.05h3.4M166.08 797.35v3.4M143.67 762.1h3.4M145.37 760.4v3.4M153.59 788.76h3.4M155.29 787.06v3.4M153.86 788.76h3.4M155.56 787.06v3.4M157.99 793.56h3.4M159.69 791.86v3.4M138.4 746.1h3.4M140.1 744.4v3.4M156.94 792.6h3.4M158.64 790.9v3.4M146.38 773.4h3.4M148.08 771.7v3.4M150.52 783h3.4M152.22 781.3v3.4M142.67 758.9h3.4M144.37 757.2v3.4M157 792.6h3.4M158.7 790.9v3.4M223.88 828h3.4M225.58 826.3v3.4M225.69 828h3.4M227.39 826.3v3.4" stroke="#808080" stroke-opacity="0.8" stroke-width="0.6" fill="none"/>
<rect x="131.5" y="732.8" width="105.4" height="99.7" fill="none" stroke="#333" stroke-width="0.75"/>
<text x="231.7" y="739.2" font-family='Liberation Sans' font-size="6.75" fill="#111" text-anchor="end">Log−rank P = 0.786</text>
<line x1="135.8" x2="135.8" y1="832.5" y2="834.3" stroke="#333" stroke-width="0.5"/>
<text x="135.8" y="839.6" font-family='Liberation Sans' font-size="5.6" fill="#4d4d4d" text-anchor="middle">0</text>
<line x1="166.9" x2="166.9" y1="832.5" y2="834.3" stroke="#333" stroke-width="0.5"/>
<text x="166.9" y="839.6" font-family='Liberation Sans' font-size="5.6" fill="#4d4d4d" text-anchor="middle">40</text>
<line x1="198" x2="198" y1="832.5" y2="834.3" stroke="#333" stroke-width="0.5"/>
<text x="198" y="839.6" font-family='Liberation Sans' font-size="5.6" fill="#4d4d4d" text-anchor="middle">80</text>
<line x1="229.1" x2="229.1" y1="832.5" y2="834.3" stroke="#333" stroke-width="0.5"/>
<text x="229.1" y="839.6" font-family='Liberation Sans' font-size="5.6" fill="#4d4d4d" text-anchor="middle">120</text>
<rect x="240.6" y="721.8" width="105.4" height="11" fill="#d9d9d9"/>
<text x="293.3" y="729.2" font-family='Liberation Sans' font-size="5.4" fill="#333" text-anchor="middle">CD8+ T Cell</text>
<line x1="240.6" x2="346" y1="815.6" y2="815.6" stroke="#f3f3f3" stroke-width="0.45"/>
<line x1="240.6" x2="346" y1="793.2" y2="793.2" stroke="#f3f3f3" stroke-width="0.45"/>
<line x1="240.6" x2="346" y1="770.8" y2="770.8" stroke="#f3f3f3" stroke-width="0.45"/>
<line x1="240.6" x2="346" y1="748.4" y2="748.4" stroke="#f3f3f3" stroke-width="0.45"/>
<line x1="260.45" x2="260.45" y1="732.8" y2="832.5" stroke="#f3f3f3" stroke-width="0.45"/>
<line x1="291.55" x2="291.55" y1="732.8" y2="832.5" stroke="#f3f3f3" stroke-width="0.45"/>
<line x1="322.65" x2="322.65" y1="732.8" y2="832.5" stroke="#f3f3f3" stroke-width="0.45"/>
<line x1="240.6" x2="346" y1="826.8" y2="826.8" stroke="#e4e4e4" stroke-width="0.6"/>
<line x1="240.6" x2="346" y1="804.4" y2="804.4" stroke="#e4e4e4" stroke-width="0.6"/>
<line x1="240.6" x2="346" y1="782" y2="782" stroke="#e4e4e4" stroke-width="0.6"/>
<line x1="240.6" x2="346" y1="759.6" y2="759.6" stroke="#e4e4e4" stroke-width="0.6"/>
<line x1="240.6" x2="346" y1="737.2" y2="737.2" stroke="#e4e4e4" stroke-width="0.6"/>
<line x1="244.9" x2="244.9" y1="732.8" y2="832.5" stroke="#e4e4e4" stroke-width="0.6"/>
<line x1="276" x2="276" y1="732.8" y2="832.5" stroke="#e4e4e4" stroke-width="0.6"/>
<line x1="307.1" x2="307.1" y1="732.8" y2="832.5" stroke="#e4e4e4" stroke-width="0.6"/>
<line x1="338.2" x2="338.2" y1="732.8" y2="832.5" stroke="#e4e4e4" stroke-width="0.6"/>
<path d="M244.9 737.2 L245.55 737.2 L245.55 739.03 L246.42 739.03 L246.42 740.85 L247.27 740.85 L247.27 742.67 L248.17 742.67 L248.17 744.5 L249.12 744.5 L249.12 746.9 L249.76 746.9 L249.76 749.3 L250.64 749.3 L250.64 751.7 L251.35 751.7 L251.35 754.1 L252.03 754.1 L252.03 756.77 L253.02 756.77 L253.02 759.43 L253.84 759.43 L253.84 762.1 L254.78 762.1 L254.78 764.57 L255.46 764.57 L255.46 767.03 L256.25 767.03 L256.25 769.5 L257.22 769.5 L257.22 770.25 L257.99 770.25 L257.99 771 L258.59 771 L258.59 771.75 L259.44 771.75 L259.44 772.5 L260.04 772.5 L260.04 774.02 L261.13 774.02 L261.13 775.55 L261.68 775.55 L261.68 777.08 L262.63 777.08 L262.63 778.6 L263.24 778.6 L263.24 780.12 L264.33 780.12 L264.33 781.64 L265.19 781.64 L265.19 783.16 L265.99 783.16 L265.99 784.68 L266.67 784.68 L266.67 786.2 L267.65 786.2 L267.65 788.07 L268.16 788.07 L268.16 789.93 L269.08 789.93 L269.08 791.8 L269.71 791.8 L269.71 792.2 L270.53 792.2 L270.53 792.6 L271.66 792.6 L271.66 793 L272.27 793 L272.27 793.4 L272.91 793.4 L272.91 794.07 L273.72 794.07 L273.72 794.73 L274.45 794.73 L274.45 795.4 L275.25 795.4 L275.25 796.07 L276.04 796.07 L276.04 796.73 L277.01 796.73 L277.01 797.4 L277.73 797.4 L277.73 798.25 L278.57 798.25 L278.57 799.1 L281.13 799.1 L281.13 802.3 L288.36 802.3 L288.36 807.1 L301.97 807.1 L301.97 828 L336.64 828" fill="none" stroke="#2323e0" stroke-width="1"/>
<path d="M244.9 737.2 L245.59 737.2 L245.59 739.03 L246.46 739.03 L246.46 740.85 L247.52 740.85 L247.52 742.67 L248.17 742.67 L248.17 744.5 L248.83 744.5 L248.83 746.9 L249.88 746.9 L249.88 749.3 L250.65 749.3 L250.65 751.7 L251.35 751.7 L251.35 754.1 L252.21 754.1 L252.21 756.77 L253.04 756.77 L253.04 759.43 L253.84 759.43 L253.84 762.1 L254.75 762.1 L254.75 764.77 L255.48 764.77 L255.48 767.43 L256.25 767.43 L256.25 770.1 L256.96 770.1 L256.96 774.15 L257.88 774.15 L257.88 778.2 L258.6 778.2 L258.6 780.33 L259.34 780.33 L259.34 782.47 L260.22 782.47 L260.22 784.6 L260.99 784.6 L260.99 785.56 L262.02 785.56 L262.02 786.52 L262.61 786.52 L262.61 787.48 L263.28 787.48 L263.28 788.44 L264.26 788.44 L264.26 789.4 L265.05 789.4 L265.05 789.93 L265.99 789.93 L265.99 790.47 L266.65 790.47 L266.65 791 L267.55 791 L267.55 791.53 L268.12 791.53 L268.12 792.07 L269.08 792.07 L269.08 792.6 L269.71 792.6 L269.71 793.06 L270.74 793.06 L270.74 793.51 L271.3 793.51 L271.3 793.97 L272.2 793.97 L272.2 794.43 L273.03 794.43 L273.03 794.89 L273.76 794.89 L273.76 795.34 L274.68 795.34 L274.68 795.8 L275.28 795.8 L275.28 795.93 L276.04 795.93 L276.04 796.07 L277.01 796.07 L277.01 796.2 L290.69 796.2 L290.69 802.3 L292.33 802.3 L292.33 807.9 L299.87 807.9 L299.87 815.1 L341.31 815.1" fill="none" stroke="#e01f1f" stroke-width="1"/>
<path d="M317.03 828h3.4M318.73 826.3v3.4M305.7 828h3.4M307.4 826.3v3.4M327.04 828h3.4M328.74 826.3v3.4M261.53 778.6h3.4M263.23 776.9v3.4M251.52 759.43h3.4M253.22 757.73v3.4M268.15 792.2h3.4M269.85 790.5v3.4M272.39 794.73h3.4M274.09 793.03v3.4M264.18 783.16h3.4M265.88 781.46v3.4M265.58 786.2h3.4M267.28 784.5v3.4M252.26 762.1h3.4M253.96 760.4v3.4M244.89 740.85h3.4M246.59 739.15v3.4M311.53 828h3.4M313.23 826.3v3.4M322.32 828h3.4M324.02 826.3v3.4M276.31 798.25h3.4M278.01 796.55v3.4M259.23 774.02h3.4M260.93 772.32v3.4M254.62 769.5h3.4M256.32 767.8v3.4M256.2 770.25h3.4M257.9 768.55v3.4M267.82 791.8h3.4M269.52 790.1v3.4M289.54 807.1h3.4M291.24 805.4v3.4M263.52 783.16h3.4M265.22 781.46v3.4M274.31 796.07h3.4M276.01 794.37v3.4M271.43 794.07h3.4M273.13 792.37v3.4M276.25 798.25h3.4M277.95 796.55v3.4M244.1 739.03h3.4M245.8 737.33v3.4M268.1 792.2h3.4M269.8 790.5v3.4M269.59 792.6h3.4M271.29 790.9v3.4M247.8 746.9h3.4M249.5 745.2v3.4M275.86 797.4h3.4M277.56 795.7v3.4M290.64 807.1h3.4M292.34 805.4v3.4M259.04 774.02h3.4M260.74 772.32v3.4M244.16 739.03h3.4M245.86 737.33v3.4M252.45 762.1h3.4M254.15 760.4v3.4M248.29 749.3h3.4M249.99 747.6v3.4M273.5 795.4h3.4M275.2 793.7v3.4M276.47 798.25h3.4M278.17 796.55v3.4M269.13 792.6h3.4M270.83 790.9v3.4M263.68 783.16h3.4M265.38 781.46v3.4M306.35 828h3.4M308.05 826.3v3.4M250.15 754.1h3.4M251.85 752.4v3.4M333.61 828h3.4M335.31 826.3v3.4M254.62 769.5h3.4M256.32 767.8v3.4M260.95 778.6h3.4M262.65 776.9v3.4M276.89 799.1h3.4M278.59 797.4v3.4M256.19 770.25h3.4M257.89 768.55v3.4M261.04 778.6h3.4M262.74 776.9v3.4M249.92 754.1h3.4M251.62 752.4v3.4M268.19 792.2h3.4M269.89 790.5v3.4M256.58 771h3.4M258.28 769.3v3.4M265.25 786.2h3.4M266.95 784.5v3.4M248.27 749.3h3.4M249.97 747.6v3.4M250.87 756.77h3.4M252.57 755.07v3.4M246.93 744.5h3.4M248.63 742.8v3.4M251.31 756.77h3.4M253.01 755.07v3.4M254.74 769.5h3.4M256.44 767.8v3.4M324.07 828h3.4M325.77 826.3v3.4M249.13 751.7h3.4M250.83 750v3.4M259.82 775.55h3.4M261.52 773.85v3.4M248.1 749.3h3.4M249.8 747.6v3.4M269.36 792.6h3.4M271.06 790.9v3.4M252.51 762.1h3.4M254.21 760.4v3.4M253.88 767.03h3.4M255.58 765.33v3.4M317.04 828h3.4M318.74 826.3v3.4M258.94 774.02h3.4M260.64 772.32v3.4M270.27 793h3.4M271.97 791.3v3.4M246.84 744.5h3.4M248.54 742.8v3.4M323.4 828h3.4M325.1 826.3v3.4M262.95 781.64h3.4M264.65 779.94v3.4M276.83 798.25h3.4M278.53 796.55v3.4M261.49 778.6h3.4M263.19 776.9v3.4M259.77 775.55h3.4M261.47 773.85v3.4M273.84 796.07h3.4M275.54 794.37v3.4M257.13 771.75h3.4M258.83 770.05v3.4M272.73 794.73h3.4M274.43 793.03v3.4M274.32 796.07h3.4M276.02 794.37v3.4M247.48 746.9h3.4M249.18 745.2v3.4M264.09 783.16h3.4M265.79 781.46v3.4M268.53 792.2h3.4M270.23 790.5v3.4M264.07 783.16h3.4M265.77 781.46v3.4M263.2 781.64h3.4M264.9 779.94v3.4M262.25 780.12h3.4M263.95 778.42v3.4M246.39 742.67h3.4M248.09 740.97v3.4M272.09 794.73h3.4M273.79 793.03v3.4M266.38 788.07h3.4M268.08 786.37v3.4M266.76 789.93h3.4M268.46 788.23v3.4M267.24 789.93h3.4M268.94 788.23v3.4M334.94 828h3.4M336.64 826.3v3.4M264.61 790.47h3.4M266.31 788.77v3.4M257.91 782.47h3.4M259.61 780.77v3.4M249.78 754.1h3.4M251.48 752.4v3.4M275.35 796.2h3.4M277.05 794.5v3.4M272.44 795.34h3.4M274.14 793.64v3.4M257.49 780.33h3.4M259.19 778.63v3.4M246.63 744.5h3.4M248.33 742.8v3.4M277.33 796.2h3.4M279.03 794.5v3.4M249.58 751.7h3.4M251.28 750v3.4M258.92 784.6h3.4M260.62 782.9v3.4M277.07 796.2h3.4M278.77 794.5v3.4M265.23 791h3.4M266.93 789.3v3.4M262.61 789.4h3.4M264.31 787.7v3.4M284.77 796.2h3.4M286.47 794.5v3.4M268.43 793.06h3.4M270.13 791.36v3.4M247.99 746.9h3.4M249.69 745.2v3.4M272.51 795.34h3.4M274.21 793.64v3.4M248.59 749.3h3.4M250.29 747.6v3.4M266.4 791.53h3.4M268.1 789.83v3.4M257.71 782.47h3.4M259.41 780.77v3.4M248.7 749.3h3.4M250.4 747.6v3.4M269.31 793.51h3.4M271.01 791.81v3.4M250.6 756.77h3.4M252.3 755.07v3.4M251 756.77h3.4M252.7 755.07v3.4M268.61 793.06h3.4M270.31 791.36v3.4M262.75 789.4h3.4M264.45 787.7v3.4M261.29 787.48h3.4M262.99 785.78v3.4M258.94 784.6h3.4M260.64 782.9v3.4M244.99 740.85h3.4M246.69 739.15v3.4M257.64 780.33h3.4M259.34 778.63v3.4M258.23 782.47h3.4M259.93 780.77v3.4M246.12 742.67h3.4M247.82 740.97v3.4M275.93 796.2h3.4M277.63 794.5v3.4M259.01 784.6h3.4M260.71 782.9v3.4M275.57 796.2h3.4M277.27 794.5v3.4M336.6 815.1h3.4M338.3 813.4v3.4M275.51 796.2h3.4M277.21 794.5v3.4M254.84 770.1h3.4M256.54 768.4v3.4M260.26 785.56h3.4M261.96 783.86v3.4M252.97 762.1h3.4M254.67 760.4v3.4M246.73 744.5h3.4M248.43 742.8v3.4M252.64 762.1h3.4M254.34 760.4v3.4M246 742.67h3.4M247.7 740.97v3.4M257.33 780.33h3.4M259.03 778.63v3.4M290.95 807.9h3.4M292.65 806.2v3.4M245.61 740.85h3.4M247.31 739.15v3.4M244.16 739.03h3.4M245.86 737.33v3.4M246.05 742.67h3.4M247.75 740.97v3.4M246.54 744.5h3.4M248.24 742.8v3.4M246.93 744.5h3.4M248.63 742.8v3.4M250.46 754.1h3.4M252.16 752.4v3.4M265.19 791h3.4M266.89 789.3v3.4M250.91 756.77h3.4M252.61 755.07v3.4M272.91 795.34h3.4M274.61 793.64v3.4M275.68 796.2h3.4M277.38 794.5v3.4M258.44 782.47h3.4M260.14 780.77v3.4M250.49 754.1h3.4M252.19 752.4v3.4M257.96 782.47h3.4M259.66 780.77v3.4M289.86 802.3h3.4M291.56 800.6v3.4M268.41 793.06h3.4M270.11 791.36v3.4M264.48 790.47h3.4M266.18 788.77v3.4M248.89 749.3h3.4M250.59 747.6v3.4M264.15 789.93h3.4M265.85 788.23v3.4M326.28 815.1h3.4M327.98 813.4v3.4M248.93 749.3h3.4M250.63 747.6v3.4M244.34 739.03h3.4M246.04 737.33v3.4M246.88 744.5h3.4M248.58 742.8v3.4M272.25 795.34h3.4M273.95 793.64v3.4M247.38 746.9h3.4M249.08 745.2v3.4M268.04 793.06h3.4M269.74 791.36v3.4M259.64 785.56h3.4M261.34 783.86v3.4M269.92 793.97h3.4M271.62 792.27v3.4M244.25 739.03h3.4M245.95 737.33v3.4M261.91 788.44h3.4M263.61 786.74v3.4M263.91 789.93h3.4M265.61 788.23v3.4M260.07 785.56h3.4M261.77 783.86v3.4M262.75 789.4h3.4M264.45 787.7v3.4M270.43 793.97h3.4M272.13 792.27v3.4M270.2 793.97h3.4M271.9 792.27v3.4M258.09 782.47h3.4M259.79 780.77v3.4M254.29 767.43h3.4M255.99 765.73v3.4M259.15 784.6h3.4M260.85 782.9v3.4M253.81 767.43h3.4M255.51 765.73v3.4M256.88 778.2h3.4M258.58 776.5v3.4M246.28 742.67h3.4M247.98 740.97v3.4M339.61 815.1h3.4M341.31 813.4v3.4" stroke="#808080" stroke-opacity="0.8" stroke-width="0.6" fill="none"/>
<rect x="240.6" y="732.8" width="105.4" height="99.7" fill="none" stroke="#333" stroke-width="0.75"/>
<text x="340.8" y="739.2" font-family='Liberation Sans' font-size="6.75" fill="#111" text-anchor="end">Log−rank P = 0.554</text>
<line x1="244.9" x2="244.9" y1="832.5" y2="834.3" stroke="#333" stroke-width="0.5"/>
<text x="244.9" y="839.6" font-family='Liberation Sans' font-size="5.6" fill="#4d4d4d" text-anchor="middle">0</text>
<line x1="276" x2="276" y1="832.5" y2="834.3" stroke="#333" stroke-width="0.5"/>
<text x="276" y="839.6" font-family='Liberation Sans' font-size="5.6" fill="#4d4d4d" text-anchor="middle">40</text>
<line x1="307.1" x2="307.1" y1="832.5" y2="834.3" stroke="#333" stroke-width="0.5"/>
<text x="307.1" y="839.6" font-family='Liberation Sans' font-size="5.6" fill="#4d4d4d" text-anchor="middle">80</text>
<line x1="338.2" x2="338.2" y1="832.5" y2="834.3" stroke="#333" stroke-width="0.5"/>
<text x="338.2" y="839.6" font-family='Liberation Sans' font-size="5.6" fill="#4d4d4d" text-anchor="middle">120</text>
<rect x="349.7" y="721.8" width="105.4" height="11" fill="#d9d9d9"/>
<text x="402.4" y="729.2" font-family='Liberation Sans' font-size="5.4" fill="#333" text-anchor="middle">CD4+ T Cell</text>
<line x1="349.7" x2="455.1" y1="819.8" y2="819.8" stroke="#f3f3f3" stroke-width="0.45"/>
<line x1="349.7" x2="455.1" y1="796.2" y2="796.2" stroke="#f3f3f3" stroke-width="0.45"/>
<line x1="349.7" x2="455.1" y1="772.6" y2="772.6" stroke="#f3f3f3" stroke-width="0.45"/>
<line x1="349.7" x2="455.1" y1="749" y2="749" stroke="#f3f3f3" stroke-width="0.45"/>
<line x1="369.55" x2="369.55" y1="732.8" y2="832.5" stroke="#f3f3f3" stroke-width="0.45"/>
<line x1="400.65" x2="400.65" y1="732.8" y2="832.5" stroke="#f3f3f3" stroke-width="0.45"/>
<line x1="431.75" x2="431.75" y1="732.8" y2="832.5" stroke="#f3f3f3" stroke-width="0.45"/>
<line x1="349.7" x2="455.1" y1="831.6" y2="831.6" stroke="#e4e4e4" stroke-width="0.6"/>
<line x1="349.7" x2="455.1" y1="808" y2="808" stroke="#e4e4e4" stroke-width="0.6"/>
<line x1="349.7" x2="455.1" y1="784.4" y2="784.4" stroke="#e4e4e4" stroke-width="0.6"/>
<line x1="349.7" x2="455.1" y1="760.8" y2="760.8" stroke="#e4e4e4" stroke-width="0.6"/>
<line x1="349.7" x2="455.1" y1="737.2" y2="737.2" stroke="#e4e4e4" stroke-width="0.6"/>
<line x1="354" x2="354" y1="732.8" y2="832.5" stroke="#e4e4e4" stroke-width="0.6"/>
<line x1="385.1" x2="385.1" y1="732.8" y2="832.5" stroke="#e4e4e4" stroke-width="0.6"/>
<line x1="416.2" x2="416.2" y1="732.8" y2="832.5" stroke="#e4e4e4" stroke-width="0.6"/>
<line x1="447.3" x2="447.3" y1="732.8" y2="832.5" stroke="#e4e4e4" stroke-width="0.6"/>
<path d="M354 737.2 L354.82 737.2 L354.82 739.03 L355.65 739.03 L355.65 740.85 L356.51 740.85 L356.51 742.67 L357.19 742.67 L357.19 744.5 L357.9 744.5 L357.9 746.63 L358.85 746.63 L358.85 748.77 L359.6 748.77 L359.6 750.9 L360.55 750.9 L360.55 752.9 L361.35 752.9 L361.35 754.9 L361.87 754.9 L361.87 756.9 L362.79 756.9 L362.79 758.9 L363.67 758.9 L363.67 761.57 L364.49 761.57 L364.49 764.23 L365.27 764.23 L365.27 766.9 L366.08 766.9 L366.08 769.07 L367.06 769.07 L367.06 771.23 L367.68 771.23 L367.68 773.4 L368.49 773.4 L368.49 775 L369.26 775 L369.26 776.6 L370.25 776.6 L370.25 778.2 L370.87 778.2 L370.87 779.8 L371.72 779.8 L371.72 781.4 L372.39 781.4 L372.39 783 L373.19 783 L373.19 784.6 L374.06 784.6 L374.06 786.2 L374.85 786.2 L374.85 787.4 L375.48 787.4 L375.48 788.6 L376.49 788.6 L376.49 789.8 L377.25 789.8 L377.25 791 L378.15 791 L378.15 791.96 L378.84 791.96 L378.84 792.92 L379.81 792.92 L379.81 793.88 L380.65 793.88 L380.65 794.84 L381.29 794.84 L381.29 795.8 L382.11 795.8 L382.11 797.02 L382.95 797.02 L382.95 798.25 L383.53 798.25 L383.53 799.48 L384.48 799.48 L384.48 800.7 L385.12 800.7 L385.12 801.9 L386.11 801.9 L386.11 803.1 L399.02 803.1 L399.02 811.1 L410.99 811.1 L410.99 828 L436.73 828" fill="none" stroke="#2323e0" stroke-width="1"/>
<path d="M354 737.2 L354.99 737.2 L354.99 739.07 L355.52 739.07 L355.52 740.93 L356.41 740.93 L356.41 742.8 L357.1 742.8 L357.1 745.5 L358.17 745.5 L358.17 748.2 L358.82 748.2 L358.82 750.9 L359.72 750.9 L359.72 754.1 L360.28 754.1 L360.28 757.3 L361.23 757.3 L361.23 760.5 L361.99 760.5 L361.99 763.17 L362.79 763.17 L362.79 765.83 L363.72 765.83 L363.72 768.5 L364.43 768.5 L364.43 771.2 L365.13 771.2 L365.13 773.9 L366.13 773.9 L366.13 776.6 L366.94 776.6 L366.94 778.6 L367.65 778.6 L367.65 780.6 L368.48 780.6 L368.48 782.6 L369.32 782.6 L369.32 784.6 L369.99 784.6 L369.99 786.6 L370.76 786.6 L370.76 788.6 L371.53 788.6 L371.53 790.6 L372.5 790.6 L372.5 792.6 L373.45 792.6 L373.45 794.62 L374.19 794.62 L374.19 796.65 L374.92 796.65 L374.92 798.68 L375.69 798.68 L375.69 800.7 L376.36 800.7 L376.36 801.9 L377.32 801.9 L377.32 803.1 L386.89 803.1 L386.89 805.5 L388.52 805.5 L388.52 809.5 L397.38 809.5 L397.38 814.3 L400.57 814.3 L400.57 818.3 L407.8 818.3 L407.8 826 L450.41 826" fill="none" stroke="#e01f1f" stroke-width="1"/>
<path d="M357.08 746.63h3.4M358.78 744.93v3.4M355 742.67h3.4M356.7 740.97v3.4M359.86 754.9h3.4M361.56 753.2v3.4M374.93 789.8h3.4M376.63 788.1v3.4M368.91 778.2h3.4M370.61 776.5v3.4M371.1 783h3.4M372.8 781.3v3.4M363.37 764.23h3.4M365.07 762.53v3.4M369.16 778.2h3.4M370.86 776.5v3.4M379.17 794.84h3.4M380.87 793.14v3.4M382.25 799.48h3.4M383.95 797.77v3.4M371.21 783h3.4M372.91 781.3v3.4M363.62 766.9h3.4M365.32 765.2v3.4M376.55 791.96h3.4M378.25 790.26v3.4M369.62 779.8h3.4M371.32 778.1v3.4M354.2 740.85h3.4M355.9 739.15v3.4M373.2 787.4h3.4M374.9 785.7v3.4M368.55 776.6h3.4M370.25 774.9v3.4M370.03 781.4h3.4M371.73 779.7v3.4M382.38 799.48h3.4M384.08 797.77v3.4M409.89 828h3.4M411.59 826.3v3.4M366.35 773.4h3.4M368.05 771.7v3.4M363.94 766.9h3.4M365.64 765.2v3.4M359.27 752.9h3.4M360.97 751.2v3.4M373.87 788.6h3.4M375.57 786.9v3.4M373.93 788.6h3.4M375.63 786.9v3.4M385.38 803.1h3.4M387.08 801.4v3.4M367.59 776.6h3.4M369.29 774.9v3.4M384.02 801.9h3.4M385.72 800.2v3.4M378.17 793.88h3.4M379.87 792.18v3.4M370.18 781.4h3.4M371.88 779.7v3.4M373.98 788.6h3.4M375.68 786.9v3.4M360.7 756.9h3.4M362.4 755.2v3.4M362.12 761.57h3.4M363.82 759.87v3.4M372.23 784.6h3.4M373.93 782.9v3.4M359.38 752.9h3.4M361.08 751.2v3.4M389.98 803.1h3.4M391.68 801.4v3.4M378.89 793.88h3.4M380.59 792.18v3.4M386.36 803.1h3.4M388.06 801.4v3.4M353.3 739.03h3.4M355 737.33v3.4M406.57 811.1h3.4M408.27 809.4v3.4M380.29 795.8h3.4M381.99 794.1v3.4M354.4 740.85h3.4M356.1 739.15v3.4M379.18 794.84h3.4M380.88 793.14v3.4M360.7 756.9h3.4M362.4 755.2v3.4M365.33 769.07h3.4M367.03 767.37v3.4M377.84 792.92h3.4M379.54 791.22v3.4M385.44 803.1h3.4M387.14 801.4v3.4M381.01 797.02h3.4M382.71 795.32v3.4M353.29 739.03h3.4M354.99 737.33v3.4M373.76 787.4h3.4M375.46 785.7v3.4M357.36 748.77h3.4M359.06 747.07v3.4M364.42 769.07h3.4M366.12 767.37v3.4M368.12 776.6h3.4M369.82 774.9v3.4M355.82 744.5h3.4M357.52 742.8v3.4M357.36 748.77h3.4M359.06 747.07v3.4M366.94 775h3.4M368.64 773.3v3.4M379.82 795.8h3.4M381.52 794.1v3.4M368.46 776.6h3.4M370.16 774.9v3.4M360.93 756.9h3.4M362.63 755.2v3.4M355.71 744.5h3.4M357.41 742.8v3.4M365.15 769.07h3.4M366.85 767.37v3.4M363.32 764.23h3.4M365.02 762.53v3.4M353.37 739.03h3.4M355.07 737.33v3.4M365.88 771.23h3.4M367.58 769.53v3.4M377.31 792.92h3.4M379.01 791.22v3.4M354.49 740.85h3.4M356.19 739.15v3.4M385.79 803.1h3.4M387.49 801.4v3.4M356.99 746.63h3.4M358.69 744.93v3.4M417.8 828h3.4M419.5 826.3v3.4M402.59 811.1h3.4M404.29 809.4v3.4M354.46 740.85h3.4M356.16 739.15v3.4M379.64 795.8h3.4M381.34 794.1v3.4M379.47 794.84h3.4M381.17 793.14v3.4M382.38 799.48h3.4M384.08 797.77v3.4M373.92 788.6h3.4M375.62 786.9v3.4M359.74 754.9h3.4M361.44 753.2v3.4M367.46 775h3.4M369.16 773.3v3.4M362.57 761.57h3.4M364.27 759.87v3.4M383.42 800.7h3.4M385.12 799v3.4M360.92 756.9h3.4M362.62 755.2v3.4M384.87 803.1h3.4M386.57 801.4v3.4M367.92 776.6h3.4M369.62 774.9v3.4M356.37 746.63h3.4M358.07 744.93v3.4M358.37 750.9h3.4M360.07 749.2v3.4M354.18 740.85h3.4M355.88 739.15v3.4M435.03 828h3.4M436.73 826.3v3.4M365.91 778.6h3.4M367.61 776.9v3.4M358.94 757.3h3.4M360.64 755.6v3.4M378.42 803.1h3.4M380.12 801.4v3.4M357.6 750.9h3.4M359.3 749.2v3.4M383.3 803.1h3.4M385 801.4v3.4M372.11 794.62h3.4M373.81 792.92v3.4M382.29 803.1h3.4M383.99 801.4v3.4M442.45 826h3.4M444.15 824.3v3.4M365.87 778.6h3.4M367.57 776.9v3.4M379.51 803.1h3.4M381.21 801.4v3.4M417.21 826h3.4M418.91 824.3v3.4M363.46 773.9h3.4M365.16 772.2v3.4M371.25 792.6h3.4M372.95 790.9v3.4M368.4 786.6h3.4M370.1 784.9v3.4M360.97 763.17h3.4M362.67 761.47v3.4M363.26 771.2h3.4M364.96 769.5v3.4M363.22 771.2h3.4M364.92 769.5v3.4M384.13 803.1h3.4M385.83 801.4v3.4M379.97 803.1h3.4M381.67 801.4v3.4M368.14 784.6h3.4M369.84 782.9v3.4M361.3 765.83h3.4M363 764.13v3.4M382.2 803.1h3.4M383.9 801.4v3.4M408.32 826h3.4M410.02 824.3v3.4M354.11 740.93h3.4M355.81 739.23v3.4M371.37 792.6h3.4M373.07 790.9v3.4M380.62 803.1h3.4M382.32 801.4v3.4M373.84 798.68h3.4M375.54 796.98v3.4M364.06 773.9h3.4M365.76 772.2v3.4M364.81 776.6h3.4M366.51 774.9v3.4M356.91 748.2h3.4M358.61 746.5v3.4M383.18 803.1h3.4M384.88 801.4v3.4M377.03 803.1h3.4M378.73 801.4v3.4M367.04 782.6h3.4M368.74 780.9v3.4M383.26 803.1h3.4M384.96 801.4v3.4M370.15 790.6h3.4M371.85 788.9v3.4M361.59 765.83h3.4M363.29 764.13v3.4M355.16 742.8h3.4M356.86 741.1v3.4M371.47 792.6h3.4M373.17 790.9v3.4M375.49 801.9h3.4M377.19 800.2v3.4M386.12 805.5h3.4M387.82 803.8v3.4M367.51 782.6h3.4M369.21 780.9v3.4M359.07 757.3h3.4M360.77 755.6v3.4M430.99 826h3.4M432.69 824.3v3.4M359 757.3h3.4M360.7 755.6v3.4M365.53 778.6h3.4M367.23 776.9v3.4M363 771.2h3.4M364.7 769.5v3.4M372.76 796.65h3.4M374.46 794.95v3.4M372.87 796.65h3.4M374.57 794.95v3.4M370.97 792.6h3.4M372.67 790.9v3.4M363.77 773.9h3.4M365.47 772.2v3.4M384.11 803.1h3.4M385.81 801.4v3.4M366.84 782.6h3.4M368.54 780.9v3.4M373.99 800.7h3.4M375.69 799v3.4M358.59 757.3h3.4M360.29 755.6v3.4M359.77 760.5h3.4M361.47 758.8v3.4M378.48 803.1h3.4M380.18 801.4v3.4M374.23 800.7h3.4M375.93 799v3.4M364.34 773.9h3.4M366.04 772.2v3.4M385.35 805.5h3.4M387.05 803.8v3.4M378.3 803.1h3.4M380 801.4v3.4M384.52 803.1h3.4M386.22 801.4v3.4M375.31 801.9h3.4M377.01 800.2v3.4M371.8 794.62h3.4M373.5 792.92v3.4M383.61 803.1h3.4M385.31 801.4v3.4M371.45 792.6h3.4M373.15 790.9v3.4M374.14 800.7h3.4M375.84 799v3.4M373.51 798.68h3.4M375.21 796.98v3.4M378 803.1h3.4M379.7 801.4v3.4M425.11 826h3.4M426.81 824.3v3.4M377.83 803.1h3.4M379.53 801.4v3.4M379.91 803.1h3.4M381.61 801.4v3.4M380.78 803.1h3.4M382.48 801.4v3.4M383.06 803.1h3.4M384.76 801.4v3.4M376.23 803.1h3.4M377.93 801.4v3.4M362.72 768.5h3.4M364.42 766.8v3.4M382.92 803.1h3.4M384.62 801.4v3.4M360.11 760.5h3.4M361.81 758.8v3.4M383.48 803.1h3.4M385.18 801.4v3.4M357.73 750.9h3.4M359.43 749.2v3.4M371.53 792.6h3.4M373.23 790.9v3.4M361.36 765.83h3.4M363.06 764.13v3.4M354.63 740.93h3.4M356.33 739.23v3.4M371.36 792.6h3.4M373.06 790.9v3.4M369.59 788.6h3.4M371.29 786.9v3.4M365.1 776.6h3.4M366.8 774.9v3.4M448.71 826h3.4M450.41 824.3v3.4" stroke="#808080" stroke-opacity="0.8" stroke-width="0.6" fill="none"/>
<rect x="349.7" y="732.8" width="105.4" height="99.7" fill="none" stroke="#333" stroke-width="0.75"/>
<text x="449.9" y="739.2" font-family='Liberation Sans' font-size="6.75" fill="#111" text-anchor="end">Log−rank P = 0.23</text>
<line x1="354" x2="354" y1="832.5" y2="834.3" stroke="#333" stroke-width="0.5"/>
<text x="354" y="839.6" font-family='Liberation Sans' font-size="5.6" fill="#4d4d4d" text-anchor="middle">0</text>
<line x1="385.1" x2="385.1" y1="832.5" y2="834.3" stroke="#333" stroke-width="0.5"/>
<text x="385.1" y="839.6" font-family='Liberation Sans' font-size="5.6" fill="#4d4d4d" text-anchor="middle">40</text>
<line x1="416.2" x2="416.2" y1="832.5" y2="834.3" stroke="#333" stroke-width="0.5"/>
<text x="416.2" y="839.6" font-family='Liberation Sans' font-size="5.6" fill="#4d4d4d" text-anchor="middle">80</text>
<line x1="447.3" x2="447.3" y1="832.5" y2="834.3" stroke="#333" stroke-width="0.5"/>
<text x="447.3" y="839.6" font-family='Liberation Sans' font-size="5.6" fill="#4d4d4d" text-anchor="middle">120</text>
<rect x="458.8" y="721.8" width="105.4" height="11" fill="#d9d9d9"/>
<text x="511.5" y="729.2" font-family='Liberation Sans' font-size="5.4" fill="#333" text-anchor="middle">Neutrophil</text>
<line x1="458.8" x2="564.2" y1="821.2" y2="821.2" stroke="#f3f3f3" stroke-width="0.45"/>
<line x1="458.8" x2="564.2" y1="797.2" y2="797.2" stroke="#f3f3f3" stroke-width="0.45"/>
<line x1="458.8" x2="564.2" y1="773.2" y2="773.2" stroke="#f3f3f3" stroke-width="0.45"/>
<line x1="458.8" x2="564.2" y1="749.2" y2="749.2" stroke="#f3f3f3" stroke-width="0.45"/>
<line x1="478.65" x2="478.65" y1="732.8" y2="832.5" stroke="#f3f3f3" stroke-width="0.45"/>
<line x1="509.75" x2="509.75" y1="732.8" y2="832.5" stroke="#f3f3f3" stroke-width="0.45"/>
<line x1="540.85" x2="540.85" y1="732.8" y2="832.5" stroke="#f3f3f3" stroke-width="0.45"/>
<line x1="458.8" x2="564.2" y1="809.2" y2="809.2" stroke="#e4e4e4" stroke-width="0.6"/>
<line x1="458.8" x2="564.2" y1="785.2" y2="785.2" stroke="#e4e4e4" stroke-width="0.6"/>
<line x1="458.8" x2="564.2" y1="761.2" y2="761.2" stroke="#e4e4e4" stroke-width="0.6"/>
<line x1="458.8" x2="564.2" y1="737.2" y2="737.2" stroke="#e4e4e4" stroke-width="0.6"/>
<line x1="463.1" x2="463.1" y1="732.8" y2="832.5" stroke="#e4e4e4" stroke-width="0.6"/>
<line x1="494.2" x2="494.2" y1="732.8" y2="832.5" stroke="#e4e4e4" stroke-width="0.6"/>
<line x1="525.3" x2="525.3" y1="732.8" y2="832.5" stroke="#e4e4e4" stroke-width="0.6"/>
<line x1="556.4" x2="556.4" y1="732.8" y2="832.5" stroke="#e4e4e4" stroke-width="0.6"/>
<path d="M463.1 737.2 L464.01 737.2 L464.01 739.43 L464.92 739.43 L464.92 741.65 L465.92 741.65 L465.92 743.88 L466.68 743.88 L466.68 746.1 L467.63 746.1 L467.63 748.5 L468.42 748.5 L468.42 750.9 L469.01 750.9 L469.01 753.3 L469.86 753.3 L469.86 755.7 L470.87 755.7 L470.87 758.9 L471.49 758.9 L471.49 762.1 L472.35 762.1 L472.35 765.3 L473.08 765.3 L473.08 768 L473.8 768 L473.8 770.7 L474.76 770.7 L474.76 773.4 L475.58 773.4 L475.58 775.4 L476.26 775.4 L476.26 777.4 L477.12 777.4 L477.12 779.4 L478.03 779.4 L478.03 781.4 L478.87 781.4 L478.87 783 L479.73 783 L479.73 784.6 L480.52 784.6 L480.52 786.2 L481.22 786.2 L481.22 787.8 L481.85 787.8 L481.85 788.92 L482.63 788.92 L482.63 790.04 L483.5 790.04 L483.5 791.16 L484.41 791.16 L484.41 792.28 L485.18 792.28 L485.18 793.4 L486.12 793.4 L486.12 793.93 L486.9 793.93 L486.9 794.47 L487.76 794.47 L487.76 795 L488.43 795 L488.43 795.53 L489.25 795.53 L489.25 796.07 L490 796.07 L490 796.6 L490.72 796.6 L490.72 796.96 L491.53 796.96 L491.53 797.31 L492.29 797.31 L492.29 797.67 L493.21 797.67 L493.21 798.03 L494.04 798.03 L494.04 798.39 L494.83 798.39 L494.83 798.74 L495.6 798.74 L495.6 799.1 L496.39 799.1 L496.39 800.03 L497.23 800.03 L497.23 800.97 L498.09 800.97 L498.09 801.9 L520.09 801.9 L520.09 828.3 L555.08 828.3" fill="none" stroke="#2323e0" stroke-width="1"/>
<path d="M463.1 737.2 L463.9 737.2 L463.9 739.43 L465.01 739.43 L465.01 741.65 L465.81 741.65 L465.81 743.88 L466.68 743.88 L466.68 746.1 L467.57 746.1 L467.57 748.5 L468.39 748.5 L468.39 750.9 L468.98 750.9 L468.98 753.3 L469.86 753.3 L469.86 755.7 L470.54 755.7 L470.54 758.9 L471.44 758.9 L471.44 762.1 L472.35 762.1 L472.35 765.3 L473.31 765.3 L473.31 768 L474.07 768 L474.07 770.7 L474.76 770.7 L474.76 773.4 L475.54 773.4 L475.54 775.4 L476.5 775.4 L476.5 777.4 L477.15 777.4 L477.15 779.4 L478.03 779.4 L478.03 781.4 L478.97 781.4 L478.97 783 L479.46 783 L479.46 784.6 L480.51 784.6 L480.51 786.2 L481.22 786.2 L481.22 787.8 L482.2 787.8 L482.2 788.92 L482.77 788.92 L482.77 790.04 L483.58 790.04 L483.58 791.16 L484.24 791.16 L484.24 792.28 L485.18 792.28 L485.18 793.4 L485.9 793.4 L485.9 793.93 L486.68 793.93 L486.68 794.47 L487.51 794.47 L487.51 795 L488.23 795 L488.23 795.53 L489.12 795.53 L489.12 796.07 L490 796.07 L490 796.6 L490.65 796.6 L490.65 796.96 L491.61 796.96 L491.61 797.31 L492.36 797.31 L492.36 797.67 L493.09 797.67 L493.09 798.03 L494.17 798.03 L494.17 798.39 L494.73 798.39 L494.73 798.74 L495.6 798.74 L495.6 799.1 L496.44 799.1 L496.44 800.43 L497.41 800.43 L497.41 801.77 L498.09 801.77 L498.09 803.1 L507.34 803.1 L507.34 807.9 L509.28 807.9 L509.28 815.9 L517.45 815.9 L517.45 822.7 L559.51 822.7" fill="none" stroke="#e01f1f" stroke-width="1"/>
<path d="M494.46 799.1h3.4M496.16 797.4v3.4M491.29 797.67h3.4M492.99 795.97v3.4M486.72 795h3.4M488.42 793.3v3.4M472.9 770.7h3.4M474.6 769v3.4M486.98 795.53h3.4M488.68 793.83v3.4M474.33 775.4h3.4M476.03 773.7v3.4M493.4 798.74h3.4M495.1 797.04v3.4M470.87 765.3h3.4M472.57 763.6v3.4M464.11 741.65h3.4M465.81 739.95v3.4M478.94 786.2h3.4M480.64 784.5v3.4M545.18 828.3h3.4M546.88 826.6v3.4M487.69 796.07h3.4M489.39 794.37v3.4M485.39 794.47h3.4M487.09 792.77v3.4M504.51 801.9h3.4M506.21 800.2v3.4M552.53 828.3h3.4M554.23 826.6v3.4M489.39 796.96h3.4M491.09 795.26v3.4M504.15 801.9h3.4M505.85 800.2v3.4M482.03 791.16h3.4M483.73 789.46v3.4M471.07 765.3h3.4M472.77 763.6v3.4M485.71 794.47h3.4M487.41 792.77v3.4M486.73 795.53h3.4M488.43 793.83v3.4M482.37 791.16h3.4M484.07 789.46v3.4M477.61 783h3.4M479.31 781.3v3.4M477.64 783h3.4M479.34 781.3v3.4M475.28 777.4h3.4M476.98 775.7v3.4M475.47 779.4h3.4M477.17 777.7v3.4M513.29 801.9h3.4M514.99 800.2v3.4M543.7 828.3h3.4M545.4 826.6v3.4M469.46 758.9h3.4M471.16 757.2v3.4M494.11 799.1h3.4M495.81 797.4v3.4M484.54 793.93h3.4M486.24 792.23v3.4M482.94 792.28h3.4M484.64 790.58v3.4M470.06 762.1h3.4M471.76 760.4v3.4M483.4 792.28h3.4M485.1 790.58v3.4M471.56 768h3.4M473.26 766.3v3.4M488.14 796.07h3.4M489.84 794.37v3.4M490.76 797.67h3.4M492.46 795.97v3.4M480 787.8h3.4M481.7 786.1v3.4M494.55 799.1h3.4M496.25 797.4v3.4M515.31 801.9h3.4M517.01 800.2v3.4M472.12 770.7h3.4M473.82 769v3.4M491.99 798.03h3.4M493.69 796.33v3.4M463.36 741.65h3.4M465.06 739.95v3.4M467.9 753.3h3.4M469.6 751.6v3.4M463.41 741.65h3.4M465.11 739.95v3.4M465.5 746.1h3.4M467.2 744.4v3.4M482.29 791.16h3.4M483.99 789.46v3.4M493.71 798.74h3.4M495.41 797.04v3.4M490.48 797.31h3.4M492.18 795.61v3.4M482.54 791.16h3.4M484.24 789.46v3.4M477.07 781.4h3.4M478.77 779.7v3.4M477.62 783h3.4M479.32 781.3v3.4M552.91 828.3h3.4M554.61 826.6v3.4M463.67 741.65h3.4M465.37 739.95v3.4M526.29 828.3h3.4M527.99 826.6v3.4M475.79 779.4h3.4M477.49 777.7v3.4M472.68 770.7h3.4M474.38 769v3.4M477.53 783h3.4M479.23 781.3v3.4M469.68 758.9h3.4M471.38 757.2v3.4M485.65 794.47h3.4M487.35 792.77v3.4M469.57 758.9h3.4M471.27 757.2v3.4M463.12 739.43h3.4M464.82 737.73v3.4M509.14 801.9h3.4M510.84 800.2v3.4M474.55 775.4h3.4M476.25 773.7v3.4M476.88 781.4h3.4M478.58 779.7v3.4M490.95 797.67h3.4M492.65 795.97v3.4M471.07 765.3h3.4M472.77 763.6v3.4M492.13 798.03h3.4M493.83 796.33v3.4M488.69 796.6h3.4M490.39 794.9v3.4M470.04 762.1h3.4M471.74 760.4v3.4M492.15 798.03h3.4M493.85 796.33v3.4M474.5 775.4h3.4M476.2 773.7v3.4M465.93 746.1h3.4M467.63 744.4v3.4M480.94 790.04h3.4M482.64 788.34v3.4M489.28 796.96h3.4M490.98 795.26v3.4M464.3 743.88h3.4M466 742.17v3.4M485.92 794.47h3.4M487.62 792.77v3.4M473.39 773.4h3.4M475.09 771.7v3.4M466.89 750.9h3.4M468.59 749.2v3.4M466.31 748.5h3.4M468.01 746.8v3.4M477.06 781.4h3.4M478.76 779.7v3.4M465.31 746.1h3.4M467.01 744.4v3.4M487.43 795.53h3.4M489.13 793.83v3.4M489 796.6h3.4M490.7 794.9v3.4M494.02 799.1h3.4M495.72 797.4v3.4M553.38 828.3h3.4M555.08 826.6v3.4M481.47 790.04h3.4M483.17 788.34v3.4M464.63 743.88h3.4M466.33 742.17v3.4M472.32 768h3.4M474.02 766.3v3.4M487.46 796.07h3.4M489.16 794.37v3.4M486.7 795.53h3.4M488.4 793.83v3.4M490.46 797.31h3.4M492.16 795.61v3.4M478.26 784.6h3.4M479.96 782.9v3.4M528.79 822.7h3.4M530.49 821v3.4M479.46 786.2h3.4M481.16 784.5v3.4M475.5 779.4h3.4M477.2 777.7v3.4M472.1 768h3.4M473.8 766.3v3.4M473.01 770.7h3.4M474.71 769v3.4M493.53 798.74h3.4M495.23 797.04v3.4M490.51 797.31h3.4M492.21 795.61v3.4M483.85 793.4h3.4M485.55 791.7v3.4M465.7 746.1h3.4M467.4 744.4v3.4M472.2 768h3.4M473.9 766.3v3.4M478.56 784.6h3.4M480.26 782.9v3.4M481.69 790.04h3.4M483.39 788.34v3.4M475.33 777.4h3.4M477.03 775.7v3.4M488.17 796.07h3.4M489.87 794.37v3.4M487.15 795.53h3.4M488.85 793.83v3.4M462.86 739.43h3.4M464.56 737.73v3.4M534.03 822.7h3.4M535.73 821v3.4M520.99 822.7h3.4M522.69 821v3.4M466.06 748.5h3.4M467.76 746.8v3.4M485.04 794.47h3.4M486.74 792.77v3.4M474.11 775.4h3.4M475.81 773.7v3.4M483.15 792.28h3.4M484.85 790.58v3.4M462.33 739.43h3.4M464.03 737.73v3.4M471.19 765.3h3.4M472.89 763.6v3.4M507.19 807.9h3.4M508.89 806.2v3.4M469.6 758.9h3.4M471.3 757.2v3.4M468.9 758.9h3.4M470.6 757.2v3.4M487.02 795.53h3.4M488.72 793.83v3.4M484.31 793.93h3.4M486.01 792.23v3.4M555.17 822.7h3.4M556.87 821v3.4M491.52 798.03h3.4M493.22 796.33v3.4M488.16 796.07h3.4M489.86 794.37v3.4M493.4 798.74h3.4M495.1 797.04v3.4M466.26 748.5h3.4M467.96 746.8v3.4M474.39 775.4h3.4M476.09 773.7v3.4M473.23 773.4h3.4M474.93 771.7v3.4M487.37 795.53h3.4M489.07 793.83v3.4M463.49 741.65h3.4M465.19 739.95v3.4M473.94 775.4h3.4M475.64 773.7v3.4M465.63 746.1h3.4M467.33 744.4v3.4M495.07 800.43h3.4M496.77 798.73v3.4M479.39 786.2h3.4M481.09 784.5v3.4M463.76 741.65h3.4M465.46 739.95v3.4M493.71 798.74h3.4M495.41 797.04v3.4M489.68 796.96h3.4M491.38 795.26v3.4M546.63 822.7h3.4M548.33 821v3.4M485.9 795h3.4M487.6 793.3v3.4M478.64 784.6h3.4M480.34 782.9v3.4M488.7 796.6h3.4M490.4 794.9v3.4M490.16 797.31h3.4M491.86 795.61v3.4M469.62 758.9h3.4M471.32 757.2v3.4M484.87 793.93h3.4M486.57 792.23v3.4M482.73 792.28h3.4M484.43 790.58v3.4M471.8 768h3.4M473.5 766.3v3.4M481.48 790.04h3.4M483.18 788.34v3.4M480.66 788.92h3.4M482.36 787.22v3.4M477.5 783h3.4M479.2 781.3v3.4M492.85 798.39h3.4M494.55 796.69v3.4M473.39 773.4h3.4M475.09 771.7v3.4M486.29 795h3.4M487.99 793.3v3.4M488.15 796.07h3.4M489.85 794.37v3.4M482.81 792.28h3.4M484.51 790.58v3.4M491.27 797.67h3.4M492.97 795.97v3.4M477.17 781.4h3.4M478.87 779.7v3.4M493.23 798.74h3.4M494.93 797.04v3.4M544.4 822.7h3.4M546.1 821v3.4M518.1 822.7h3.4M519.8 821v3.4M542.15 822.7h3.4M543.85 821v3.4M491.69 798.03h3.4M493.39 796.33v3.4M463.18 739.43h3.4M464.88 737.73v3.4M493.7 798.74h3.4M495.4 797.04v3.4M462.23 739.43h3.4M463.93 737.73v3.4M489.01 796.96h3.4M490.71 795.26v3.4M478.86 786.2h3.4M480.56 784.5v3.4M479.38 786.2h3.4M481.08 784.5v3.4M473.24 773.4h3.4M474.94 771.7v3.4M486.75 795.53h3.4M488.45 793.83v3.4M511.78 815.9h3.4M513.48 814.2v3.4M557.81 822.7h3.4M559.51 821v3.4" stroke="#808080" stroke-opacity="0.8" stroke-width="0.6" fill="none"/>
<rect x="458.8" y="732.8" width="105.4" height="99.7" fill="none" stroke="#333" stroke-width="0.75"/>
<text x="559" y="739.2" font-family='Liberation Sans' font-size="6.75" fill="#111" text-anchor="end">Log−rank P = 0.436</text>
<line x1="463.1" x2="463.1" y1="832.5" y2="834.3" stroke="#333" stroke-width="0.5"/>
<text x="463.1" y="839.6" font-family='Liberation Sans' font-size="5.6" fill="#4d4d4d" text-anchor="middle">0</text>
<line x1="494.2" x2="494.2" y1="832.5" y2="834.3" stroke="#333" stroke-width="0.5"/>
<text x="494.2" y="839.6" font-family='Liberation Sans' font-size="5.6" fill="#4d4d4d" text-anchor="middle">40</text>
<line x1="525.3" x2="525.3" y1="832.5" y2="834.3" stroke="#333" stroke-width="0.5"/>
<text x="525.3" y="839.6" font-family='Liberation Sans' font-size="5.6" fill="#4d4d4d" text-anchor="middle">80</text>
<line x1="556.4" x2="556.4" y1="832.5" y2="834.3" stroke="#333" stroke-width="0.5"/>
<text x="556.4" y="839.6" font-family='Liberation Sans' font-size="5.6" fill="#4d4d4d" text-anchor="middle">120</text>
<rect x="567.9" y="721.8" width="105.4" height="11" fill="#d9d9d9"/>
<text x="620.6" y="729.2" font-family='Liberation Sans' font-size="5.4" fill="#333" text-anchor="middle">Dendritic Cell</text>
<line x1="567.9" x2="673.3" y1="830.3" y2="830.3" stroke="#f3f3f3" stroke-width="0.45"/>
<line x1="567.9" x2="673.3" y1="803.7" y2="803.7" stroke="#f3f3f3" stroke-width="0.45"/>
<line x1="567.9" x2="673.3" y1="777.1" y2="777.1" stroke="#f3f3f3" stroke-width="0.45"/>
<line x1="567.9" x2="673.3" y1="750.5" y2="750.5" stroke="#f3f3f3" stroke-width="0.45"/>
<line x1="587.75" x2="587.75" y1="732.8" y2="832.5" stroke="#f3f3f3" stroke-width="0.45"/>
<line x1="618.85" x2="618.85" y1="732.8" y2="832.5" stroke="#f3f3f3" stroke-width="0.45"/>
<line x1="649.95" x2="649.95" y1="732.8" y2="832.5" stroke="#f3f3f3" stroke-width="0.45"/>
<line x1="567.9" x2="673.3" y1="817" y2="817" stroke="#e4e4e4" stroke-width="0.6"/>
<line x1="567.9" x2="673.3" y1="790.4" y2="790.4" stroke="#e4e4e4" stroke-width="0.6"/>
<line x1="567.9" x2="673.3" y1="763.8" y2="763.8" stroke="#e4e4e4" stroke-width="0.6"/>
<line x1="567.9" x2="673.3" y1="737.2" y2="737.2" stroke="#e4e4e4" stroke-width="0.6"/>
<line x1="572.2" x2="572.2" y1="732.8" y2="832.5" stroke="#e4e4e4" stroke-width="0.6"/>
<line x1="603.3" x2="603.3" y1="732.8" y2="832.5" stroke="#e4e4e4" stroke-width="0.6"/>
<line x1="634.4" x2="634.4" y1="732.8" y2="832.5" stroke="#e4e4e4" stroke-width="0.6"/>
<line x1="665.5" x2="665.5" y1="732.8" y2="832.5" stroke="#e4e4e4" stroke-width="0.6"/>
<path d="M572.2 737.2 L573.01 737.2 L573.01 738 L573.88 738 L573.88 738.8 L574.68 738.8 L574.68 739.6 L575.51 739.6 L575.51 740.4 L576.17 740.4 L576.17 741.2 L576.94 741.2 L576.94 743.37 L578.06 743.37 L578.06 745.53 L578.73 745.53 L578.73 747.7 L579.53 747.7 L579.53 749.83 L580.38 749.83 L580.38 751.97 L581.06 751.97 L581.06 754.1 L581.97 754.1 L581.97 756.23 L582.84 756.23 L582.84 758.37 L583.47 758.37 L583.47 760.5 L584.19 760.5 L584.19 762.63 L585.03 762.63 L585.03 764.77 L585.88 764.77 L585.88 766.9 L586.77 766.9 L586.77 768.52 L587.51 768.52 L587.51 770.15 L588.37 770.15 L588.37 771.77 L589.07 771.77 L589.07 773.4 L589.82 773.4 L589.82 774.6 L590.84 774.6 L590.84 775.8 L591.27 775.8 L591.27 777 L592.26 777 L592.26 778.2 L593.14 778.2 L593.14 779.4 L593.8 779.4 L593.8 780.6 L594.47 780.6 L594.47 781.8 L595.45 781.8 L595.45 783 L596.31 783 L596.31 783.6 L596.87 783.6 L596.87 784.2 L597.73 784.2 L597.73 784.8 L598.63 784.8 L598.63 785.4 L599.37 785.4 L599.37 785.67 L600.11 785.67 L600.11 785.93 L600.91 785.93 L600.91 786.2 L601.68 786.2 L601.68 786.47 L602.79 786.47 L602.79 786.73 L603.46 786.73 L603.46 787 L604.12 787 L604.12 787.8 L604.98 787.8 L604.98 788.6 L605.94 788.6 L605.94 789.4 L606.41 789.4 L606.41 790.7 L616.44 790.7 L616.44 802.3 L626.86 802.3 L626.86 812.7 L629.58 812.7 L629.58 828.3 L664.64 828.3" fill="none" stroke="#2323e0" stroke-width="1"/>
<path d="M572.2 737.2 L572.84 737.2 L572.84 738.53 L573.97 738.53 L573.97 739.87 L574.61 739.87 L574.61 741.2 L575.43 741.2 L575.43 743.9 L576.34 743.9 L576.34 746.6 L577.02 746.6 L577.02 749.3 L578.03 749.3 L578.03 752.5 L578.68 752.5 L578.68 755.7 L579.51 755.7 L579.51 758.9 L580.27 758.9 L580.27 762.1 L581.07 762.1 L581.07 765.3 L581.92 765.3 L581.92 768.5 L582.62 768.5 L582.62 770.52 L583.55 770.52 L583.55 772.55 L584.49 772.55 L584.49 774.58 L585.11 774.58 L585.11 776.6 L585.9 776.6 L585.9 778.2 L586.8 778.2 L586.8 779.8 L587.65 779.8 L587.65 781.4 L588.29 781.4 L588.29 783 L589.22 783 L589.22 784.2 L589.95 784.2 L589.95 785.4 L590.7 785.4 L590.7 786.6 L591.48 786.6 L591.48 787.8 L592.12 787.8 L592.12 788.8 L593.03 788.8 L593.03 789.8 L594.01 789.8 L594.01 790.8 L594.67 790.8 L594.67 791.8 L595.44 791.8 L595.44 792.44 L596.33 792.44 L596.33 793.08 L596.96 793.08 L596.96 793.72 L597.87 793.72 L597.87 794.36 L598.63 794.36 L598.63 795 L599.32 795 L599.32 795.6 L600.34 795.6 L600.34 796.2 L601.15 796.2 L601.15 796.8 L601.82 796.8 L601.82 797.4 L602.45 797.4 L602.45 798.4 L603.46 798.4 L603.46 799.4 L608.74 799.4 L608.74 802.3 L619.32 802.3 L619.32 806.6 L668.61 806.6" fill="none" stroke="#e01f1f" stroke-width="1"/>
<path d="M574.44 740.4h3.4M576.14 738.7v3.4M614.93 802.3h3.4M616.63 800.6v3.4M601.12 786.73h3.4M602.82 785.03v3.4M571.64 738h3.4M573.34 736.3v3.4M598.99 785.93h3.4M600.69 784.23v3.4M596.44 784.8h3.4M598.14 783.1v3.4M586.05 770.15h3.4M587.75 768.45v3.4M573.07 739.6h3.4M574.77 737.9v3.4M588.74 774.6h3.4M590.44 772.9v3.4M589.32 775.8h3.4M591.02 774.1v3.4M591.52 779.4h3.4M593.22 777.7v3.4M601.37 786.73h3.4M603.07 785.03v3.4M597.24 785.4h3.4M598.94 783.7v3.4M590.1 777h3.4M591.8 775.3v3.4M586.65 770.15h3.4M588.35 768.45v3.4M597.96 785.67h3.4M599.66 783.97v3.4M600.83 786.47h3.4M602.53 784.77v3.4M574.73 741.2h3.4M576.43 739.5v3.4M598.35 785.67h3.4M600.05 783.97v3.4M600.64 786.47h3.4M602.34 784.77v3.4M586.51 770.15h3.4M588.21 768.45v3.4M598.81 785.93h3.4M600.51 784.23v3.4M579.61 754.1h3.4M581.31 752.4v3.4M628.71 828.3h3.4M630.41 826.6v3.4M594.73 783.6h3.4M596.43 781.9v3.4M598.35 785.67h3.4M600.05 783.97v3.4M587.77 773.4h3.4M589.47 771.7v3.4M600.59 786.47h3.4M602.29 784.77v3.4M603.39 788.6h3.4M605.09 786.9v3.4M597.41 785.4h3.4M599.11 783.7v3.4M603.47 788.6h3.4M605.17 786.9v3.4M579.41 754.1h3.4M581.11 752.4v3.4M584.63 766.9h3.4M586.33 765.2v3.4M578.95 751.97h3.4M580.65 750.27v3.4M588.07 773.4h3.4M589.77 771.7v3.4M596.66 784.8h3.4M598.36 783.1v3.4M586.03 770.15h3.4M587.73 768.45v3.4M591.7 779.4h3.4M593.4 777.7v3.4M591.01 778.2h3.4M592.71 776.5v3.4M591.16 778.2h3.4M592.86 776.5v3.4M585.31 768.52h3.4M587.01 766.82v3.4M578.66 749.83h3.4M580.36 748.13v3.4M583.65 764.77h3.4M585.35 763.07v3.4M589.51 775.8h3.4M591.21 774.1v3.4M582.09 760.5h3.4M583.79 758.8v3.4M611.73 790.7h3.4M613.43 789v3.4M597.01 785.4h3.4M598.71 783.7v3.4M591.93 779.4h3.4M593.63 777.7v3.4M599.44 786.2h3.4M601.14 784.5v3.4M582.9 762.63h3.4M584.6 760.93v3.4M596.13 784.8h3.4M597.83 783.1v3.4M586.84 771.77h3.4M588.54 770.07v3.4M596.26 784.8h3.4M597.96 783.1v3.4M575.05 741.2h3.4M576.75 739.5v3.4M574.27 740.4h3.4M575.97 738.7v3.4M580.88 756.23h3.4M582.58 754.53v3.4M591.37 778.2h3.4M593.07 776.5v3.4M582.47 760.5h3.4M584.17 758.8v3.4M599.08 785.93h3.4M600.78 784.23v3.4M596.5 784.8h3.4M598.2 783.1v3.4M575.28 743.37h3.4M576.98 741.67v3.4M583.38 764.77h3.4M585.08 763.07v3.4M577.98 749.83h3.4M579.68 748.13v3.4M574.23 740.4h3.4M575.93 738.7v3.4M604.53 789.4h3.4M606.23 787.7v3.4M583.15 762.63h3.4M584.85 760.93v3.4M576.36 745.53h3.4M578.06 743.83v3.4M620.82 802.3h3.4M622.52 800.6v3.4M586.01 770.15h3.4M587.71 768.45v3.4M587.08 771.77h3.4M588.78 770.07v3.4M587.79 773.4h3.4M589.49 771.7v3.4M600.28 786.47h3.4M601.98 784.77v3.4M592.88 781.8h3.4M594.58 780.1v3.4M572.72 738.8h3.4M574.42 737.1v3.4M588.08 773.4h3.4M589.78 771.7v3.4M577.46 747.7h3.4M579.16 746v3.4M581.12 756.23h3.4M582.82 754.53v3.4M598.39 785.67h3.4M600.09 783.97v3.4M589.81 777h3.4M591.51 775.3v3.4M587.84 773.4h3.4M589.54 771.7v3.4M594.18 783h3.4M595.88 781.3v3.4M599.98 786.2h3.4M601.68 784.5v3.4M626.32 812.7h3.4M628.02 811v3.4M603.04 787.8h3.4M604.74 786.1v3.4M581.04 756.23h3.4M582.74 754.53v3.4M662.94 828.3h3.4M664.64 826.6v3.4M600.32 797.4h3.4M602.02 795.7v3.4M578.33 758.9h3.4M580.03 757.2v3.4M574.05 743.9h3.4M575.75 742.2v3.4M576.98 755.7h3.4M578.68 754v3.4M586.4 781.4h3.4M588.1 779.7v3.4M578.05 758.9h3.4M579.75 757.2v3.4M634.28 806.6h3.4M635.98 804.9v3.4M581.12 770.52h3.4M582.82 768.82v3.4M642.81 806.6h3.4M644.51 804.9v3.4M575.77 749.3h3.4M577.47 747.6v3.4M582.65 772.55h3.4M584.35 770.85v3.4M575.73 749.3h3.4M577.43 747.6v3.4M597 795h3.4M598.7 793.3v3.4M603.31 799.4h3.4M605.01 797.7v3.4M648.49 806.6h3.4M650.19 804.9v3.4M602.39 799.4h3.4M604.09 797.7v3.4M583.51 776.6h3.4M585.21 774.9v3.4M571.95 738.53h3.4M573.65 736.83v3.4M577.82 758.9h3.4M579.52 757.2v3.4M597.56 795h3.4M599.26 793.3v3.4M579.72 765.3h3.4M581.42 763.6v3.4M575.66 749.3h3.4M577.36 747.6v3.4M571.43 738.53h3.4M573.13 736.83v3.4M576.68 752.5h3.4M578.38 750.8v3.4M593.26 791.8h3.4M594.96 790.1v3.4M587.58 784.2h3.4M589.28 782.5v3.4M583.6 776.6h3.4M585.3 774.9v3.4M572.21 738.53h3.4M573.91 736.83v3.4M594.24 792.44h3.4M595.94 790.74v3.4M588.31 785.4h3.4M590.01 783.7v3.4M584.46 778.2h3.4M586.16 776.5v3.4M589.88 787.8h3.4M591.58 786.1v3.4M585.96 781.4h3.4M587.66 779.7v3.4M591.38 789.8h3.4M593.08 788.1v3.4M597.15 795h3.4M598.85 793.3v3.4M577.66 755.7h3.4M579.36 754v3.4M588.21 784.2h3.4M589.91 782.5v3.4M573.86 743.9h3.4M575.56 742.2v3.4M590.91 788.8h3.4M592.61 787.1v3.4M595.64 793.72h3.4M597.34 792.02v3.4M589.64 786.6h3.4M591.34 784.9v3.4M648.3 806.6h3.4M650 804.9v3.4M603.76 799.4h3.4M605.46 797.7v3.4M578.56 758.9h3.4M580.26 757.2v3.4M598.24 795.6h3.4M599.94 793.9v3.4M589.77 786.6h3.4M591.47 784.9v3.4M589.09 786.6h3.4M590.79 784.9v3.4M593.53 791.8h3.4M595.23 790.1v3.4M597.07 795h3.4M598.77 793.3v3.4M574.61 743.9h3.4M576.31 742.2v3.4M573.9 743.9h3.4M575.6 742.2v3.4M598.45 795.6h3.4M600.15 793.9v3.4M572.77 739.87h3.4M574.47 738.17v3.4M576.6 752.5h3.4M578.3 750.8v3.4M585.54 779.8h3.4M587.24 778.1v3.4M571.89 738.53h3.4M573.59 736.83v3.4M594.5 792.44h3.4M596.2 790.74v3.4M598.66 796.2h3.4M600.36 794.5v3.4M642.45 806.6h3.4M644.15 804.9v3.4M599.92 796.8h3.4M601.62 795.1v3.4M629.67 806.6h3.4M631.37 804.9v3.4M575.97 749.3h3.4M577.67 747.6v3.4M595.59 793.72h3.4M597.29 792.02v3.4M640.79 806.6h3.4M642.49 804.9v3.4M593.35 791.8h3.4M595.05 790.1v3.4M573.44 741.2h3.4M575.14 739.5v3.4M598.57 795.6h3.4M600.27 793.9v3.4M577.69 755.7h3.4M579.39 754v3.4M576.74 752.5h3.4M578.44 750.8v3.4M587.06 783h3.4M588.76 781.3v3.4M637.3 806.6h3.4M639 804.9v3.4M603.78 799.4h3.4M605.48 797.7v3.4M602.53 799.4h3.4M604.23 797.7v3.4M607.64 802.3h3.4M609.34 800.6v3.4M577.5 755.7h3.4M579.2 754v3.4M578.53 758.9h3.4M580.23 757.2v3.4M591.46 789.8h3.4M593.16 788.1v3.4M585.42 779.8h3.4M587.12 778.1v3.4M600.1 796.8h3.4M601.8 795.1v3.4M589.82 787.8h3.4M591.52 786.1v3.4M594.19 792.44h3.4M595.89 790.74v3.4M592.41 790.8h3.4M594.11 789.1v3.4M598.68 796.2h3.4M600.38 794.5v3.4M571.83 738.53h3.4M573.53 736.83v3.4M581.56 770.52h3.4M583.26 768.82v3.4M666.91 806.6h3.4M668.61 804.9v3.4" stroke="#808080" stroke-opacity="0.8" stroke-width="0.6" fill="none"/>
<rect x="567.9" y="732.8" width="105.4" height="99.7" fill="none" stroke="#333" stroke-width="0.75"/>
<text x="668.1" y="739.2" font-family='Liberation Sans' font-size="6.75" fill="#111" text-anchor="end">Log−rank P = 0.12</text>
<line x1="572.2" x2="572.2" y1="832.5" y2="834.3" stroke="#333" stroke-width="0.5"/>
<text x="572.2" y="839.6" font-family='Liberation Sans' font-size="5.6" fill="#4d4d4d" text-anchor="middle">0</text>
<line x1="603.3" x2="603.3" y1="832.5" y2="834.3" stroke="#333" stroke-width="0.5"/>
<text x="603.3" y="839.6" font-family='Liberation Sans' font-size="5.6" fill="#4d4d4d" text-anchor="middle">40</text>
<line x1="634.4" x2="634.4" y1="832.5" y2="834.3" stroke="#333" stroke-width="0.5"/>
<text x="634.4" y="839.6" font-family='Liberation Sans' font-size="5.6" fill="#4d4d4d" text-anchor="middle">80</text>
<line x1="665.5" x2="665.5" y1="832.5" y2="834.3" stroke="#333" stroke-width="0.5"/>
<text x="665.5" y="839.6" font-family='Liberation Sans' font-size="5.6" fill="#4d4d4d" text-anchor="middle">120</text>
<text x="350.5" y="849.8" font-family='Liberation Sans' font-size="8.2" fill="#1a1a1a" text-anchor="middle">Time to Follow−Up (months)</text>
<text x="26.3" y="848.6" font-family='Liberation Sans' font-size="5.5" font-weight="bold" fill="#1a1a1a">Level</text>
<line x1="48" x2="56" y1="846.8" y2="846.8" stroke="#2323e0" stroke-width="0.9"/>
<text x="58.9" y="848.6" font-family='Liberation Sans' font-size="4.9" fill="#1a1a1a">Low (Bottom 50%)</text>
<line x1="106.9" x2="115.6" y1="846.8" y2="846.8" stroke="#e01f1f" stroke-width="0.9"/>
<text x="118.4" y="848.6" font-family='Liberation Sans' font-size="4.9" fill="#1a1a1a">High (Top 50%)</text>
<text x="1.7" y="864" font-family='Liberation Sans' font-size="14.4" fill="#111">E</text>
<text transform="translate(7.1,911.6) rotate(-90)" font-family='Liberation Sans' font-size="7.0" fill="#1a1a1a" text-anchor="middle">Infiltration Level</text>
<line x1="21.2" x2="295.8" y1="945.3" y2="945.3" stroke="#f3f3f3" stroke-width="0.45"/>
<line x1="21.2" x2="295.8" y1="920.91" y2="920.91" stroke="#f3f3f3" stroke-width="0.45"/>
<line x1="21.2" x2="295.8" y1="896.52" y2="896.52" stroke="#f3f3f3" stroke-width="0.45"/>
<line x1="21.2" x2="295.8" y1="872.13" y2="872.13" stroke="#f3f3f3" stroke-width="0.45"/>
<line x1="21.2" x2="295.8" y1="957.5" y2="957.5" stroke="#e6e6e6" stroke-width="0.6"/>
<line x1="19.4" x2="21.2" y1="957.5" y2="957.5" stroke="#333" stroke-width="0.5"/>
<text x="18.8" y="959.8" font-family='Liberation Sans' font-size="6.4" fill="#4d4d4d" text-anchor="end">0.0</text>
<line x1="21.2" x2="295.8" y1="933.11" y2="933.11" stroke="#e6e6e6" stroke-width="0.6"/>
<line x1="19.4" x2="21.2" y1="933.11" y2="933.11" stroke="#333" stroke-width="0.5"/>
<text x="18.8" y="935.41" font-family='Liberation Sans' font-size="6.4" fill="#4d4d4d" text-anchor="end">0.3</text>
<line x1="21.2" x2="295.8" y1="908.72" y2="908.72" stroke="#e6e6e6" stroke-width="0.6"/>
<line x1="19.4" x2="21.2" y1="908.72" y2="908.72" stroke="#333" stroke-width="0.5"/>
<text x="18.8" y="911.02" font-family='Liberation Sans' font-size="6.4" fill="#4d4d4d" text-anchor="end">0.6</text>
<line x1="21.2" x2="295.8" y1="884.33" y2="884.33" stroke="#e6e6e6" stroke-width="0.6"/>
<line x1="19.4" x2="21.2" y1="884.33" y2="884.33" stroke="#333" stroke-width="0.5"/>
<text x="18.8" y="886.63" font-family='Liberation Sans' font-size="6.4" fill="#4d4d4d" text-anchor="end">0.9</text>
<line x1="47.7" x2="47.7" y1="861.5" y2="962" stroke="#e6e6e6" stroke-width="0.6"/>
<line x1="92.1" x2="92.1" y1="861.5" y2="962" stroke="#e6e6e6" stroke-width="0.6"/>
<line x1="136.5" x2="136.5" y1="861.5" y2="962" stroke="#e6e6e6" stroke-width="0.6"/>
<line x1="180.9" x2="180.9" y1="861.5" y2="962" stroke="#e6e6e6" stroke-width="0.6"/>
<line x1="225.3" x2="225.3" y1="861.5" y2="962" stroke="#e6e6e6" stroke-width="0.6"/>
<line x1="269.7" x2="269.7" y1="861.5" y2="962" stroke="#e6e6e6" stroke-width="0.6"/>
<path d="M35.79 956.93h0M32.13 953.42h0M29.88 957.17h0M32.5 954.39h0M29.15 956.92h0M30.83 957.09h0M33.95 950.88h0M28.74 952.09h0M33.63 948.61h0" stroke="#2f2fe6" stroke-opacity="0.9" stroke-width="1.8" stroke-linecap="round"/>
<line x1="32.4" x2="32.4" y1="947.74" y2="957.5" stroke="#444" stroke-width="0.6"/>
<rect x="28.3" y="952.62" width="8.2" height="4.07" fill="#a39ff2" fill-opacity="0.92" stroke="#333" stroke-width="0.6"/>
<line x1="28.3" x2="36.5" y1="954.25" y2="954.25" stroke="#222" stroke-width="1.1"/>
<path d="M43.52 954.26h0M42.83 953.7h0M39.08 953.63h0M38.84 953.44h0M42.31 952.83h0M42.75 956.46h0M43.72 952.81h0M42.26 956h0M40.83 953.84h0M45.32 949.37h0M44.26 953.91h0M40.91 954.26h0M39.16 952.87h0M45.37 953.69h0M41.69 955.31h0M38.6 951.1h0M40.28 954.58h0M46.44 952.45h0M41.78 954.72h0M44.83 951.99h0M40.76 952.93h0M46.31 952.72h0M44.66 953.16h0M39.41 953.03h0M39.08 953.1h0M43.07 953.57h0M42.18 954.72h0M39.65 952.98h0M43.75 951.63h0M40.3 952.7h0M40.76 952.82h0M41.03 951.25h0M45.68 954.32h0M45.44 953.48h0M43.73 952.42h0M40.31 950.28h0M40.67 951.24h0M40.97 953.66h0M39.19 955.14h0M40.54 952.21h0M43.41 952.8h0M46.27 954.95h0M42.47 952.68h0M40.06 956.46h0M39.83 955.17h0" stroke="#96cbe3" stroke-opacity="0.9" stroke-width="1.8" stroke-linecap="round"/>
<line x1="42.6" x2="42.6" y1="949.37" y2="957.5" stroke="#444" stroke-width="0.6"/>
<rect x="38.5" y="952.62" width="8.2" height="2.44" fill="#c3e4f0" fill-opacity="0.92" stroke="#333" stroke-width="0.6"/>
<line x1="38.5" x2="46.7" y1="953.84" y2="953.84" stroke="#222" stroke-width="1.1"/>
<path d="M50.32 955.29h0M56.32 956.55h0M53.63 947.21h0M49.63 951.97h0M54.44 951.68h0M55.39 953.63h0M54.56 954.81h0M50.63 952.11h0M51.04 957.01h0M50.43 957.5h0M49.28 953.78h0M51.75 950.39h0M55.93 956.39h0M54.06 956.57h0M49.08 955.83h0M56.08 953.25h0M53.89 954.92h0M54.64 954.08h0M53.17 952.83h0M56 954.25h0M56.12 955.95h0M54.28 948.16h0M55.12 956.64h0M53.38 956.76h0M53.67 957.5h0M53.92 951.06h0M51.91 957.5h0M53.45 957.5h0M54.8 953.46h0M53.61 952.98h0M52.78 953.56h0M56.16 957.5h0M54.23 951.23h0M50.16 954.03h0M55.93 956.18h0M54.13 950.99h0M56.11 948.37h0M51.88 956.79h0M52.77 954.98h0M55.59 955.9h0M50.15 956.8h0M51 953.36h0M52.75 949.95h0M55.51 951.67h0M49.05 955.5h0M49.13 954.63h0M55.13 956.84h0M49.89 952.93h0M50.7 947.6h0M49.18 953.21h0M54.04 957.5h0M56.47 955.8h0M50.23 955.43h0M52.58 950.39h0M51.57 955.39h0M52.96 956.65h0M55.14 954.38h0M49.5 957.5h0M52.43 954.55h0M56.08 955.98h0M55.17 947.57h0M52.51 957.12h0M55.35 955.74h0M54.54 957.5h0M56.62 946.13h0M55.13 948.35h0M51.59 948.3h0M52.33 950.48h0M49.03 954.69h0M49.31 957.5h0M55.1 955.65h0M49.99 951.39h0M54.31 953.12h0M52.74 957.5h0M53.01 956.27h0M54.63 952.95h0M53.28 957.5h0M51.85 953.26h0M55.61 956.1h0M52.99 955.58h0M52.83 955.5h0M49.02 957.5h0M55.21 957.5h0M52.73 954.59h0M52.11 957.5h0M56.19 955.92h0M52.27 952.41h0M56 954.54h0M53.74 953.29h0M49.84 956.23h0M50.62 956.42h0M51.38 954.56h0M54.65 953.02h0M52.88 953.1h0M52.29 952.83h0M52.11 950.09h0M53.85 952.95h0M53.04 956.15h0M50.66 957.5h0M55.28 957.5h0M56.18 955.41h0M56.79 951.4h0M54.61 955.89h0M49.58 952.27h0M49.81 957.5h0M54.28 951.26h0M56.09 952.6h0M49.72 957.5h0M54.29 954.03h0M49.36 950.02h0M52.92 949.84h0M49.97 955.23h0M56.72 952.29h0M49.56 957.5h0M54.92 950.45h0M52.54 953.05h0M48.91 949.86h0M55.55 956.17h0M52.04 948.63h0M50.12 952.57h0M55.21 946.72h0M55.69 954.93h0M52.83 957.5h0M55.24 956.79h0M55.02 949.23h0M52.05 957.16h0M54.94 957.5h0M52.05 957.5h0M52.55 957h0M51.65 952.84h0M56.36 955.97h0M51.5 955.95h0M51.92 957.5h0M53.94 955.99h0M48.98 954.94h0M54.71 957.5h0M50.36 953.31h0M49.59 953.58h0M52.86 950.5h0M53.34 956.6h0M49.41 957.5h0M54.87 957.5h0M52.57 952.34h0M52.76 953.35h0M52.17 957.5h0M53.58 951.15h0M53.29 953.09h0M54.53 949.16h0M49.14 951.58h0M54.84 954.01h0M49.2 949.5h0M56.36 957.5h0M52.62 951.11h0M50.75 956.22h0M52.55 948.96h0M55.33 956.3h0M52.45 957.5h0M49.22 950.94h0M54.14 951.5h0M50.9 951.52h0M53.05 957.5h0M56.42 957.05h0M55.94 954.37h0M53.8 955.88h0M53.32 953.52h0M53.86 957.5h0M56.64 955.18h0M55.83 956.59h0M52.2 951.61h0M49.62 955.24h0M54.21 952.88h0M53.85 954.87h0M51.55 951.81h0M55.51 954.56h0M53.79 949.5h0M50.51 957.5h0M51.75 953.92h0M56.71 957.5h0M56.17 948.6h0M51.75 952.47h0M49.46 953.22h0M52.68 955.2h0M49.41 955.99h0M54.1 948.35h0M54.35 952.34h0M49.94 948.83h0M49.74 953.73h0M53.35 957.4h0M52.3 957.5h0M51.24 956.96h0M55.96 947.5h0M51.69 949.32h0M51.9 951.9h0M53.31 951.53h0M53.3 957.5h0M54.87 952.53h0M52.93 954.39h0M53.34 953.5h0M49.31 957.5h0M55.1 948.99h0M55.99 949.15h0M53.87 951.38h0M50.76 954.11h0M54.92 949.07h0M51.5 953.92h0M54.18 957.5h0M54.47 948.69h0M52.08 955.49h0M55.25 957.5h0M55.91 957.5h0M54.48 956.83h0M52.17 957.38h0M56.73 950.68h0M50.14 949.57h0M56.56 951.6h0M51.27 952.9h0M50.24 950.55h0M52.47 949.29h0M49.67 955.01h0M50.54 953.72h0M50.59 953.27h0M51.05 949.54h0M53.19 954.1h0M52.64 957.13h0M51.54 948.22h0M56.46 949.1h0M56.38 954.04h0M51.88 955.29h0M56.72 951.4h0M50.7 954.51h0M55.17 950.85h0M53.65 954.8h0M50.88 952.51h0M52.93 956.7h0M53.08 956.87h0M54.96 954.13h0M55.38 951.25h0M50.96 948.01h0M52.55 957.37h0M53.49 956.43h0M52.14 956.19h0M49.53 957.5h0M53.01 955.33h0M55.46 949.92h0M51.25 953.72h0M54.52 952.93h0M51.95 953.6h0M56.54 952.69h0M51.82 954.55h0M50.7 954.68h0M56.73 954.71h0M50.45 954.37h0M53.12 955.06h0M51.5 950.89h0M50.4 952.87h0M51.44 956.47h0M51.45 957.5h0M49.54 956.3h0M54.47 949.78h0M52.02 951.24h0M50.61 955.46h0M49.79 953.39h0M52.22 947.02h0M53.98 950.7h0M51.45 955.67h0M48.92 951.06h0M55.12 951.11h0M53.67 957.5h0M54.01 952.65h0M51.82 951.39h0M53.69 952.65h0M54.93 947.76h0M52.8 957.21h0M54.51 953.25h0M55.48 957.5h0M56.36 953.68h0M50.76 954.69h0M54.38 955.56h0M52.5 951.19h0M56.59 952.79h0M53.29 950.56h0M50.91 956.61h0M53.61 957.5h0M55.4 953.92h0M53.39 952.13h0M50.28 955.74h0M50.24 953.44h0M56.32 954.64h0M54.7 956.01h0M53.54 949.26h0M52.54 956.46h0M51.89 954h0M50.91 956.11h0M51.46 957.5h0M49.96 957.5h0M53.6 955.42h0M54.31 950h0M54.81 956.71h0M55.64 947.42h0M52.27 954.02h0M53 957.5h0M56.03 951.8h0M56 948.83h0M53.58 956.05h0M49.36 955.76h0M52.38 949.73h0M54.36 953.32h0M50.71 953.54h0M49.35 952.17h0M56.53 955.74h0M55.24 956.58h0M54.77 951.46h0M55.14 955.5h0M53.1 953.32h0M51.19 956.74h0M49.3 954.24h0M51.65 955.59h0M49.17 957.32h0M52.79 951.78h0M56.62 955.95h0M52.66 879.45h0M51.33 884.33h0M51.78 911.16h0M54.91 919.29h0M54.78 920.91h0M51.28 923.35h0M54.49 930.67h0M52.07 933.11h0M52.66 936.36h0M51.16 939.61h0M54.7 941.24h0M55.28 942.87h0" stroke="#8a8a8a" stroke-opacity="0.6" stroke-width="1.5" stroke-linecap="round"/>
<line x1="52.8" x2="52.8" y1="944.49" y2="957.5" stroke="#444" stroke-width="0.6"/>
<rect x="48.7" y="951.81" width="8.2" height="4.88" fill="#bdbdbd" fill-opacity="0.92" stroke="#333" stroke-width="0.6"/>
<line x1="48.7" x2="56.9" y1="954.25" y2="954.25" stroke="#222" stroke-width="1.1"/>
<path d="M60.53 953.89h0M66.04 952.18h0M64.81 953.83h0M61.5 954.39h0M64.71 951.66h0M60.08 956.82h0M62.56 956.09h0M59.63 957.5h0M64.68 954.39h0M60.57 953.11h0M64.32 954.09h0M65.32 953.44h0M66.08 956.53h0M63.72 952.72h0M66.41 954.45h0M64.34 953.12h0M59.72 955.09h0M66.86 952.08h0M63.25 956.74h0M59.36 953.83h0M61.01 955.87h0M65.43 955.53h0M65.05 953.37h0M60.97 953.87h0M60.49 955.07h0M66.18 952.39h0M62.69 954.18h0M65 954.69h0M63 957.5h0M60.44 951.86h0M61.88 957.13h0M64.27 955.56h0M63.05 954.2h0M65.76 956.81h0M66.61 955.54h0M60.39 956.69h0M63.86 954.45h0M60.88 955.73h0M65.29 957.5h0M65.33 953.5h0M60.77 954.47h0M63.64 952.54h0M63.77 955.15h0M64.72 954.65h0M60.44 957.5h0M60.21 956.29h0M62.48 952.53h0M62.53 954.42h0M59.58 954.92h0M66.26 951.39h0M65.33 956.73h0M60.9 955.62h0M59.34 953.7h0M61.51 953.4h0M61.12 956.27h0M63.44 925.79h0M60.94 926.61h0" stroke="#f5a000" stroke-opacity="0.9" stroke-width="1.8" stroke-linecap="round"/>
<line x1="63" x2="63" y1="949.37" y2="957.5" stroke="#444" stroke-width="0.6"/>
<rect x="58.9" y="952.62" width="8.2" height="4.07" fill="#f2aa3c" fill-opacity="0.92" stroke="#333" stroke-width="0.6"/>
<line x1="58.9" x2="67.1" y1="954.65" y2="954.65" stroke="#222" stroke-width="1.1"/>
<path d="M79.36 947.8h0M74.08 940.74h0M78.33 938.91h0M73.29 937.86h0M76.09 951.81h0M80.56 945.56h0M73.14 939.79h0M80.69 951.81h0M73.96 942.22h0" stroke="#2f2fe6" stroke-opacity="0.9" stroke-width="1.8" stroke-linecap="round"/>
<line x1="76.8" x2="76.8" y1="929.86" y2="951.81" stroke="#444" stroke-width="0.6"/>
<rect x="72.7" y="941.24" width="8.2" height="8.13" fill="#a39ff2" fill-opacity="0.92" stroke="#333" stroke-width="0.6"/>
<line x1="72.7" x2="80.9" y1="942.87" y2="942.87" stroke="#222" stroke-width="1.1"/>
<path d="M83.31 955.06h0M84.92 946.55h0M86.14 946.69h0M85.38 950.1h0M83.27 950.11h0M90.97 947.76h0M84.84 947.96h0M85.03 955.06h0M86.69 951.65h0M90.46 949.6h0M90.85 951.17h0M87.89 945.55h0M88.2 944.24h0M83.47 947.46h0M89.92 952.29h0M87.73 942.92h0M86.14 944.86h0M89.74 951.76h0M84.72 954.17h0M85.78 943.36h0M84.31 946.31h0M84.63 943.49h0M85.47 947.46h0M86.58 943.75h0M89.9 941.94h0M84.64 948.83h0M88.53 949.82h0M85.9 947.41h0M84.46 948.69h0M85.1 947.72h0M88.72 955.06h0M85.15 942.35h0M90.49 950.19h0M85.88 946.62h0M90.26 947.86h0M83.16 955.06h0M83.67 950.45h0M90.06 944.67h0M87.15 951.99h0M83.44 941.85h0M83.33 951.1h0M84.21 946.56h0M85.5 949.48h0M86.39 949.19h0M88.65 950.84h0M85.8 920.1h0" stroke="#96cbe3" stroke-opacity="0.9" stroke-width="1.8" stroke-linecap="round"/>
<line x1="87" x2="87" y1="933.11" y2="955.06" stroke="#444" stroke-width="0.6"/>
<rect x="82.9" y="943.68" width="8.2" height="7.32" fill="#c3e4f0" fill-opacity="0.92" stroke="#333" stroke-width="0.6"/>
<line x1="82.9" x2="91.1" y1="948.56" y2="948.56" stroke="#222" stroke-width="1.1"/>
<path d="M98.53 946.08h0M98.9 943.88h0M96.29 940.43h0M95.96 945.96h0M93.53 940.16h0M99.67 939.78h0M95.58 950.29h0M98.71 948.53h0M100.84 947.1h0M93.92 946.03h0M96.34 936.49h0M97.18 941.16h0M94.47 941.57h0M98.52 941.57h0M93.94 944.72h0M97.86 942.14h0M97.63 946.72h0M96.11 950.52h0M96.43 944.4h0M96.95 937h0M95.23 945.07h0M97.73 937.74h0M98.54 934.48h0M100.84 936.81h0M97.81 943.64h0M98.17 946.3h0M96.52 936.59h0M96.26 939.13h0M93.51 954.85h0M96.08 939.93h0M94.4 945.51h0M95.08 944.03h0M97.55 935.94h0M98.4 944.82h0M98.2 938.02h0M95.87 952.09h0M100.29 930.91h0M98.69 943.26h0M99.8 953.27h0M97.71 940.05h0M95.49 940.27h0M95.19 949.1h0M94.62 944.33h0M93.75 943.72h0M98.84 943.69h0M97.05 935.03h0M100.13 942.08h0M97.26 949.12h0M96.34 946.64h0M95.81 945.4h0M99.27 935.38h0M96.56 948.55h0M98.18 951.33h0M96.22 946.17h0M95.05 947.9h0M100.73 937.03h0M94.27 945.91h0M96.37 951.83h0M101.11 948.93h0M93.54 944.59h0M99.05 942.25h0M93.41 948.75h0M97.06 941.47h0M99.91 941.22h0M96.33 934.83h0M96.31 946.74h0M97.57 957.5h0M94.06 947.28h0M95.21 947.92h0M93.35 941.28h0M94.35 948.51h0M97.06 945.88h0M95.28 940.86h0M95.67 933.15h0M94.66 940.1h0M100.14 941.1h0M96.52 945.23h0M97.6 946.75h0M98.18 946.41h0M101.15 933.7h0M99.87 940.61h0M94.55 945.86h0M93.8 944h0M97.31 945.18h0M94.88 939.91h0M99.68 951.76h0M99.08 945.75h0M99.34 941.46h0M94.01 954.67h0M95.2 952.06h0M93.39 950.06h0M96.15 946.05h0M99.69 950.49h0M95.43 941.52h0M95.77 949.07h0M94.89 940.07h0M97.57 952.79h0M94.34 946.41h0M96.65 942.65h0M95.77 938.94h0M100.82 945.2h0M99.23 941.28h0M101.1 941.55h0M96.47 941.02h0M94.62 946.17h0M95.78 938.59h0M96.06 931.66h0M96.22 949.78h0M94.9 951.32h0M98.23 953.23h0M97.74 937.3h0M96.83 940.3h0M96.55 952.2h0M97.78 944.24h0M93.46 936.89h0M97.96 952h0M94.42 947.63h0M95.7 935.07h0M101.12 945.69h0M101.12 943.11h0M95.07 942.89h0M99.83 952.67h0M97.29 955.34h0M98.89 955.11h0M99.66 940.29h0M94.77 933.09h0M98.35 942.47h0M97.13 934.94h0M99.6 941.58h0M100.45 946.17h0M94.41 951.92h0M95.97 943.92h0M99.87 946.16h0M99.99 942.72h0M100.41 950.07h0M98.23 941.06h0M99.02 945.58h0M93.32 942.05h0M95.72 939.51h0M98.76 946.59h0M94.22 936.93h0M94.13 948.02h0M98.08 945.89h0M98.73 938.56h0M96.08 957.5h0M98.25 942.35h0M99.76 943.39h0M100.73 938.14h0M98.83 943.31h0M100.18 940.8h0M100.04 942.86h0M96.3 957.13h0M98.01 948.74h0M95.45 939.3h0M100.84 942.74h0M95.16 942.13h0M94.26 936.51h0M95.93 945.36h0M100 950.83h0M100.37 947.62h0M96.11 944.49h0M95.95 943.74h0M100.8 953.05h0M96.09 940.58h0M95.73 940.08h0M101.01 956.36h0M96.36 953.94h0M101.18 950.13h0M96.9 937.44h0M101.12 942.86h0M96.16 941.66h0M93.87 937.18h0M98.39 938.97h0M99.69 945.51h0M99.41 949.34h0M100.08 944.21h0M100.37 945.49h0M97.47 940.7h0M99.51 939.06h0M97.74 942.08h0M93.91 945.16h0M95.17 942.34h0M93.63 934.86h0M96.88 937.67h0M94.03 947.32h0M97.4 953.19h0M98.1 931.58h0M93.29 950.62h0M99.75 943.85h0M97.45 946.02h0M94.08 941.75h0M99.98 936.52h0M96.53 943.41h0M100.55 945.1h0M97.11 942.26h0M97.74 954.98h0M100.43 935.41h0M95.27 942.17h0M96.63 935.53h0M96.81 941.12h0M99.89 940.15h0M96.4 937.54h0M93.99 943.93h0M95.04 942.47h0M97.1 950.89h0M93.26 931.73h0M100.89 952.92h0M95.61 940.4h0M97.92 948.23h0M99.23 937.76h0M93.94 945.19h0M96.6 943.9h0M96.42 954.65h0M101.07 944.18h0M95.83 947.33h0M98.34 940.65h0M99.31 935.3h0M100.62 939.68h0M93.38 950.03h0M93.24 945.42h0M96.55 952.26h0M93.8 957.03h0M96.72 946.51h0M96.7 949.45h0M95.76 940.57h0M99.87 947.67h0M97.58 946.44h0M100.83 941.34h0M100.58 948.39h0M99.91 938.63h0M100.19 941.35h0M96.22 938.78h0M100.63 946.41h0M99.43 943.01h0M99.14 939.54h0M95.97 941.7h0M96 943.14h0M97.79 950.51h0M96.07 945.96h0M95.82 957.5h0M95.07 947.12h0M95.26 944.3h0M99.8 937.18h0M98.14 943.91h0M101.01 950.81h0M95.05 951.17h0M94.02 946.98h0M98.79 944.34h0M97.61 946.46h0M99.32 936.4h0M93.98 955.87h0M97.48 946h0M94.17 948.76h0M100.59 955.14h0M96.11 950.91h0M100.06 946.16h0M95.32 949.6h0M95.23 937.6h0M95.22 944.31h0M95.48 940.33h0M97.27 944.83h0M100.04 950.91h0M97.55 954.15h0M100.55 952.88h0M95.28 946.98h0M99.5 939.83h0M96.82 943h0M97.25 943.35h0M95.99 957.5h0M100.72 942.43h0M93.77 946.1h0M94.16 950.77h0M95.67 949.38h0M93.74 952.56h0M97.77 941.81h0M99.48 949.42h0M93.82 934h0M96.03 942.25h0M94.78 938.29h0M93.83 950.6h0M97.66 941.72h0M95.6 947.94h0M98.82 944.04h0M100.6 957.5h0M100.68 947.25h0M98.69 936.96h0M98.11 945.76h0M100.88 950.78h0M94.09 941.39h0M93.46 946.43h0M98.71 945.62h0M99.66 936.07h0M93.74 940.22h0M96.46 955.19h0M95.97 943.48h0M97.89 944.69h0M95.88 940.46h0M100.25 949.01h0M94.4 944.03h0M95.86 934.45h0M98.43 943.86h0M100.22 940.55h0M95.06 944.62h0M98.59 940.47h0M97.52 952.77h0M94.94 944.91h0M101.12 940.63h0M101.12 936.77h0M94.28 934.5h0M99.52 946.27h0M95.5 939.73h0M99.75 945.63h0M97.19 938.2h0M94.35 932.57h0M100.23 939.78h0M100.65 949.7h0M98.92 942.91h0M98.63 946.31h0M99.01 947.98h0M94.16 950.19h0M96.07 893.27h0M99.39 900.59h0M95.06 901.4h0M95.62 911.16h0M96.44 912.78h0M94.95 914.41h0M96.23 916.85h0M95.61 918.48h0M95.31 920.91h0" stroke="#8a8a8a" stroke-opacity="0.6" stroke-width="1.5" stroke-linecap="round"/>
<line x1="97.2" x2="97.2" y1="929.04" y2="956.69" stroke="#444" stroke-width="0.6"/>
<rect x="93.1" y="941.24" width="8.2" height="8.13" fill="#bdbdbd" fill-opacity="0.92" stroke="#333" stroke-width="0.6"/>
<line x1="93.1" x2="101.3" y1="945.3" y2="945.3" stroke="#222" stroke-width="1.1"/>
<path d="M107.62 946.53h0M109.5 953.25h0M107.61 949.17h0M105.18 946.03h0M104.01 948.33h0M110.79 950.45h0M107.43 940.83h0M107.95 945.64h0M105.76 944.42h0M107.08 944.62h0M108.22 957.5h0M104.93 944.96h0M110.95 951.79h0M109.5 946.78h0M106.6 947.88h0M104.78 945.26h0M109.29 946.91h0M105.16 947.54h0M109.79 946.9h0M107.12 954.13h0M104.86 947.71h0M103.73 944.02h0M105.48 947.39h0M107.18 950.84h0M108.39 950.61h0M110.47 949.43h0M108.05 943.98h0M107.08 952.49h0M106.06 945.02h0M110.89 945h0M110.22 949.4h0M107.47 945.82h0M111.28 949.51h0M109.19 948.39h0M105.28 945.13h0M110.98 949.97h0M105.67 949.03h0M106.18 942.25h0M107.87 943.91h0M107.51 957.5h0M106.43 947.57h0M105.55 942.6h0M107.99 947.69h0M104.12 951.05h0M107.38 951.35h0M111.16 953.99h0M105.64 947.03h0M109.8 949.47h0M105.28 947.09h0M105.44 944h0M110.62 954.65h0M107.84 952.37h0M110.97 947.86h0M105.72 952.77h0M110.13 947.42h0M107.42 903.03h0M106.61 927.42h0M105.88 928.23h0" stroke="#f5a000" stroke-opacity="0.9" stroke-width="1.8" stroke-linecap="round"/>
<line x1="107.4" x2="107.4" y1="933.11" y2="957.5" stroke="#444" stroke-width="0.6"/>
<rect x="103.3" y="943.68" width="8.2" height="7.32" fill="#f2aa3c" fill-opacity="0.92" stroke="#333" stroke-width="0.6"/>
<line x1="103.3" x2="111.5" y1="947.74" y2="947.74" stroke="#222" stroke-width="1.1"/>
<path d="M123.63 947.65h0M125.03 946.12h0M123.58 946.12h0M122.89 950.22h0M118.61 947.11h0M123.72 952.23h0M124.56 949.1h0M117.38 947.01h0M123.53 950.56h0M121.75 941.24h0M123.26 957.5h0" stroke="#2f2fe6" stroke-opacity="0.9" stroke-width="1.8" stroke-linecap="round"/>
<line x1="121.2" x2="121.2" y1="946.12" y2="952.62" stroke="#444" stroke-width="0.6"/>
<rect x="117.1" y="947.74" width="8.2" height="2.44" fill="#a39ff2" fill-opacity="0.92" stroke="#333" stroke-width="0.6"/>
<line x1="117.1" x2="125.3" y1="948.56" y2="948.56" stroke="#222" stroke-width="1.1"/>
<path d="M134.86 947.89h0M132.74 948.24h0M128.28 948.38h0M129.89 943.33h0M128.89 948.24h0M135.28 949.01h0M132.38 951.22h0M127.87 945.25h0M134.34 945.24h0M134.39 947.29h0M131.95 951.57h0M131.34 944.81h0M130.48 948.83h0M128.69 948.03h0M133.77 947.37h0M133.6 947.32h0M132.96 944.58h0M129.58 949.65h0M128.9 947.93h0M134.94 949.75h0M130.04 950.42h0M129.72 943.41h0M135.02 949.88h0M133.59 951.81h0M130.07 951.58h0M131.3 948.23h0M127.68 945.12h0M131.18 945.98h0M133.36 949.81h0M132.05 947.74h0M129.33 946.28h0M127.82 948.14h0M130.24 947.01h0M132.52 951.81h0M130.72 948.65h0M131.19 949.08h0M135.07 946.85h0M132.89 946.06h0M133.5 946.12h0M134.91 950.7h0M134.62 948.81h0M135.38 947.76h0M131.62 945h0M127.86 946.35h0M128.6 944.27h0" stroke="#96cbe3" stroke-opacity="0.9" stroke-width="1.8" stroke-linecap="round"/>
<line x1="131.4" x2="131.4" y1="941.24" y2="951.81" stroke="#444" stroke-width="0.6"/>
<rect x="127.3" y="946.12" width="8.2" height="3.25" fill="#c3e4f0" fill-opacity="0.92" stroke="#333" stroke-width="0.6"/>
<line x1="127.3" x2="135.5" y1="947.74" y2="947.74" stroke="#222" stroke-width="1.1"/>
<path d="M143.41 947.68h0M143.74 939.87h0M141.06 947.94h0M141.4 942.18h0M138.17 947.8h0M143.16 945.95h0M142.19 943.66h0M140.82 949.46h0M137.97 948.86h0M138.63 951.12h0M138.18 946.12h0M141.35 946.8h0M141.49 938.56h0M140.12 948.8h0M139.37 949h0M141.67 948.87h0M139.66 939.42h0M143.26 951.06h0M141.22 943.74h0M142.59 943.35h0M141.24 944.38h0M144.64 939.67h0M145.41 940.13h0M140.81 951.94h0M143.39 947.09h0M142.85 949.72h0M139.41 951.39h0M141.91 948.86h0M137.73 949.8h0M143.73 941.02h0M140.79 944.54h0M139.17 948.47h0M144.17 951.03h0M140.73 948.55h0M143.57 948.26h0M139.61 952.42h0M145.5 950.8h0M143.85 944.83h0M139.8 945.32h0M141.83 955.01h0M144.75 943.81h0M139.91 950.98h0M142.45 948.57h0M141.84 945.72h0M140.42 954.41h0M138.2 950.42h0M144.23 944.49h0M139.79 940.54h0M140.6 945.97h0M138.79 947.1h0M139.6 939.68h0M138.54 939.46h0M139.72 944.93h0M143.16 939.88h0M139.29 943.21h0M143.19 952.93h0M141.39 944.66h0M141.13 944.76h0M145.5 951.07h0M139.38 944.32h0M140.33 951.98h0M141.05 937.58h0M138.97 951.25h0M143.25 943.52h0M139.41 940.21h0M139.43 940.83h0M138.1 951.85h0M141.95 948.43h0M140.42 947.76h0M142.4 947.5h0M137.77 948.36h0M139.01 947.52h0M140.18 943.5h0M139.91 940.95h0M139.59 948.87h0M139.69 943.61h0M139.75 944.71h0M144.37 941.37h0M144.7 943.08h0M142.58 947.14h0M140.91 948.32h0M141.63 942h0M143.91 941.5h0M139.39 947.67h0M143.97 946.57h0M139.88 947.74h0M143.07 941.16h0M143.56 951.59h0M144.64 942.4h0M144.94 949.47h0M145.37 949.17h0M141.72 945.41h0M145.52 943.44h0M145.55 942.82h0M142.72 944.28h0M142.1 943.37h0M142.34 952.12h0M138.99 949.16h0M139.33 941.5h0M141.95 943.01h0M137.74 941.35h0M142.85 943.97h0M140.27 940.13h0M142.07 949.42h0M144.12 944.65h0M143.67 948.9h0M138.72 939.12h0M137.84 945.23h0M140.17 935.82h0M144.22 945.07h0M145.08 942.85h0M142.11 942.29h0M143.32 945.41h0M141.56 943.88h0M144.94 947.1h0M138.13 949.62h0M144.36 946.63h0M145.44 949.68h0M143.34 949.21h0M138.07 943.77h0M137.99 942.83h0M145.46 943.27h0M142.34 945.71h0M139.04 948.59h0M142.12 939.31h0M139.12 946.92h0M137.87 952.81h0M141.34 942.72h0M143.69 950.96h0M138.01 950.7h0M137.9 948.12h0M144.62 944.8h0M144.37 945.75h0M144.93 947.46h0M139.13 944.14h0M139.2 944.54h0M141.88 947.93h0M138.8 944.57h0M141.39 950.23h0M142.52 946.71h0M144.7 946.62h0M140.74 947.32h0M140.67 944.72h0M140.58 947.59h0M139.88 947.74h0M143.6 946.23h0M139.09 949.3h0M144.42 937.27h0M143.52 954h0M140.5 952.98h0M142.22 953.81h0M145.59 948.76h0M138.75 951.65h0M142.11 937.5h0M142.63 946.62h0M140.18 945.36h0M144.46 948.24h0M139.7 950.32h0M144.39 945.93h0M142.05 944.21h0M137.62 946.73h0M139.8 946.93h0M143.33 947.73h0M141.45 945.68h0M140.97 951.78h0M140.78 938.73h0M143.08 946.67h0M143.86 941.95h0M138.9 948.27h0M140.91 941.01h0M143 946.23h0M138.07 951.24h0M144.2 942.1h0M141.98 947.75h0M142.73 948.06h0M139.43 945.36h0M141.85 946.07h0M142.43 945.55h0M142.97 947.87h0M144.67 948.33h0M143.02 952.71h0M139.9 950.21h0M137.69 949.45h0M139.71 943.21h0M138.07 950.91h0M142.46 946.61h0M139.92 952.83h0M141.65 946.46h0M141.47 952.85h0M141.44 940.74h0M140.8 945.55h0M143.02 946.93h0M142.42 944.15h0M141.16 949.75h0M139.31 940.61h0M144.69 940.02h0M144.72 945.3h0M138.12 948.26h0M142.44 947.75h0M145.08 942.2h0M138.47 942.12h0M142.82 940.81h0M139.25 940.52h0M142.43 942.31h0M139.27 943.78h0M138.19 953.99h0M140.16 951.32h0M144.83 948.39h0M138.72 950.75h0M145.2 945.59h0M140.14 946.96h0M143.55 941.27h0M143.17 948.73h0M141.31 949.91h0M144.21 944.68h0M142.76 945.39h0M145.4 945.04h0M138.63 948.45h0M143.76 950.68h0M144.61 949.58h0M140.59 950.95h0M140.53 943.36h0M144.37 948.8h0M143.01 949.41h0M139.61 950.54h0M138.41 942.72h0M140.63 949.42h0M138.74 945.13h0M139.64 948.02h0M139.41 947.81h0M139.21 949.2h0M141 942.89h0M142.71 946.79h0M140.21 947.75h0M143.94 945.62h0M137.72 947.85h0M137.88 943.74h0M140.43 944.65h0M144.54 951.73h0M138.61 952.75h0M138.38 950.52h0M140.88 943.87h0M144.78 941.07h0M143.66 947.15h0M142.95 952.63h0M141.84 945.62h0M143.11 939.9h0M143.91 947.44h0M137.98 948.49h0M145.27 945.56h0M142.12 942.29h0M143.83 945.06h0M137.61 942.37h0M138.34 940.28h0M143.75 949.31h0M142.94 948.04h0M141.3 943.94h0M143 946.54h0M141.86 945h0M137.62 948.61h0M138.87 948.6h0M145.42 949.73h0M145.1 946.62h0M138.56 938.68h0M144.88 945.8h0M138.62 937.4h0M143.36 946.57h0M141.1 951.74h0M141.24 942.72h0M143.29 947.57h0M137.96 944.65h0M140.47 945.91h0M145.14 942.8h0M137.84 948.61h0M138.7 944.31h0M144.31 949.05h0M137.72 945.99h0M139.45 948.34h0M139.11 947.28h0M143.75 945.13h0M140.44 948.12h0M143.95 942.3h0M142.41 943.2h0M145.1 953.89h0M144.04 943.94h0M140.02 946.77h0M139.23 943.34h0M144.52 951.2h0M139.94 943.45h0M145.14 945.78h0M139.56 947.47h0M140.32 948.09h0M140.9 945.6h0M140.8 946.37h0M143 947.09h0M141.53 946.13h0M139.97 946.75h0M138.52 945.48h0M144.63 946.05h0M141.15 946.82h0M143.88 944.89h0M141.55 947.16h0M143.94 946.89h0M144.75 950.87h0M141.87 948.64h0M141.8 950.22h0M143.62 947.62h0M142.39 947.78h0M140.6 950.53h0M138.92 948.09h0M141.51 950.37h0M140.06 951.33h0M143.47 949.31h0M143.82 947.04h0M143.45 940.79h0M145.08 943.51h0M140.31 941.93h0M144.68 945.86h0M139.79 949.51h0M138.48 949.48h0M140.77 877.83h0M141.15 899.78h0M141.46 904.65h0M141.28 906.28h0M142.08 911.16h0M143.8 913.6h0M143.76 920.91h0M143.64 923.35h0M143.24 924.98h0" stroke="#8a8a8a" stroke-opacity="0.6" stroke-width="1.5" stroke-linecap="round"/>
<line x1="141.6" x2="141.6" y1="934.74" y2="957.5" stroke="#444" stroke-width="0.6"/>
<rect x="137.5" y="944.49" width="8.2" height="4.88" fill="#bdbdbd" fill-opacity="0.92" stroke="#333" stroke-width="0.6"/>
<line x1="137.5" x2="145.7" y1="946.93" y2="946.93" stroke="#222" stroke-width="1.1"/>
<path d="M151.48 947.52h0M152.95 946.12h0M155.73 949.34h0M150.3 949.01h0M149.48 946.79h0M153.65 947.63h0M149.7 947.4h0M149.74 948.28h0M149.91 946.68h0M148.62 952.31h0M153.53 942.02h0M151.58 948.95h0M151.87 947.82h0M149.97 951.49h0M150.39 950.94h0M152.91 948.25h0M149.49 944.22h0M149.61 943.09h0M155.2 942.54h0M154.53 949.07h0M152.33 945.38h0M148.39 951.06h0M154.5 948.22h0M148.15 951.89h0M151.7 944.45h0M154.95 946.41h0M153.2 945.36h0M153.12 947.88h0M152.92 948.47h0M148.34 949.72h0M154.22 944.9h0M151.5 949.81h0M153.24 947.07h0M152.19 945.43h0M150.98 947.6h0M149.76 947.62h0M151.13 947.52h0M153.36 946.21h0M147.97 944.93h0M154.74 949.46h0M152.71 950.5h0M150.63 950h0M153.11 948.19h0M148.23 947.03h0M153.14 949.77h0M152.65 952.13h0M154.3 945.76h0M155.72 952.94h0M152.71 948.11h0M152.91 947.65h0M150.71 945.77h0M147.84 950.03h0M155.68 946.25h0M152.55 950.43h0M155.73 945.47h0M151.61 905.47h0M153.79 933.11h0M151.28 937.17h0M149.36 957.5h0" stroke="#f5a000" stroke-opacity="0.9" stroke-width="1.8" stroke-linecap="round"/>
<line x1="151.8" x2="151.8" y1="941.24" y2="957.5" stroke="#444" stroke-width="0.6"/>
<rect x="147.7" y="946.12" width="8.2" height="3.25" fill="#f2aa3c" fill-opacity="0.92" stroke="#333" stroke-width="0.6"/>
<line x1="147.7" x2="155.9" y1="947.74" y2="947.74" stroke="#222" stroke-width="1.1"/>
<path d="M164.21 957.5h0M164.76 957.5h0M163.8 951h0M164.04 956.24h0M164.76 956.8h0M164.98 953.77h0M168.02 953.79h0M163.17 957.5h0M165.85 951h0M164.23 943.68h0" stroke="#2f2fe6" stroke-opacity="0.9" stroke-width="1.8" stroke-linecap="round"/>
<line x1="165.6" x2="165.6" y1="951" y2="957.5" stroke="#444" stroke-width="0.6"/>
<rect x="161.5" y="952.62" width="8.2" height="4.88" fill="#a39ff2" fill-opacity="0.92" stroke="#333" stroke-width="0.6"/>
<line x1="161.5" x2="169.7" y1="955.87" y2="955.87" stroke="#222" stroke-width="1.1"/>
<path d="M178.96 954.83h0M174.13 956.52h0M173.93 957.5h0M176.08 956.49h0M174.08 954.82h0M178.32 955.87h0M176.56 956.26h0M178.73 957.5h0M172.84 956.73h0M177.78 957.43h0M178 953.15h0M173.06 957.5h0M176.64 957.5h0M172.88 957.5h0M173.95 954.12h0M179.65 957.2h0M177.15 957.31h0M173.88 956.13h0M176.66 956.32h0M174.36 954.86h0M179.73 957.5h0M178.91 957.5h0M178.39 955.21h0M172.52 957.48h0M172.59 957.44h0M179.39 957.11h0M176.02 954.25h0M171.81 954.19h0M178.89 956.48h0M178.35 957.44h0M172.02 957.5h0M177.4 956.63h0M179.2 954.09h0M177.22 956.03h0M177.41 954.08h0M174.43 954.34h0M175.11 956.3h0M176.01 957.5h0M178.91 956.98h0M174.6 954.9h0M173.32 956.41h0M171.81 957.5h0M179.65 953.12h0M176.51 957.5h0M172.19 955.48h0M176.36 920.91h0M176.41 941.24h0M178.08 944.49h0" stroke="#96cbe3" stroke-opacity="0.9" stroke-width="1.8" stroke-linecap="round"/>
<line x1="175.8" x2="175.8" y1="951.81" y2="957.5" stroke="#444" stroke-width="0.6"/>
<rect x="171.7" y="955.06" width="8.2" height="2.44" fill="#c3e4f0" fill-opacity="0.92" stroke="#333" stroke-width="0.6"/>
<line x1="171.7" x2="179.9" y1="956.69" y2="956.69" stroke="#222" stroke-width="1.1"/>
<path d="M183.87 954.85h0M185.95 955.23h0M184.94 955.01h0M186.26 957.5h0M182.24 948.16h0M187.62 956.41h0M187.5 954.85h0M183.25 956.13h0M189.33 957.5h0M184.95 956.61h0M182.54 956.07h0M184.83 946.98h0M184.85 953.45h0M187.26 950.22h0M186.28 953.36h0M184.1 948.29h0M183.95 957.41h0M186.43 955.77h0M187.72 955.51h0M183.59 956.45h0M184.25 952.88h0M185.33 957.5h0M182.97 952.2h0M185.12 957.5h0M183.36 957.5h0M182.03 957.38h0M182.67 954.78h0M182.92 957.5h0M183.1 957.5h0M188.41 950.54h0M183.1 957.5h0M182.23 952.66h0M187.45 957.5h0M188.68 957.5h0M188.45 956.25h0M188.11 955.02h0M189.89 954.62h0M189.75 947.73h0M189.06 957.5h0M182.51 956.32h0M189.62 957.5h0M182.52 952.34h0M182.64 951.27h0M188.83 952.84h0M185.53 949.2h0M185.26 954.46h0M185.67 950.24h0M185.4 954.55h0M188.62 954.63h0M183.28 957.5h0M188.72 951.66h0M182.38 957.5h0M185.45 950.84h0M184.08 957.5h0M186.47 953.79h0M183.64 953.12h0M182.23 954.59h0M182.12 956.81h0M183.97 956.86h0M184.24 957.5h0M184.32 957.5h0M187.43 956.12h0M184.77 957.5h0M187.17 957.46h0M182.91 954.17h0M182.8 953.32h0M183.14 957h0M189.46 956.2h0M188.68 957.5h0M186.98 957.5h0M184.59 957.5h0M187.14 952.82h0M187.76 956.63h0M185.47 951.66h0M186.38 956.26h0M187.43 951.41h0M186.42 957.5h0M189.09 952.44h0M184.35 957.5h0M183.43 957.5h0M182.68 956.17h0M183.55 955.33h0M186.19 952.91h0M187 952.09h0M186.9 951.15h0M183.72 949.22h0M186.68 956.68h0M188.15 957.5h0M184.98 952.11h0M183.48 955.18h0M189.86 957.5h0M185.08 949.65h0M182.14 955.7h0M188.26 956.51h0M187.94 949.81h0M187.34 957.5h0M182.72 957.5h0M189.76 956.59h0M183.33 951.35h0M189.11 954.18h0M187.7 953.78h0M182.71 940.81h0M182.05 956.73h0M187.1 957.5h0M183.31 953.22h0M182.91 947.46h0M185.77 952.61h0M184.59 956.71h0M186.79 957.5h0M182.37 947.28h0M185.9 957.27h0M185.5 954.12h0M186.81 953.14h0M188.36 952.18h0M183.9 957.5h0M184.04 957.5h0M185.49 956.49h0M184.12 956.05h0M185.51 957.5h0M186.38 951.07h0M189.6 957.22h0M182.12 957.5h0M188.55 948.59h0M185.96 953.14h0M182.16 956.14h0M184.52 954.4h0M189.75 955.76h0M189.28 957.5h0M183.92 957.5h0M189.39 953.73h0M183.6 955.6h0M186.7 954.66h0M183.93 952.51h0M183.82 949.06h0M186.69 956h0M189.97 957.5h0M186.08 955.76h0M182.82 950.33h0M182.67 952.6h0M188.14 954.71h0M183.18 952.58h0M185.56 957.5h0M187.62 955.67h0M188.24 956.27h0M183.03 952.58h0M184.27 953.58h0M185.47 957.5h0M188.15 957.5h0M185.19 954.21h0M187.5 950.39h0M186.2 947.4h0M182.05 949.9h0M186.1 951.02h0M185.23 955.49h0M186.78 952.48h0M188.27 953.97h0M182.84 957.5h0M189.58 955.8h0M187.91 952.11h0M183.77 954.33h0M182.2 954.24h0M182.1 957.5h0M187.3 956.37h0M183.86 955.7h0M188.14 956.75h0M186.83 947.86h0M183.48 955.46h0M186.77 953.8h0M187.09 950.83h0M188.74 957.35h0M189.04 952.23h0M187.52 957.5h0M183.98 957.5h0M186.9 954.08h0M186.86 953.01h0M187.57 955.62h0M184.55 957.5h0M187.06 951.39h0M188.14 956.68h0M185.59 956.84h0M187.21 944.07h0M186.46 953.65h0M184.91 951.79h0M189.61 954.98h0M189.22 950.87h0M182.15 956.36h0M182.55 957.5h0M188.59 949.67h0M183.43 957.2h0M185.97 952.26h0M184.31 957.16h0M182.47 957.02h0M186.69 957.28h0M187.78 957.5h0M188.99 957.5h0M186.8 954.39h0M187.43 957.5h0M183.64 951.16h0M187.03 956.78h0M185.76 957.5h0M184.82 954.79h0M182.95 956.94h0M186.2 953.12h0M186.87 957.5h0M184.29 957.5h0M183.95 957.5h0M187.46 957.5h0M185.08 955.57h0M184.68 953.29h0M182.75 953.47h0M184.83 957.5h0M189.04 957.5h0M188.73 957.5h0M186.74 957.5h0M184.92 953.92h0M188.03 955.48h0M185.38 955.49h0M183.18 952.42h0M183.88 957.5h0M185.59 957.5h0M184.48 950.09h0M186.28 956.89h0M189.52 957.31h0M185.96 952.45h0M187.4 957.5h0M184.43 953.22h0M184.3 955.01h0M188.06 950.5h0M182.75 954.98h0M185.92 957.01h0M188.28 954.7h0M182.22 951.59h0M185.12 956.21h0M186.32 957.5h0M182.59 952.94h0M186.36 957.5h0M186.81 957.5h0M185.55 952.85h0M182.34 957.5h0M185.83 950.11h0M188.25 950.94h0M182.02 954.75h0M182.29 951.55h0M189.53 957.5h0M187.45 952h0M185.27 950.21h0M184.75 957.14h0M185.42 956.59h0M182.44 950.87h0M185.81 955.3h0M186.88 957.26h0M185.1 956.68h0M188.04 944.22h0M186.45 952.38h0M188.89 956.24h0M187.28 955.22h0M186.92 956.77h0M183.43 951.28h0M188.36 955.56h0M188.65 949.88h0M183.44 956.65h0M185.68 957.04h0M184.13 951.03h0M187.16 955.23h0M184.01 956.47h0M189.42 957.5h0M185.73 957.08h0M182.56 956h0M187.98 957.5h0M183.4 957.5h0M186.97 957.5h0M187.86 957.5h0M182.31 953.94h0M183.84 952.08h0M188.7 950.84h0M188.01 956.36h0M183.38 952.97h0M183.29 954.71h0M188.1 956.04h0M189.76 948.09h0M186.53 957.5h0M188.65 955.47h0M186.02 957.5h0M187.1 957.5h0M186.7 956.48h0M189.03 956.55h0M182.23 946.44h0M186.47 957.5h0M188.08 957.5h0M183.73 953.48h0M184.9 951.71h0M182.44 957.5h0M188.03 956.54h0M184.25 956.07h0M184.38 954.3h0M185.61 955.99h0M182.23 955.14h0M182.56 957.5h0M186.18 957.5h0M185.87 955.44h0M186.68 953.31h0M184.07 956.4h0M183.63 957.5h0M186.25 956.24h0M189.89 957.5h0M187.01 957.05h0M183.42 953.14h0M189.37 953.29h0M186.25 957.5h0M182.89 955.25h0M184.38 956.57h0M188.2 951.53h0M189.75 955.33h0M182.2 949.51h0M184.71 956.44h0M182.69 956.71h0M189.54 956.33h0M188.22 956.89h0M188.26 955.5h0M183.14 957.19h0M183.91 926.61h0M185.66 929.04h0M184.94 930.67h0M188.27 933.11h0M183.74 937.17h0" stroke="#8a8a8a" stroke-opacity="0.6" stroke-width="1.5" stroke-linecap="round"/>
<line x1="186" x2="186" y1="941.24" y2="957.5" stroke="#444" stroke-width="0.6"/>
<rect x="181.9" y="951.81" width="8.2" height="5.69" fill="#bdbdbd" fill-opacity="0.92" stroke="#333" stroke-width="0.6"/>
<line x1="181.9" x2="190.1" y1="955.87" y2="955.87" stroke="#222" stroke-width="1.1"/>
<path d="M198.27 957.14h0M199.58 956.06h0M193.96 956.1h0M195.39 957.5h0M195 957.5h0M195.18 954.89h0M197.01 954.51h0M195.59 956.38h0M195.02 957.35h0M193.78 954.37h0M195.87 957.5h0M192.76 954.5h0M193.3 956.49h0M193.9 957.5h0M196.87 956.81h0M192.62 957.5h0M198.93 954.05h0M194.53 957.5h0M197.22 956.33h0M193.97 953.35h0M195.48 954.42h0M199.89 954.87h0M193.69 955.8h0M197.32 955.68h0M193.34 954.62h0M194.12 956.21h0M192.42 954.24h0M198.65 957.5h0M199.04 957.5h0M197 956.32h0M197.13 955.15h0M194.07 957.5h0M194.11 957.5h0M196.85 956.14h0M192.89 956.37h0M193.37 953.39h0M199.93 957.5h0M195.27 956.83h0M195.09 956.82h0M194.15 956.93h0M192.34 956.05h0M194.05 957.5h0M199.59 956.02h0M198.61 955.07h0M195.03 957.5h0M195.02 956.63h0M198.12 957.5h0M195.55 957.36h0M193.11 955.78h0M196.18 956.96h0M198.67 957.5h0M198.01 957.5h0M197.74 957.5h0M199.55 956.85h0M196.96 957.5h0M197 942.05h0M196.45 943.68h0M196.37 944.49h0" stroke="#f5a000" stroke-opacity="0.9" stroke-width="1.8" stroke-linecap="round"/>
<line x1="196.2" x2="196.2" y1="951.81" y2="957.5" stroke="#444" stroke-width="0.6"/>
<rect x="192.1" y="955.06" width="8.2" height="2.44" fill="#f2aa3c" fill-opacity="0.92" stroke="#333" stroke-width="0.6"/>
<line x1="192.1" x2="200.3" y1="956.69" y2="956.69" stroke="#222" stroke-width="1.1"/>
<path d="M207.52 945.2h0M210.01 947.6h0M211.09 948.24h0M206.02 943.71h0M209.17 946.15h0M211.44 943.98h0M211.52 947.98h0M213.79 946.73h0M210.91 944.39h0" stroke="#2f2fe6" stroke-opacity="0.9" stroke-width="1.8" stroke-linecap="round"/>
<line x1="210" x2="210" y1="942.05" y2="951.81" stroke="#444" stroke-width="0.6"/>
<rect x="205.9" y="945.3" width="8.2" height="4.07" fill="#a39ff2" fill-opacity="0.92" stroke="#333" stroke-width="0.6"/>
<line x1="205.9" x2="214.1" y1="946.93" y2="946.93" stroke="#222" stroke-width="1.1"/>
<path d="M221.1 948.53h0M224.11 952.79h0M223.18 950.27h0M221.54 953.43h0M222.64 948.58h0M217.9 949.34h0M218.06 950.19h0M218.01 948.1h0M220.08 953.43h0M220.9 947.48h0M223.35 952.43h0M223.93 949.33h0M218.53 950.63h0M218.55 952.95h0M218.65 952.6h0M224.01 946.96h0M216.95 952.36h0M223.85 952.71h0M222 952.75h0M217.59 950.37h0M218.27 949.19h0M217.39 951.93h0M216.89 951.01h0M217.19 951.77h0M220.31 953.43h0M220.48 948.12h0M222.69 950.44h0M222.39 945.77h0M222.09 949.52h0M223.72 951.59h0M216.69 948.05h0M223.82 947.45h0M217.39 948.63h0M222.51 949.26h0M220.71 947.93h0M217.79 950.57h0M220.89 950.79h0M216.92 950.34h0M218.72 951.13h0M217.56 951.88h0M216.79 949.17h0M221.27 953.43h0M223.55 953.43h0M219.12 948.06h0M222.98 948.01h0M220.69 942.05h0" stroke="#96cbe3" stroke-opacity="0.9" stroke-width="1.8" stroke-linecap="round"/>
<line x1="220.2" x2="220.2" y1="945.3" y2="953.43" stroke="#444" stroke-width="0.6"/>
<rect x="216.1" y="948.56" width="8.2" height="2.44" fill="#c3e4f0" fill-opacity="0.92" stroke="#333" stroke-width="0.6"/>
<line x1="216.1" x2="224.3" y1="950.18" y2="950.18" stroke="#222" stroke-width="1.1"/>
<path d="M227.5 953.61h0M227.08 943.99h0M229.24 949.15h0M233.51 943.09h0M226.86 948.05h0M232.13 951.39h0M230.64 947.2h0M228.65 947.27h0M233.82 943.55h0M229.2 947.12h0M228.09 948.29h0M229.76 945.14h0M230.17 952.56h0M228.44 950.2h0M230.03 948.32h0M228.73 947.08h0M226.72 947.05h0M228.51 944.12h0M233.5 945.8h0M227.9 943.86h0M233.08 941.79h0M226.54 948.8h0M226.45 946.6h0M227.42 945.32h0M227.8 949.07h0M227.3 950.56h0M234.36 948.06h0M232.29 950.3h0M231.48 939.38h0M226.79 947.25h0M234.39 941.45h0M228.34 948.96h0M228.06 949.06h0M232.77 948.98h0M233.89 948.82h0M232.57 947.9h0M233.75 944.2h0M229.56 948.77h0M228.97 949.55h0M229.61 945.6h0M230.23 942.08h0M228.5 947.27h0M229.82 948.84h0M227.41 949.57h0M229.66 943.02h0M228.45 949.91h0M230.76 953.16h0M232.92 944.76h0M234.07 951.9h0M232.72 943.16h0M228.9 950.69h0M232.66 949.51h0M232.05 951.34h0M226.57 946.62h0M229.06 949.27h0M232.9 943.01h0M230.1 947.6h0M231.45 952.2h0M228.74 949.39h0M232.43 945.12h0M234.2 952.46h0M232.3 951.02h0M227.24 945.09h0M229.38 950.06h0M229.09 944.69h0M231.47 950h0M231.91 947.94h0M230.36 949.18h0M226.84 941.97h0M232.75 944.41h0M228.77 946.69h0M227.17 950.74h0M232.24 949.04h0M231.38 945.36h0M231.29 946.67h0M226.7 944.38h0M228.07 946.67h0M228.26 949.96h0M233.46 944.08h0M231.12 950.04h0M229.45 949.64h0M233.94 950.08h0M227.13 950.04h0M228.25 946.17h0M233.69 950.42h0M228.05 944.38h0M230.14 943.14h0M227.86 952.37h0M232.24 947.66h0M231.64 950.43h0M229.4 941.96h0M234.39 940.6h0M231.39 949.46h0M228.6 944.68h0M227.1 947.77h0M230.46 943.11h0M232.33 949.24h0M230.48 943.34h0M227.32 947.65h0M229.16 948.44h0M227.37 948.27h0M234.28 949.49h0M233.43 949.59h0M227.59 946.74h0M233.16 953.8h0M232.27 946.74h0M232.5 953.62h0M232.02 952.25h0M230.97 941.17h0M229.98 944.91h0M233.87 949.25h0M228.19 951.17h0M233.9 948.74h0M233.18 948.26h0M228.14 947.26h0M232.77 950.37h0M228.69 949.54h0M232.74 947.61h0M230.64 953.33h0M232.95 948.83h0M233.05 945.54h0M226.64 942.23h0M233.21 949.17h0M227.71 949.96h0M227.68 945.82h0M228.12 951.31h0M232.01 949.68h0M233.72 947.95h0M233.17 946.34h0M233.69 947.19h0M232.19 948.02h0M228.97 948.85h0M233.11 949.3h0M232.81 947.88h0M232.93 947.21h0M226.58 946.35h0M233.27 943.32h0M232.34 944.03h0M226.96 948.02h0M229.79 943.33h0M229.62 943.4h0M233.02 946.69h0M228.57 949.01h0M229.5 949.76h0M229.35 952.12h0M230.42 949.36h0M231.88 951.91h0M227.82 948.59h0M232.59 951.76h0M229.36 946.2h0M230 944.52h0M232.66 949.21h0M229.38 949.78h0M229.6 948.52h0M230.66 938.74h0M227.83 947.29h0M230.35 950.97h0M231.82 948.19h0M228.4 951.19h0M230.1 949.39h0M231.34 952.34h0M227.31 947.25h0M231.07 949.31h0M233.31 945.25h0M230.11 947.81h0M231 948.43h0M229.93 953.26h0M232.4 943.97h0M228.21 949.19h0M230.7 940.54h0M231.29 951.21h0M228.73 943.35h0M230.83 942.22h0M232.8 950.12h0M233.66 945.43h0M227.83 949.89h0M232.36 949.54h0M231.95 945.52h0M233.52 943.07h0M229.5 942.65h0M230.48 949.08h0M231.58 947.17h0M228.64 947.75h0M233.31 950.27h0M229.53 950.97h0M231.61 943.74h0M233.45 948.4h0M233.73 940.5h0M229.17 945.17h0M231.26 944.94h0M231.33 944.39h0M232.17 949.2h0M231.52 949.8h0M227.05 944.99h0M234.08 947.46h0M230.33 946.18h0M228.41 946.53h0M229.3 948.81h0M229.94 943.15h0M228.36 952.43h0M226.93 951.43h0M229 945.14h0M226.63 952.74h0M234.29 946h0M229.3 945.86h0M229.45 947.9h0M227.86 944.58h0M231.01 947.91h0M228.1 948.72h0M227.34 951.14h0M228.09 945.36h0M228.82 949.77h0M229.85 947.09h0M230.74 947.36h0M227.31 951.96h0M231.73 941.84h0M233.36 944.63h0M229.51 947.12h0M233.27 950h0M229.71 950.91h0M233.6 949.7h0M233.54 948.68h0M230.4 948.39h0M230.44 947.57h0M232.47 944.93h0M228.62 949.33h0M229.8 948.31h0M232.52 945.39h0M230.55 948.7h0M231.48 945.57h0M229.46 944.61h0M228.9 950.3h0M232.3 946.48h0M229.23 949.64h0M230.97 949.44h0M232.72 946.36h0M231.92 944.43h0M228.09 950.49h0M229.04 948.94h0M228.44 948.34h0M232.04 949.31h0M226.92 949.57h0M230.8 942.63h0M229.65 944.16h0M232.37 951.27h0M233.47 946.03h0M228.8 950.55h0M231.52 948.67h0M231.19 944.81h0M233.64 948.07h0M233.5 947.24h0M230.76 946.11h0M230.68 944.26h0M230.06 946.92h0M227.02 945.93h0M226.62 947.61h0M228.94 952.79h0M230.8 944.2h0M233.77 948.06h0M226.85 945.55h0M231.54 949.25h0M230.47 945.97h0M233.17 943.55h0M230.96 947.27h0M233.32 950.45h0M229.67 950.48h0M230.65 943.94h0M231.24 949.16h0M229.42 947.03h0M232.17 946.22h0M232.44 949.11h0M228.97 939.05h0M232.77 952.33h0M228.08 943.97h0M230.64 948.89h0M233.27 947.83h0M226.48 944.98h0M233.5 948.75h0M228.51 954.12h0M232.51 948.64h0M232.25 949.88h0M229.41 946.77h0M231.6 949.7h0M232.72 947.44h0M227.83 945.38h0M229.96 942.68h0M231.29 945.77h0M234.01 946.85h0M231.7 949.06h0M230.19 946.82h0M231.23 944.56h0M232.31 952.27h0M231.64 945.67h0M232.67 947.62h0M226.71 947.47h0M226.53 947.55h0M226.74 943.18h0M227.16 951.91h0M231.28 949.67h0M226.53 946.47h0M234.35 946.1h0M232.55 943.41h0M229.69 945.68h0M228.41 948.75h0M232.9 945.27h0M229.2 946.42h0M234.38 949.88h0M233.2 945.69h0M232.39 949.22h0M231.76 944.63h0M231.97 951.8h0M232.56 945.35h0M232.43 945.39h0M230.09 945.57h0M229.21 953.24h0M231.99 947.96h0M229.77 948.88h0M234.36 949.89h0M233.71 949.75h0M227.56 943.41h0M232.12 930.67h0M228 933.11h0M230.51 935.55h0M229.91 937.17h0" stroke="#8a8a8a" stroke-opacity="0.6" stroke-width="1.5" stroke-linecap="round"/>
<line x1="230.4" x2="230.4" y1="941.24" y2="955.06" stroke="#444" stroke-width="0.6"/>
<rect x="226.3" y="946.12" width="8.2" height="4.06" fill="#bdbdbd" fill-opacity="0.92" stroke="#333" stroke-width="0.6"/>
<line x1="226.3" x2="234.5" y1="948.56" y2="948.56" stroke="#222" stroke-width="1.1"/>
<path d="M238.4 946.69h0M237.12 950.88h0M240.34 952.11h0M241.25 948.89h0M243.24 947.45h0M238.91 948.59h0M244.11 948.85h0M243.55 948.09h0M239.55 950.99h0M243.66 948.27h0M243.45 944.82h0M242.04 952.31h0M237.94 945.48h0M242.51 945.86h0M241.86 949.74h0M238.64 948.9h0M241.94 948.31h0M240.09 950.27h0M239.07 947.66h0M242.8 948.85h0M237.93 948.68h0M238.29 954.25h0M238.25 950.72h0M242.62 947.99h0M237.66 946.65h0M239.11 949.28h0M244.11 950.01h0M242.49 947.01h0M238.63 954.25h0M238.11 946.53h0M242.39 951.84h0M240.66 952.21h0M244.19 949.71h0M242.52 951.32h0M243.94 948.51h0M240.36 951.97h0M244.21 947.11h0M239.14 950.09h0M241 952.17h0M243.35 949.66h0M242.25 948.57h0M240.81 950.51h0M243.88 950.27h0M244.51 948.75h0M237.26 949.83h0M239.17 952.19h0M239.6 949.82h0M239.53 948.55h0M237.66 950.08h0M244.21 948.94h0M240.19 950.87h0M239.5 949.91h0M242.56 950.74h0M244.06 949.24h0M243.12 953.22h0M240.79 936.36h0M240.71 939.61h0" stroke="#f5a000" stroke-opacity="0.9" stroke-width="1.8" stroke-linecap="round"/>
<line x1="240.6" x2="240.6" y1="942.05" y2="954.25" stroke="#444" stroke-width="0.6"/>
<rect x="236.5" y="946.93" width="8.2" height="4.06" fill="#f2aa3c" fill-opacity="0.92" stroke="#333" stroke-width="0.6"/>
<line x1="236.5" x2="244.7" y1="949.37" y2="949.37" stroke="#222" stroke-width="1.1"/>
<path d="M255.93 930.4h0M254.02 913.29h0M256.94 907.11h0M257.01 911.77h0M250.78 913.14h0M252.8 917.16h0M252.25 911.15h0M257.47 923.3h0M254.45 921.79h0" stroke="#2f2fe6" stroke-opacity="0.9" stroke-width="1.8" stroke-linecap="round"/>
<line x1="254.4" x2="254.4" y1="881.08" y2="933.11" stroke="#444" stroke-width="0.6"/>
<rect x="250.3" y="902.22" width="8.2" height="20.33" fill="#a39ff2" fill-opacity="0.92" stroke="#333" stroke-width="0.6"/>
<line x1="250.3" x2="258.5" y1="910.35" y2="910.35" stroke="#222" stroke-width="1.1"/>
<path d="M261.28 918.21h0M261.62 919.35h0M261.8 917.35h0M267.4 914.62h0M266.88 925.41h0M262.04 913.64h0M264.48 922.22h0M268.03 920.12h0M265.67 925.77h0M264.62 922.63h0M266.29 930.51h0M267.72 919.96h0M267.08 901.63h0M266.06 922.81h0M262.18 918.62h0M267.34 924.68h0M266.56 921.47h0M261.67 919.51h0M262.12 922.41h0M267.21 903.77h0M263.65 921.46h0M265.1 907.17h0M262.26 924.81h0M265.97 930.75h0M266.83 917.34h0M261.82 915.36h0M265.26 923.19h0M262 918.25h0M264.16 933.11h0M264.61 904.54h0M261.45 914.51h0M265.56 918.95h0M261.75 917.52h0M266.52 916.34h0M263.12 923.61h0M262.81 925.07h0M261.66 929.18h0M261.83 922.91h0M265.93 924.26h0M262.01 924.33h0M267.46 917.83h0M264.89 918.49h0M265.65 913.29h0M262.35 919.26h0M264.81 919.74h0" stroke="#96cbe3" stroke-opacity="0.9" stroke-width="1.8" stroke-linecap="round"/>
<line x1="264.6" x2="264.6" y1="892.46" y2="933.11" stroke="#444" stroke-width="0.6"/>
<rect x="260.5" y="911.16" width="8.2" height="15.45" fill="#c3e4f0" fill-opacity="0.92" stroke="#333" stroke-width="0.6"/>
<line x1="260.5" x2="268.7" y1="920.1" y2="920.1" stroke="#222" stroke-width="1.1"/>
<path d="M272.31 916.92h0M276.84 921.19h0M276.26 914.41h0M271.31 917.45h0M277.57 917.72h0M271.66 898.34h0M270.91 924.15h0M274.8 914.16h0M278.53 908.91h0M278.14 911.9h0M274.77 924.65h0M272.19 926.33h0M275.83 920.27h0M276.73 904.08h0M273.68 915.16h0M278.72 917.87h0M276.55 949.95h0M274.47 913.08h0M276.04 936.02h0M275 909.51h0M277.65 917.87h0M272.11 910.51h0M274.71 906.3h0M274.57 920.99h0M272.21 911.96h0M278.43 940.01h0M271.51 926.34h0M271.41 914.88h0M276.05 924.18h0M275.22 911.98h0M272.77 947.57h0M271.7 918.41h0M271 903.49h0M272.44 915.01h0M278.54 910.93h0M271.16 904.59h0M271.36 922.33h0M274.3 899.91h0M273.43 883.09h0M276.33 911.13h0M272.64 908.08h0M272.96 913.93h0M278.55 924.35h0M276.9 933.56h0M273.1 907.43h0M278.68 922.3h0M272.24 915.02h0M270.96 931.91h0M272.52 914.65h0M276.15 920.91h0M271.04 917.31h0M277.14 919.86h0M275.81 906.46h0M277.39 911.65h0M275.99 920.05h0M276.53 934.93h0M270.9 913.06h0M275.56 918.81h0M274.36 917.22h0M273.7 909.72h0M272.95 915.27h0M272.37 944.19h0M272.11 916.15h0M277.07 906.7h0M277.22 916.02h0M271.77 918.82h0M278.47 918.97h0M277.75 906.98h0M272.44 900.39h0M276.38 912.5h0M275.91 906.57h0M278.4 902.76h0M277.06 910.63h0M271.46 908.7h0M277.91 930.11h0M278.62 911.87h0M273.74 901.08h0M273.7 918.43h0M277.48 892.44h0M278.71 922.02h0M275.26 901.62h0M273.84 917.94h0M275.81 905.55h0M276.88 915.3h0M277.75 912.9h0M272.48 918.91h0M278.63 912.18h0M275.27 917.36h0M275.22 915.83h0M278.55 918.9h0M274.56 911.11h0M273.05 915.55h0M272.86 909.16h0M278.09 912.91h0M274.42 913.43h0M277.07 914.33h0M273.11 915.86h0M275.36 899.94h0M271.33 920.43h0M274.15 914.16h0M271.83 903.88h0M278.51 901.46h0M272.38 920.99h0M277.23 924.33h0M273.25 915.77h0M274.63 914.82h0M274.72 939h0M273.27 908.22h0M271 905.9h0M275.04 906.87h0M277.78 923.73h0M277.58 924.03h0M273.84 912.99h0M278.21 909.23h0M277.49 899.65h0M277.24 926.61h0M278.37 912.82h0M274.24 924.54h0M277.63 925.39h0M276.11 909.72h0M275.77 922.6h0M274.63 915.48h0M276.64 917.03h0M278.55 919.58h0M277.37 938.99h0M275.07 913.18h0M273.6 922.62h0M271.04 917.52h0M274.8 918.71h0M270.92 921.61h0M278.25 922.65h0M278.32 915.17h0M278.62 917.35h0M274.91 920.1h0M275.07 920.97h0M272.71 914.9h0M274.58 910.09h0M276.73 917.02h0M272.69 923.29h0M271.54 912.77h0M272.77 917.88h0M275.31 911.83h0M276.74 926.99h0M276.72 920.91h0M271.75 915.06h0M272.67 911.8h0M277.09 920.28h0M275.53 899.09h0M274.48 910.55h0M272.38 886.96h0M275.45 910.63h0M274.79 919.52h0M271.2 925.61h0M273.92 937.23h0M270.99 923.98h0M274.94 910.34h0M275.28 923.35h0M278.69 923.16h0M270.99 912.82h0M274.22 909.77h0M278.33 912.31h0M275.53 912.96h0M277.27 902.87h0M276.34 899.85h0M276.43 907.5h0M273.07 917.21h0M276.12 913.07h0M275.14 921.87h0M275.17 929.86h0M275.83 922.43h0M275.3 905.99h0M276.55 930.14h0M278.53 924.68h0M274.32 925.47h0M273.5 922.67h0M274.92 926.44h0M277.49 919.16h0M270.8 917.98h0M271.47 908.27h0M276.85 905.29h0M277.79 910.37h0M271.85 907.66h0M271.79 916.8h0M278.63 911.71h0M272.73 899.27h0M278.79 931.9h0M272.78 924.83h0M278.54 916.64h0M272.66 916.52h0M274 910.14h0M277.91 898.47h0M271.84 908.4h0M274.36 930.04h0M271.25 900.2h0M275.96 920.41h0M273.31 916.89h0M277.29 909.54h0M278.61 929.51h0M274.33 908.96h0M272.32 910.58h0M271.02 916.49h0M273.88 908.28h0M276.15 914.61h0M276.37 914.82h0M275.24 911.22h0M278.06 907.05h0M273.17 912.07h0M274.68 926.98h0M272.14 911.37h0M273.09 914.58h0M272.86 915.76h0M275.52 928.04h0M278.26 923.09h0M271.41 920.48h0M275.03 928.21h0M278.38 915.48h0M274.57 903.39h0M274.36 931.72h0M276.69 908.01h0M275.29 931.31h0M272.51 920.17h0M271.01 915.03h0M272.43 885.17h0M271.65 920.18h0M276.77 923.72h0M271.04 919.05h0M277.77 929.43h0M278.61 893.22h0M277.54 935.59h0M272.4 901.91h0M277.31 929.39h0M272.16 919.63h0M272.18 918.72h0M274 911.13h0M276.37 896.43h0M272.72 922.54h0M275.69 908.9h0M275.64 918.93h0M275.01 932.56h0M276.1 902.76h0M278.58 917.23h0M274.11 926.76h0M278.35 933.06h0M276.2 912.81h0M275.79 914.94h0M272.45 912.04h0M272.63 918.55h0M278.28 897.89h0M276.51 939.47h0M275.06 908.13h0M271.04 927.18h0M271.52 931.37h0M276.98 908.18h0M273.19 921.18h0M275.13 933.02h0M273.83 906.43h0M275.97 922.26h0M271.68 932.4h0M274.78 907.49h0M270.88 921.71h0M278.61 919.65h0M273.87 907.51h0M276.33 921.98h0M274.41 923.88h0M274.94 924.94h0M276.97 918.44h0M274.78 915.53h0M276.33 927.8h0M275.11 909.35h0M278.33 911.29h0M275.13 922.41h0M274.01 924.87h0M273.38 900.61h0M273.78 912.13h0M273.28 917.93h0M274.38 921.78h0M277.14 916.81h0M278.73 918.79h0M274.53 909.81h0M278.75 908.89h0M273.56 917.06h0M275.62 916.23h0M273.02 913.26h0M270.85 918.54h0M273.23 906.39h0M271.45 907.05h0M272.86 921.99h0M272.31 897.96h0M273.77 908.39h0M275.44 925.95h0M278.02 910.1h0M272.08 916.5h0M273.09 895.5h0M272.84 916.11h0M271.71 902.6h0M276.08 927.56h0M272.31 911.87h0M274.48 915.87h0M272.84 932.53h0M273.75 927.72h0M276.48 930.17h0M277.08 915.46h0M274.92 907.5h0M271.04 897.63h0M275.14 903.3h0M276.56 922.01h0M272.03 930.32h0M274.86 915.82h0M274.53 917.09h0M275.19 918.04h0M276.03 918h0M278.26 902.83h0M275.47 924.53h0M277.63 906.79h0M278.71 914.26h0M273.29 902.37h0M271.24 921.17h0M277.67 932.34h0M276.8 928.72h0M276.76 912.55h0M276.24 872.13h0M273.35 872.95h0M274.51 876.2h0" stroke="#8a8a8a" stroke-opacity="0.6" stroke-width="1.5" stroke-linecap="round"/>
<line x1="274.8" x2="274.8" y1="880.26" y2="935.55" stroke="#444" stroke-width="0.6"/>
<rect x="270.7" y="906.28" width="8.2" height="17.89" fill="#bdbdbd" fill-opacity="0.92" stroke="#333" stroke-width="0.6"/>
<line x1="270.7" x2="278.9" y1="916.04" y2="916.04" stroke="#222" stroke-width="1.1"/>
<path d="M281.73 921.08h0M281.48 925.15h0M285.9 928.95h0M288.26 917.12h0M283.18 922.95h0M287.05 917.36h0M282.54 919.82h0M281.66 915.62h0M287.53 925.54h0M281.03 921.74h0M283.42 917.01h0M285.66 927.58h0M281.65 918.26h0M284.4 906.35h0M286.79 919.86h0M286.93 913.12h0M282.77 925.53h0M288.89 918.22h0M288.77 912.43h0M283.32 919.03h0M283.87 910.83h0M284.07 924.34h0M284.71 898.89h0M281.68 909.15h0M287.63 913.51h0M281.34 919.79h0M283.83 915.29h0M283.66 914.1h0M286.95 921.81h0M288.73 918.71h0M287.85 909.11h0M287.31 908.99h0M287.36 917.22h0M286.41 922.86h0M285.65 921.59h0M282.46 931.3h0M284.01 919.09h0M288.92 929.59h0M288.09 930.45h0M285.2 920.65h0M284.68 913.23h0M288.45 914.57h0M284.01 917.1h0M285.11 910.03h0M288.33 929.65h0M285.73 919.2h0M288.63 920.24h0M282.21 922.41h0M288.05 914.29h0M285.77 928.23h0M288.18 923.53h0M284.58 928.38h0M283.68 920.99h0M284.96 910.78h0M281.72 921.93h0M285.7 886.77h0" stroke="#f5a000" stroke-opacity="0.9" stroke-width="1.8" stroke-linecap="round"/>
<line x1="285" x2="285" y1="896.52" y2="934.74" stroke="#444" stroke-width="0.6"/>
<rect x="280.9" y="912.78" width="8.2" height="11.38" fill="#f2aa3c" fill-opacity="0.92" stroke="#333" stroke-width="0.6"/>
<line x1="280.9" x2="289.1" y1="920.1" y2="920.1" stroke="#222" stroke-width="1.1"/>
<path d="M42.6 863.25L42.6 865.95M43.77 863.93L41.43 865.27M43.77 865.27L41.43 863.93" stroke="#222" stroke-width="0.8"/>
<path d="M87 863.25L87 865.95M88.17 863.93L85.83 865.27M88.17 865.27L85.83 863.93" stroke="#222" stroke-width="0.8"/>
<path d="M87 865.95L87 868.65M88.17 866.63L85.83 867.98M88.17 867.98L85.83 866.63" stroke="#222" stroke-width="0.8"/>
<path d="M107.4 863.25L107.4 865.95M108.57 863.93L106.23 865.27M108.57 865.27L106.23 863.93" stroke="#222" stroke-width="0.8"/>
<path d="M131.4 863.25L131.4 865.95M132.57 863.93L130.23 865.27M132.57 865.27L130.23 863.93" stroke="#222" stroke-width="0.8"/>
<path d="M131.4 865.95L131.4 868.65M132.57 866.63L130.23 867.98M132.57 867.98L130.23 866.63" stroke="#222" stroke-width="0.8"/>
<path d="M196.2 863.25L196.2 865.95M197.37 863.93L195.03 865.27M197.37 865.27L195.03 863.93" stroke="#222" stroke-width="0.8"/>
<path d="M196.2 865.95L196.2 868.65M197.37 866.63L195.03 867.98M197.37 867.98L195.03 866.63" stroke="#222" stroke-width="0.8"/>
<path d="M196.2 868.65L196.2 871.35M197.37 869.33L195.03 870.67M197.37 870.67L195.03 869.33" stroke="#222" stroke-width="0.8"/>
<path d="M220.2 863.25L220.2 865.95M221.37 863.93L219.03 865.27M221.37 865.27L219.03 863.93" stroke="#222" stroke-width="0.8"/>
<path d="M220.2 865.95L220.2 868.65M221.37 866.63L219.03 867.98M221.37 867.98L219.03 866.63" stroke="#222" stroke-width="0.8"/>
<path d="M220.2 868.65L220.2 871.35M221.37 869.33L219.03 870.67M221.37 870.67L219.03 869.33" stroke="#222" stroke-width="0.8"/>
<path d="M264.6 863.25L264.6 865.95M265.77 863.93L263.43 865.27M265.77 865.27L263.43 863.93" stroke="#222" stroke-width="0.8"/>
<path d="M264.6 865.95L264.6 868.65M265.77 866.63L263.43 867.98M265.77 867.98L263.43 866.63" stroke="#222" stroke-width="0.8"/>
<path d="M285 863.25L285 865.95M286.17 863.93L283.83 865.27M286.17 865.27L283.83 863.93" stroke="#222" stroke-width="0.8"/>
<path d="M285 865.95L285 868.65M286.17 866.63L283.83 867.98M286.17 867.98L283.83 866.63" stroke="#222" stroke-width="0.8"/>
<rect x="21.2" y="861.5" width="274.6" height="100.5" fill="none" stroke="#444" stroke-width="0.8"/>
<line x1="47.7" x2="47.7" y1="962" y2="963.8" stroke="#333" stroke-width="0.5"/>
<text x="47.7" y="970" font-family='Liberation Sans' font-size="6.6" fill="#333" text-anchor="middle">B Cell</text>
<line x1="92.1" x2="92.1" y1="962" y2="963.8" stroke="#333" stroke-width="0.5"/>
<text x="92.1" y="970" font-family='Liberation Sans' font-size="6.6" fill="#333" text-anchor="middle">CD8+ T Cell</text>
<line x1="136.5" x2="136.5" y1="962" y2="963.8" stroke="#333" stroke-width="0.5"/>
<text x="136.5" y="970" font-family='Liberation Sans' font-size="6.6" fill="#333" text-anchor="middle">CD4+ T Cell</text>
<line x1="180.9" x2="180.9" y1="962" y2="963.8" stroke="#333" stroke-width="0.5"/>
<text x="180.9" y="970" font-family='Liberation Sans' font-size="6.6" fill="#333" text-anchor="middle">Macrophage</text>
<line x1="225.3" x2="225.3" y1="962" y2="963.8" stroke="#333" stroke-width="0.5"/>
<text x="225.3" y="970" font-family='Liberation Sans' font-size="6.6" fill="#333" text-anchor="middle">Neutrophil</text>
<line x1="269.7" x2="269.7" y1="962" y2="963.8" stroke="#333" stroke-width="0.5"/>
<text x="269.7" y="970" font-family='Liberation Sans' font-size="6.6" fill="#333" text-anchor="middle">Dendritic Cell</text>
<text x="306.7" y="898.2" font-family='Liberation Sans' font-size="6.8" fill="#1a1a1a">Copy Number</text>
<rect x="307.6" y="903.4" width="5" height="5" fill="#a39ff2" stroke="#333" stroke-width="0.5"/>
<line x1="307.6" x2="312.6" y1="905.9" y2="905.9" stroke="#222" stroke-width="0.6"/>
<text x="317" y="907.9" font-family='Liberation Sans' font-size="5.7" fill="#1a1a1a">Deep Deletion</text>
<rect x="307.6" y="910.8" width="5" height="5" fill="#c3e4f0" stroke="#333" stroke-width="0.5"/>
<line x1="307.6" x2="312.6" y1="913.3" y2="913.3" stroke="#222" stroke-width="0.6"/>
<text x="317" y="915.3" font-family='Liberation Sans' font-size="5.7" fill="#1a1a1a">Arm−level Deletion</text>
<rect x="307.6" y="918" width="5" height="5" fill="#bdbdbd" stroke="#333" stroke-width="0.5"/>
<line x1="307.6" x2="312.6" y1="920.5" y2="920.5" stroke="#222" stroke-width="0.6"/>
<text x="317" y="922.5" font-family='Liberation Sans' font-size="5.7" fill="#1a1a1a">Diploid/Normal</text>
<rect x="307.6" y="925.4" width="5" height="5" fill="#f2aa3c" stroke="#333" stroke-width="0.5"/>
<line x1="307.6" x2="312.6" y1="927.9" y2="927.9" stroke="#222" stroke-width="0.6"/>
<text x="317" y="929.9" font-family='Liberation Sans' font-size="5.7" fill="#1a1a1a">Arm−level Gain</text>
<text x="357.9" y="867.8" font-family='Liberation Sans' font-size="14.4" fill="#111">F</text>
<text transform="translate(378.0,907.8) rotate(-90)" font-family='Liberation Sans' font-size="6.8" fill="#1a1a1a" text-anchor="middle">Macrophage M0_CIBERSORT</text>
<line x1="392.4" x2="565.3" y1="956.85" y2="956.85" stroke="#f3f3f3" stroke-width="0.45"/>
<line x1="392.4" x2="565.3" y1="926.55" y2="926.55" stroke="#f3f3f3" stroke-width="0.45"/>
<line x1="392.4" x2="565.3" y1="896.25" y2="896.25" stroke="#f3f3f3" stroke-width="0.45"/>
<line x1="392.4" x2="565.3" y1="865.95" y2="865.95" stroke="#f3f3f3" stroke-width="0.45"/>
<line x1="392.4" x2="565.3" y1="941.7" y2="941.7" stroke="#e6e6e6" stroke-width="0.6"/>
<line x1="390.6" x2="392.4" y1="941.7" y2="941.7" stroke="#555" stroke-width="0.5"/>
<text x="390.1" y="943.7" font-family='Liberation Sans' font-size="5.6" fill="#777" text-anchor="end">0.0</text>
<line x1="392.4" x2="565.3" y1="911.4" y2="911.4" stroke="#e6e6e6" stroke-width="0.6"/>
<line x1="390.6" x2="392.4" y1="911.4" y2="911.4" stroke="#555" stroke-width="0.5"/>
<text x="390.1" y="913.4" font-family='Liberation Sans' font-size="5.6" fill="#777" text-anchor="end">0.2</text>
<line x1="392.4" x2="565.3" y1="881.1" y2="881.1" stroke="#e6e6e6" stroke-width="0.6"/>
<line x1="390.6" x2="392.4" y1="881.1" y2="881.1" stroke="#555" stroke-width="0.5"/>
<text x="390.1" y="883.1" font-family='Liberation Sans' font-size="5.6" fill="#777" text-anchor="end">0.4</text>
<line x1="416.5" x2="416.5" y1="853.8" y2="961.5" stroke="#e6e6e6" stroke-width="0.6"/>
<line x1="457.9" x2="457.9" y1="853.8" y2="961.5" stroke="#e6e6e6" stroke-width="0.6"/>
<line x1="499.3" x2="499.3" y1="853.8" y2="961.5" stroke="#e6e6e6" stroke-width="0.6"/>
<line x1="540.7" x2="540.7" y1="853.8" y2="961.5" stroke="#e6e6e6" stroke-width="0.6"/>
<polygon points="416.5,953.06 419,950.79 423,947.76 428,944.73 432,941.7 433.5,937.16 432.8,932.61 430.8,928.07 428,923.52 424.5,918.98 422,915.95 419.5,912.92 417.8,910.64 416.5,908.37 416.5,908.37 415.2,910.64 413.5,912.92 411,915.95 408.5,918.98 405,923.52 402.2,928.07 400.2,932.61 399.5,937.16 401,941.7 405,944.73 410,947.76 414,950.79 416.5,953.06" fill="none" stroke="#a8385f" stroke-width="0.7" stroke-linejoin="round"/>
<path d="M422.69 938.99h0M422.41 920.13h0M418.59 913.85h0M416.07 938.15h0M417.11 934.28h0M413.41 932.23h0M411.73 917.69h0M418.14 937.35h0" stroke="#a8385f" stroke-opacity="0.55" stroke-width="1.3" stroke-linecap="round"/>
<line x1="416.5" x2="416.5" y1="920.79" y2="923.67" stroke="#a8385f" stroke-width="0.7"/>
<line x1="416.5" x2="416.5" y1="936.09" y2="939.88" stroke="#a8385f" stroke-width="0.7"/>
<rect x="412.5" y="923.67" width="8" height="12.42" fill="none" stroke="#a8385f" stroke-width="0.8"/>
<line x1="412.5" x2="420.5" y1="934.12" y2="934.12" stroke="#a8385f" stroke-width="1.1"/>
<polygon points="457.9,953.82 459.9,950.79 462.9,947.76 466.9,944.73 470.9,941.7 472.9,937.16 471.9,932.61 468.9,928.07 465.4,923.52 462.9,918.98 460.7,911.4 459.7,903.83 459.2,896.25 458.9,884.13 458.7,873.53 457.9,865.95 457.9,865.95 457.1,873.53 456.9,884.13 456.6,896.25 456.1,903.83 455.1,911.4 452.9,918.98 450.4,923.52 446.9,928.07 443.9,932.61 442.9,937.16 444.9,941.7 448.9,944.73 452.9,947.76 455.9,950.79 457.9,953.82" fill="none" stroke="#e8892e" stroke-width="0.7" stroke-linejoin="round"/>
<path d="M450.92 940.09h0M453.92 928.85h0M454.95 888.17h0M460.39 908.61h0M464.43 923.27h0M455.96 923.37h0M452.94 933.98h0M450.95 935.5h0M455.63 924.97h0M455.32 934.93h0M460.77 928.02h0M461.4 938.18h0M461.93 940.59h0M459 940.38h0M464.27 933.37h0M461.48 938.55h0M455.72 883.9h0M452.41 919.83h0M462.06 937.51h0M464.14 939.45h0M463.75 931.69h0M463.84 926.6h0M453.38 936.69h0M452.98 930.89h0M451.58 933.51h0M456.58 908.96h0M459.22 940.64h0M456.8 913.74h0M457.81 938.06h0M461.14 933.69h0M461.93 903.02h0M456.98 939.2h0M457.24 935.04h0M464.56 889.41h0M457.73 932.3h0M456.55 930.7h0M456.18 939.45h0M459.68 882.81h0M454.71 937.99h0M455.96 888.48h0" stroke="#e8892e" stroke-opacity="0.55" stroke-width="1.3" stroke-linecap="round"/>
<line x1="457.9" x2="457.9" y1="900.8" y2="925.04" stroke="#e8892e" stroke-width="0.7"/>
<line x1="457.9" x2="457.9" y1="938.67" y2="941.7" stroke="#e8892e" stroke-width="0.7"/>
<rect x="453.9" y="925.04" width="8" height="13.63" fill="none" stroke="#e8892e" stroke-width="0.8"/>
<line x1="453.9" x2="461.9" y1="933.37" y2="933.37" stroke="#e8892e" stroke-width="1.1"/>
<polygon points="499.3,950.03 503.3,948.52 510.3,946.25 516.8,943.97 519.8,941.7 520.3,939.43 516.8,937.16 510.8,934.12 506.8,931.1 504.1,926.55 502.3,918.98 501.5,911.4 500.8,896.25 500.2,881.1 499.3,873.53 499.3,873.53 498.4,881.1 497.8,896.25 497.1,911.4 496.3,918.98 494.5,926.55 491.8,931.1 487.8,934.12 481.8,937.16 478.3,939.43 478.8,941.7 481.8,943.97 488.3,946.25 495.3,948.52 499.3,950.03" fill="none" stroke="#77b52b" stroke-width="0.7" stroke-linejoin="round"/>
<path d="M502.02 906.48h0M502.93 937.24h0M499.1 938.75h0M496.41 910.3h0M500.43 912.17h0M499.96 932.75h0M503.73 935.5h0M503.47 930.53h0M503.89 930.22h0M504.1 927.21h0M505.97 910.42h0M499.71 918.15h0M498.98 927.95h0M502.38 919.28h0M500.43 932.29h0M498.19 924.5h0M502.39 938.85h0M494.54 925.91h0M501.9 936.74h0M492.89 935.04h0M494.17 940.7h0M494.84 937.65h0M497.62 929.34h0M500.56 938.53h0M497.98 940.92h0M498.04 941.02h0M492.8 936.08h0M493.63 932.04h0M505.72 933.59h0M503.68 922.65h0M497.47 929.07h0M505.7 929.67h0M497.22 914.04h0M493.81 941.66h0M500.91 933.28h0M497.56 925.46h0M495.47 924.55h0M505.76 930.74h0M495.94 914.62h0M498.12 919.14h0M506.08 939.41h0M494.01 938.43h0M498.51 929.15h0M492.48 937.2h0M496.13 921.22h0M495.74 906.16h0M496.4 922.82h0M498.94 914.22h0M493.95 926.95h0M499.77 928.03h0M496.46 930.32h0M502.73 931.18h0M492.81 938.95h0M504.73 917.87h0M492.5 934.55h0M500.36 922.26h0M505.06 932.81h0M497.79 932.01h0M496.45 932.77h0M504.01 938.7h0M503.23 933.07h0M499 935.22h0M499.27 937.57h0M503.67 932.99h0M495.52 929.34h0M501.59 905.71h0M506.28 936.06h0M492.98 911.43h0M501.34 931.74h0M494.18 909.32h0M500.85 935.84h0M494.56 938.18h0M497.61 936.22h0M493.11 939.83h0M494.18 940.17h0M496.7 918.88h0M497.54 915.54h0M502.06 939.56h0M505.05 932.46h0M500.99 931.73h0M502.81 933.33h0M494.17 938.58h0M494.81 928.95h0M501.47 928.35h0M494.05 938.89h0M495.64 937.1h0M496.83 919.86h0M502.45 940.36h0M501.84 925.55h0M493.93 919.42h0M503.79 911.47h0M495.59 934.02h0M500.89 934.04h0M503.94 936.8h0M503.56 937.36h0M500.6 933.4h0M502.66 930.67h0M495.13 938.92h0M504.75 939.62h0M498.88 941.22h0M498.3 913.55h0M493.7 940.92h0M497.7 935.53h0M495.86 934.79h0M494.56 932.36h0M492.75 940.08h0M505.43 924.93h0M501.73 928.79h0M501.66 936.1h0M501.74 939.41h0M492.65 937.46h0M493.39 935h0M496.67 931.01h0M496.26 939.53h0M495.67 939.94h0M505.47 934.86h0M492.39 914.32h0M503.21 928.71h0M506.15 928.04h0M497.2 937.41h0M499.18 920.2h0M495.71 939.26h0M497.86 931.14h0M496.58 940.86h0M492.83 930.09h0M499.42 933.55h0M496.69 936.75h0M499.89 940.35h0M504.29 914.51h0M499.11 927.74h0M497.57 939.76h0M496.61 937.57h0M503.87 917.42h0M493.53 934.2h0M496.68 904.46h0M493.45 934.98h0M500.38 931.29h0M493.16 935.41h0M496.3 934.29h0M493.68 939.08h0M500.09 934.12h0M502.94 911.97h0M498.49 924.47h0M505.67 911.91h0M503.67 938.65h0M494.12 933.04h0M501.76 937.11h0M493.19 933.8h0M492.68 916.37h0M504.34 934.23h0M495.54 913.88h0M497.37 933.77h0M503.88 926.83h0M493.63 940.12h0M498.55 933.1h0M493.95 905.58h0M505.11 926.16h0M503.05 930.47h0M505.88 917.49h0M493.75 936.51h0M493.03 922.64h0M500.38 940.21h0M495.32 933.22h0M495.12 933.88h0M495.68 929.92h0M495.78 927.01h0M504.2 903.51h0M503.94 936.32h0M492.83 937.71h0M504.9 927.13h0M503.46 931.16h0M501.02 932.34h0M492.44 924.59h0M500.51 921.4h0M492.68 933.94h0M497.66 935.13h0M506.05 938.06h0M502 899.71h0M499.81 930.71h0M500.61 925.21h0M493.39 932.41h0M497.28 940h0M496.6 940.2h0M502.32 929.22h0M502.85 924.01h0M501.93 918.83h0M500.85 908.13h0M499.53 935.02h0M505.95 930.83h0M497.76 940.59h0M501.44 940.72h0M500.89 900.33h0M500.05 928.33h0M497.54 930.71h0M496.58 932.03h0M494.64 924.5h0M503.03 925.09h0M503.92 928.23h0M498.14 908.61h0M499.7 935.84h0M496.23 927.96h0M492.73 934.38h0M500.18 939.78h0M500.62 938.39h0M501.96 934.76h0M503.98 929.61h0M504.2 927.23h0M505.27 936.52h0M498.97 934.39h0M495.01 921.49h0M500.92 936.02h0M502.91 937.8h0M502.28 933.27h0M501.05 898.21h0M493.74 937h0M495.19 923.25h0M502.7 925.32h0M497.95 937.01h0M500.66 937.38h0M501.87 937.39h0M493.31 915.69h0M496.44 908.92h0M499.01 935.14h0M497.65 939.3h0M499.28 916.9h0M496.44 937.78h0M504.17 927.39h0M495.63 930.41h0M493.33 937.7h0M506.08 931.01h0M497.71 934.19h0M497.28 937.53h0M503.02 941.47h0M498.72 933h0M499.53 940.39h0M498.5 935.46h0M493.49 912.3h0M499.41 925.29h0M497.8 936.58h0M500.61 921.94h0M501.2 912.38h0M498.09 922.77h0M505.11 904.17h0M506.29 938.46h0M494.38 901.17h0M505.91 922.51h0M498.2 931.85h0M501.63 932.44h0M494.67 939.56h0M504.86 931.69h0M492.56 932.77h0M500.68 898.03h0M495.61 936.46h0M492.74 899.09h0M502.85 933.49h0M503.15 937.54h0M502.13 911.82h0M493.85 937.84h0M498.99 933.85h0M505.82 933.85h0M499.93 933.5h0M494.17 937.68h0M503.1 940.86h0M499.36 939.9h0M499.31 940.26h0M497.7 937.67h0M498.6 932.16h0M505.25 940.02h0M505.42 924.31h0M496.52 896.79h0M505.35 938.01h0M499.7 924.35h0M505.24 935.61h0M494.23 921.8h0M499.22 934.69h0M493.14 938.07h0M497.09 929.67h0M496.16 932.89h0M495.97 908.01h0M497.74 913.26h0" stroke="#77b52b" stroke-opacity="0.55" stroke-width="1.3" stroke-linecap="round"/>
<line x1="499.3" x2="499.3" y1="911.4" y2="928.07" stroke="#77b52b" stroke-width="0.7"/>
<line x1="499.3" x2="499.3" y1="940.19" y2="943.22" stroke="#77b52b" stroke-width="0.7"/>
<rect x="495.3" y="928.07" width="8" height="12.12" fill="none" stroke="#77b52b" stroke-width="0.8"/>
<line x1="495.3" x2="503.3" y1="935.64" y2="935.64" stroke="#77b52b" stroke-width="1.1"/>
<polygon points="540.7,952.31 542.2,949.28 545.2,946.25 550.7,941.7 554.7,937.16 555.2,932.61 551.7,928.07 547.7,923.52 544.7,917.46 543.7,908.37 544.7,899.28 544.9,893.22 543.7,887.16 542.2,878.07 540.7,870.5 540.7,870.5 539.2,878.07 537.7,887.16 536.5,893.22 536.7,899.28 537.7,908.37 536.7,917.46 533.7,923.52 529.7,928.07 526.2,932.61 526.7,937.16 530.7,941.7 536.2,946.25 539.2,949.28 540.7,952.31" fill="none" stroke="#8db6e0" stroke-width="0.7" stroke-linejoin="round"/>
<path d="M537.14 938.42h0M546.26 929.29h0M535.62 929.5h0M533.84 939.55h0M545.24 921.58h0M541.94 937.84h0M543.8 937.7h0M546.99 932.7h0M534.6 933.92h0M540.14 936.13h0M546.19 937.72h0M545.51 921.27h0M544.26 931.7h0M544.31 940.54h0M546.33 940.01h0M537.39 934.93h0M534.93 927.71h0M534.81 932.11h0M536.15 925.09h0M540.58 925.74h0M546.47 922.29h0M537.45 934.41h0M541.47 909.42h0M539.57 933.55h0M537.81 884.71h0M546.16 939.98h0M542.51 926.7h0M544.48 933.61h0M535.14 938.76h0M534.4 929.72h0M542.61 915.51h0M537.35 924.35h0M534.6 937.57h0M539.45 934.87h0M537.92 937.42h0M546.25 915.93h0M535.16 931.56h0M541.61 940.27h0M535.21 937.33h0M540.23 907.7h0M544.46 926.02h0M547.52 934.69h0" stroke="#8db6e0" stroke-opacity="0.55" stroke-width="1.3" stroke-linecap="round"/>
<line x1="540.7" x2="540.7" y1="896.25" y2="922" stroke="#8db6e0" stroke-width="0.7"/>
<line x1="540.7" x2="540.7" y1="938.67" y2="941.7" stroke="#8db6e0" stroke-width="0.7"/>
<rect x="536.7" y="922" width="8" height="16.67" fill="none" stroke="#8db6e0" stroke-width="0.8"/>
<line x1="536.7" x2="544.7" y1="934.12" y2="934.12" stroke="#8db6e0" stroke-width="1.1"/>
<path d="M416.5 876.3V874.1H499.3V876.3" fill="none" stroke="#333" stroke-width="0.55"/>
<text x="457.9" y="873.2" font-family='Liberation Sans' font-size="4.5" fill="#222" text-anchor="middle">0.55</text>
<path d="M457.9 868.2V866H499.3V868.2" fill="none" stroke="#333" stroke-width="0.55"/>
<text x="478.6" y="865.1" font-family='Liberation Sans' font-size="4.5" fill="#222" text-anchor="middle">0.33</text>
<path d="M499.3 860.8V858.6H540.7V860.8" fill="none" stroke="#333" stroke-width="0.55"/>
<text x="520" y="857.7" font-family='Liberation Sans' font-size="4.5" fill="#222" text-anchor="middle">0.075</text>
<text x="512.8" y="877.6" font-family='Liberation Sans' font-size="4.0" fill="#222">Kruskal−Wallis, p = 0.29</text>
<rect x="392.4" y="853.8" width="172.9" height="107.7" fill="none" stroke="#555" stroke-width="0.8"/>
<line x1="416.5" x2="416.5" y1="961.5" y2="963.3" stroke="#555" stroke-width="0.5"/>
<text x="416.5" y="978" font-family='Liberation Sans' font-size="5.5" fill="#555" text-anchor="middle" transform="rotate(21 416.5 976)">Deep Deletion</text>
<line x1="457.9" x2="457.9" y1="961.5" y2="963.3" stroke="#555" stroke-width="0.5"/>
<text x="457.9" y="978" font-family='Liberation Sans' font-size="5.5" fill="#555" text-anchor="middle" transform="rotate(21 457.9 976)">Arm−level Deletion</text>
<line x1="499.3" x2="499.3" y1="961.5" y2="963.3" stroke="#555" stroke-width="0.5"/>
<text x="499.3" y="978" font-family='Liberation Sans' font-size="5.5" fill="#555" text-anchor="middle" transform="rotate(21 499.3 976)">Diploid/Normal</text>
<line x1="540.7" x2="540.7" y1="961.5" y2="963.3" stroke="#555" stroke-width="0.5"/>
<text x="540.7" y="978" font-family='Liberation Sans' font-size="5.5" fill="#555" text-anchor="middle" transform="rotate(21 540.7 976)">Arm−level Gain</text>
<text x="568.3" y="868" font-family='Liberation Sans' font-size="14.4" fill="#111">G</text>
<line x1="597" x2="685" y1="963.3" y2="963.3" stroke="#eeeeee" stroke-width="0.6"/>
<text x="595.6" y="965.1" font-family='Liberation Sans' font-size="5.2" fill="#555" text-anchor="end">0</text>
<line x1="597" x2="685" y1="942.98" y2="942.98" stroke="#eeeeee" stroke-width="0.6"/>
<text x="595.6" y="944.78" font-family='Liberation Sans' font-size="5.2" fill="#555" text-anchor="end">2</text>
<line x1="597" x2="685" y1="922.66" y2="922.66" stroke="#eeeeee" stroke-width="0.6"/>
<text x="595.6" y="924.46" font-family='Liberation Sans' font-size="5.2" fill="#555" text-anchor="end">4</text>
<line x1="597" x2="685" y1="902.34" y2="902.34" stroke="#eeeeee" stroke-width="0.6"/>
<text x="595.6" y="904.14" font-family='Liberation Sans' font-size="5.2" fill="#555" text-anchor="end">6</text>
<line x1="597" x2="685" y1="882.02" y2="882.02" stroke="#eeeeee" stroke-width="0.6"/>
<text x="595.6" y="883.82" font-family='Liberation Sans' font-size="5.2" fill="#555" text-anchor="end">8</text>
<line x1="597" x2="685" y1="861.7" y2="861.7" stroke="#eeeeee" stroke-width="0.6"/>
<text x="595.6" y="863.5" font-family='Liberation Sans' font-size="5.2" fill="#555" text-anchor="end">10</text>
<text transform="translate(581.2,912.1) rotate(-90)" font-family='Liberation Sans' font-size="6.4" fill="#444" text-anchor="middle" textLength="64.8" lengthAdjust="spacingAndGlyphs">log(TPM+1) of GPR35</text>
<text x="648" y="860.3" font-family='Liberation Sans' font-size="5.6" fill="#444" text-anchor="middle" textLength="24.7" lengthAdjust="spacingAndGlyphs">F=152.63</text>
<text x="648.8" y="866.8" font-family='Liberation Sans' font-size="5.6" fill="#444" text-anchor="middle" textLength="22.4" lengthAdjust="spacingAndGlyphs">p&lt;1e-15</text>
<line x1="624.5" x2="624.5" y1="929.5" y2="963.5" stroke="#3f78bf" stroke-width="0.9"/>
<line x1="620.5" x2="628.8" y1="929.5" y2="929.5" stroke="#3f78bf" stroke-width="0.9"/>
<line x1="620.5" x2="628.8" y1="963.5" y2="963.5" stroke="#3f78bf" stroke-width="0.9"/>
<rect x="616.3" y="943.7" width="16.4" height="17.6" fill="#a7c3e6" stroke="#3f78bf" stroke-width="0.9"/>
<line x1="616.3" x2="632.7" y1="951.1" y2="951.1" stroke="#3f78bf" stroke-width="0.9"/>
<g font-family='Liberation Sans' font-size="7.0">
<text x="612.4" y="917.1" fill="#2e6db4">STAD</text><text x="612.6" y="925.3" fill="#2e6db4">Tumor</text>
<text x="634.6" y="938.6" fill="#f07f2e">STAD</text><text x="634.6" y="946.8" fill="#f07f2e">Normal</text>
<text x="656.2" y="931.1" fill="#2ca040">Stomach</text>
</g>
<line x1="639.7" x2="655.8" y1="963.5" y2="963.5" stroke="#f08a3c" stroke-width="0.9"/>
<path d="M647.8 950.9v1.4M647.8 955.7v1.2M647.8 957.6v1.4" stroke="#f07f2e" stroke-width="1.9" stroke-linecap="round"/>
<line x1="663" x2="679.2" y1="963.5" y2="963.5" stroke="#35a245" stroke-width="0.9"/>
<path d="M671 949.6v6M671 959.3v4.4" stroke="#2ca040" stroke-width="1.7" stroke-linecap="round"/>
<text x="647.6" y="975.0" font-family='Liberation Sans' font-size="5.6" fill="#555" text-anchor="middle" textLength="43.1" lengthAdjust="spacingAndGlyphs">Macrophages.M0</text>
</svg></body></html>
